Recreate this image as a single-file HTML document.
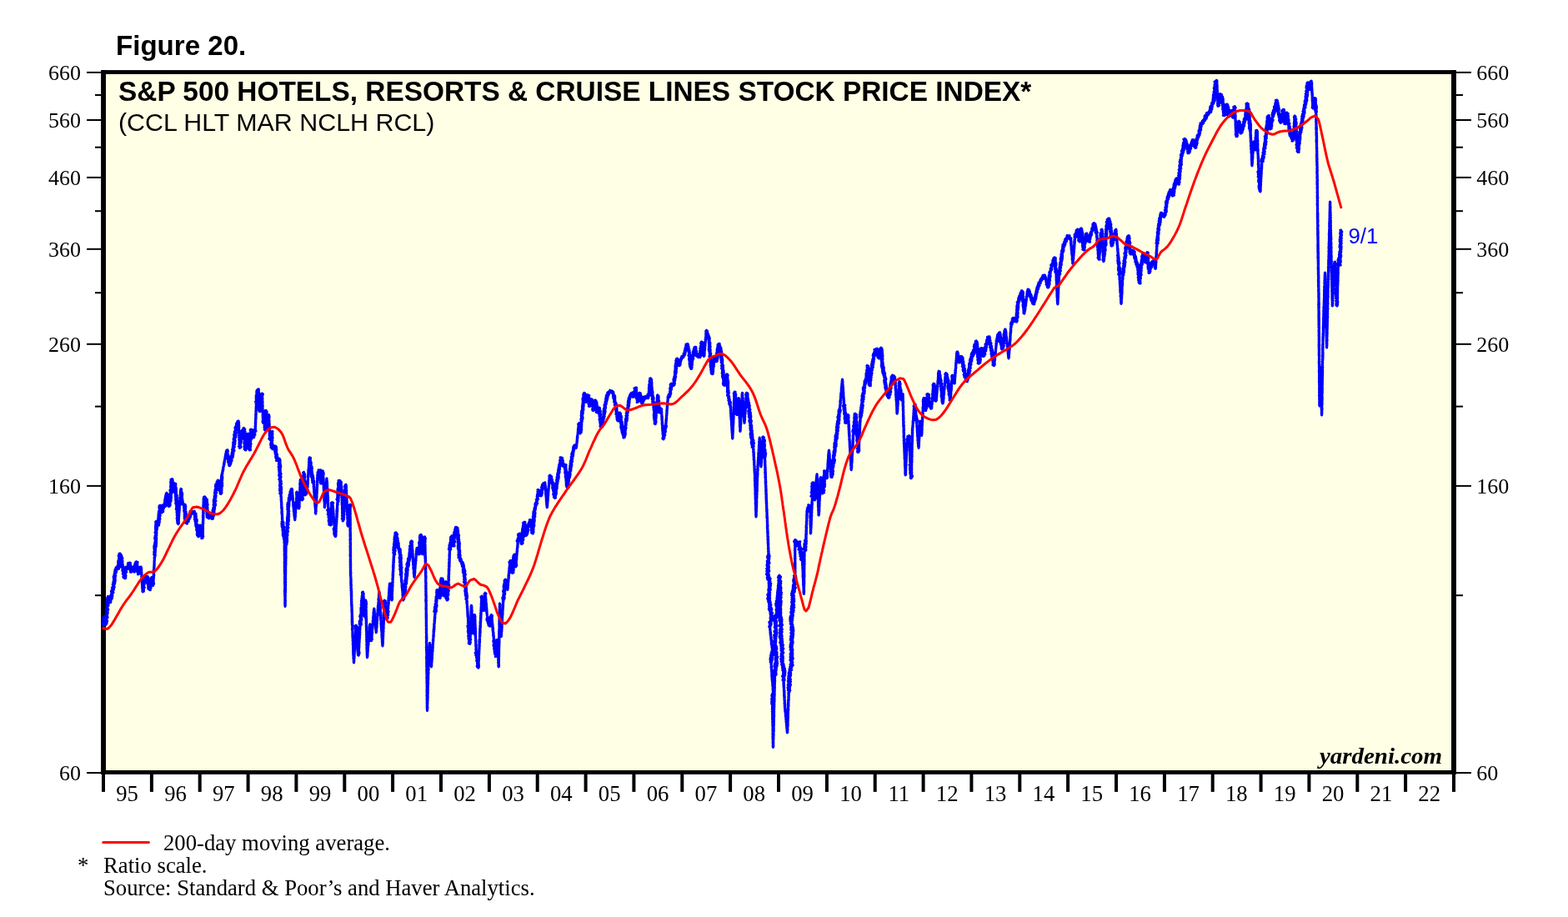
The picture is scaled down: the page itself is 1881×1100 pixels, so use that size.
<!DOCTYPE html>
<html><head><meta charset="utf-8"><title>Figure 20</title>
<style>
html,body{margin:0;padding:0;background:#fff;}
body{width:1881px;height:1100px;position:relative;overflow:hidden}
.ax{font-family:"Liberation Serif",serif;font-size:26px;fill:#000}
.ft{font-family:"Liberation Serif",serif;font-size:26.7px;fill:#000}
.hb{font-family:"Liberation Sans",sans-serif;font-weight:bold;fill:#000}
.hr{font-family:"Liberation Sans",sans-serif;fill:#000}
.yd{font-family:"Liberation Serif",serif;font-style:italic;font-weight:bold;font-size:27px;fill:#000}
</style></head><body>
<svg width="1881" height="1100" viewBox="0 0 1881 1100" style="position:absolute;left:0;top:0">
<rect x="0" y="0" width="1881" height="1100" fill="#ffffff"/>
<rect x="124.5" y="86.5" width="1620.0" height="840.5" fill="#ffffe6"/>
<rect x="121" y="84.1" width="1626" height="4.8" fill="#000"/>
<rect x="121" y="924" width="1626" height="4.9" fill="#000"/>
<rect x="121.1" y="84.1" width="5.9" height="844.8" fill="#000"/>
<rect x="1741" y="84.1" width="5.9" height="844.8" fill="#000"/>
<clipPath id="cp"><rect x="122" y="88" width="1620" height="837"/></clipPath>
<g clip-path="url(#cp)">
<polyline fill="none" stroke="#0000ff" stroke-width="3" stroke-linejoin="round" stroke-linecap="round" points="124.0,750.0 123.4,749.0 125.3,748.6 123.4,747.2 125.0,747.4 124.0,745.6 125.2,745.4 123.9,743.7 125.4,744.0 123.9,742.0 126.0,742.6 123.9,741.1 126.5,741.0 124.8,739.6 125.5,739.0 124.8,740.5 126.3,740.0 124.7,741.8 126.7,742.0 125.3,743.2 127.0,743.3 125.2,745.1 126.9,745.0 125.0,746.8 126.9,746.3 125.3,748.5 127.5,748.1 125.1,749.4 126.5,750.0 125.8,748.5 127.4,749.0 126.4,747.1 128.1,747.7 125.9,745.8 128.3,746.2 126.4,744.2 128.7,745.0 126.7,742.5 128.3,743.2 126.8,740.7 128.0,741.0 129.2,740.5 127.3,738.9 128.6,739.1 127.6,737.8 128.7,737.9 127.7,736.2 129.1,736.4 127.8,734.5 129.4,734.9 127.2,732.5 129.2,733.0 127.7,731.0 129.9,731.3 128.0,730.1 129.3,730.0 127.7,728.5 128.8,728.0 129.3,727.6 128.0,725.9 130.2,726.3 128.0,724.3 130.0,724.2 127.7,722.6 130.3,723.3 128.3,721.4 129.7,721.5 128.6,720.1 129.9,719.6 128.5,718.5 129.8,718.0 128.8,716.7 129.9,717.1 129.4,715.5 130.6,715.8 129.1,717.5 130.8,717.4 129.1,719.7 131.3,718.6 130.1,720.2 131.6,720.3 129.9,722.0 131.8,721.3 131.5,723.0 132.6,722.7 131.0,721.3 133.0,721.9 131.1,719.2 133.2,719.9 132.1,717.8 133.8,718.8 132.4,716.8 134.5,717.6 132.4,714.7 133.8,715.0 135.1,715.1 133.4,712.9 135.0,712.8 133.9,711.5 135.2,711.8 133.4,709.7 136.1,710.6 133.7,708.2 135.8,708.3 134.7,706.9 136.5,707.4 134.4,705.0 136.8,705.7 135.4,703.4 137.3,704.2 136.2,702.5 135.2,701.2 137.1,701.7 135.7,699.5 137.9,700.0 135.9,697.8 137.9,698.3 136.3,697.1 138.2,697.3 136.4,695.0 138.5,695.7 136.4,693.7 137.9,693.6 136.1,692.0 138.4,692.9 136.7,690.4 138.8,690.8 137.0,689.4 138.5,689.6 137.2,687.8 138.0,687.5 138.8,687.7 137.6,685.4 139.6,686.3 138.0,683.5 139.9,684.4 138.3,682.7 140.2,682.6 139.1,680.7 140.4,681.3 140.0,680.0 141.4,679.5 140.4,682.2 142.3,680.6 142.0,682.5 142.6,682.3 141.4,680.7 143.4,680.8 141.3,678.8 143.6,679.2 141.4,677.5 143.4,677.9 141.7,676.0 143.5,676.6 141.6,674.2 144.1,674.6 141.9,672.6 144.1,673.0 142.4,671.6 143.6,671.5 142.6,669.9 144.4,670.6 142.7,668.3 144.4,668.5 142.1,666.6 144.1,667.6 142.7,665.5 145.0,666.1 143.1,664.1 143.8,663.8 143.1,665.1 144.9,664.8 143.4,666.4 145.7,666.2 144.5,668.1 146.2,667.7 145.0,670.2 145.8,670.0 147.0,669.8 145.4,671.9 146.6,671.6 145.5,673.3 147.1,673.0 145.2,675.1 147.1,674.6 145.7,677.0 147.3,676.9 145.8,678.3 147.5,677.7 146.0,680.2 147.7,679.4 146.8,681.7 148.3,681.3 147.5,682.5 146.7,684.2 148.5,683.8 147.0,685.1 148.6,685.3 147.7,686.5 149.0,686.6 147.3,688.2 149.5,688.2 147.9,689.4 149.5,689.9 147.9,691.4 149.7,691.0 148.0,692.6 150.5,692.4 149.5,693.8 150.5,693.8 148.9,691.7 150.9,692.4 149.1,689.9 151.1,690.6 149.3,688.8 150.7,688.6 149.7,686.9 151.1,687.1 149.9,685.3 151.8,686.1 149.9,684.3 151.5,684.3 150.3,682.6 151.7,683.2 149.7,680.9 151.8,681.7 151.2,680.0 152.3,679.9 151.9,681.9 153.4,680.9 153.2,682.5 154.1,682.3 153.1,680.7 154.3,680.7 153.5,679.4 154.9,679.1 153.3,677.3 155.6,678.1 153.6,675.5 155.6,676.2 155.0,675.0 156.5,675.3 154.2,677.3 156.0,676.4 154.4,678.8 156.9,677.8 155.4,680.1 157.1,679.3 155.2,682.0 157.5,680.8 155.6,683.3 157.5,683.1 156.4,684.4 157.7,683.9 156.4,686.2 157.5,686.2 156.8,684.6 158.9,685.0 157.1,682.9 159.4,683.9 157.7,682.0 160.1,682.1 158.7,680.4 159.5,680.0 158.6,681.3 161.0,680.4 159.3,682.9 161.2,682.3 159.5,684.7 161.8,684.3 160.4,685.8 161.2,686.2 160.3,685.0 162.5,684.9 161.2,683.6 162.9,683.9 161.0,681.9 163.1,682.1 161.5,680.5 163.7,680.4 161.3,678.2 163.3,678.9 161.8,676.6 164.0,677.3 162.6,675.2 164.1,675.9 163.0,674.0 163.8,673.8 162.6,674.8 165.2,674.6 162.9,676.8 164.9,675.9 163.5,677.7 165.0,677.8 163.8,679.4 165.3,679.4 164.1,681.3 165.5,680.5 163.9,682.3 166.5,681.9 164.1,684.0 166.3,683.8 164.3,685.7 166.5,685.3 165.2,686.7 166.6,686.4 165.4,688.9 166.2,688.8 165.8,687.6 167.6,687.8 166.2,685.5 168.4,686.9 166.5,684.0 169.0,685.3 166.9,683.2 169.3,683.7 167.4,681.3 169.4,681.7 167.8,680.2 169.2,680.0 169.0,680.9 169.6,681.3 169.0,682.3 169.8,682.9 169.2,683.9 169.7,684.4 169.4,685.5 169.9,685.9 169.3,687.0 170.0,687.4 169.6,688.3 170.1,689.0 169.7,689.8 170.2,690.3 169.7,691.4 170.3,691.9 169.9,692.9 170.3,693.4 169.8,694.3 170.5,694.8 169.9,695.8 170.6,696.4 170.2,697.4 170.8,697.8 170.1,698.8 170.7,699.3 170.2,700.4 170.9,701.0 170.5,702.0 171.1,702.3 170.4,703.3 171.0,704.0 170.6,704.9 171.3,705.3 170.7,706.5 171.3,706.8 171.0,708.0 171.4,708.3 170.9,709.3 171.2,710.0 170.8,709.0 172.5,709.2 171.0,707.6 172.6,707.6 170.9,706.0 172.8,705.6 171.2,704.3 173.4,704.7 170.9,702.7 172.9,702.8 171.0,701.0 173.2,701.1 171.6,699.6 173.5,699.8 171.7,697.8 173.5,698.1 172.2,696.8 174.1,696.8 172.0,695.0 173.2,695.0 174.5,695.1 173.2,692.7 175.7,694.1 174.7,691.4 176.3,693.1 176.2,691.2 177.3,691.7 175.9,693.2 177.7,692.5 176.2,694.7 177.6,694.0 176.5,695.8 177.8,696.0 176.2,698.2 178.7,696.8 176.5,699.2 178.5,698.5 176.9,700.4 179.2,700.3 177.5,702.0 179.1,702.2 177.9,703.5 180.1,703.4 177.6,705.0 179.8,704.4 178.0,706.6 179.9,706.3 179.5,707.5 180.4,707.7 179.1,705.6 181.1,705.5 179.1,703.7 181.2,704.0 179.7,702.9 181.6,702.7 179.3,700.6 181.3,701.1 179.3,699.3 181.4,700.0 180.1,698.2 181.4,698.5 179.8,696.3 182.5,696.5 180.6,695.0 182.7,695.8 180.7,693.7 182.5,693.8 181.8,692.5 183.2,692.9 180.9,694.9 183.4,693.9 181.4,696.1 183.3,695.9 181.5,697.4 183.5,697.1 182.3,698.8 183.6,698.9 182.5,701.2 184.7,699.9 182.9,701.9 183.8,702.5 183.6,701.6 184.2,701.1 183.7,700.1 184.2,699.6 183.6,698.5 184.3,698.0 183.7,697.1 184.3,696.5 183.8,695.6 184.3,695.0 184.0,693.9 184.5,693.5 184.0,692.3 184.6,691.9 184.0,690.9 184.8,690.4 184.1,689.3 184.8,689.1 184.3,688.0 184.7,687.3 184.2,686.4 185.0,685.9 184.3,684.9 184.9,684.4 184.3,683.4 185.0,682.9 184.6,681.9 185.0,681.3 184.6,680.3 185.2,679.7 184.8,678.8 185.3,678.2 184.8,677.3 185.4,676.8 184.9,675.8 185.4,675.3 184.9,674.3 185.4,673.8 185.0,672.7 185.5,672.3 185.1,671.2 185.6,670.7 185.0,669.5 185.7,669.1 185.1,668.2 185.5,667.5 186.0,667.5 184.7,665.2 186.5,666.0 184.8,664.3 186.2,664.2 184.7,662.1 186.4,662.8 185.1,661.0 186.5,661.0 185.0,659.1 186.6,659.6 184.9,657.5 186.7,657.8 184.8,656.0 187.1,656.2 184.9,655.0 187.5,655.2 185.1,653.7 187.5,653.4 185.6,651.6 187.7,651.8 185.8,650.5 187.5,650.5 186.0,649.1 187.8,649.4 186.2,647.3 187.9,647.1 185.6,646.1 187.8,646.1 185.8,644.5 187.8,644.6 186.1,642.6 187.0,642.5 187.9,642.2 186.6,640.4 188.0,640.5 186.0,638.7 188.1,638.9 186.4,637.8 187.9,637.6 186.8,636.0 188.3,635.7 186.4,634.8 188.6,634.9 186.6,633.3 188.5,633.0 186.3,631.7 188.9,632.0 186.6,629.6 188.4,630.4 186.9,627.9 189.1,628.3 186.7,626.4 188.4,626.9 186.8,625.6 188.0,625.0 187.1,626.4 189.7,625.9 188.0,628.3 189.8,627.4 188.6,629.2 190.2,628.9 190.0,630.0 190.7,630.1 189.1,627.6 190.8,628.4 189.7,626.4 191.4,626.6 189.1,624.8 191.4,625.5 189.9,623.0 191.6,623.5 189.5,622.0 192.1,622.2 190.0,620.1 191.7,620.3 189.8,619.1 192.2,618.8 190.0,616.8 192.1,617.6 190.4,616.1 191.7,615.6 190.3,614.2 192.3,614.8 190.8,612.9 192.5,612.5 191.1,611.3 192.2,611.2 191.0,609.5 192.7,609.6 190.8,608.1 192.5,608.6 191.2,606.8 192.0,606.2 191.6,607.7 193.6,606.7 191.8,608.9 193.2,608.5 192.0,610.4 194.1,610.0 192.0,612.3 194.2,611.1 193.2,613.4 194.7,613.1 193.6,615.1 194.2,615.0 193.9,613.7 195.8,613.8 194.1,612.0 195.8,612.6 193.8,610.8 195.9,610.8 194.8,608.8 196.6,609.7 195.2,607.3 196.9,607.9 194.8,605.9 196.8,606.0 196.2,605.0 197.2,605.2 196.5,607.3 198.5,605.5 198.0,607.5 199.2,607.1 197.2,605.5 199.4,605.8 197.7,603.8 199.8,604.0 197.3,602.7 199.4,602.4 197.6,600.4 200.0,601.0 197.7,599.3 199.7,599.8 198.1,597.5 200.3,598.4 198.4,595.8 200.5,596.8 198.7,594.4 200.6,594.7 199.1,593.0 200.4,593.6 199.3,591.9 200.0,591.2 199.6,592.9 201.0,592.6 199.9,593.7 201.6,593.6 199.5,595.9 201.2,595.3 200.0,597.5 202.1,596.5 200.5,599.0 202.5,598.0 200.7,600.0 202.0,600.4 200.3,602.2 202.7,601.2 200.8,603.3 202.5,603.5 200.9,604.8 202.9,604.7 201.8,606.2 203.1,606.0 202.5,607.5 203.4,607.2 201.5,605.3 204.2,606.0 202.6,604.0 204.1,604.5 202.7,602.1 204.5,602.5 202.5,601.0 205.1,601.0 203.6,599.5 205.3,600.1 203.9,597.8 204.5,597.5 205.5,597.5 204.0,595.5 205.5,596.0 204.0,593.6 205.5,593.9 203.8,592.4 205.5,592.7 204.4,590.7 206.1,591.4 204.1,589.5 206.0,589.5 203.9,588.1 206.5,587.7 204.7,586.5 206.6,586.5 204.6,584.4 206.2,584.9 204.6,583.0 206.7,583.6 204.9,581.8 206.3,582.2 204.7,579.9 206.5,580.3 204.7,578.5 206.5,578.8 204.8,577.3 206.7,577.1 205.0,575.2 206.8,575.4 206.2,574.5 207.0,574.9 205.5,576.3 207.3,576.6 205.3,578.4 207.2,577.5 206.2,579.5 208.2,579.1 205.8,581.2 207.7,580.9 206.6,582.5 208.0,582.9 206.5,584.6 208.5,584.0 206.4,585.9 208.2,585.5 206.8,587.6 209.0,587.2 206.8,589.2 208.8,588.9 208.0,590.0 209.2,590.2 207.2,587.6 209.7,588.5 207.6,586.3 209.5,586.8 208.4,584.9 210.2,585.5 208.2,583.4 210.2,583.6 208.5,581.8 210.7,582.5 209.2,580.1 210.0,580.0 208.9,581.2 211.0,580.6 209.7,582.8 210.9,582.3 209.0,584.3 210.9,584.0 209.5,586.0 211.4,585.4 209.3,587.4 211.4,586.7 210.0,589.0 211.5,588.4 210.2,590.7 211.6,590.5 210.2,591.8 211.5,591.7 210.2,593.5 211.9,593.3 210.5,595.1 212.5,594.6 210.6,596.6 212.2,596.4 210.8,598.1 212.6,597.5 210.6,599.5 212.2,598.8 210.9,601.1 212.9,600.4 210.9,602.3 212.8,602.5 210.7,603.9 213.2,603.9 212.0,605.0 211.3,606.0 213.0,606.3 211.7,607.9 212.9,607.8 211.5,609.3 213.2,609.0 211.3,610.7 213.7,610.3 212.0,612.6 213.8,611.9 212.0,614.2 213.7,614.1 212.2,615.8 213.8,615.4 212.3,616.7 213.6,616.5 212.2,618.2 214.3,618.0 212.4,620.4 214.1,619.6 212.1,621.9 214.4,621.1 212.6,623.3 214.3,622.7 212.5,625.0 214.4,624.6 212.8,625.9 214.5,626.3 212.8,627.4 214.6,627.5 213.8,628.8 214.1,628.2 213.7,627.0 214.2,626.6 213.7,625.5 214.3,625.1 213.7,624.1 214.5,623.6 214.1,622.5 214.6,622.2 214.1,620.9 214.7,620.5 214.1,619.6 214.8,619.1 214.3,617.9 214.9,617.5 214.4,616.4 214.9,616.0 214.5,614.9 215.2,614.4 214.6,613.4 215.2,612.9 214.8,611.8 215.4,611.5 214.9,610.4 215.4,609.9 215.0,608.8 215.5,608.5 215.0,607.3 215.6,606.8 215.3,605.9 215.9,605.4 215.3,604.2 216.0,603.9 215.4,602.8 216.1,602.4 215.5,601.4 216.2,600.8 215.6,599.9 216.2,599.2 215.7,598.1 216.4,597.7 215.8,596.7 216.5,596.2 216.1,595.2 216.6,594.7 216.1,593.6 216.6,593.2 216.4,592.3 216.9,591.7 216.3,590.7 216.9,590.2 216.5,589.0 217.2,588.7 216.6,587.7 217.2,587.1 217.0,586.2 217.7,586.9 216.7,588.4 217.8,587.6 216.7,590.0 217.9,589.9 216.3,591.1 218.6,591.2 217.0,593.0 218.7,592.2 216.6,593.9 218.8,593.8 217.0,596.1 218.6,595.1 216.9,596.9 218.5,596.9 216.9,598.4 218.9,598.3 217.6,600.5 219.2,600.4 217.6,601.8 219.3,601.3 217.9,603.5 219.4,602.9 217.7,604.7 218.8,605.0 219.6,603.5 220.4,607.0 221.2,605.0 222.3,605.4 220.8,607.4 222.5,606.5 220.7,608.6 222.9,607.9 220.6,609.8 222.5,609.4 220.9,611.6 222.8,610.9 220.6,612.8 222.4,613.0 221.1,614.6 223.2,613.9 221.6,616.2 223.3,615.4 221.2,617.3 223.5,617.0 221.2,619.4 223.1,619.1 221.5,620.8 223.1,620.1 221.2,621.8 223.6,621.6 221.8,623.2 223.4,623.1 221.6,625.0 223.4,624.5 221.7,626.3 223.9,625.9 223.0,627.5 224.5,628.1 223.4,625.2 225.1,626.2 224.7,624.0 226.3,625.4 226.2,623.8 225.7,622.3 227.3,622.5 225.7,620.9 227.7,621.6 226.3,619.7 228.6,620.1 227.0,618.4 228.6,619.0 227.2,616.5 229.5,617.1 227.7,615.2 230.3,616.2 228.1,613.3 229.5,613.8 230.2,614.7 231.4,613.5 231.9,615.1 233.2,613.1 233.8,615.0 233.0,616.7 235.2,616.3 233.1,617.8 234.8,617.2 233.6,619.5 235.4,618.7 233.5,621.0 235.5,621.0 233.4,623.1 235.5,622.7 234.3,624.0 236.3,623.4 234.0,625.4 236.4,625.2 234.4,627.7 235.5,627.5 236.1,628.1 234.6,630.0 236.9,629.4 235.0,631.4 236.7,631.0 235.5,632.4 237.2,632.6 235.8,633.9 237.6,634.3 235.6,635.6 237.3,635.1 236.3,637.7 238.3,636.6 236.6,638.8 237.8,638.2 236.2,640.6 238.4,640.2 236.5,642.0 238.8,641.9 237.2,643.1 238.0,643.8 237.0,642.3 238.9,643.1 237.7,641.0 239.2,641.0 237.5,639.4 239.4,639.7 238.2,637.5 239.7,638.6 238.7,636.0 240.4,636.5 238.6,634.9 240.4,634.9 239.0,632.8 241.3,634.1 239.5,631.9 241.5,631.8 239.3,630.3 240.5,630.0 239.3,631.0 241.9,631.1 240.3,632.4 242.2,632.5 240.5,634.3 242.5,634.3 240.4,635.7 242.1,635.4 240.5,637.3 242.3,637.6 240.9,639.1 242.7,639.0 241.1,640.8 243.4,640.2 241.7,641.8 243.6,641.9 241.5,643.4 243.9,643.5 241.7,645.7 243.0,645.5 242.8,644.7 243.4,644.1 242.7,643.1 243.3,642.7 242.9,641.7 243.4,641.1 243.0,640.1 243.4,639.6 243.0,638.5 243.6,638.2 243.0,637.0 243.5,636.6 243.1,635.4 243.7,635.0 243.1,634.0 243.6,633.4 243.0,632.6 243.6,631.9 243.2,630.9 243.6,630.4 243.2,629.5 243.7,629.0 243.2,627.9 243.9,627.4 243.2,626.4 243.8,625.8 243.4,624.9 243.9,624.3 243.4,623.5 244.0,623.0 243.5,621.9 244.1,621.3 243.4,620.3 244.0,619.9 243.4,618.8 244.1,618.5 243.5,617.4 244.1,616.8 243.6,615.7 244.3,615.4 243.6,614.2 244.1,613.8 243.6,612.7 244.2,612.3 243.7,611.3 244.3,610.7 243.8,609.8 244.3,609.2 243.7,608.2 244.5,607.8 243.8,606.6 244.6,606.1 243.9,605.3 244.6,604.7 244.0,603.6 244.6,603.1 244.0,602.2 244.7,601.6 244.1,600.6 244.6,600.2 244.0,599.1 244.6,598.6 244.2,597.7 244.6,597.0 244.5,596.2 245.6,595.8 245.2,598.0 246.7,596.9 246.1,599.7 247.5,598.8 248.5,598.9 247.0,600.9 248.6,600.5 246.8,602.2 248.6,602.2 247.2,603.7 248.8,603.4 247.5,605.1 249.3,605.2 247.2,606.8 249.0,606.1 247.6,608.5 249.0,608.4 247.2,609.7 249.0,609.6 247.7,611.5 249.2,611.3 247.4,613.0 249.4,612.7 248.0,614.4 249.9,613.7 247.8,615.8 250.2,615.3 248.0,617.3 250.3,616.8 248.0,618.5 250.5,618.9 248.2,620.4 250.3,619.6 249.5,621.2 250.7,621.9 250.0,618.6 251.9,620.9 251.3,618.2 252.5,618.8 251.9,620.3 254.0,619.4 253.0,621.7 255.1,620.5 254.5,622.5 255.5,622.3 254.1,620.6 255.5,620.8 254.0,619.3 256.4,619.2 254.0,617.1 256.7,617.6 254.7,615.6 256.1,615.9 254.8,614.4 257.1,615.1 255.1,612.5 257.0,613.3 255.2,611.5 257.2,611.9 255.7,609.6 257.7,610.4 256.2,608.6 257.7,608.9 257.0,607.5 256.1,605.9 258.5,606.5 256.4,604.6 258.7,604.9 256.4,602.9 258.1,603.3 256.2,601.4 258.5,601.6 256.4,600.0 259.0,600.9 256.6,598.7 258.5,598.7 257.1,597.1 258.7,597.1 257.1,595.5 259.0,596.3 257.3,594.5 259.2,594.6 257.7,592.4 259.0,592.7 257.4,591.0 259.7,591.1 257.8,589.5 259.5,589.9 258.0,587.6 259.9,588.3 258.5,586.9 260.3,586.5 258.6,585.3 260.2,585.6 258.3,583.2 260.0,583.3 259.5,582.5 258.7,581.0 261.2,581.6 259.9,579.7 261.3,580.4 260.1,577.9 262.2,578.5 261.2,576.1 262.0,576.2 261.2,578.0 263.1,577.0 261.7,578.6 263.8,578.2 261.9,580.8 264.0,580.2 262.0,582.4 264.0,581.2 262.5,583.4 264.5,583.2 262.8,585.3 264.5,584.3 263.1,586.1 264.7,586.3 262.7,587.8 265.1,587.8 263.4,589.3 265.3,589.3 264.0,591.1 265.5,590.7 264.2,592.1 265.0,592.5 264.4,591.7 266.1,591.3 264.5,589.6 265.7,589.8 264.0,588.6 266.1,588.8 264.1,587.0 266.1,587.2 264.6,584.9 266.1,585.8 264.5,584.0 266.4,583.7 264.4,582.5 266.9,582.6 264.8,581.0 266.7,580.7 264.5,579.6 266.7,579.5 265.1,577.6 266.6,578.1 264.9,576.4 266.7,576.1 265.3,574.5 266.8,575.1 265.5,573.2 266.9,573.5 265.4,572.2 266.9,571.7 265.6,570.1 266.2,570.0 266.6,569.4 266.2,568.2 267.0,568.0 266.6,566.9 267.1,566.4 266.8,565.4 267.5,565.0 267.1,563.9 267.9,563.4 267.4,562.4 268.0,562.0 267.6,560.8 268.2,560.3 268.0,559.4 268.6,558.9 268.4,557.9 268.9,557.4 268.4,556.3 269.2,555.9 268.8,554.8 269.4,554.3 269.0,553.2 269.7,552.8 269.3,551.8 269.9,551.3 269.7,550.3 270.2,550.0 269.9,548.9 270.6,548.4 270.1,547.2 270.8,546.8 270.4,545.8 271.3,545.5 270.7,544.2 271.5,543.9 271.2,542.8 271.7,542.4 271.2,541.4 272.1,540.8 271.9,540.0 273.1,539.8 271.5,542.1 273.6,541.4 271.5,543.4 273.1,543.3 272.0,544.8 273.7,545.0 272.0,546.8 273.9,546.4 272.5,548.1 274.8,547.7 272.9,549.9 274.4,549.2 273.2,551.3 275.1,550.4 273.7,552.7 275.4,552.2 273.4,554.4 275.3,553.9 274.1,555.3 275.5,555.4 274.5,557.2 276.2,557.0 274.7,558.5 275.6,558.8 275.0,557.7 276.5,557.4 274.8,555.6 276.8,556.5 275.1,554.3 277.2,554.8 275.9,553.2 277.9,553.0 275.8,551.3 278.3,552.4 276.4,550.2 278.2,550.1 277.2,548.4 279.1,548.9 277.4,547.0 279.4,547.9 277.8,545.4 279.7,546.3 278.0,544.4 280.0,544.5 278.2,542.6 280.0,543.3 278.7,541.5 280.5,541.7 278.5,539.4 281.1,540.6 280.0,538.8 279.2,537.5 280.8,537.5 279.3,536.3 281.4,536.0 279.6,534.0 281.1,534.3 279.7,533.1 281.8,532.8 279.6,531.0 282.0,531.6 280.2,529.7 282.0,530.0 280.4,528.4 282.3,528.9 280.0,527.0 282.1,527.0 280.5,525.4 282.2,525.1 280.9,523.8 283.1,524.4 280.6,521.7 283.2,522.6 280.8,521.0 283.2,521.1 281.4,519.1 283.6,519.4 281.3,517.8 283.2,518.2 282.0,516.4 283.7,516.3 282.1,514.4 283.6,514.9 282.0,513.0 283.9,513.2 282.5,511.8 283.1,511.2 284.6,511.6 283.3,508.9 284.8,509.6 283.7,507.8 285.7,508.7 284.6,506.3 286.1,507.1 285.0,505.2 286.2,505.0 286.0,505.8 286.6,506.3 286.1,507.5 286.7,508.0 286.0,509.0 286.6,509.3 286.2,510.3 286.9,510.9 286.2,511.8 286.9,512.5 286.4,513.4 286.7,513.9 286.4,514.9 287.0,515.5 286.3,516.5 287.1,516.9 286.4,518.1 287.0,518.4 286.6,519.6 287.1,519.9 286.7,521.0 287.2,521.4 286.6,522.4 287.2,523.1 286.7,524.1 287.2,524.4 286.7,525.5 287.3,526.0 286.7,527.1 287.3,527.7 287.0,528.6 287.4,529.0 287.0,530.1 287.5,530.7 286.9,531.6 287.6,532.0 286.9,533.0 287.6,533.7 287.1,534.7 287.8,535.2 287.3,536.2 287.8,536.6 287.5,537.5 288.5,537.0 286.5,535.5 289.1,535.9 287.4,534.1 288.7,534.5 287.2,532.8 288.9,532.6 287.5,530.8 289.3,531.1 288.1,529.3 289.5,529.3 287.9,527.4 289.4,527.8 288.0,526.5 289.8,526.6 288.5,524.7 290.3,525.5 288.1,523.6 290.5,523.8 288.4,521.4 290.8,522.2 289.1,520.4 290.0,520.0 291.4,520.6 289.5,517.4 291.7,518.9 290.4,516.3 292.7,517.3 291.2,515.1 292.9,515.7 292.1,513.3 293.1,513.8 292.3,514.9 293.9,515.0 292.4,516.2 293.7,516.0 292.4,517.9 294.3,517.9 292.8,519.1 294.2,519.5 292.3,521.0 294.8,520.9 292.2,522.6 294.1,522.6 292.6,524.4 294.4,523.6 292.8,525.8 294.2,525.3 292.5,526.8 294.5,527.2 293.2,528.3 294.9,528.5 293.0,529.7 294.9,529.5 292.9,531.2 295.1,530.9 293.0,532.6 295.2,532.4 293.3,534.2 294.8,534.3 292.9,536.1 295.5,536.0 293.5,537.7 295.3,537.4 293.2,538.8 294.9,538.9 294.4,540.0 295.0,539.8 293.9,537.9 295.7,538.1 294.0,536.8 296.3,536.8 293.8,535.1 296.2,535.4 294.6,533.6 296.1,533.3 294.4,532.1 296.9,532.1 294.9,530.1 296.9,530.7 295.1,528.8 297.3,528.9 295.2,526.9 297.6,527.4 295.4,525.1 297.5,525.8 295.9,523.7 297.5,523.9 296.1,522.4 298.3,522.8 295.9,521.1 298.5,521.0 297.5,520.0 298.1,520.6 297.1,522.0 298.7,522.1 296.5,523.5 298.5,523.6 296.8,525.5 298.6,525.3 296.9,526.5 299.5,526.4 297.2,528.1 299.5,528.0 297.6,530.1 299.0,529.3 298.0,531.4 299.4,530.7 298.1,532.8 299.6,532.2 297.5,534.5 299.5,534.3 298.2,535.8 299.7,535.9 297.9,537.6 299.9,536.8 298.6,539.0 299.9,538.4 299.4,540.0 300.7,539.6 298.4,537.7 300.3,538.1 298.7,536.1 300.3,536.8 298.7,535.0 300.8,535.5 299.2,533.1 300.7,533.9 298.7,532.2 301.2,532.6 299.3,530.8 300.7,531.0 299.7,528.6 300.8,529.3 299.7,527.7 301.4,527.3 299.6,525.5 301.6,526.4 299.2,524.7 301.2,524.8 299.5,523.2 301.6,522.8 299.9,521.7 301.3,521.9 300.1,519.5 301.5,520.0 300.4,518.4 301.7,518.7 300.5,516.6 302.1,516.7 300.4,515.3 301.2,515.0 300.2,516.4 302.3,515.6 300.6,518.2 302.7,517.8 301.5,519.1 302.9,519.1 301.8,521.1 303.6,521.0 301.9,522.7 304.1,522.0 302.3,524.6 304.8,523.3 303.8,525.0 304.7,524.7 303.3,522.4 305.1,523.2 303.7,521.6 306.0,521.5 303.9,519.4 305.8,520.3 304.5,518.4 306.1,518.3 304.5,516.3 307.1,516.9 305.0,515.2 306.2,515.0 306.6,514.4 306.1,513.2 306.5,512.9 306.0,511.8 306.7,511.4 306.2,510.3 306.8,509.8 306.2,508.8 306.8,508.3 306.2,507.3 306.9,506.8 306.4,505.7 306.9,505.3 306.4,504.1 307.0,503.7 306.5,502.8 307.1,502.2 306.5,501.1 307.2,500.6 306.7,499.5 307.1,499.2 306.6,498.0 307.3,497.5 306.7,496.5 307.4,496.0 306.9,495.1 307.2,494.5 306.8,493.5 307.4,492.9 306.9,491.9 307.5,491.5 307.0,490.4 307.6,489.9 307.0,489.0 307.6,488.4 307.1,487.5 307.6,486.8 307.2,485.9 307.6,485.3 307.1,484.4 307.5,483.8 308.3,483.3 306.5,482.0 308.8,482.3 307.2,480.2 309.1,480.6 307.2,479.0 309.0,478.8 307.1,477.2 309.1,477.5 307.2,475.6 309.2,475.9 307.2,474.2 309.9,474.5 307.9,472.4 309.5,472.4 307.7,471.0 309.9,471.2 307.8,469.2 309.6,469.7 308.3,467.9 310.5,468.1 309.4,466.9 310.3,466.8 308.7,468.9 310.5,468.4 308.6,470.7 310.6,470.6 308.7,472.1 311.0,471.5 309.4,473.3 310.6,473.0 309.5,474.7 311.3,474.7 309.7,476.7 311.4,476.3 309.9,478.3 311.3,477.8 309.2,480.0 311.8,479.7 309.9,481.2 311.2,480.6 310.1,482.5 311.6,482.7 309.7,484.4 311.9,484.1 310.6,485.6 312.4,485.3 310.0,487.2 312.0,487.5 310.4,488.8 312.3,488.6 310.5,490.3 312.8,490.4 310.4,492.0 312.3,491.9 310.9,493.4 311.9,493.8 311.0,492.6 312.8,493.0 311.4,490.8 313.4,491.4 311.4,489.1 313.3,490.1 312.0,488.0 313.6,487.9 311.4,486.8 313.7,486.5 311.5,484.8 314.1,485.3 311.9,483.2 313.8,483.5 312.0,482.2 314.5,482.0 312.8,480.8 314.6,481.1 312.7,478.8 314.3,479.5 312.6,477.7 314.3,477.8 313.3,475.6 314.7,475.9 313.0,474.5 315.1,474.4 312.9,473.0 315.5,472.9 314.4,471.9 314.7,472.4 314.2,473.4 314.7,474.0 314.3,475.1 314.7,475.5 314.2,476.5 314.9,477.1 314.2,478.0 315.0,478.4 314.3,479.6 314.9,480.1 314.4,481.1 315.1,481.7 314.5,482.7 315.1,483.1 314.6,484.0 315.0,484.5 314.5,485.6 315.3,486.3 314.6,487.3 315.2,487.5 314.6,488.6 315.2,489.2 314.8,490.3 315.2,490.6 314.8,491.6 315.4,492.3 314.8,493.3 315.4,493.7 315.0,494.7 315.4,495.2 315.1,496.3 315.5,496.8 315.0,497.7 315.5,498.2 315.1,499.4 315.7,499.8 315.2,500.7 315.8,501.4 315.2,502.3 315.6,502.8 315.3,503.9 315.8,504.4 315.4,505.3 315.8,505.9 315.4,507.0 315.6,507.5 314.9,505.8 316.5,506.9 315.3,504.4 317.3,505.3 315.9,502.9 317.3,503.4 316.4,501.8 318.0,502.0 316.1,500.4 318.5,500.4 316.7,498.3 318.9,498.8 317.4,497.1 319.6,497.4 317.4,495.4 319.8,496.1 317.7,494.1 320.3,494.3 317.9,492.6 319.4,492.5 318.5,493.3 320.0,493.4 318.2,494.9 320.0,495.5 318.5,496.5 319.9,496.3 317.7,498.5 320.0,498.3 317.8,500.1 320.1,499.7 318.3,501.4 320.1,501.1 318.3,503.0 319.6,503.1 317.4,504.5 319.9,504.7 317.5,506.3 319.9,505.7 317.4,507.7 319.6,507.5 317.3,509.2 319.7,509.2 317.1,510.5 319.7,510.9 317.0,512.3 319.0,511.7 317.6,513.3 319.1,513.8 317.3,515.4 319.2,514.9 318.1,516.2 319.1,516.4 317.3,513.9 319.9,515.0 318.0,513.0 320.0,513.5 318.4,511.1 320.5,512.0 319.1,509.7 320.2,509.7 318.7,508.1 321.0,508.6 319.5,506.9 321.2,507.4 319.6,505.3 321.3,505.4 319.9,503.6 322.1,504.4 320.7,502.0 321.9,502.8 321.0,500.9 323.1,501.1 321.3,498.8 323.1,500.0 321.5,497.6 322.5,497.5 322.1,498.4 323.0,498.9 322.2,499.8 322.9,500.5 322.5,501.5 322.9,501.8 322.5,502.8 322.9,503.4 322.4,504.4 323.1,504.8 322.5,505.9 323.0,506.3 322.7,507.5 323.2,507.8 322.7,508.9 323.3,509.3 322.7,510.4 323.3,510.7 322.9,512.0 323.4,512.3 322.9,513.4 323.6,513.8 322.9,514.8 323.5,515.5 322.9,516.5 323.5,516.8 323.1,517.8 323.6,518.3 323.1,519.3 323.8,519.9 323.2,520.9 323.9,521.3 323.2,522.4 323.8,522.7 323.3,523.9 323.8,524.5 323.4,525.5 324.0,525.9 323.5,526.9 323.8,527.5 322.7,526.3 325.2,526.4 323.6,525.0 325.2,524.9 323.4,522.5 325.5,523.3 323.8,521.6 326.0,521.9 324.9,520.2 326.5,520.3 324.6,518.5 326.7,519.2 326.2,517.5 327.1,517.6 325.2,519.7 326.9,519.7 325.0,520.9 327.1,520.8 325.0,522.3 326.9,522.1 325.1,523.9 327.1,524.2 324.9,525.2 327.2,525.5 325.2,527.5 326.6,527.3 325.4,528.7 327.0,528.5 325.0,530.5 326.4,530.3 324.8,532.1 326.8,531.6 324.6,533.2 327.1,533.1 324.9,534.7 326.9,534.9 325.0,536.7 326.6,536.3 325.6,537.5 326.9,538.8 326.8,535.9 328.1,537.1 328.1,534.3 329.8,536.8 330.0,535.0 330.9,535.2 329.5,537.3 331.5,536.4 329.8,538.7 331.7,538.2 329.4,540.5 331.9,539.5 329.8,542.0 331.6,541.2 330.0,543.3 331.9,543.2 330.3,545.0 332.1,544.6 330.9,545.8 332.7,545.4 330.6,547.6 332.9,547.7 330.8,549.1 332.5,548.9 331.6,550.5 332.8,550.5 331.4,552.6 332.5,552.5 332.8,550.8 334.2,551.8 333.6,549.6 335.0,550.0 334.3,551.3 335.7,550.8 334.4,553.0 336.3,552.5 334.7,554.4 335.7,554.0 334.4,555.3 336.3,555.3 334.3,557.1 336.3,557.0 334.7,559.0 336.8,558.3 334.1,560.1 336.8,560.4 334.6,561.4 336.4,561.4 334.5,563.2 336.4,563.3 334.8,564.5 336.4,564.3 334.8,566.2 336.4,565.9 335.2,567.5 336.8,567.4 334.6,569.4 337.2,568.7 334.9,570.9 336.5,570.8 335.5,572.5 337.2,571.9 335.4,573.6 336.8,573.4 334.8,575.1 336.7,575.3 336.2,576.2 335.5,577.8 337.5,577.4 335.8,578.7 337.0,578.7 335.5,581.0 337.7,580.2 335.6,582.4 337.1,582.3 335.6,583.7 337.3,583.7 336.1,585.6 337.8,584.7 335.4,586.7 337.9,586.7 335.6,588.6 337.4,588.6 336.2,589.9 337.7,590.1 335.7,591.7 337.8,591.6 337.0,592.5 336.7,593.4 337.2,593.9 336.8,595.0 337.4,595.3 337.0,596.4 337.6,596.9 337.1,597.9 337.5,598.5 337.1,599.5 337.7,599.9 337.2,600.8 337.8,601.5 337.3,602.4 337.9,602.9 337.4,604.0 338.0,604.5 337.5,605.6 338.0,606.1 337.6,607.1 338.0,607.5 337.5,608.6 338.2,608.9 337.8,609.9 338.4,610.4 337.9,611.4 338.3,611.9 337.9,613.1 338.5,613.5 337.8,614.5 338.4,615.2 337.9,616.0 338.7,616.5 338.2,617.7 338.6,618.1 338.3,619.2 338.8,619.5 338.4,620.7 338.8,621.0 338.3,622.1 338.9,622.5 338.5,623.5 339.0,624.2 338.8,625.0 338.0,625.8 340.0,626.4 337.8,628.1 340.0,627.8 338.1,629.0 340.1,629.3 338.0,630.9 340.2,630.8 338.4,632.6 340.8,632.3 338.9,633.6 340.9,633.7 338.8,635.7 341.1,635.4 339.5,636.4 341.2,636.4 339.2,638.2 341.1,637.9 339.3,640.1 341.5,639.2 339.2,641.6 341.7,641.4 339.6,643.1 341.6,642.2 340.2,644.6 341.8,643.8 340.3,645.6 341.9,645.6 340.6,647.2 341.2,647.5 341.7,648.1 340.9,649.2 341.6,649.5 340.9,650.6 341.5,651.2 341.1,652.1 341.7,652.5 341.1,653.7 341.7,654.1 341.0,655.2 341.5,655.6 341.1,656.7 341.6,657.2 341.0,658.1 341.6,658.7 341.1,659.8 341.6,660.1 341.1,661.3 341.5,661.8 341.2,662.8 341.5,663.3 341.1,664.4 341.6,664.7 341.1,665.8 341.8,666.2 341.2,667.2 341.6,667.7 341.3,668.7 341.8,669.2 341.2,670.3 341.8,670.7 341.3,671.7 341.6,672.4 341.3,673.2 341.7,673.8 341.1,674.8 341.7,675.2 341.3,676.2 341.7,676.8 341.2,677.8 341.9,678.4 341.2,679.3 341.9,679.9 341.2,680.8 341.9,681.3 341.3,682.3 341.7,682.9 341.2,683.8 341.9,684.3 341.3,685.3 341.8,686.0 341.2,686.8 341.9,687.4 341.4,688.3 341.8,688.8 341.5,690.0 341.9,690.3 341.5,691.5 341.9,691.9 341.4,692.8 341.9,693.3 341.5,694.4 342.0,695.0 341.5,695.9 341.9,696.5 341.4,697.4 342.1,698.0 341.4,699.0 341.9,699.6 341.5,700.4 342.0,700.9 341.6,701.9 342.0,702.5 341.6,703.5 342.0,704.1 341.6,705.0 342.2,705.5 341.6,706.4 342.1,707.0 341.4,708.1 342.2,708.6 341.4,709.5 342.0,710.1 341.5,711.0 342.0,711.6 341.5,712.5 342.2,713.1 341.6,714.0 342.1,714.5 341.7,715.5 342.3,716.1 341.7,716.9 342.2,717.6 341.8,718.6 342.3,719.1 341.7,720.1 342.2,720.5 341.8,721.7 342.3,722.0 341.6,723.1 342.3,723.7 341.8,724.6 342.4,725.2 341.8,726.0 342.2,726.7 342.0,727.5 342.2,726.9 341.7,725.8 342.3,725.4 341.9,724.2 342.3,723.8 341.8,722.7 342.3,722.5 341.8,721.4 342.5,720.8 341.7,719.8 342.3,719.4 341.9,718.3 342.4,717.9 342.0,716.8 342.3,716.4 342.0,715.3 342.4,714.8 341.9,713.7 342.4,713.2 342.0,712.2 342.4,711.7 342.0,710.7 342.6,710.1 342.0,709.3 342.6,708.7 342.0,707.6 342.6,707.3 341.9,706.3 342.7,705.7 342.2,704.6 342.5,704.1 342.1,703.3 342.7,702.8 342.1,701.7 342.7,701.3 342.1,700.2 342.6,699.6 342.1,698.7 342.8,698.3 342.0,697.2 342.6,696.8 342.1,695.7 342.8,695.1 342.3,694.2 342.7,693.7 342.3,692.6 342.8,692.1 342.2,691.0 342.7,690.6 342.2,689.6 342.8,689.0 342.2,688.0 342.8,687.6 342.2,686.7 342.8,686.2 342.2,685.1 342.9,684.5 342.3,683.5 342.8,683.0 342.4,682.1 342.8,681.5 342.4,680.6 342.8,680.1 342.3,679.0 342.9,678.6 342.4,677.6 343.0,676.9 342.4,676.1 343.0,675.6 342.4,674.4 343.0,674.0 342.4,672.9 343.0,672.6 342.6,671.5 343.1,671.0 342.4,669.9 343.1,669.4 342.7,668.5 343.2,667.9 342.7,667.1 343.0,666.5 342.7,665.5 343.1,665.0 342.5,664.1 343.1,663.5 342.5,662.5 343.1,661.9 342.7,660.9 343.2,660.4 342.8,659.5 343.1,658.8 342.7,657.8 343.2,657.5 342.6,656.4 343.3,655.8 343.0,655.0 341.8,653.7 343.6,653.7 342.1,652.3 344.3,652.3 342.1,650.4 343.9,651.0 342.8,649.0 344.7,649.7 342.9,648.0 344.7,648.0 343.1,646.5 344.7,646.1 342.8,644.9 344.6,644.8 343.0,642.9 344.5,643.5 343.4,641.8 345.1,642.0 343.1,639.8 344.9,640.2 343.2,638.8 344.9,638.6 343.2,636.8 345.6,637.7 343.3,635.7 345.3,636.0 344.1,634.0 345.2,633.9 343.8,632.8 346.1,633.1 344.0,631.3 345.5,631.2 345.0,630.0 344.1,628.9 346.2,629.0 343.9,627.6 345.7,627.3 344.3,625.9 346.3,625.7 344.5,624.2 346.4,624.6 344.5,622.7 346.6,623.2 344.4,621.5 346.3,621.4 344.7,620.0 346.8,620.1 344.9,618.1 346.6,618.1 345.1,616.4 346.8,616.7 345.1,615.1 346.3,615.6 345.2,613.7 346.9,613.4 345.2,612.3 346.5,612.1 344.7,610.7 346.5,610.8 345.1,609.0 346.6,608.8 344.7,607.7 346.7,607.7 344.8,605.5 347.0,606.4 345.1,604.5 347.1,604.7 345.1,603.1 346.2,602.5 347.1,602.7 346.1,600.1 347.6,600.6 346.3,598.9 348.5,599.1 346.2,597.3 348.2,597.9 347.0,596.0 348.8,596.5 347.0,594.0 348.8,594.8 347.6,592.3 348.8,592.5 350.2,592.3 347.9,590.0 349.9,590.6 348.6,588.9 350.3,588.8 349.0,586.9 350.7,587.7 350.0,586.2 350.4,586.8 349.9,588.0 350.6,588.2 350.0,589.5 350.7,589.9 350.1,590.9 350.9,591.4 350.3,592.4 351.0,592.9 350.4,594.0 351.2,594.4 350.5,595.5 351.3,595.8 350.9,597.0 351.4,597.4 351.0,598.5 351.6,598.7 351.2,599.9 351.6,600.5 351.3,601.3 351.9,601.9 351.5,602.8 352.1,603.4 351.5,604.4 352.2,604.7 351.7,605.9 352.4,606.3 351.7,607.5 352.4,607.8 352.0,608.8 352.6,609.3 352.1,610.4 352.7,610.8 352.2,611.8 352.9,612.4 352.3,613.5 352.9,613.8 352.7,614.9 353.2,615.3 352.7,616.3 353.3,616.8 352.8,617.9 353.4,618.3 353.0,619.3 353.7,619.7 353.2,620.9 353.8,621.2 353.4,622.3 353.9,622.8 353.8,623.8 354.0,623.2 353.6,622.1 354.1,621.8 353.6,620.6 354.4,620.1 353.7,619.1 354.5,618.7 354.0,617.5 354.4,617.0 354.0,616.0 354.7,615.8 354.1,614.5 354.8,614.1 354.2,613.0 354.8,612.7 354.4,611.7 354.9,611.1 354.5,610.2 354.9,609.6 354.5,608.5 355.1,608.1 354.7,607.2 355.3,606.7 354.9,605.6 355.5,605.2 354.9,604.0 355.5,603.7 354.9,602.7 355.7,602.1 355.3,601.2 355.8,600.7 355.4,599.6 355.9,599.3 355.4,598.0 355.9,597.6 355.6,596.6 356.1,596.1 355.7,595.2 356.1,594.6 355.8,593.6 356.2,593.1 355.8,592.0 356.4,591.8 355.9,590.7 356.2,590.0 355.4,591.0 357.1,591.4 355.5,593.3 357.5,592.7 355.9,594.3 357.9,594.1 356.3,596.2 358.0,596.0 355.9,597.7 358.0,597.1 356.0,599.0 358.3,598.9 356.5,600.7 358.7,599.8 357.1,601.9 359.0,601.5 356.9,603.8 358.8,602.9 357.1,605.1 358.8,605.2 357.0,607.0 358.9,606.6 357.6,608.2 359.3,607.6 357.9,609.8 358.8,610.0 358.4,609.1 359.1,608.6 358.6,607.6 359.2,607.0 358.7,606.1 359.2,605.7 358.7,604.6 359.3,604.1 358.9,603.0 359.3,602.4 359.0,601.4 359.4,600.9 359.1,600.0 359.6,599.5 358.9,598.3 359.6,598.1 359.2,596.8 359.7,596.4 359.1,595.3 359.8,594.8 359.2,593.8 359.9,593.5 359.5,592.5 359.8,591.8 359.4,590.8 359.9,590.3 359.6,589.3 360.1,589.0 359.6,587.7 360.1,587.3 359.7,586.3 360.4,585.9 359.7,584.8 360.2,584.2 359.9,583.2 360.3,582.7 359.8,581.8 360.4,581.3 359.9,580.2 360.6,579.7 360.1,578.7 360.7,578.3 360.0,577.1 360.6,576.6 360.2,575.6 360.5,575.0 360.1,576.5 361.8,576.0 360.2,578.0 361.6,577.4 359.8,579.5 361.7,578.7 359.6,581.2 362.0,580.7 360.2,582.1 362.4,581.8 360.0,584.1 362.6,583.4 360.5,585.6 362.1,585.0 360.8,587.1 362.4,586.8 360.2,588.1 362.9,587.9 361.0,590.1 362.7,589.3 360.8,591.4 363.1,591.5 360.7,592.6 362.7,593.0 360.8,594.4 363.2,594.4 361.0,596.1 362.8,595.7 361.1,597.2 363.4,597.4 361.6,599.3 363.7,598.3 362.5,600.0 362.8,599.4 362.2,598.3 362.9,598.0 362.4,596.7 363.0,596.3 362.4,595.4 363.1,594.8 362.5,593.8 363.2,593.3 362.6,592.4 363.2,592.0 362.9,590.9 363.2,590.5 362.8,589.5 363.4,588.9 362.9,587.8 363.5,587.5 363.1,586.5 363.7,585.8 363.2,584.9 363.7,584.3 363.1,583.4 363.9,582.8 363.2,581.9 364.0,581.4 363.3,580.3 364.0,579.9 363.4,578.9 364.0,578.5 363.5,577.3 364.2,576.8 363.7,575.8 364.4,575.5 363.8,574.3 364.3,573.9 363.9,573.0 364.4,572.4 364.0,571.4 364.5,571.0 364.0,569.9 364.7,569.4 364.0,568.2 364.6,567.9 364.1,566.9 364.5,566.2 363.6,567.3 365.1,567.6 364.1,568.8 365.7,568.8 363.4,570.7 365.6,570.0 363.8,572.1 366.1,571.7 364.1,573.7 365.7,573.0 364.3,575.5 365.6,575.4 364.2,576.4 366.1,576.8 364.0,578.4 366.4,577.6 364.0,579.9 366.5,579.9 364.9,581.2 366.8,581.2 364.5,582.4 366.4,582.2 364.6,584.6 366.2,584.4 365.1,586.1 366.3,585.3 365.1,587.7 366.8,587.3 364.6,588.8 367.0,589.0 364.8,590.8 366.6,590.0 365.4,591.6 366.9,591.6 364.9,593.9 366.2,593.8 365.2,592.1 367.7,592.7 365.8,590.8 367.8,591.8 366.6,589.8 368.1,589.7 366.8,587.7 368.5,588.5 367.2,586.4 369.1,587.2 368.1,585.5 368.8,585.0 369.1,584.3 368.5,583.4 369.3,582.8 368.8,581.8 369.3,581.3 368.7,580.4 369.4,579.9 368.9,578.8 369.6,578.4 369.1,577.4 369.5,576.8 369.2,575.8 369.7,575.3 369.2,574.2 369.7,573.7 369.4,572.8 370.0,572.4 369.4,571.3 369.9,570.7 369.4,569.7 370.0,569.3 369.7,568.2 370.2,567.7 369.7,566.7 370.3,566.2 369.8,565.2 370.5,564.7 369.8,563.8 370.5,563.2 370.1,562.3 370.7,561.9 370.2,560.8 370.8,560.2 370.3,559.1 370.8,558.6 370.5,557.7 371.1,557.3 370.6,556.2 371.0,555.6 370.5,554.6 371.2,554.1 370.6,553.1 371.3,552.6 370.8,551.7 371.4,551.2 370.9,550.0 371.3,549.7 371.2,548.8 372.5,549.2 370.7,550.4 372.5,550.3 370.9,552.4 372.5,551.8 371.1,554.2 372.8,553.9 371.5,555.4 373.4,554.8 371.6,557.1 373.4,556.8 371.6,558.4 373.0,558.4 371.9,560.1 374.1,559.6 371.6,561.6 374.2,560.8 371.7,563.0 374.5,562.3 372.6,564.3 374.2,564.1 372.7,565.8 374.5,565.7 372.9,567.3 373.8,567.5 374.8,567.7 373.0,569.4 375.1,569.4 373.2,571.4 375.7,570.7 374.0,573.1 375.8,572.5 374.3,574.2 376.2,573.6 374.4,576.1 376.1,575.6 374.8,577.3 376.6,576.9 374.8,578.8 376.8,578.4 376.2,580.0 376.0,580.9 376.7,581.3 376.2,582.3 376.7,583.0 376.1,583.9 376.9,584.3 376.3,585.4 376.9,586.0 376.4,587.0 377.0,587.4 376.6,588.4 377.2,588.8 376.6,590.1 377.2,590.5 376.8,591.6 377.3,592.0 376.9,593.1 377.5,593.5 376.9,594.6 377.5,595.0 377.0,596.0 377.6,596.4 377.2,597.5 377.8,598.0 377.4,599.0 377.8,599.6 377.4,600.6 377.9,601.0 377.5,602.0 378.0,602.5 377.6,603.5 378.1,603.9 377.6,605.0 378.3,605.5 377.8,606.5 378.3,607.0 377.9,608.1 378.4,608.6 378.1,609.6 378.6,610.0 378.2,611.2 378.6,611.5 378.3,612.6 378.8,613.2 378.2,614.2 378.9,614.5 378.4,615.8 378.8,616.2 378.6,615.4 379.0,614.9 378.5,613.7 379.2,613.3 378.6,612.4 379.2,611.9 378.8,610.7 379.2,610.3 378.9,609.4 379.3,608.7 378.9,607.8 379.5,607.2 378.9,606.3 379.7,605.7 379.0,604.7 379.6,604.4 379.2,603.1 379.7,602.7 379.2,601.7 379.7,601.1 379.2,600.2 379.8,599.8 379.3,598.7 379.9,598.3 379.5,597.2 380.1,596.7 379.5,595.7 380.1,595.2 379.6,594.2 380.1,593.7 379.7,592.5 380.2,592.2 379.9,591.2 380.4,590.7 379.8,589.6 380.4,589.0 380.0,588.0 380.5,587.5 379.9,586.7 380.6,586.0 380.0,585.1 380.6,584.5 380.1,583.5 380.6,583.0 380.1,582.0 380.8,581.6 380.2,580.6 380.8,580.1 380.3,578.9 380.9,578.5 380.3,577.4 381.0,576.9 380.5,576.1 381.2,575.6 380.5,574.5 381.2,573.9 380.6,572.9 381.1,572.5 380.7,571.3 381.3,570.9 380.7,570.0 381.5,569.4 381.0,568.4 381.3,567.8 380.9,567.0 381.2,566.2 382.3,566.3 382.0,563.7 384.0,566.0 383.8,563.8 385.2,564.0 382.7,565.7 385.3,565.2 383.0,567.2 384.7,566.8 383.3,569.0 385.6,568.9 383.3,570.5 385.7,570.2 383.9,572.4 385.4,571.6 383.5,573.4 385.9,573.4 384.2,574.8 386.3,574.9 384.2,576.7 385.7,576.2 384.1,578.5 386.1,578.2 384.6,579.9 385.5,580.0 384.6,578.8 386.6,578.8 384.5,577.2 386.8,577.8 385.4,575.5 386.9,576.3 385.6,574.4 387.3,574.5 385.6,572.7 387.2,573.0 386.1,571.0 387.4,571.8 385.8,569.6 387.9,569.7 385.8,568.3 388.3,568.8 386.1,566.4 388.2,567.2 386.1,565.4 387.5,565.0 387.4,565.9 387.8,566.5 387.4,567.5 387.9,568.0 387.5,568.9 387.9,569.4 387.5,570.4 388.0,570.8 387.7,572.0 388.0,572.5 387.5,573.5 388.2,574.0 387.6,574.9 388.3,575.5 387.7,576.5 388.3,576.9 387.9,578.0 388.4,578.5 387.9,579.5 388.4,579.9 387.9,580.9 388.5,581.6 388.1,582.4 388.6,583.0 388.1,584.0 388.6,584.4 388.1,585.4 388.7,586.1 388.3,586.9 388.9,587.4 388.2,588.5 388.8,588.9 388.4,590.1 388.9,590.6 388.5,591.6 389.0,592.0 388.5,593.1 389.2,593.5 388.7,594.5 389.3,595.1 388.6,596.1 389.2,596.5 388.8,597.6 389.4,598.2 388.8,599.2 389.5,599.7 388.8,600.6 389.5,601.1 389.0,602.0 389.5,602.5 389.1,603.6 389.6,604.0 389.2,605.1 389.6,605.6 389.2,606.5 389.7,607.2 389.1,608.1 389.5,608.8 389.3,607.8 389.8,607.4 389.5,606.2 389.9,605.9 389.5,604.9 390.1,604.3 389.6,603.4 390.2,602.8 389.6,601.8 390.3,601.2 389.7,600.3 390.5,599.8 390.0,598.7 390.5,598.1 390.2,597.2 390.7,596.7 390.2,595.6 390.7,595.1 390.3,594.2 391.0,593.8 390.4,592.6 390.9,592.0 390.5,591.0 391.0,590.7 390.5,589.7 391.3,589.0 390.7,588.0 391.2,587.5 390.9,586.6 391.3,586.0 391.0,585.1 391.4,584.5 391.0,583.6 391.7,583.0 391.2,582.0 391.8,581.4 391.2,580.5 391.9,580.0 391.3,578.8 391.8,578.3 391.4,577.4 392.1,576.9 391.6,576.0 392.1,575.4 391.7,574.4 392.0,573.8 391.8,574.7 392.2,575.1 391.8,576.1 392.3,576.6 391.9,577.7 392.5,578.2 391.9,579.1 392.7,579.5 391.9,580.8 392.6,581.1 392.1,582.1 392.8,582.6 392.1,583.7 392.7,584.1 392.4,585.2 392.9,585.8 392.4,586.8 392.8,587.2 392.5,588.2 393.0,588.7 392.6,589.7 393.2,590.2 392.6,591.2 393.2,591.7 392.6,592.7 393.2,593.2 392.8,594.4 393.4,594.7 392.7,595.8 393.5,596.3 392.8,597.4 393.6,597.7 392.8,598.8 393.6,599.3 393.1,600.3 393.7,600.7 393.0,601.9 393.6,602.4 393.1,603.3 393.7,603.9 393.3,604.9 393.7,605.2 393.3,606.4 393.8,606.9 393.4,607.7 393.9,608.4 393.6,609.5 393.8,610.0 394.6,610.7 392.6,611.9 394.7,612.2 393.6,613.8 395.2,613.3 393.6,614.9 395.7,614.9 393.2,617.1 395.2,616.1 394.2,618.4 396.0,617.7 393.9,620.0 395.6,619.5 394.4,621.2 395.8,620.9 394.3,623.1 396.4,622.4 394.2,624.7 396.5,624.2 394.4,625.9 396.3,625.8 394.8,627.9 397.0,627.0 394.8,629.3 397.0,628.7 396.2,630.0 397.5,629.6 395.8,627.9 397.6,628.0 395.5,626.1 397.2,626.3 395.8,625.0 398.0,625.6 395.9,623.1 397.9,623.4 395.6,622.1 397.6,622.0 396.6,620.4 398.0,621.0 396.4,618.5 398.5,619.1 396.7,617.5 398.3,617.4 396.5,615.7 398.3,616.1 396.3,614.4 398.5,614.0 397.2,613.1 398.7,613.2 396.8,610.7 399.2,611.5 397.1,610.0 398.9,609.7 397.2,608.5 399.2,608.3 397.4,606.7 399.0,607.0 397.3,604.9 399.1,605.4 397.4,603.1 399.8,603.4 398.8,602.5 399.2,603.1 398.7,604.2 399.3,604.5 398.8,605.7 399.3,606.2 398.8,607.2 399.4,607.6 398.9,608.7 399.7,609.1 399.0,610.0 399.7,610.6 399.2,611.8 399.9,612.1 399.3,613.2 400.0,613.5 399.6,614.6 400.2,615.2 399.5,616.0 400.2,616.5 399.8,617.6 400.3,618.1 399.8,619.2 400.4,619.6 399.9,620.7 400.7,621.2 400.1,622.1 400.7,622.5 400.3,623.7 400.9,624.0 400.5,625.1 401.0,625.5 400.6,626.7 401.1,627.1 400.5,628.0 401.2,628.7 400.8,629.6 401.4,630.1 401.0,631.2 401.5,631.7 401.2,632.5 400.1,634.1 402.1,633.1 400.3,635.1 402.1,634.7 400.5,636.5 402.9,636.2 400.8,638.6 403.3,638.1 400.8,640.2 402.8,639.3 401.1,641.6 403.2,641.2 401.6,642.8 403.0,642.2 402.5,643.8 402.9,643.1 402.3,642.1 402.8,641.7 402.3,640.7 402.9,640.1 402.4,639.1 403.2,638.6 402.7,637.7 403.3,637.1 402.8,636.1 403.2,635.7 402.9,634.7 403.4,634.2 402.9,633.1 403.3,632.6 403.0,631.5 403.6,631.2 403.0,630.1 403.5,629.6 403.2,628.7 403.8,628.1 403.3,627.2 403.9,626.7 403.3,625.6 404.0,625.3 403.4,624.1 404.1,623.6 403.6,622.7 404.1,622.2 403.7,621.1 404.3,620.6 403.7,619.5 404.4,619.1 403.9,618.1 404.4,617.8 403.8,616.7 404.5,616.1 404.0,615.1 404.6,614.7 403.9,613.6 404.8,613.1 404.0,612.1 404.8,611.6 404.1,610.7 404.9,610.2 404.4,609.0 404.8,608.7 404.4,607.6 404.9,607.2 404.4,606.2 405.2,605.6 404.6,604.6 405.2,604.2 404.6,603.1 405.0,602.5 405.9,601.9 404.6,600.5 406.2,600.7 403.9,599.0 406.1,599.2 404.7,597.2 406.4,597.8 404.6,596.2 406.3,596.2 404.7,594.1 406.6,594.5 405.2,593.3 406.5,593.5 404.5,591.7 407.0,591.7 405.0,590.0 406.5,589.8 405.0,588.3 406.9,589.1 404.9,587.2 406.7,587.3 405.2,585.7 406.8,585.7 405.9,583.8 407.5,584.1 405.6,582.7 407.2,582.5 405.4,581.0 407.8,581.1 405.5,579.4 407.8,579.7 405.9,578.3 408.2,578.4 406.0,576.4 407.0,576.2 406.8,577.5 408.3,576.8 407.5,579.2 409.4,578.2 407.5,580.8 409.5,580.1 408.5,582.6 409.5,582.5 409.8,583.1 409.3,584.2 410.0,584.7 409.2,585.6 410.0,586.3 409.4,587.2 410.1,587.7 409.6,588.8 410.1,589.1 409.5,590.1 410.2,590.8 409.6,591.6 410.1,592.2 409.6,593.3 410.2,593.7 409.7,594.7 410.3,595.2 409.7,596.2 410.3,596.8 410.0,597.8 410.5,598.3 410.0,599.4 410.4,599.8 410.1,600.7 410.5,601.3 410.1,602.5 410.7,602.9 410.0,603.9 410.7,604.4 410.1,605.5 410.6,605.9 410.3,606.8 410.8,607.3 410.4,608.5 410.8,609.1 410.3,609.9 410.9,610.5 410.5,611.4 410.9,612.0 410.5,613.0 411.0,613.5 410.5,614.6 411.1,614.9 410.5,616.0 411.2,616.6 410.8,617.6 411.3,618.1 410.6,619.2 411.2,619.5 410.9,620.6 411.5,621.1 410.9,622.1 411.3,622.6 410.9,623.7 411.4,624.1 411.2,625.0 411.8,624.5 410.8,623.3 412.4,623.0 410.3,621.8 412.6,622.1 411.0,620.3 412.8,620.2 410.4,618.6 412.6,619.1 411.1,616.6 413.2,617.0 411.0,615.1 412.6,616.0 410.9,613.8 413.1,613.9 410.9,612.8 413.4,613.0 411.5,610.9 413.2,611.5 411.9,609.2 413.3,610.0 411.6,607.7 413.3,608.3 412.2,606.5 413.3,607.0 411.7,605.1 414.2,605.7 411.6,603.8 414.0,604.0 413.0,602.5 412.1,601.6 414.4,601.5 412.2,599.4 414.0,599.6 412.1,598.4 413.9,598.1 412.2,596.4 414.2,596.6 412.4,595.0 414.7,595.1 412.9,593.3 414.3,593.8 413.4,591.7 414.6,592.7 412.9,590.4 414.7,591.0 413.3,589.1 414.9,589.3 413.2,587.9 415.7,587.8 413.8,586.3 415.4,586.4 413.7,584.2 415.6,584.8 413.4,583.2 415.3,583.1 414.2,581.8 415.0,581.2 414.8,582.0 415.5,582.6 414.7,583.7 415.5,584.1 415.0,585.2 415.4,585.6 415.0,586.8 415.5,587.2 415.0,588.3 415.8,588.8 415.2,589.6 415.8,590.1 415.2,591.3 415.8,591.7 415.2,592.8 415.9,593.2 415.4,594.3 416.0,594.8 415.5,595.8 416.0,596.2 415.6,597.3 416.1,597.8 415.5,598.7 416.1,599.2 415.7,600.3 416.3,600.8 415.8,601.7 416.4,602.2 415.9,603.3 416.4,604.0 415.8,605.0 416.4,605.4 415.9,606.5 416.5,606.9 416.1,608.0 416.7,608.3 416.2,609.4 416.8,609.8 416.2,610.8 416.7,611.4 416.4,612.5 416.9,612.9 416.3,614.1 417.0,614.5 416.4,615.5 416.9,615.9 416.5,616.9 417.0,617.5 416.6,618.5 417.1,618.9 416.7,620.1 417.2,620.4 416.6,621.5 417.3,622.1 416.8,623.1 417.4,623.6 417.0,624.5 417.5,625.1 417.0,626.1 417.6,626.6 417.1,627.6 417.6,628.0 417.2,629.1 417.7,629.5 417.3,630.5 417.5,631.2 417.0,630.3 418.4,630.2 416.6,628.5 418.7,628.7 416.7,626.6 418.8,627.6 417.3,625.1 419.0,625.9 417.3,624.2 418.8,624.6 417.5,622.3 419.2,622.8 417.8,621.3 419.3,621.4 417.6,619.9 419.7,619.7 418.2,618.2 419.4,618.5 417.9,616.6 419.6,616.6 418.3,615.1 420.2,615.5 418.1,613.1 420.3,613.4 418.8,612.3 420.1,612.3 418.2,610.4 420.4,610.5 418.2,608.7 420.4,608.9 418.4,607.7 421.0,607.5 418.8,606.1 421.2,606.1 420.0,605.0 420.2,605.7 419.7,606.8 420.3,607.1 419.8,608.1 420.2,608.5 419.9,609.7 420.3,610.2 419.8,611.3 420.2,611.7 419.7,612.7 420.3,613.2 419.7,614.1 420.2,614.7 419.8,615.7 420.4,616.1 419.7,617.2 420.2,617.6 419.9,618.6 420.3,619.1 419.8,620.1 420.3,620.6 419.8,621.6 420.4,622.1 419.9,623.1 420.4,623.7 420.0,624.6 420.4,625.3 419.9,626.2 420.4,626.7 419.8,627.6 420.4,628.1 419.8,629.3 420.5,629.7 419.8,630.7 420.3,631.3 420.0,632.3 420.4,632.7 419.9,633.6 420.5,634.1 419.8,635.3 420.4,635.8 419.9,636.8 420.4,637.3 420.0,638.3 420.5,638.7 420.0,639.7 420.5,640.2 419.9,641.2 420.6,641.8 419.9,642.8 420.5,643.3 420.0,644.3 420.6,644.8 420.1,645.7 420.7,646.4 419.9,647.3 420.6,647.8 420.0,648.8 420.4,649.2 420.1,650.2 420.6,650.7 420.0,651.8 420.7,652.4 420.2,653.2 420.7,653.9 420.0,654.9 420.5,655.3 420.0,656.4 420.6,656.8 420.1,657.9 420.7,658.3 420.1,659.4 420.6,659.7 420.1,660.9 420.7,661.3 420.1,662.4 420.7,662.7 420.2,663.9 420.7,664.3 420.0,665.2 420.6,665.8 420.0,666.8 420.8,667.3 420.3,668.2 420.6,668.8 420.2,669.8 420.7,670.4 420.1,671.4 420.7,671.9 420.2,672.9 420.7,673.2 420.1,674.4 420.8,675.0 420.3,675.8 420.6,676.4 420.1,677.4 420.9,677.9 420.3,678.7 420.7,679.5 420.2,680.3 420.8,680.9 420.2,681.8 420.5,682.5 420.9,683.1 420.2,684.1 420.8,684.7 420.4,685.6 420.9,686.2 420.3,687.3 421.0,687.6 420.4,688.6 420.9,689.1 420.3,690.1 420.9,690.7 420.6,691.7 421.0,692.1 420.6,693.3 421.1,693.7 420.7,694.8 421.2,695.1 420.8,696.2 421.3,696.6 420.6,697.6 421.2,698.1 420.7,699.3 421.3,699.8 420.7,700.7 421.4,701.3 420.8,702.3 421.5,702.6 421.0,703.8 421.3,704.3 420.8,705.2 421.5,705.7 421.1,706.8 421.6,707.3 420.9,708.2 421.7,708.8 421.2,709.7 421.8,710.2 421.1,711.4 421.8,711.7 421.2,712.7 421.8,713.2 421.2,714.3 421.9,714.8 421.3,715.9 421.8,716.2 421.4,717.3 421.9,717.9 421.3,718.8 421.9,719.3 421.4,720.3 421.9,720.9 421.4,721.7 422.0,722.3 421.4,723.4 422.0,724.0 421.5,724.9 422.1,725.5 421.6,726.3 422.2,726.7 421.7,727.8 422.3,728.5 421.8,729.4 422.0,730.0 422.4,730.7 421.8,731.6 422.3,732.1 421.8,733.1 422.5,733.7 422.0,734.7 422.4,735.0 422.0,736.2 422.5,736.6 422.1,737.7 422.6,738.1 422.0,739.2 422.6,739.6 422.2,740.6 422.7,741.0 422.0,742.2 422.7,742.7 422.1,743.7 422.7,744.1 422.1,745.1 422.9,745.6 422.2,746.7 422.8,747.2 422.2,748.0 422.8,748.6 422.3,749.7 423.1,750.1 422.6,751.0 422.9,751.6 422.6,752.6 423.1,753.2 422.4,754.1 423.2,754.6 422.5,755.6 423.1,756.0 422.8,757.1 423.1,757.5 422.7,758.5 423.2,759.1 423.0,760.0 422.7,760.8 423.4,761.4 422.8,762.4 423.4,762.8 422.8,764.1 423.5,764.4 423.1,765.3 423.6,765.9 423.0,766.9 423.5,767.4 423.1,768.4 423.6,769.0 423.3,770.1 423.8,770.4 423.3,771.5 423.7,772.0 423.2,773.1 423.9,773.7 423.5,774.5 424.0,775.0 423.4,776.0 424.1,776.7 423.5,777.5 424.2,778.1 423.5,779.2 424.1,779.5 423.5,780.8 424.3,781.3 423.6,782.1 424.2,782.7 423.6,783.6 424.3,784.3 423.7,785.2 424.4,785.7 423.8,786.7 424.4,787.2 423.9,788.4 424.5,788.7 423.9,789.8 424.6,790.3 424.2,791.2 424.6,791.9 424.2,792.9 424.8,793.3 424.3,794.4 424.5,795.0 424.2,794.1 424.8,793.7 424.4,792.7 424.8,792.2 424.4,791.0 424.9,790.6 424.5,789.7 425.1,789.1 424.6,788.0 425.2,787.7 424.7,786.5 425.2,786.0 424.6,785.0 425.3,784.5 424.9,783.6 425.3,783.0 424.9,782.2 425.5,781.6 425.1,780.7 425.5,780.1 425.2,779.1 425.6,778.6 425.3,777.5 425.8,777.1 425.4,776.2 426.0,775.6 425.4,774.5 426.0,774.1 425.4,773.1 425.9,772.6 425.5,771.6 426.1,771.2 425.6,770.2 426.1,769.7 425.6,768.5 426.2,768.2 425.9,767.2 426.3,766.7 425.8,765.5 426.4,765.2 426.0,764.1 426.6,763.6 426.1,762.7 426.7,762.1 426.2,761.2 426.7,760.7 426.2,759.5 426.8,759.1 426.3,758.2 426.8,757.5 426.5,756.7 427.0,756.2 426.5,755.2 427.0,754.6 426.6,753.7 427.1,753.2 426.7,752.0 427.1,751.7 426.7,750.6 427.0,750.0 425.8,751.3 428.1,750.9 426.2,753.4 428.7,752.4 426.6,754.6 429.1,753.6 426.8,755.8 429.0,755.6 427.5,757.7 429.0,757.0 427.6,759.0 429.7,758.4 428.8,760.0 427.4,761.7 430.0,761.2 427.8,762.7 430.2,762.6 428.1,763.8 429.9,764.0 428.3,765.4 429.9,765.9 428.4,767.2 429.9,767.0 428.2,768.6 429.8,769.0 428.2,770.6 430.0,770.2 428.5,771.9 430.2,771.3 428.9,772.9 430.1,773.2 428.6,774.6 430.8,774.6 428.5,776.6 430.6,775.9 428.4,777.6 430.1,777.2 428.7,779.3 430.2,778.8 428.9,780.8 430.5,780.2 429.0,782.0 431.1,782.3 429.1,783.7 431.2,783.8 429.3,785.5 430.5,785.1 430.0,786.2 430.4,785.7 429.7,784.7 430.5,784.1 429.8,783.1 430.6,782.6 430.0,781.7 430.6,781.0 430.2,780.0 430.7,779.7 430.2,778.6 430.7,778.0 430.3,776.9 430.9,776.6 430.3,775.4 431.0,775.1 430.5,773.9 430.9,773.5 430.6,772.5 431.1,772.0 430.6,771.1 431.2,770.5 430.7,769.4 431.3,769.1 430.6,768.1 431.3,767.5 430.9,766.4 431.5,765.9 430.9,764.8 431.6,764.5 431.1,763.5 431.6,763.1 431.1,762.0 431.8,761.4 431.1,760.5 431.8,759.9 431.1,759.0 431.9,758.4 431.4,757.5 431.8,756.9 431.3,755.9 432.0,755.3 431.5,754.4 432.0,753.9 431.6,752.9 432.2,752.5 431.7,751.5 432.1,750.8 432.0,750.0 431.0,748.3 433.5,749.3 431.6,747.0 433.4,747.5 431.0,745.6 433.0,745.7 431.9,744.1 433.6,744.7 432.2,743.1 434.1,742.7 432.1,740.8 433.5,741.6 431.7,739.5 434.1,739.5 432.1,738.0 434.4,738.4 432.7,736.8 434.4,736.5 432.9,735.3 434.7,735.4 432.8,733.1 434.7,733.6 433.8,732.5 432.8,730.9 434.7,731.4 432.9,729.3 435.0,729.7 433.1,728.4 435.0,728.7 433.7,726.8 435.0,727.1 433.1,725.3 435.4,725.3 433.7,723.8 435.4,723.8 433.4,722.2 435.4,722.3 433.4,720.4 436.0,720.8 434.2,719.2 435.3,719.8 433.8,717.9 435.8,718.1 434.4,716.4 436.2,716.7 434.1,715.1 435.8,714.8 434.7,713.2 436.2,713.9 434.4,711.4 436.3,712.0 434.7,710.3 435.5,710.0 435.2,710.9 435.7,711.4 435.5,712.4 436.0,712.9 435.4,714.0 436.0,714.5 435.5,715.4 436.2,715.9 435.8,716.9 436.4,717.3 435.9,718.3 436.5,718.8 436.0,719.9 436.6,720.3 435.9,721.5 436.5,721.9 436.0,722.9 436.6,723.3 436.1,724.3 436.7,724.9 436.2,725.9 437.0,726.4 436.4,727.3 436.9,727.9 436.5,728.8 437.1,729.3 436.5,730.5 437.1,730.8 436.7,732.0 437.3,732.5 436.7,733.3 437.5,733.8 436.8,734.9 437.4,735.3 436.9,736.4 437.5,736.9 437.0,737.8 437.6,738.4 437.1,739.3 437.5,740.0 436.8,738.4 438.3,739.2 436.9,737.6 438.6,737.7 436.6,736.0 438.9,736.0 436.9,734.0 438.8,734.1 436.8,732.9 438.7,733.1 437.1,731.0 439.2,731.3 437.3,729.5 438.7,729.6 437.7,727.6 439.5,728.3 437.7,726.2 439.1,726.9 437.4,724.8 439.6,724.9 437.3,723.3 439.7,723.9 437.9,721.9 439.4,721.7 437.5,720.1 438.8,720.0 438.5,720.9 439.2,721.5 438.6,722.4 439.1,722.9 438.6,723.8 439.2,724.4 438.5,725.5 439.3,726.0 438.6,726.8 439.2,727.5 438.7,728.6 439.3,729.0 438.8,730.1 439.2,730.4 438.7,731.4 439.4,731.9 438.8,733.0 439.4,733.5 438.7,734.6 439.4,735.1 438.8,736.0 439.5,736.6 439.0,737.6 439.4,738.0 438.8,738.9 439.6,739.6 439.0,740.6 439.5,741.0 438.9,742.1 439.7,742.4 439.0,743.6 439.7,744.0 439.1,745.1 439.6,745.6 439.2,746.7 439.8,747.1 439.1,748.0 439.6,748.6 439.3,749.7 439.8,750.1 439.2,751.1 439.9,751.6 439.3,752.7 439.8,753.1 439.4,754.0 439.8,754.6 439.3,755.6 439.8,756.0 439.5,757.2 439.9,757.6 439.6,758.6 440.0,759.1 439.5,760.2 440.0,760.7 439.6,761.8 440.0,762.3 439.6,763.2 440.2,763.8 439.6,764.7 440.3,765.2 439.7,766.2 440.2,766.8 439.6,767.7 440.3,768.3 439.7,769.3 440.3,769.7 439.8,770.6 440.2,771.3 439.9,772.2 440.4,772.8 439.7,773.7 440.3,774.3 440.0,775.3 440.5,775.8 439.8,776.8 440.5,777.3 439.9,778.3 440.4,778.8 439.9,779.8 440.6,780.4 440.0,781.4 440.6,781.9 440.1,782.8 440.6,783.4 440.1,784.4 440.8,784.7 440.1,786.0 440.8,786.5 440.3,787.5 440.8,787.8 440.5,788.8 440.9,788.1 440.4,787.2 441.0,786.6 440.6,785.5 441.1,785.2 440.7,784.1 441.1,783.7 440.8,782.5 441.3,782.1 441.0,781.1 441.4,780.7 441.0,779.6 441.5,779.2 441.2,778.0 441.6,777.5 441.2,776.5 441.7,776.1 441.2,775.0 441.9,774.5 441.5,773.6 442.2,773.1 441.6,772.1 442.1,771.6 441.6,770.5 442.3,770.0 441.9,769.1 442.5,768.4 441.9,767.6 442.4,766.9 442.0,765.9 442.8,765.6 442.2,764.6 442.9,764.0 442.2,763.0 443.0,762.5 442.5,761.5 442.9,761.0 442.6,759.9 443.1,759.5 442.7,758.4 443.4,757.9 442.8,756.9 443.5,756.5 442.9,755.4 443.5,755.0 442.9,753.8 443.6,753.5 443.1,752.3 443.9,751.9 443.3,750.8 443.9,750.4 443.3,749.5 443.8,748.8 443.3,750.0 444.4,749.5 443.4,751.9 444.7,751.7 442.9,753.3 445.0,752.8 443.3,755.0 445.2,754.4 443.5,756.1 445.5,756.3 443.4,758.1 445.7,757.4 443.8,758.9 445.2,759.0 443.5,761.1 445.5,760.4 443.7,762.3 446.2,762.3 444.3,763.9 446.2,763.7 444.4,765.7 446.1,765.2 444.6,766.9 446.5,766.8 444.4,768.5 445.5,768.8 445.4,767.7 445.8,767.4 445.3,766.4 445.9,765.8 445.6,764.7 446.2,764.2 445.7,763.3 446.2,762.8 445.7,761.8 446.3,761.3 446.0,760.2 446.6,759.7 446.0,758.8 446.7,758.3 446.1,757.2 446.7,756.7 446.3,755.6 446.8,755.2 446.5,754.2 447.1,753.7 446.5,752.6 447.1,752.2 446.7,751.1 447.3,750.7 446.9,749.5 447.3,749.1 446.9,748.0 447.5,747.7 447.2,746.5 447.6,746.0 447.1,745.1 447.9,744.5 447.4,743.6 447.8,743.0 447.5,742.0 448.1,741.7 447.5,740.6 448.3,740.1 447.7,739.0 448.2,738.5 447.9,737.5 448.5,736.9 447.9,735.9 448.7,735.4 448.0,734.4 448.7,733.9 448.2,732.9 448.9,732.5 448.4,731.4 449.0,730.8 448.8,730.0 449.1,730.6 448.6,731.6 449.2,732.1 448.7,733.1 449.4,733.7 448.9,734.6 449.4,735.2 448.9,736.2 449.7,736.6 449.2,737.7 449.6,738.1 449.2,739.1 449.9,739.7 449.4,740.7 450.1,741.2 449.6,742.3 450.2,742.8 449.6,743.9 450.4,744.3 449.7,745.2 450.5,745.7 449.9,746.9 450.6,747.1 449.9,748.3 450.7,748.7 450.2,749.8 450.8,750.4 450.4,751.4 451.0,751.7 450.4,752.9 451.1,753.3 450.7,754.3 451.3,754.9 450.7,755.8 451.3,756.3 451.0,757.4 451.5,757.7 451.2,758.8 451.5,758.2 451.1,757.1 451.8,756.7 451.2,755.7 451.7,755.1 451.4,754.0 451.9,753.8 451.4,752.7 452.1,752.1 451.6,751.2 452.2,750.7 451.7,749.6 452.2,749.0 451.8,748.0 452.4,747.6 452.0,746.6 452.4,746.0 452.0,745.2 452.7,744.6 452.1,743.5 452.7,743.2 452.1,742.1 452.8,741.8 452.4,740.5 452.9,740.1 452.5,739.1 453.2,738.7 452.7,737.5 453.3,737.2 452.6,736.2 453.3,735.7 452.8,734.6 453.3,734.1 453.0,733.1 453.5,732.6 453.0,731.6 453.8,731.1 453.2,730.2 453.7,729.7 453.2,728.7 453.8,728.2 453.3,727.0 454.1,726.6 453.6,725.7 454.1,725.0 453.7,724.1 454.3,723.6 453.8,722.7 454.2,722.0 454.0,721.0 454.6,720.5 453.9,719.5 454.6,719.1 454.0,718.2 454.6,717.8 454.3,716.5 454.9,716.0 454.4,715.1 454.8,714.7 454.4,713.7 455.0,713.1 454.5,712.1 455.2,711.7 454.8,710.5 455.0,710.0 454.7,710.9 455.4,711.4 454.8,712.4 455.4,712.9 455.0,713.8 455.5,714.3 455.0,715.4 455.6,715.9 455.1,717.0 455.7,717.4 455.1,718.5 455.9,718.9 455.4,720.0 455.8,720.6 455.4,721.5 456.1,722.0 455.5,723.1 456.2,723.6 455.5,724.7 456.1,725.0 455.6,726.1 456.1,726.5 455.8,727.6 456.3,728.1 455.7,729.3 456.5,729.7 455.9,730.6 456.4,731.2 456.1,732.2 456.5,732.7 456.1,733.7 456.7,734.2 456.3,735.3 456.8,735.6 456.3,736.7 456.9,737.3 456.2,738.3 456.9,738.9 456.5,739.8 457.1,740.4 456.5,741.2 457.2,741.7 456.5,742.9 457.1,743.4 456.8,744.4 457.0,745.0 457.2,745.7 456.9,746.7 457.5,747.2 456.8,748.1 457.4,748.6 457.0,749.5 457.7,750.1 457.1,751.1 457.6,751.7 457.2,752.6 457.9,753.2 457.4,754.1 458.0,754.6 457.5,755.7 457.9,756.1 457.6,757.2 458.2,757.6 457.7,758.5 458.3,759.1 457.9,760.2 458.4,760.6 457.8,761.7 458.5,762.1 457.9,763.2 458.5,763.7 458.0,764.6 458.6,765.1 458.2,766.1 458.8,766.5 458.2,767.7 458.7,768.1 458.3,769.2 458.9,769.7 458.3,770.7 459.1,771.1 458.6,772.2 459.1,772.5 458.6,773.7 459.2,774.0 459.0,775.0 459.2,774.5 458.8,773.3 459.3,772.8 458.8,771.8 459.5,771.3 458.9,770.3 459.5,770.0 459.1,768.8 459.4,768.4 459.0,767.4 459.6,766.9 459.0,765.9 459.7,765.4 459.3,764.2 459.8,763.8 459.3,762.9 459.7,762.3 459.2,761.2 459.9,760.9 459.4,759.8 459.8,759.3 459.5,758.4 460.1,757.7 459.5,756.8 460.0,756.2 459.6,755.2 460.1,754.7 459.6,753.8 460.3,753.2 459.7,752.4 460.2,751.9 459.6,750.8 460.3,750.2 459.7,749.2 460.4,748.7 459.9,747.7 460.4,747.3 460.0,746.3 460.6,745.7 460.0,744.7 460.6,744.3 460.1,743.2 460.5,742.8 460.2,741.8 460.6,741.2 460.1,740.3 460.8,739.6 460.1,738.6 460.8,738.3 460.2,737.2 460.9,736.6 460.3,735.6 461.0,735.1 460.5,734.2 461.0,733.7 460.5,732.7 461.1,732.1 460.4,731.0 461.1,730.7 460.6,729.7 461.1,729.1 460.7,728.2 461.3,727.6 460.6,726.6 461.4,726.3 460.7,725.1 461.3,724.7 460.9,723.6 461.3,723.2 460.9,722.1 461.5,721.8 460.8,720.6 461.2,720.0 460.0,721.7 462.4,720.9 460.9,723.0 462.5,722.3 460.4,724.4 462.8,723.9 461.2,725.7 462.4,725.8 460.7,727.2 462.7,727.1 461.6,728.8 462.9,728.7 461.3,730.7 462.9,729.8 461.5,731.8 463.4,731.9 461.9,733.3 463.5,732.6 462.1,735.1 464.1,734.2 462.1,736.3 464.3,736.3 462.5,737.3 464.2,737.5 462.0,739.7 464.2,739.0 462.9,741.0 464.5,740.8 462.4,741.9 463.8,742.5 463.2,741.2 465.3,741.2 463.4,739.4 465.0,740.3 463.8,738.3 465.1,738.6 464.0,736.4 465.9,737.3 463.6,735.3 465.7,735.0 464.4,733.6 466.2,733.8 464.6,732.0 465.8,732.4 464.3,730.2 465.5,730.0 465.9,729.5 465.4,728.4 465.8,727.9 465.4,726.9 466.1,726.4 465.6,725.3 466.2,724.8 465.6,723.9 466.3,723.4 465.6,722.3 466.4,721.9 465.8,720.7 466.5,720.4 466.0,719.3 466.4,719.0 465.9,717.8 466.7,717.4 466.1,716.3 466.6,715.8 466.2,714.9 466.7,714.4 466.4,713.4 467.0,712.9 466.4,711.8 467.0,711.4 466.5,710.4 467.2,710.0 466.7,708.8 467.1,708.3 466.7,707.3 467.3,707.0 466.8,705.9 467.5,705.5 467.0,704.3 467.5,703.8 467.1,702.9 467.6,702.3 467.2,701.3 467.8,700.9 467.5,700.0 468.4,699.9 467.2,701.7 468.3,701.8 467.0,703.4 468.9,703.7 467.6,705.5 469.4,705.2 467.2,706.7 469.3,706.1 467.4,708.6 469.6,707.5 468.1,710.0 469.5,709.1 467.7,711.7 470.1,711.1 468.1,713.1 469.7,712.6 468.3,714.6 470.1,714.0 468.3,715.8 470.6,715.3 468.8,717.5 470.6,716.9 469.1,718.8 470.7,718.6 470.0,720.0 470.2,719.5 469.8,718.3 470.3,717.8 469.9,716.8 470.3,716.5 469.9,715.4 470.4,714.8 470.0,713.8 470.5,713.3 470.1,712.3 470.7,711.9 470.1,710.8 470.6,710.4 470.2,709.3 470.9,708.8 470.2,707.9 470.9,707.2 470.3,706.3 470.9,705.8 470.4,704.9 471.0,704.3 470.6,703.4 471.2,702.8 470.6,701.8 471.1,701.4 470.5,700.4 471.1,699.7 470.7,698.8 471.3,698.4 470.9,697.4 471.2,696.7 470.9,695.8 471.4,695.3 470.8,694.1 471.4,693.8 471.1,692.7 471.6,692.4 471.1,691.3 471.7,690.8 471.0,689.8 471.7,689.1 471.1,688.1 471.7,687.6 471.2,686.6 471.8,686.2 471.4,685.1 472.0,684.7 471.4,683.6 471.9,683.2 471.5,682.1 472.1,681.7 471.4,680.7 472.1,680.3 471.5,679.1 472.2,678.8 471.5,677.6 472.2,677.2 471.8,676.2 472.3,675.6 471.7,674.7 472.5,674.1 471.9,673.1 472.5,672.7 471.9,671.7 472.6,671.2 472.0,670.1 472.6,669.7 472.1,668.6 472.7,668.2 472.2,667.1 472.7,666.7 472.2,665.5 472.5,665.0 473.9,665.0 471.8,663.1 473.6,663.3 472.3,661.5 474.1,661.4 471.7,659.9 474.4,660.5 472.0,658.3 474.0,658.4 472.0,656.6 474.4,657.0 472.4,655.5 474.2,655.7 472.6,653.6 474.6,654.7 472.4,652.7 474.9,652.7 472.8,650.9 475.0,651.1 472.9,649.6 475.2,649.8 473.0,647.6 474.9,647.8 473.0,646.4 475.3,647.1 473.1,645.1 475.8,645.2 473.4,643.2 475.4,643.7 473.8,642.1 475.6,642.6 474.3,640.1 476.0,640.8 473.9,639.1 475.0,638.8 474.0,640.4 476.0,639.7 474.7,641.4 476.7,641.1 474.7,643.3 476.3,643.3 475.1,644.8 476.6,644.4 475.3,646.1 477.3,646.0 475.2,648.1 477.2,647.9 475.3,649.5 477.6,648.9 475.8,651.3 477.4,650.2 476.0,652.4 478.4,651.7 476.3,653.6 478.4,653.7 477.5,655.0 476.8,656.8 478.6,655.6 477.5,657.7 479.0,657.7 478.1,659.4 480.2,658.9 478.6,660.8 480.5,660.4 478.7,662.2 480.0,662.5 480.5,662.7 479.0,664.2 480.6,664.2 479.6,666.4 481.3,666.1 479.4,667.2 480.8,667.5 479.0,669.4 481.5,668.8 479.4,670.6 481.4,670.4 479.6,672.4 481.2,672.1 479.4,674.1 481.3,673.6 479.7,674.9 481.4,674.8 480.0,676.7 481.4,676.5 479.5,677.9 481.6,678.3 479.7,679.9 481.5,679.8 480.1,681.1 482.1,680.8 479.7,682.7 481.8,682.9 480.1,684.7 481.6,684.3 480.4,686.2 481.8,685.7 480.6,687.6 482.1,687.0 480.1,689.2 481.9,689.0 481.2,690.0 481.0,690.8 481.8,691.3 481.2,692.4 481.7,692.8 481.2,693.8 481.8,694.3 481.4,695.5 482.0,695.7 481.4,696.9 482.2,697.3 481.7,698.5 482.3,698.8 481.9,699.9 482.4,700.3 482.0,701.5 482.5,701.9 482.0,702.9 482.7,703.3 482.1,704.5 482.7,704.9 482.4,705.9 482.8,706.5 482.5,707.3 483.0,707.9 482.6,708.8 483.2,709.4 482.8,710.3 483.2,710.9 482.9,711.9 483.3,712.3 482.8,713.4 483.4,713.7 483.2,714.9 483.7,715.4 483.1,716.3 483.8,716.7 483.2,718.0 483.9,718.4 483.3,719.4 483.8,720.0 483.2,719.1 484.6,718.7 482.8,717.3 485.0,717.9 483.2,715.7 485.0,715.8 483.8,713.8 485.5,714.9 484.0,713.0 486.1,712.6 483.8,711.0 485.8,711.7 484.3,709.2 486.2,710.3 484.1,708.1 486.6,708.6 484.6,706.9 486.8,707.1 485.2,705.4 486.5,705.3 485.5,703.2 487.0,704.2 486.2,702.5 485.2,701.3 487.1,701.4 485.5,699.4 487.8,699.9 486.2,698.1 487.8,698.7 485.7,696.4 487.9,697.3 486.4,694.9 488.1,695.2 486.5,693.6 488.0,694.4 486.6,692.3 488.3,692.9 486.8,690.4 488.7,691.1 486.4,688.9 488.9,689.6 487.3,688.0 489.0,687.7 487.0,686.3 488.9,686.8 487.0,684.5 489.1,685.1 487.0,682.8 489.4,683.2 487.2,682.1 489.2,682.1 488.0,680.0 488.8,680.0 490.0,679.6 487.8,677.3 490.3,678.7 488.2,676.2 490.7,677.1 488.6,675.0 490.6,675.3 489.2,673.5 491.0,673.3 489.4,671.9 491.6,671.8 489.3,670.3 491.8,670.6 490.3,668.4 492.0,669.0 491.2,667.5 490.7,666.3 492.7,666.7 490.9,664.9 492.9,664.7 490.9,663.2 492.7,663.1 491.4,661.5 492.9,661.9 491.3,660.6 492.8,660.8 491.2,658.9 493.2,658.7 491.8,657.2 493.8,657.6 491.5,655.2 493.8,655.7 492.4,654.1 493.6,654.8 492.6,653.1 494.6,653.0 492.4,651.1 494.0,651.4 492.8,649.5 494.8,650.2 493.8,648.8 494.0,649.4 493.5,650.3 494.1,650.8 493.6,651.8 494.3,652.4 493.8,653.5 494.3,653.9 494.0,655.0 494.6,655.4 494.1,656.5 494.7,656.9 494.1,658.1 494.7,658.4 494.2,659.4 495.0,660.0 494.3,661.0 495.1,661.3 494.4,662.4 495.1,662.9 494.5,664.0 495.3,664.5 494.7,665.4 495.2,666.0 494.9,667.0 495.5,667.5 494.9,668.5 495.6,669.1 495.1,669.9 495.6,670.4 495.3,671.5 495.7,671.9 495.2,673.1 496.0,673.4 495.4,674.7 496.0,675.1 495.5,676.1 496.2,676.6 495.5,677.6 496.2,678.0 495.8,679.0 496.4,679.5 495.8,680.7 496.3,681.2 495.8,682.0 496.6,682.6 496.1,683.5 496.6,684.0 496.3,685.0 496.7,685.5 496.2,686.6 496.9,687.1 496.3,688.1 497.0,688.6 496.6,689.6 497.2,690.1 496.7,691.1 497.2,691.7 497.0,692.5 497.3,691.9 496.9,690.9 497.6,690.3 496.9,689.4 497.6,688.9 497.1,687.8 497.8,687.3 497.4,686.3 498.0,685.8 497.3,684.8 497.9,684.3 497.5,683.1 498.0,682.7 497.6,681.6 498.2,681.3 497.9,680.2 498.3,679.8 498.0,678.7 498.4,678.2 498.0,677.0 498.6,676.6 498.1,675.7 498.8,675.2 498.3,674.2 498.8,673.7 498.4,672.5 499.1,672.1 498.4,671.2 499.1,670.6 498.8,669.4 499.2,669.1 498.9,668.0 499.4,667.5 499.0,666.4 499.6,665.9 499.0,665.0 499.6,664.4 499.2,663.4 499.9,662.9 499.3,661.9 499.9,661.4 499.5,660.3 500.1,659.9 499.7,658.9 500.3,658.4 500.0,657.5 501.0,657.4 500.0,659.7 501.8,659.3 500.2,661.5 501.9,660.6 500.8,662.7 502.5,662.2 500.8,664.5 503.5,663.5 502.5,665.0 503.5,664.6 501.4,663.0 503.8,663.0 501.9,661.6 504.2,661.6 501.7,659.8 503.8,660.2 501.9,658.1 504.4,658.7 502.3,657.1 504.6,657.2 502.4,655.4 504.7,655.6 502.9,653.4 504.9,654.2 502.6,652.0 504.7,652.9 502.7,650.5 504.9,651.0 503.6,648.9 505.4,649.5 503.4,647.4 504.8,647.8 503.7,646.0 505.3,646.4 503.3,644.6 505.3,644.4 503.6,643.0 505.7,642.9 504.4,642.0 505.0,641.2 503.8,642.2 505.9,642.3 504.3,643.8 506.4,643.7 504.1,645.3 506.2,645.7 504.8,646.9 506.1,646.6 505.0,648.9 507.0,648.1 505.4,650.2 507.2,649.8 505.0,651.7 507.3,651.4 505.4,653.2 507.2,653.3 505.3,655.1 507.5,654.9 505.7,656.5 507.2,656.1 505.6,657.9 507.5,658.0 505.8,659.1 507.9,659.1 505.9,660.6 508.4,660.4 505.9,662.2 508.4,662.3 506.2,664.2 508.3,663.3 507.5,665.0 508.4,664.7 506.5,663.2 509.0,663.1 506.5,661.7 508.4,661.8 507.2,660.0 508.7,660.4 506.9,658.2 508.7,658.3 507.2,657.2 509.4,657.2 507.1,655.1 509.5,655.9 507.6,654.0 509.1,654.3 507.6,652.2 509.6,652.6 507.5,650.9 509.5,651.4 507.8,649.0 510.3,649.6 508.5,647.8 510.0,648.0 508.0,646.5 510.6,646.3 508.6,644.5 510.1,645.2 509.5,643.8 509.7,644.4 509.3,645.3 509.9,645.8 509.2,646.8 509.8,647.4 509.3,648.4 510.0,648.7 509.4,649.8 509.9,650.5 509.5,651.4 510.0,651.9 509.5,653.0 510.1,653.5 509.6,654.3 510.2,654.9 509.6,656.0 510.1,656.4 509.5,657.3 510.2,657.8 509.7,658.9 510.2,659.3 509.7,660.4 510.3,660.8 509.8,661.8 510.3,662.4 509.9,663.4 510.4,663.9 509.8,664.8 510.3,665.3 510.0,666.5 510.5,666.8 509.8,667.9 510.5,668.4 509.9,669.4 510.6,669.7 510.0,670.9 510.7,671.4 510.1,672.4 510.7,672.7 510.1,673.9 510.6,674.4 510.1,675.3 510.8,675.9 510.2,676.8 510.5,677.5 510.8,678.1 510.4,679.2 510.8,679.7 510.3,680.7 510.9,681.2 510.4,682.1 510.9,682.7 510.2,683.7 510.8,684.1 510.4,685.2 510.9,685.7 510.3,686.6 511.0,687.2 510.3,688.2 510.8,688.6 510.4,689.7 511.0,690.1 510.4,691.1 511.1,691.6 510.5,692.8 511.1,693.2 510.5,694.1 511.0,694.8 510.5,695.8 510.9,696.2 510.5,697.3 511.0,697.7 510.6,698.6 511.2,699.3 510.6,700.3 511.1,700.7 510.7,701.7 511.2,702.2 510.5,703.3 511.1,703.9 510.7,704.8 511.2,705.3 510.6,706.2 511.2,706.8 510.7,707.8 511.1,708.2 510.6,709.3 511.2,709.8 510.8,710.8 511.2,711.3 510.7,712.2 511.2,712.7 510.7,713.7 511.4,714.4 510.8,715.2 511.3,715.7 510.9,716.9 511.4,717.2 510.8,718.3 511.2,718.9 510.7,719.8 511.5,720.2 510.7,721.2 511.4,721.7 510.9,722.8 511.3,723.3 510.9,724.3 511.4,724.8 511.0,725.9 511.5,726.4 511.0,727.4 511.4,728.0 510.9,728.9 511.4,729.4 510.9,730.5 511.5,730.8 511.0,731.9 511.2,732.5 511.5,733.2 511.0,734.1 511.4,734.7 511.0,735.6 511.6,736.1 511.0,737.3 511.6,737.6 511.1,738.8 511.7,739.1 511.0,740.2 511.6,740.8 511.1,741.7 511.7,742.1 511.1,743.3 511.6,743.8 511.1,744.7 511.7,745.3 511.2,746.3 511.6,746.6 511.1,747.6 511.7,748.2 511.2,749.4 511.6,749.8 511.1,750.8 511.7,751.1 511.3,752.1 511.7,752.8 511.2,753.7 511.8,754.3 511.2,755.3 511.7,755.7 511.3,756.7 511.7,757.2 511.2,758.3 511.7,758.8 511.3,759.8 511.8,760.4 511.4,761.4 511.9,761.9 511.4,762.8 511.9,763.4 511.2,764.2 512.0,765.0 511.3,766.0 511.9,766.3 511.4,767.5 512.0,767.9 511.3,769.0 511.8,769.4 511.3,770.4 512.0,770.9 511.4,771.8 511.9,772.3 511.5,773.5 512.0,773.9 511.5,774.8 511.9,775.3 511.3,776.5 511.9,776.8 511.5,777.9 512.1,778.4 511.4,779.4 511.9,780.0 511.5,780.9 512.0,781.5 511.6,782.6 512.0,783.1 511.6,784.0 511.9,784.5 511.7,785.5 512.1,786.0 511.6,787.1 512.2,787.4 511.4,788.6 512.1,789.0 511.6,790.1 512.0,790.6 511.6,791.5 512.3,792.1 511.7,793.0 512.3,793.6 511.6,794.6 512.3,795.1 511.6,796.2 512.3,796.5 511.7,797.6 512.3,798.0 511.6,799.1 512.3,799.6 511.8,800.5 512.2,801.2 511.8,802.1 512.2,802.6 511.6,803.6 512.3,804.1 512.0,805.0 511.7,806.0 512.3,806.4 511.8,807.3 512.2,808.0 511.8,808.8 512.3,809.4 511.9,810.5 512.3,810.9 511.8,812.0 512.4,812.5 511.8,813.4 512.4,814.0 511.9,814.8 512.5,815.5 511.9,816.5 512.3,817.0 511.9,818.0 512.5,818.3 511.9,819.3 512.4,820.1 512.0,821.0 512.5,821.6 512.0,822.6 512.5,823.0 512.0,823.9 512.4,824.4 512.1,825.5 512.6,826.1 512.0,827.0 512.5,827.4 511.9,828.5 512.5,829.0 512.0,830.1 512.5,830.5 512.0,831.5 512.6,832.0 512.0,833.1 512.5,833.5 511.9,834.6 512.6,835.1 512.1,836.0 512.6,836.6 512.1,837.5 512.6,838.1 512.0,839.1 512.6,839.6 512.2,840.6 512.7,841.1 512.1,842.1 512.5,842.7 512.1,843.7 512.7,844.1 512.2,845.0 512.7,845.5 512.2,846.5 512.7,847.0 512.1,848.1 512.8,848.6 512.3,849.5 512.8,850.1 512.3,851.1 512.7,851.6 512.5,852.5 512.7,852.0 512.3,850.9 512.7,850.4 512.2,849.3 513.0,849.0 512.3,848.0 512.9,847.4 512.4,846.4 512.8,845.9 512.4,844.9 513.0,844.4 512.6,843.3 513.0,842.9 512.4,841.7 513.0,841.3 512.6,840.3 513.2,839.9 512.5,838.7 513.1,838.3 512.5,837.3 513.3,836.9 512.7,835.8 513.3,835.2 512.8,834.4 513.2,833.9 512.6,832.7 513.3,832.3 512.7,831.3 513.4,830.7 512.9,829.8 513.3,829.3 512.9,828.3 513.5,827.8 512.8,826.7 513.4,826.2 512.9,825.1 513.4,824.7 513.0,823.8 513.5,823.3 513.0,822.2 513.6,821.7 513.1,820.8 513.7,820.3 513.1,819.1 513.7,818.8 513.1,817.6 513.6,817.3 513.2,816.1 513.8,815.6 513.2,814.8 513.8,814.1 513.3,813.2 513.9,812.7 513.4,811.6 513.8,811.2 513.3,810.1 513.9,809.8 513.3,808.6 514.0,808.2 513.5,807.2 514.1,806.7 513.3,805.6 513.8,805.0 514.1,804.4 513.5,803.3 514.3,803.0 513.7,801.9 514.1,801.5 513.7,800.4 514.2,799.9 513.7,798.9 514.4,798.5 513.8,797.3 514.4,796.9 513.9,795.7 514.5,795.4 513.9,794.3 514.6,793.9 514.2,792.9 514.8,792.4 514.1,791.4 514.8,790.8 514.2,789.8 514.8,789.4 514.4,788.4 515.0,787.8 514.5,786.9 515.0,786.5 514.5,785.4 515.2,785.0 514.6,783.9 515.1,783.3 514.7,782.3 515.1,781.9 514.8,780.8 515.3,780.4 514.7,779.4 515.4,778.8 515.0,777.8 515.5,777.3 514.8,776.3 515.5,775.9 515.0,774.9 515.6,774.4 515.1,773.4 515.7,772.8 515.2,771.9 515.5,771.2 515.4,772.2 515.9,772.6 515.4,773.7 516.0,774.0 515.6,775.0 516.1,775.6 515.6,776.7 516.1,777.2 515.6,778.3 516.2,778.7 515.8,779.6 516.5,780.2 515.8,781.3 516.6,781.8 516.1,782.8 516.5,783.2 516.2,784.3 516.6,784.8 516.1,785.8 516.8,786.1 516.3,787.2 517.0,787.8 516.5,788.7 517.0,789.3 516.6,790.2 517.2,790.8 516.6,791.9 517.3,792.4 516.6,793.5 517.4,793.8 516.8,794.9 517.3,795.4 516.9,796.4 517.7,796.7 517.0,798.0 517.6,798.2 517.3,799.5 517.5,800.0 517.4,799.1 517.9,798.5 517.3,797.5 517.9,797.1 517.4,796.1 517.9,795.6 517.5,794.7 518.1,794.1 517.6,793.0 518.2,792.7 517.9,791.7 518.3,791.2 518.0,790.2 518.6,789.6 518.1,788.7 518.5,788.1 518.1,787.1 518.6,786.6 518.2,785.6 518.7,785.2 518.4,784.0 518.8,783.7 518.5,782.6 518.9,782.2 518.4,781.0 519.2,780.6 518.6,779.6 519.1,779.1 518.6,778.2 519.3,777.6 518.8,776.7 519.4,776.1 518.9,775.1 519.3,774.5 518.9,773.7 519.5,773.2 519.2,772.0 519.6,771.8 519.2,770.6 519.5,770.0 519.9,769.3 519.3,768.3 520.0,767.9 519.4,766.9 520.0,766.3 519.7,765.2 520.0,764.8 519.7,763.9 520.4,763.3 519.7,762.2 520.4,761.9 520.0,760.8 520.4,760.3 520.0,759.1 520.5,758.7 520.0,757.6 520.7,757.2 520.1,756.2 520.9,755.6 520.2,754.7 521.0,754.3 520.5,753.2 521.1,752.7 520.6,751.5 521.1,751.1 520.6,750.1 521.1,749.7 520.7,748.6 521.3,748.1 520.9,747.1 521.5,746.7 521.1,745.6 521.6,745.2 521.0,744.1 521.7,743.4 521.3,742.6 521.8,742.1 521.2,741.0 522.0,740.5 521.5,739.3 521.9,739.1 521.6,737.8 522.1,737.4 521.7,736.4 522.3,735.9 522.0,735.0 520.7,733.6 523.4,733.7 521.1,732.1 523.6,732.4 521.5,730.4 523.2,730.8 521.4,729.0 523.6,729.0 521.6,727.6 523.5,727.8 522.3,725.8 524.2,726.8 522.0,724.8 524.0,725.2 522.8,723.2 523.9,723.0 522.7,721.4 524.0,722.0 522.7,720.2 524.2,720.2 523.0,718.4 524.4,718.6 523.0,717.3 524.9,717.5 523.1,715.7 525.2,715.3 523.7,714.3 525.3,713.9 523.7,712.7 525.8,712.3 523.5,710.5 525.5,711.1 524.0,709.0 525.9,709.2 523.8,708.0 525.0,707.5 524.3,708.6 526.3,708.3 524.5,710.4 526.3,710.1 524.7,712.1 527.1,711.2 525.3,713.9 527.8,712.7 525.6,714.8 527.6,714.4 526.2,716.9 528.4,716.2 527.5,717.5 528.2,717.4 527.1,715.5 528.5,715.6 526.8,713.8 528.9,713.8 526.7,712.2 529.3,712.8 527.1,710.5 529.4,711.3 527.8,709.8 529.5,709.9 527.7,708.0 529.4,708.3 527.5,706.5 529.4,706.3 527.7,704.9 530.1,705.0 528.3,703.3 529.6,703.8 528.6,701.8 530.0,701.5 528.6,699.7 530.6,700.4 528.2,698.2 530.7,699.1 528.6,697.0 530.8,697.4 528.4,695.8 531.1,696.1 529.1,693.7 530.0,693.8 529.4,694.9 531.2,694.3 529.6,696.8 531.4,695.9 529.7,698.2 531.8,697.4 529.5,699.9 531.7,699.2 530.2,701.1 532.2,700.4 530.5,702.4 531.8,702.1 530.5,704.3 531.9,704.0 530.0,705.4 532.4,705.5 530.4,706.8 532.7,707.1 530.4,708.6 532.8,708.8 530.6,710.4 533.2,709.7 531.5,711.9 532.9,711.7 531.0,713.4 533.1,713.3 531.4,714.4 532.5,715.0 531.9,714.1 533.3,714.2 532.1,711.8 533.6,712.7 531.8,710.5 534.0,710.7 531.9,708.8 534.1,709.2 532.7,707.9 534.7,707.8 532.7,706.1 534.0,706.6 532.5,704.7 534.2,705.2 532.6,702.8 534.5,703.7 532.9,701.9 535.4,702.1 533.5,699.7 535.2,700.4 533.8,698.8 535.6,698.4 534.5,697.5 535.2,698.1 533.6,699.2 535.8,699.3 533.6,701.4 536.1,701.0 534.1,702.7 535.7,701.9 534.2,704.1 535.7,703.6 534.4,705.4 536.3,705.0 534.6,706.7 535.9,706.5 534.2,708.7 536.6,708.5 534.5,709.6 536.3,709.7 534.8,711.7 536.3,711.3 534.6,712.8 536.8,712.8 535.3,714.1 536.9,714.0 534.8,716.3 537.0,715.5 534.8,717.6 537.0,717.5 535.5,718.6 536.8,718.9 536.2,720.0 537.0,719.8 535.2,718.1 537.7,718.5 535.9,716.4 537.2,716.3 536.0,715.2 537.2,714.7 535.6,713.0 538.1,713.2 536.4,711.5 537.8,711.9 536.0,710.2 537.9,710.2 536.6,708.6 538.5,708.6 536.7,707.2 538.1,707.4 536.5,705.8 538.1,705.8 536.4,704.4 538.6,704.6 536.8,702.7 539.1,703.1 536.5,701.2 538.8,701.2 538.0,700.0 537.7,699.1 538.3,698.6 537.7,697.6 538.3,697.0 537.9,696.2 538.6,695.6 537.9,694.6 538.5,694.0 537.9,693.1 538.5,692.6 537.9,691.4 538.6,691.1 538.0,690.1 538.6,689.6 538.2,688.6 538.8,688.0 538.2,687.1 538.7,686.6 538.2,685.5 538.9,685.0 538.3,683.9 539.0,683.6 538.3,682.6 538.8,682.1 538.6,681.1 539.0,680.6 538.4,679.4 539.2,679.0 538.6,678.1 539.1,677.4 538.5,676.4 539.2,675.9 538.6,675.0 539.3,674.4 538.8,673.5 539.3,672.9 538.8,671.9 539.3,671.4 538.8,670.5 539.4,669.9 539.0,669.0 539.5,668.5 538.9,667.4 539.5,666.9 538.9,665.9 539.6,665.4 539.1,664.3 539.6,664.0 539.2,662.9 539.6,662.3 539.2,661.4 539.8,660.9 539.5,660.0 538.4,658.9 540.9,659.0 538.7,657.2 540.6,657.8 539.0,655.4 541.1,656.2 539.0,653.9 541.7,654.4 539.7,652.3 541.8,653.3 539.8,651.2 542.1,651.2 540.3,649.9 541.8,649.8 540.3,648.1 541.7,648.2 540.4,646.9 542.3,647.2 540.5,644.6 542.9,645.4 541.3,643.9 542.9,644.1 542.0,642.5 542.9,643.1 541.1,644.7 543.2,644.6 541.5,646.2 543.6,645.5 542.1,648.0 543.5,647.5 542.1,649.5 543.8,649.4 542.2,650.6 543.7,651.0 542.5,652.4 543.9,652.5 542.3,654.1 545.0,653.6 543.8,655.0 545.1,655.0 543.1,653.4 544.6,653.5 543.0,651.6 544.7,651.8 542.9,650.1 545.6,650.3 543.7,648.7 545.5,649.1 543.9,647.1 545.2,646.9 544.0,645.4 545.4,645.7 544.1,644.1 545.7,643.8 544.4,642.7 545.5,642.7 544.6,640.8 546.5,641.2 544.5,639.4 546.2,639.4 544.9,638.1 545.5,637.5 546.4,637.2 545.5,635.6 547.5,636.0 546.1,633.6 548.1,635.0 546.6,632.3 548.0,632.5 547.4,633.4 549.3,633.5 547.6,634.9 549.0,634.7 547.6,637.1 549.8,636.6 548.0,638.6 549.5,637.9 547.6,639.8 549.8,639.1 547.9,641.7 550.3,641.2 548.8,642.3 550.7,642.4 548.3,644.7 550.3,643.6 549.0,645.5 550.5,645.1 548.6,647.2 550.0,647.5 550.9,647.5 548.9,649.8 550.9,649.5 549.2,651.3 551.2,650.5 549.6,652.5 551.6,652.2 549.2,654.3 551.2,653.6 549.3,655.4 551.4,655.0 549.2,657.4 551.3,656.6 549.6,658.8 551.3,658.3 550.0,660.2 551.8,660.2 550.2,661.2 551.8,661.0 550.1,662.6 551.9,662.7 550.1,664.3 551.7,664.5 549.8,665.9 552.1,665.7 550.4,667.3 552.2,667.0 549.9,668.7 551.9,669.1 551.2,670.0 551.1,671.3 553.0,669.9 551.7,672.6 553.6,671.9 552.7,674.0 553.8,673.8 554.9,674.1 553.6,676.2 555.5,675.2 554.0,677.2 556.1,677.1 554.3,679.4 556.5,678.6 555.3,680.6 556.6,679.9 556.2,681.2 555.3,682.7 557.1,682.1 555.2,684.0 557.4,683.6 555.4,685.7 558.0,685.0 555.4,686.8 557.9,687.0 556.3,688.3 558.3,688.4 556.3,690.4 558.4,689.5 556.4,691.8 557.8,691.7 556.8,692.8 558.1,692.5 556.6,694.8 558.4,694.3 556.8,695.6 558.5,695.4 556.4,697.9 558.4,697.3 556.7,698.7 558.5,699.0 558.0,700.0 557.5,701.5 559.3,700.6 557.7,703.0 559.5,702.8 557.8,704.7 559.6,704.4 557.9,706.0 559.2,705.7 558.1,707.1 559.7,707.1 557.6,708.6 559.7,709.1 558.0,710.2 559.8,709.9 558.1,712.2 560.2,712.0 558.2,714.0 559.9,713.1 558.7,714.9 560.6,714.6 559.0,716.4 560.6,716.7 558.8,718.6 560.3,718.0 559.3,719.4 560.0,720.0 560.3,720.5 559.8,721.7 560.5,722.0 559.8,723.1 560.4,723.5 560.0,724.7 560.5,725.0 560.2,726.0 560.6,726.6 560.3,727.7 560.9,728.1 560.3,729.1 560.9,729.7 560.6,730.6 561.1,731.0 560.5,732.1 561.1,732.7 560.7,733.8 561.2,734.1 560.7,735.1 561.3,735.6 560.8,736.7 561.5,737.2 560.9,738.1 561.6,738.7 561.0,739.5 561.6,740.1 561.3,741.0 561.7,741.6 561.3,742.5 561.8,743.1 561.4,744.2 561.8,744.6 561.4,745.5 562.0,746.1 561.4,747.2 562.2,747.6 561.7,748.7 562.3,749.1 562.0,750.0 560.8,750.9 563.4,751.1 561.2,753.0 562.9,752.5 561.8,753.8 563.7,754.2 561.6,755.4 563.8,755.5 561.3,757.1 563.5,757.2 561.6,758.9 563.7,758.4 562.0,760.6 563.3,760.3 561.8,762.2 564.2,761.7 561.7,763.2 564.0,762.9 562.1,765.1 564.4,764.6 562.0,766.1 564.4,766.3 562.3,767.6 564.8,767.3 562.6,769.6 564.1,768.8 562.5,770.3 564.5,770.8 562.3,771.9 563.8,772.5 563.5,771.6 564.0,771.2 563.5,770.1 564.1,769.5 563.7,768.7 564.1,768.1 563.7,767.0 564.2,766.5 563.7,765.5 564.3,765.0 563.9,764.1 564.3,763.6 563.9,762.6 564.5,761.9 564.0,760.9 564.6,760.5 564.0,759.5 564.5,759.1 563.9,757.9 564.6,757.6 564.0,756.5 564.7,755.9 564.0,754.8 564.7,754.5 564.3,753.5 564.8,752.8 564.3,751.8 564.8,751.3 564.4,750.4 564.9,750.0 564.5,748.9 564.9,748.3 564.5,747.4 565.0,746.8 564.5,745.8 565.2,745.3 564.6,744.4 565.1,743.8 564.7,742.8 565.2,742.3 564.6,741.2 565.1,740.7 564.7,739.7 565.3,739.2 564.8,738.2 565.3,737.8 564.9,736.7 565.4,736.1 564.8,735.1 565.6,734.8 564.9,733.7 565.5,733.3 565.0,732.2 565.5,731.7 565.0,730.6 565.5,730.1 565.1,729.2 565.8,728.8 565.1,727.7 565.8,727.2 565.5,726.2 565.8,726.8 565.3,728.0 566.0,728.3 565.4,729.5 566.0,729.8 565.5,730.8 566.1,731.4 565.5,732.3 566.3,732.9 565.8,733.9 566.2,734.2 565.7,735.3 566.3,736.0 565.9,736.9 566.4,737.3 566.0,738.5 566.6,738.9 565.9,739.8 566.5,740.5 566.0,741.4 566.8,741.7 566.3,743.0 566.7,743.3 566.2,744.4 567.0,744.8 566.4,745.8 566.9,746.5 566.5,747.4 567.0,747.9 566.7,748.8 567.2,749.4 566.6,750.3 567.3,750.9 566.6,752.0 567.4,752.4 566.8,753.3 567.5,753.8 567.0,754.8 567.4,755.4 566.9,756.5 567.5,756.8 567.2,757.9 567.7,758.5 567.1,759.4 567.5,760.0 566.2,758.6 568.7,758.7 566.8,756.9 568.7,757.6 567.0,755.9 568.4,755.7 567.3,754.6 568.6,754.7 566.7,752.5 569.4,752.8 567.0,751.3 569.5,751.3 567.6,749.7 569.1,749.8 567.4,748.0 569.9,748.7 567.9,746.8 569.7,747.1 567.5,745.2 570.2,745.5 568.0,744.1 569.7,744.0 568.5,742.3 569.7,742.3 567.9,740.4 569.8,741.1 568.4,739.6 570.1,739.5 568.6,737.7 569.5,737.5 569.4,738.4 569.9,738.9 569.3,740.0 570.0,740.3 569.4,741.5 569.9,741.8 569.5,742.9 570.1,743.4 569.5,744.4 570.0,744.9 569.6,745.9 570.1,746.5 569.6,747.5 570.1,747.9 569.7,749.0 570.3,749.5 569.9,750.4 570.3,750.9 569.7,752.0 570.4,752.5 569.8,753.4 570.5,754.0 569.9,755.0 570.5,755.3 570.1,756.4 570.6,757.0 570.1,758.1 570.6,758.5 570.1,759.4 570.6,760.1 570.0,761.1 570.7,761.6 570.1,762.6 570.7,762.9 570.3,764.2 570.8,764.5 570.5,765.6 570.8,765.9 570.5,767.1 570.9,767.5 570.4,768.7 571.1,769.1 570.6,770.0 571.0,770.6 570.6,771.7 571.0,772.1 570.6,773.0 571.3,773.6 570.6,774.5 571.4,775.1 570.9,776.0 571.3,776.7 570.9,777.7 571.4,778.1 570.8,779.0 571.4,779.5 571.0,780.5 571.2,781.2 572.0,781.3 570.1,783.3 572.6,783.0 571.0,784.7 572.5,784.8 570.7,786.1 572.7,785.9 571.5,788.3 573.1,787.5 571.6,789.2 573.5,788.7 571.9,791.2 573.1,791.1 571.6,792.2 573.9,791.9 572.1,793.8 573.8,793.6 572.5,795.8 573.7,795.5 572.6,796.8 574.2,797.0 572.1,799.1 574.6,798.4 572.5,800.1 574.5,799.9 573.8,801.2 574.0,800.6 573.5,799.5 574.2,799.2 573.7,798.2 574.1,797.6 573.6,796.5 574.4,796.2 573.8,795.2 574.3,794.5 573.7,793.5 574.4,793.1 573.9,792.0 574.5,791.7 573.9,790.5 574.7,790.0 574.0,789.0 574.6,788.5 574.1,787.4 574.6,787.1 574.1,786.1 574.8,785.5 574.3,784.6 574.8,784.1 574.3,782.9 574.9,782.5 574.5,781.5 575.0,781.1 574.6,779.9 575.0,779.6 574.7,778.4 575.2,777.9 574.7,777.0 575.1,776.4 574.8,775.4 575.4,775.0 574.8,773.9 575.3,773.5 574.8,772.5 575.4,771.8 574.9,771.0 575.6,770.3 574.9,769.5 575.6,769.0 575.0,767.8 575.6,767.5 575.2,766.5 575.7,766.0 575.5,765.0 575.4,764.1 575.9,763.7 575.4,762.7 576.0,762.0 575.4,761.1 575.9,760.5 575.4,759.6 576.2,759.0 575.5,758.1 576.2,757.6 575.6,756.4 576.2,756.2 575.7,754.9 576.2,754.7 575.7,753.5 576.3,753.1 575.9,751.9 576.6,751.6 575.9,750.5 576.6,750.0 576.1,749.1 576.5,748.4 576.0,747.4 576.7,746.9 576.1,746.0 576.7,745.4 576.3,744.4 576.9,744.0 576.4,742.9 576.9,742.4 576.4,741.5 577.1,741.0 576.4,740.0 577.0,739.4 576.5,738.3 577.2,737.9 576.7,736.8 577.2,736.3 576.6,735.4 577.3,734.9 576.9,733.8 577.5,733.4 576.8,732.2 577.6,731.7 577.0,730.8 577.6,730.2 577.0,729.2 577.5,728.8 577.1,727.8 577.7,727.3 577.2,726.2 577.6,725.6 577.1,724.6 577.9,724.4 577.3,723.2 577.9,722.7 577.3,721.6 577.9,721.1 577.5,720.2 578.1,719.8 577.5,718.8 578.1,718.1 577.6,717.1 578.2,716.6 577.8,715.5 578.0,715.0 576.8,716.3 578.7,715.9 577.4,717.7 579.2,717.7 577.8,719.4 579.4,719.1 577.5,720.9 579.3,720.8 577.8,722.5 579.9,721.9 578.2,724.1 580.0,723.8 578.5,725.5 580.4,724.7 578.1,727.2 580.4,726.9 578.7,728.8 580.3,728.2 578.7,729.6 580.3,730.0 578.7,731.8 580.5,731.5 580.0,732.5 581.4,732.0 579.0,730.4 581.5,731.0 579.7,728.8 581.5,728.8 579.1,727.6 581.4,727.7 579.6,725.9 581.2,726.4 579.8,724.7 581.7,724.4 580.0,722.7 582.1,722.9 580.3,721.0 582.1,721.4 580.1,720.1 581.8,720.2 580.7,718.7 582.4,719.0 580.9,716.6 582.1,716.7 581.1,715.7 582.8,715.9 581.2,714.1 582.3,713.9 581.1,712.5 583.1,712.2 582.0,711.2 582.4,711.9 581.8,712.8 582.4,713.3 582.1,714.4 582.6,714.8 582.1,715.8 582.8,716.3 582.2,717.4 582.9,718.0 582.4,719.0 583.1,719.3 582.6,720.4 583.1,721.0 582.8,722.1 583.2,722.5 582.9,723.4 583.5,724.0 582.9,725.1 583.6,725.4 583.1,726.6 583.7,727.1 583.2,728.0 583.8,728.4 583.3,729.5 584.0,730.1 583.5,730.9 584.1,731.5 583.6,732.6 584.1,733.1 583.7,734.1 584.3,734.5 583.8,735.7 584.3,736.1 584.1,737.0 584.5,737.6 584.2,738.7 584.7,739.1 584.5,740.0 584.2,741.2 586.0,740.7 583.9,743.1 586.3,742.4 584.3,744.4 586.3,744.2 584.8,745.6 586.7,745.3 585.3,747.4 587.5,746.9 585.7,748.5 587.7,748.0 586.1,750.3 588.3,749.4 587.5,751.2 588.5,751.0 586.5,748.8 588.5,749.6 587.2,747.8 589.2,747.9 586.9,746.1 589.5,746.2 587.6,745.0 589.7,745.3 587.7,743.1 590.0,743.4 588.1,741.9 590.2,742.2 588.1,739.8 590.4,740.5 588.7,738.4 590.6,738.8 589.5,737.5 589.8,738.1 589.5,739.1 590.0,739.5 589.6,740.7 590.1,741.2 589.8,742.1 590.3,742.7 589.9,743.7 590.5,744.0 589.9,745.1 590.6,745.6 590.1,746.7 590.7,747.2 590.2,748.2 590.9,748.6 590.3,749.6 591.1,750.0 590.5,751.0 591.2,751.5 590.8,752.6 591.5,753.1 590.9,754.2 591.6,754.6 590.9,755.7 591.6,756.1 591.2,757.0 591.8,757.7 591.4,758.7 592.1,759.2 591.6,760.1 592.1,760.7 591.6,761.6 592.3,762.2 591.7,763.1 592.4,763.5 592.1,764.6 592.4,765.0 592.0,766.1 592.8,766.7 592.5,767.5 591.7,769.0 593.7,768.9 592.3,770.0 594.2,769.7 592.2,771.5 594.1,771.8 591.9,773.8 594.4,772.8 592.2,775.3 594.3,774.5 593.1,776.6 594.5,775.8 592.6,778.0 594.9,777.6 592.9,779.2 594.7,779.5 593.0,781.5 595.3,780.6 593.3,782.4 595.1,782.3 593.4,784.2 595.7,784.0 594.0,785.4 595.6,785.4 594.3,787.6 595.0,787.5 594.6,786.1 595.9,786.8 594.5,785.1 596.4,784.8 594.1,783.0 596.3,783.5 594.4,781.7 596.2,782.0 594.6,780.5 596.3,780.2 595.2,778.5 596.6,778.6 594.7,776.8 596.5,777.3 594.7,775.3 597.4,775.5 595.5,774.1 596.9,773.8 595.6,772.4 597.5,772.9 595.9,770.6 597.5,770.9 596.1,769.0 597.2,769.3 595.9,767.5 596.8,767.5 596.4,768.5 597.2,768.8 596.6,769.8 597.1,770.5 596.8,771.3 597.2,772.0 596.8,773.0 597.2,773.4 596.7,774.3 597.4,774.9 597.0,776.0 597.5,776.5 596.8,777.5 597.5,778.0 597.1,779.0 597.6,779.5 597.2,780.5 597.6,781.0 597.0,782.0 597.6,782.4 597.2,783.5 597.9,784.0 597.2,784.9 597.8,785.6 597.4,786.5 597.8,787.0 597.5,788.0 598.0,788.6 597.5,789.6 598.1,790.1 597.6,791.1 598.2,791.6 597.7,792.6 598.3,793.1 597.6,794.1 598.4,794.5 597.7,795.6 598.3,796.1 597.9,797.2 598.4,797.6 597.8,798.6 598.6,799.1 598.2,800.0 598.6,799.3 597.9,798.4 598.6,797.8 598.0,796.9 598.5,796.3 598.0,795.4 598.5,794.9 598.1,793.7 598.5,793.3 598.0,792.3 598.6,791.8 598.2,790.9 598.6,790.2 598.1,789.4 598.6,788.8 598.1,787.8 598.7,787.3 598.3,786.2 598.7,785.7 598.3,784.8 598.7,784.2 598.4,783.3 598.8,782.7 598.4,781.7 598.7,781.2 598.4,780.4 598.8,779.7 598.3,778.8 598.8,778.3 598.3,777.2 598.8,776.8 598.3,775.8 599.0,775.2 598.4,774.3 598.9,773.6 598.5,772.6 599.1,772.2 598.4,771.2 599.0,770.6 598.4,769.7 599.1,769.3 598.5,768.2 599.1,767.7 598.5,766.7 599.0,766.1 598.4,765.1 599.0,764.6 598.6,763.6 599.3,763.2 598.7,762.0 599.3,761.7 598.5,760.6 599.2,760.2 598.6,759.0 599.3,758.6 598.6,757.6 599.3,757.1 598.7,756.0 599.3,755.6 598.8,754.7 599.2,754.1 598.9,753.0 599.2,752.5 598.8,751.5 599.4,751.2 598.9,750.1 599.4,749.6 598.7,748.5 599.3,748.0 598.9,747.0 599.3,746.6 598.8,745.6 599.6,745.1 598.9,743.9 599.6,743.6 599.0,742.5 599.5,742.0 599.0,741.1 599.4,740.6 599.0,739.4 599.5,739.0 599.1,738.1 599.6,737.4 599.1,736.5 599.6,736.1 599.0,735.0 599.6,734.5 599.2,733.5 599.6,733.0 599.1,732.0 599.8,731.5 599.2,730.4 599.5,730.0 599.2,728.8 599.8,728.5 599.2,727.5 599.6,726.9 599.3,725.9 599.8,725.3 599.2,724.4 599.5,723.8 599.4,724.6 599.9,725.2 599.4,726.1 600.0,726.5 599.5,727.7 599.9,728.3 599.5,729.2 599.9,729.5 599.6,730.6 600.2,731.2 599.7,732.2 600.1,732.7 599.6,733.8 600.2,734.3 599.8,735.3 600.3,735.8 599.9,736.6 600.3,737.2 599.8,738.3 600.3,738.8 599.8,739.8 600.6,740.3 599.9,741.1 600.6,741.8 600.0,742.8 600.6,743.2 600.0,744.4 600.7,744.7 600.2,745.8 600.7,746.3 600.4,747.2 600.9,747.8 600.4,748.9 600.8,749.3 600.4,750.2 601.1,750.7 600.4,751.8 601.1,752.2 600.4,753.2 601.0,753.9 600.7,754.9 601.0,755.3 600.7,756.4 601.1,756.8 600.6,757.8 601.3,758.3 600.8,759.4 601.5,759.9 600.9,760.8 601.4,761.4 600.8,762.4 601.6,762.8 601.2,763.8 601.6,763.1 601.0,762.2 601.6,761.7 601.0,760.7 601.7,760.1 601.2,759.1 601.8,758.7 601.3,757.5 602.0,757.2 601.4,756.0 602.1,755.5 601.6,754.5 602.1,754.1 601.5,753.1 602.3,752.6 601.6,751.5 602.3,751.0 601.8,750.0 602.4,749.5 602.0,748.4 602.3,748.1 602.0,747.0 602.5,746.5 602.1,745.6 602.6,745.0 602.1,744.1 602.6,743.6 602.2,742.4 602.7,742.0 602.2,740.9 602.8,740.6 602.4,739.4 602.9,738.9 602.6,738.0 603.1,737.4 602.6,736.5 603.1,735.9 602.6,734.9 603.1,734.6 602.8,733.4 603.2,733.0 602.8,731.9 603.3,731.5 603.0,730.3 603.4,729.9 602.9,729.0 603.6,728.4 603.1,727.4 603.6,726.9 603.0,725.8 603.7,725.5 603.2,724.4 603.7,723.9 603.4,722.8 603.9,722.3 603.3,721.2 604.0,721.0 603.8,720.0 603.0,719.1 604.8,718.9 602.7,717.2 605.4,717.2 603.3,716.1 604.7,716.1 603.8,714.5 605.2,714.8 603.8,713.1 605.6,713.1 604.0,710.8 605.9,711.8 603.5,709.6 605.9,709.6 603.8,708.2 605.7,708.2 604.5,706.4 606.3,706.5 604.3,705.5 606.2,705.1 604.0,703.7 606.4,703.6 604.2,702.4 606.3,702.1 604.5,700.6 607.0,700.7 605.2,699.1 606.4,699.0 605.0,697.4 606.7,697.5 605.2,696.0 607.1,696.4 606.2,695.0 607.0,695.7 606.0,697.3 607.8,697.0 606.1,698.5 608.3,698.3 606.1,700.0 607.8,700.2 606.5,701.8 608.9,701.1 606.8,703.9 609.3,702.6 607.6,704.8 608.9,704.5 607.5,706.2 609.1,706.2 608.8,707.5 609.1,706.9 608.6,705.8 609.3,705.4 608.8,704.4 609.5,703.7 609.0,702.9 609.5,702.4 609.1,701.3 609.7,700.9 609.3,699.7 609.7,699.2 609.4,698.1 610.0,697.8 609.5,696.8 610.1,696.1 609.7,695.1 610.1,694.7 609.9,693.6 610.5,693.1 609.9,692.0 610.4,691.6 609.9,690.5 610.6,690.2 610.1,689.1 610.7,688.6 610.3,687.4 610.9,687.1 610.5,686.0 610.9,685.7 610.5,684.6 611.1,684.0 610.8,682.9 611.4,682.6 610.8,681.5 611.4,681.0 611.0,680.0 611.7,679.6 611.2,678.5 611.7,677.9 611.3,676.8 612.0,676.4 611.5,675.4 612.2,674.9 611.5,673.8 612.2,673.4 612.0,672.5 613.3,672.5 610.9,674.5 613.7,674.1 611.3,676.2 613.6,675.4 612.2,677.3 613.8,676.9 612.4,679.3 613.7,678.9 612.4,680.8 614.3,679.9 612.4,682.0 614.5,681.8 612.5,683.5 614.5,683.4 613.3,685.3 615.2,684.9 613.4,686.9 615.7,686.3 614.5,687.5 615.9,686.9 613.3,685.6 616.1,685.4 613.8,683.6 616.1,684.4 614.4,682.7 616.4,683.1 614.5,681.1 616.3,681.1 614.7,679.2 616.0,679.9 614.7,678.0 616.8,678.5 614.5,676.9 616.9,677.1 615.4,675.3 617.0,675.6 615.1,673.1 616.6,673.5 615.0,671.7 616.9,672.3 615.5,670.3 617.2,670.6 615.4,668.8 617.4,669.4 616.0,667.5 617.4,667.6 616.0,666.3 617.7,666.1 617.0,665.0 617.8,665.2 615.9,667.4 618.0,667.1 616.8,668.8 618.6,668.0 616.3,670.0 618.2,670.1 616.9,671.7 618.3,671.3 617.3,672.7 618.9,672.6 616.7,674.4 618.8,674.6 617.6,675.6 618.8,676.1 617.5,677.5 619.8,677.2 618.0,678.7 619.8,678.3 618.8,680.0 619.1,679.3 618.6,678.4 619.2,677.8 618.8,677.0 619.4,676.5 618.7,675.4 619.5,674.8 619.1,674.0 619.5,673.5 619.1,672.4 619.7,671.9 619.3,670.9 619.9,670.4 619.2,669.3 619.9,669.0 619.4,667.9 620.0,667.4 619.7,666.4 620.1,665.9 619.6,664.8 620.3,664.4 619.8,663.3 620.4,662.8 620.0,661.7 620.7,661.4 620.2,660.3 620.6,659.9 620.2,658.7 620.7,658.3 620.4,657.3 621.1,656.8 620.6,655.9 621.2,655.3 620.6,654.3 621.2,653.8 620.8,652.8 621.3,652.4 620.8,651.3 621.4,650.9 621.2,650.0 620.1,648.9 622.7,649.1 620.7,647.3 623.1,647.4 621.2,646.0 623.3,646.3 621.7,644.4 623.0,644.0 621.6,642.2 623.7,642.9 621.4,641.0 623.6,641.1 623.0,640.0 624.2,640.1 622.8,642.0 624.9,641.1 622.8,643.9 624.8,643.0 623.1,644.9 625.3,644.5 623.8,646.5 625.3,645.9 624.4,647.9 625.6,647.5 624.8,649.7 626.0,648.7 625.0,651.3 626.6,650.7 625.0,652.2 626.2,652.5 625.1,651.2 627.1,651.6 625.8,650.0 627.1,649.8 625.9,648.6 627.5,648.5 625.8,646.7 627.9,647.1 626.0,644.9 627.6,645.3 626.6,643.4 628.4,644.0 626.0,642.2 628.5,642.9 626.6,640.9 628.2,641.4 626.6,639.4 628.0,639.4 626.3,637.8 628.9,638.4 626.5,636.0 628.7,636.3 626.6,634.4 629.1,634.7 627.0,633.1 628.7,633.3 627.3,632.0 628.8,631.7 627.4,630.7 629.6,630.5 627.7,629.0 629.3,629.1 627.5,627.3 629.8,627.6 628.8,626.2 630.0,626.2 627.8,628.0 629.9,628.4 628.0,629.7 630.6,629.6 628.9,631.6 630.2,631.3 628.8,633.1 630.7,632.5 628.8,635.0 631.1,634.2 629.3,636.0 631.5,635.7 629.3,637.9 631.6,636.9 629.8,639.4 632.0,638.8 629.7,640.6 631.6,640.1 630.2,642.7 631.2,642.5 630.4,641.3 632.1,641.8 631.0,639.9 632.8,640.2 631.1,638.4 633.3,638.6 631.6,636.1 633.4,637.1 632.1,635.1 633.9,635.5 631.9,633.1 633.6,634.0 632.8,632.0 634.2,632.1 633.0,630.3 633.8,630.0 634.6,629.9 633.8,628.2 635.9,628.5 634.6,626.2 636.3,627.7 635.3,625.0 637.1,625.9 635.4,623.5 637.0,623.8 635.9,625.1 637.9,624.5 636.0,626.2 638.3,626.1 636.5,628.1 638.6,628.1 636.7,629.4 638.9,629.1 636.9,631.5 638.8,630.8 637.2,633.0 639.0,632.1 637.4,634.2 639.3,634.2 637.1,636.2 639.0,635.4 637.7,637.2 639.3,636.9 637.5,638.9 639.7,638.4 638.8,640.0 639.5,640.0 638.0,637.8 640.2,638.0 638.1,636.3 639.6,636.6 638.2,634.9 640.2,635.4 638.7,633.2 640.1,633.3 638.6,632.2 640.4,631.8 638.7,630.6 641.0,630.4 638.9,628.7 640.9,628.7 638.6,627.4 640.5,627.4 639.0,625.9 641.2,625.9 638.9,623.8 641.4,624.1 639.4,622.7 641.2,622.7 639.4,621.5 641.1,621.3 639.2,619.7 641.9,620.1 639.7,617.7 641.8,618.6 639.9,616.3 642.1,616.4 639.7,615.4 642.1,614.9 640.0,613.6 641.8,614.0 641.2,612.5 640.8,610.9 642.3,611.6 641.1,609.4 642.7,610.0 641.6,608.3 642.9,608.2 642.0,606.4 643.3,606.6 641.8,604.8 643.6,605.6 642.4,603.3 644.7,604.0 643.8,602.5 643.4,601.7 644.5,601.4 643.3,599.5 644.7,599.6 643.9,598.4 645.6,598.8 644.2,596.7 645.3,596.8 644.2,595.5 645.6,595.3 644.4,593.7 646.1,594.2 644.7,592.6 646.4,592.4 645.0,590.8 646.9,591.1 644.9,589.6 646.8,589.7 645.0,587.5 646.2,587.5 646.1,589.1 647.2,588.3 646.3,590.7 648.3,589.6 647.0,591.9 648.2,591.5 647.5,593.1 648.7,592.9 648.0,594.6 648.8,595.0 647.9,593.8 649.9,594.3 648.3,591.9 650.4,592.3 648.9,590.3 650.7,590.9 648.6,589.4 650.4,589.6 649.5,587.4 650.7,588.0 649.8,586.1 651.3,586.4 649.5,584.8 651.7,585.1 650.0,583.2 652.0,583.3 650.5,581.3 651.2,581.2 652.6,582.0 651.9,579.4 653.4,580.1 653.8,578.8 654.0,579.3 653.7,580.5 654.1,580.8 653.8,582.0 654.3,582.3 653.8,583.4 654.6,583.9 654.1,584.8 654.5,585.3 654.2,586.5 654.8,586.8 654.1,587.8 654.9,588.3 654.4,589.4 654.9,589.8 654.5,591.0 655.0,591.3 654.5,592.4 655.1,593.0 654.7,593.9 655.3,594.4 654.9,595.3 655.5,595.9 655.1,596.9 655.7,597.3 655.2,598.5 655.8,598.9 655.2,599.9 655.8,600.3 655.3,601.4 656.1,601.9 655.6,602.8 656.1,603.4 655.5,604.5 656.1,604.9 655.7,605.8 656.2,606.5 655.9,607.4 656.4,607.8 656.2,608.8 656.6,608.2 656.1,607.0 656.8,606.7 656.3,605.5 656.9,605.0 656.4,604.2 657.0,603.5 656.5,602.6 657.0,602.1 656.7,600.9 657.3,600.6 656.7,599.4 657.4,598.9 656.9,598.0 657.4,597.4 656.9,596.3 657.6,595.9 657.2,595.0 657.7,594.6 657.2,593.4 657.9,592.9 657.4,591.9 657.9,591.4 657.5,590.3 658.1,589.8 657.6,588.9 658.1,588.5 657.7,587.2 658.3,586.9 657.8,585.8 658.4,585.3 658.1,584.3 658.6,583.7 658.2,582.9 658.7,582.2 658.3,581.4 659.0,580.7 658.4,579.7 658.9,579.3 658.5,578.3 659.2,577.8 658.6,576.7 659.3,576.3 658.8,575.1 659.5,574.8 658.9,573.7 659.4,573.1 659.0,572.2 659.6,571.6 659.2,570.7 659.5,570.0 658.8,571.2 660.7,570.7 659.4,572.9 661.8,571.9 660.2,574.3 661.8,573.8 661.2,575.9 662.5,575.6 661.4,577.4 662.5,577.5 663.1,578.1 661.7,579.5 663.9,579.2 662.5,580.9 664.0,581.0 662.7,582.9 664.0,582.3 662.7,584.5 664.1,584.3 662.7,585.8 664.8,585.7 663.3,587.2 664.6,587.3 663.6,588.4 665.0,588.8 663.9,589.9 665.4,589.9 663.9,592.1 665.1,591.7 663.7,593.1 665.5,593.2 664.4,594.6 666.2,594.4 664.4,596.4 666.2,596.2 665.5,597.5 666.5,597.1 664.7,595.4 666.4,595.7 664.9,593.9 666.7,594.2 665.2,592.7 667.4,592.6 665.6,590.9 667.5,590.9 666.0,589.4 667.1,589.5 666.3,588.1 667.6,588.4 666.1,586.5 668.0,586.6 666.8,584.9 668.3,585.3 666.3,583.6 668.4,583.4 666.9,581.6 668.5,582.0 666.9,580.0 668.0,580.0 669.0,579.8 667.7,578.2 668.9,578.4 667.6,576.8 669.5,577.1 667.7,575.1 669.5,575.3 668.2,573.2 670.2,574.2 668.0,572.3 670.5,572.3 668.8,570.6 670.3,570.6 668.5,569.3 670.3,569.3 668.9,567.4 670.8,567.8 669.6,566.0 671.3,566.3 669.5,564.4 671.2,564.7 669.7,563.1 671.5,563.1 670.2,561.6 671.6,561.9 670.1,560.3 671.2,560.0 671.9,559.8 670.6,557.9 672.8,558.2 671.0,556.5 673.0,556.7 671.5,555.1 673.2,555.5 671.8,553.3 673.6,553.7 671.6,551.8 673.6,552.1 672.4,550.3 673.7,551.0 672.0,548.7 673.2,548.8 672.5,550.3 674.7,549.3 672.8,552.0 674.7,550.9 673.8,552.8 675.5,552.6 673.5,554.5 675.3,554.5 674.0,556.4 676.0,555.6 675.0,557.8 676.3,557.4 675.1,559.1 676.8,558.5 676.2,560.0 677.1,560.3 676.6,558.1 678.5,559.3 678.0,557.5 679.1,557.6 677.4,559.4 679.0,559.1 677.7,561.1 679.1,560.5 677.4,562.9 679.2,562.4 677.9,563.8 679.3,564.2 677.8,565.6 679.8,565.2 677.7,567.2 679.8,567.0 678.2,568.5 679.7,568.6 678.3,570.1 680.0,569.9 678.1,571.8 680.5,571.7 678.5,573.3 680.2,573.1 678.9,575.1 680.1,574.4 678.9,576.2 680.4,575.8 679.1,577.9 680.6,577.6 679.1,579.4 680.5,579.6 679.2,580.5 681.0,580.9 679.2,582.3 680.7,582.5 679.7,584.0 681.4,583.5 680.5,585.0 681.8,584.9 680.3,582.9 681.5,583.3 680.4,581.6 681.7,581.9 680.1,580.1 682.1,580.4 680.5,578.6 682.2,578.9 681.1,577.1 682.7,577.4 680.8,575.7 682.6,575.8 681.1,573.8 682.8,574.1 681.8,572.5 683.5,572.7 681.6,570.9 683.8,571.4 681.9,569.8 684.2,569.7 682.4,568.4 684.3,568.7 682.6,566.7 684.1,567.0 683.2,565.1 683.8,565.0 685.0,564.7 683.2,562.9 684.8,563.5 683.6,561.5 685.2,561.9 683.7,560.3 685.5,559.9 683.6,558.7 685.8,558.9 684.0,556.6 686.0,557.3 684.4,555.7 685.7,555.3 684.3,553.7 686.5,554.0 684.8,552.1 686.6,552.9 685.3,550.5 686.5,551.2 685.3,549.3 687.0,549.7 685.2,548.1 686.2,547.5 687.5,547.0 685.6,545.3 687.7,545.6 686.0,543.6 687.8,544.5 686.6,542.1 688.1,542.6 687.1,541.2 688.4,540.9 687.3,539.3 688.7,539.9 687.5,537.7 689.2,538.0 687.7,536.2 689.7,536.9 688.4,534.5 689.8,535.2 689.5,533.8 690.3,534.1 689.8,536.1 691.6,534.9 690.2,537.2 691.2,537.5 691.1,536.5 691.7,536.0 691.1,535.0 691.9,534.5 691.3,533.6 691.9,533.1 691.7,532.2 692.2,531.7 691.8,530.7 692.3,530.1 691.9,529.2 692.6,528.5 692.1,527.6 692.6,527.0 692.2,526.2 692.9,525.6 692.3,524.5 693.0,524.0 692.5,523.2 693.1,522.8 692.8,521.5 693.2,521.0 693.0,520.0 693.6,519.6 693.1,518.6 693.7,518.1 693.2,517.1 693.7,516.6 693.3,515.6 693.8,515.1 693.4,514.1 694.2,513.8 693.7,512.6 694.2,512.2 693.8,511.0 694.5,510.6 693.9,509.6 694.6,509.2 694.1,508.2 694.5,507.5 693.6,508.8 695.6,508.9 694.0,510.0 695.8,509.9 694.3,511.8 696.1,511.6 694.1,513.8 696.3,513.4 695.0,515.1 696.2,514.7 694.8,516.9 696.3,516.4 695.2,518.0 696.6,517.7 695.4,519.7 696.2,520.0 695.8,518.8 697.3,518.6 695.8,517.4 697.4,517.1 695.4,515.8 697.8,515.5 695.7,513.9 697.6,514.2 696.0,512.8 697.6,513.1 696.1,511.1 697.9,511.5 696.2,509.8 697.9,509.7 696.8,508.2 697.9,508.3 696.8,506.7 698.1,506.5 697.0,504.8 698.4,505.2 697.0,503.2 698.7,503.4 696.9,502.3 699.1,502.3 697.4,500.5 699.2,500.8 697.1,498.8 698.8,499.2 697.4,497.7 698.8,497.5 697.3,496.0 699.4,495.7 697.4,494.0 699.3,494.6 697.7,492.9 698.8,492.5 699.9,491.9 698.3,490.8 700.0,490.9 698.4,488.9 699.9,489.2 698.4,487.5 700.1,487.5 698.6,486.2 700.3,486.4 698.9,484.4 700.3,484.4 699.1,483.3 700.7,482.8 699.1,481.4 700.4,481.6 699.1,480.1 700.9,480.2 698.9,478.5 701.1,478.6 699.3,477.2 700.9,476.9 699.9,475.7 701.5,475.2 699.6,474.0 701.4,473.9 700.0,472.4 701.3,472.8 700.8,471.2 701.7,471.8 700.1,473.1 702.2,472.7 700.2,474.9 702.5,474.2 700.6,476.4 702.9,475.7 701.2,477.7 703.2,477.1 701.5,479.6 703.4,478.8 701.9,480.6 703.3,480.4 702.1,482.1 703.0,482.5 702.7,481.0 704.0,481.3 702.8,480.0 704.5,479.9 703.0,478.1 705.0,478.7 704.0,476.6 705.8,477.0 704.0,475.1 706.1,476.2 704.2,473.5 705.5,473.8 705.1,475.3 706.9,474.6 704.7,476.4 706.7,476.6 705.3,478.4 707.1,477.8 705.6,479.4 707.1,479.5 705.7,481.2 707.3,480.8 706.0,482.6 707.6,482.2 705.8,484.3 708.1,484.1 706.6,485.5 707.8,485.3 706.3,487.4 707.5,487.5 707.1,486.5 708.9,486.8 707.6,484.4 709.3,485.6 707.4,482.9 709.9,484.1 708.4,482.0 710.0,482.4 708.9,480.6 710.6,481.2 709.0,478.6 710.0,478.8 709.0,480.3 710.8,479.9 709.4,481.8 711.5,481.6 709.6,482.7 711.3,483.2 710.0,484.3 711.8,484.4 710.0,486.0 712.3,486.1 710.7,487.6 712.1,487.2 711.0,488.9 712.2,489.0 710.6,490.9 712.4,490.6 710.9,492.3 712.0,492.5 711.7,491.3 712.7,491.4 711.9,489.8 713.3,490.2 712.3,488.4 713.4,488.2 712.3,486.2 714.2,486.6 712.9,485.0 714.6,485.1 712.7,483.4 715.0,484.1 713.5,481.6 715.1,482.0 713.5,479.9 714.5,480.0 713.8,481.3 715.5,481.4 713.8,482.4 716.0,482.9 714.1,484.0 716.0,483.9 714.1,486.0 716.4,485.8 714.7,487.2 716.5,487.1 714.9,488.7 716.2,488.9 714.6,490.2 716.8,490.3 715.1,491.4 717.0,491.5 715.1,492.9 716.8,493.1 715.2,494.5 716.2,495.0 715.5,493.5 717.6,494.1 716.5,492.4 717.9,492.7 716.7,490.2 718.6,490.7 717.8,489.3 718.8,488.8 718.1,489.8 719.6,489.6 718.1,491.9 719.7,491.7 718.1,493.2 720.3,493.0 718.3,494.3 720.4,494.3 718.6,496.2 720.3,496.0 718.9,497.7 720.8,497.6 718.9,499.1 720.4,498.9 719.5,500.9 720.5,500.8 719.1,502.2 720.9,502.1 719.1,503.9 721.1,503.3 719.8,505.0 721.5,504.9 719.6,506.8 721.6,506.9 720.1,508.7 721.9,507.8 720.1,510.1 721.7,509.8 720.0,511.6 722.3,511.5 721.2,512.5 722.2,512.6 720.5,510.1 722.9,510.7 721.1,509.1 723.0,508.9 721.7,507.6 723.3,507.8 721.9,505.5 724.1,506.1 722.5,504.3 724.0,504.8 722.6,502.5 723.8,502.5 724.8,502.1 723.3,500.3 724.6,501.0 723.7,499.2 725.3,499.5 723.9,497.2 725.3,497.4 723.8,496.1 725.6,496.3 723.8,494.0 726.0,494.8 724.1,492.6 726.2,493.1 724.1,491.0 725.9,491.3 724.6,489.8 726.3,490.0 725.1,488.4 726.7,488.7 725.0,487.1 726.6,487.0 725.1,485.4 726.2,485.0 727.4,484.6 725.9,482.7 727.3,483.5 726.1,481.8 727.9,481.8 726.7,480.1 728.2,480.3 726.5,478.5 728.8,478.7 726.9,477.2 728.9,477.5 727.2,475.7 729.4,475.6 727.4,474.0 728.8,473.8 730.1,473.9 728.6,471.4 730.5,472.9 729.6,470.1 731.5,471.2 731.2,470.0 731.7,468.1 733.4,470.6 733.8,468.8 734.5,468.9 733.9,470.9 735.7,470.0 734.8,472.0 736.1,471.7 735.3,473.5 736.2,473.8 737.0,474.0 735.4,475.6 737.8,475.3 735.7,477.7 737.9,476.7 736.5,478.9 737.9,478.8 736.7,480.5 738.0,480.5 736.6,482.2 738.2,481.9 737.5,483.4 739.2,483.4 737.3,484.9 739.3,484.6 737.5,486.2 739.8,485.9 738.8,487.5 738.4,488.3 740.0,488.3 738.4,490.6 740.1,490.0 738.8,491.7 740.1,491.6 738.8,493.6 740.3,493.4 739.1,495.1 740.7,494.7 738.9,496.8 740.8,496.4 739.5,497.6 741.4,497.5 739.7,499.5 741.6,498.8 740.0,500.9 741.6,500.7 740.0,502.4 741.7,502.2 740.3,503.8 741.9,503.5 741.2,505.0 742.0,504.7 741.1,502.6 742.2,503.1 740.9,501.1 742.8,501.9 741.6,500.1 743.1,499.8 742.2,498.4 744.1,499.0 742.3,496.6 744.2,497.4 742.9,495.1 743.8,495.0 743.3,496.0 744.6,496.2 743.4,497.8 744.6,497.8 743.3,499.6 745.4,499.2 743.5,500.5 745.7,500.5 743.6,502.1 745.4,502.4 743.7,504.2 745.4,503.4 744.4,505.2 745.9,505.3 744.0,506.7 746.4,506.6 744.7,508.3 746.4,508.7 744.9,509.8 746.4,509.6 744.7,511.7 746.8,511.3 744.9,513.4 747.2,512.6 745.5,515.0 746.2,515.0 747.0,515.5 745.7,516.8 747.9,516.3 746.0,518.5 748.0,518.6 746.7,520.4 748.2,520.1 747.1,521.6 748.6,521.5 747.7,523.3 749.1,522.8 747.9,525.1 748.8,525.0 747.8,523.7 749.6,524.2 748.3,522.3 750.0,522.1 748.4,521.0 750.4,521.2 748.8,519.5 750.4,519.4 748.8,517.8 750.2,517.8 749.2,516.5 750.4,516.0 749.3,514.9 750.7,514.9 748.9,512.9 751.2,513.4 749.2,511.5 750.7,511.6 749.9,510.0 751.2,510.2 750.0,508.2 751.3,508.4 750.8,507.5 750.2,506.4 751.5,506.5 750.3,505.0 752.3,504.6 750.2,502.7 752.2,503.5 751.1,501.8 752.7,501.9 751.2,500.2 752.3,500.3 751.0,498.5 752.9,498.6 751.6,496.9 752.7,497.2 751.2,495.5 752.5,495.0 753.4,494.8 751.8,492.8 753.5,493.4 752.2,491.3 753.9,491.7 752.0,490.1 754.1,490.0 752.9,488.3 754.0,488.4 753.1,486.7 754.7,487.0 753.0,485.5 754.7,485.3 753.4,483.5 754.8,484.2 753.3,482.3 755.2,482.7 753.6,480.6 755.2,480.8 753.9,479.1 755.6,479.1 754.1,477.5 755.0,477.5 755.8,477.4 755.0,475.3 756.9,475.8 755.7,473.8 757.7,474.1 756.3,472.4 757.9,472.9 757.5,471.2 758.6,471.1 757.7,473.3 759.5,472.7 758.5,475.0 760.0,473.7 758.8,476.2 760.0,476.2 759.6,474.7 761.3,475.4 760.1,473.7 761.4,473.5 760.1,472.0 761.6,472.3 760.0,470.1 762.4,470.7 760.9,469.0 762.8,469.2 761.4,467.3 762.4,467.7 761.0,465.8 762.8,466.1 762.5,465.0 763.6,465.1 762.2,466.9 763.6,467.0 762.4,468.4 763.8,468.0 762.5,470.3 763.7,469.9 762.8,471.2 764.1,471.2 762.7,473.0 764.7,472.7 762.7,474.8 764.4,474.2 762.9,476.5 765.1,476.2 763.2,477.7 765.3,477.1 763.9,478.8 765.7,478.6 764.2,480.6 765.9,480.4 764.1,482.6 765.0,482.5 764.7,481.4 765.8,481.8 764.5,479.9 766.6,480.4 764.9,477.9 766.4,478.6 764.8,476.9 767.0,477.3 765.1,475.4 767.0,475.2 765.7,473.5 767.2,474.3 766.1,472.3 767.8,472.8 767.0,471.2 768.3,471.4 766.6,473.5 768.5,472.6 767.1,475.0 768.9,474.2 767.4,476.4 768.7,475.7 767.7,477.9 769.4,477.4 768.1,479.1 769.5,479.0 768.2,480.4 770.4,480.1 768.8,481.8 770.3,481.8 769.3,483.4 770.0,483.8 769.1,481.9 771.6,483.3 769.8,480.5 771.9,481.3 770.7,479.3 772.6,480.3 770.6,477.8 772.9,478.8 771.3,476.0 772.5,476.2 772.9,478.0 774.3,475.4 774.4,478.3 775.7,476.1 776.2,477.5 777.5,477.7 776.3,475.5 778.3,476.3 776.8,473.6 778.4,474.7 777.4,472.6 778.8,472.5 779.3,472.4 778.3,470.5 780.1,470.5 778.2,469.4 780.2,469.5 778.4,467.3 779.8,467.9 778.3,465.9 779.8,466.0 778.5,464.3 780.3,464.8 778.8,463.0 780.3,463.0 778.6,461.5 780.5,461.5 779.2,460.0 780.5,460.1 779.3,458.6 780.8,458.3 779.0,457.2 781.2,457.6 779.6,455.7 781.3,456.0 779.6,453.9 780.5,453.8 780.1,454.8 781.4,454.7 780.0,456.6 781.9,456.5 780.0,457.7 781.6,457.8 779.9,459.3 782.1,459.2 780.1,460.7 782.0,461.2 780.3,462.7 782.0,462.1 780.3,464.0 782.1,463.7 780.9,465.8 782.3,465.2 781.0,467.2 782.4,466.9 781.4,468.5 782.6,468.4 781.0,470.2 783.2,470.2 781.2,471.6 782.8,471.7 781.6,473.2 783.2,472.8 781.4,474.6 782.5,475.0 783.6,475.2 782.3,477.3 784.0,476.7 782.2,478.9 784.3,478.3 782.8,480.1 783.9,480.0 782.6,481.6 784.1,481.6 782.8,483.4 784.9,482.7 782.8,484.8 784.9,484.6 783.7,486.7 785.4,485.8 784.5,487.5 783.8,488.7 785.4,488.9 784.1,490.3 785.9,490.4 784.1,491.7 785.6,491.8 784.4,493.1 785.5,493.3 784.6,495.0 786.0,494.6 784.5,496.4 785.9,495.9 784.2,497.6 786.2,497.8 784.3,499.2 785.9,499.4 784.4,501.0 786.6,500.7 784.7,502.3 786.6,502.1 784.8,504.2 786.8,503.5 785.4,505.2 787.1,505.6 785.3,506.7 787.0,506.9 785.1,508.2 786.2,508.8 786.0,507.7 786.6,507.4 786.1,506.4 786.7,505.8 786.3,504.9 786.8,504.4 786.4,503.2 786.9,502.8 786.5,501.8 787.2,501.2 786.7,500.3 787.2,499.7 786.8,498.7 787.4,498.3 786.8,497.2 787.3,496.6 787.0,495.7 787.6,495.2 786.9,494.2 787.6,493.6 787.0,492.7 787.7,492.2 787.2,491.1 787.8,490.7 787.3,489.7 787.9,489.1 787.6,488.2 788.0,487.6 787.6,486.5 788.1,486.1 787.6,485.0 788.4,484.5 787.8,483.6 788.3,483.1 787.8,482.0 788.5,481.5 788.1,480.5 788.7,479.9 788.2,478.9 788.7,478.4 788.2,477.3 788.9,477.1 788.4,475.9 788.8,475.5 788.4,474.4 788.8,473.8 788.4,475.2 790.1,475.0 788.4,476.1 790.2,476.5 788.6,478.3 790.2,477.9 788.8,479.9 790.1,479.2 788.6,481.0 790.8,480.9 789.1,482.3 790.3,482.5 788.8,484.3 790.7,484.1 789.0,485.9 790.8,485.6 789.6,487.3 791.1,486.8 789.5,488.9 791.4,488.8 789.7,490.0 791.8,489.9 789.9,491.8 792.0,491.2 789.9,493.5 791.7,492.9 790.5,494.9 791.2,495.0 790.7,493.5 792.3,493.9 791.6,492.6 793.4,493.2 792.0,490.8 793.8,491.6 793.2,490.0 793.5,490.5 793.2,491.5 793.7,492.2 793.1,493.2 793.8,493.6 793.2,494.7 793.9,495.1 793.3,496.1 793.9,496.8 793.6,497.7 794.1,498.2 793.7,499.1 794.3,499.7 793.7,500.7 794.3,501.2 793.9,502.3 794.4,502.6 793.8,503.6 794.4,504.3 794.1,505.2 794.6,505.6 794.1,506.8 794.7,507.1 794.1,508.2 794.8,508.6 794.2,509.8 794.9,510.3 794.5,511.2 794.9,511.7 794.5,512.8 795.2,513.3 794.5,514.2 795.1,514.9 794.6,515.9 795.2,516.2 794.9,517.4 795.4,517.9 794.9,518.8 795.5,519.2 795.0,520.4 795.7,520.9 795.2,521.7 795.7,522.4 795.3,523.3 795.8,523.9 795.2,525.0 795.9,525.3 795.5,526.3 795.8,527.0 794.8,526.0 796.7,525.8 795.6,524.5 796.9,524.8 795.8,522.7 797.1,523.4 795.6,521.2 797.9,521.8 795.8,519.8 797.5,519.7 796.1,518.0 798.1,518.9 796.3,517.0 798.6,517.4 796.8,515.6 798.3,515.5 797.3,513.9 798.8,514.1 797.6,512.7 799.0,512.8 797.9,510.7 799.7,511.3 798.8,510.0 798.6,509.1 799.2,508.7 798.7,507.7 799.1,507.2 798.8,506.1 799.4,505.6 798.8,504.7 799.5,504.0 798.9,503.1 799.7,502.7 799.2,501.6 799.8,501.1 799.3,500.1 799.7,499.5 799.4,498.5 800.0,498.1 799.5,497.0 800.1,496.4 799.7,495.5 800.2,495.1 799.8,494.0 800.2,493.6 799.7,492.6 800.4,492.0 799.9,490.9 800.4,490.5 800.1,489.4 800.6,489.1 800.1,487.9 800.7,487.4 800.3,486.3 800.8,485.9 800.4,484.9 801.1,484.3 800.6,483.5 801.1,483.0 800.6,481.8 801.1,481.5 800.9,480.5 801.4,480.0 800.9,478.8 801.4,478.4 801.2,477.5 801.0,476.2 802.4,476.8 801.8,474.7 803.7,475.8 802.1,473.3 804.3,473.7 803.8,472.5 803.3,471.4 804.9,471.8 803.5,469.7 804.8,470.0 803.9,467.9 805.1,468.0 803.5,466.3 805.6,467.1 804.0,465.0 805.9,465.2 804.3,463.4 805.8,463.8 804.1,461.6 805.8,462.0 804.6,460.6 805.5,460.0 805.7,461.1 807.4,460.4 807.0,462.9 808.0,462.5 807.5,461.1 809.2,461.6 807.9,459.9 809.5,459.8 808.0,458.1 809.2,458.4 807.9,456.1 809.7,456.9 808.0,454.6 810.0,455.5 808.5,453.3 810.4,453.4 808.9,451.9 810.8,452.1 809.2,449.9 810.0,450.0 810.6,449.4 809.5,447.7 811.0,448.1 809.3,446.6 811.4,446.3 809.6,444.6 811.4,444.9 810.0,443.2 811.3,443.8 810.0,442.2 811.8,442.2 810.0,440.7 811.7,440.4 809.9,439.0 811.9,438.8 810.3,437.3 812.0,437.4 810.5,436.0 812.1,435.6 810.9,434.3 812.2,434.2 810.7,432.8 812.9,432.5 811.2,430.9 812.8,431.1 812.0,430.0 812.8,430.0 811.7,432.3 813.7,431.8 811.9,433.4 813.9,432.7 812.4,435.3 814.1,434.7 812.9,436.3 814.7,436.1 813.5,437.9 814.8,437.7 814.5,438.8 815.2,438.7 814.4,436.9 816.2,437.3 814.6,435.4 816.3,435.9 815.1,434.1 816.5,434.3 815.4,432.0 816.9,432.9 815.9,431.0 817.7,431.2 817.0,430.0 817.2,428.7 818.7,429.6 818.0,427.3 819.9,428.6 820.0,427.5 819.8,426.4 821.0,426.7 820.0,424.4 821.7,425.5 820.5,423.5 822.2,423.6 822.0,422.5 821.1,420.9 822.8,421.2 822.0,419.6 823.4,420.3 821.8,418.2 823.7,418.4 822.5,416.4 823.9,417.1 822.7,415.1 824.9,415.3 822.9,413.1 825.2,414.3 824.2,412.5 825.2,412.5 823.6,414.5 825.6,413.9 824.0,416.1 826.2,416.0 824.7,417.7 826.2,417.7 824.9,419.3 826.9,419.1 825.7,420.3 827.2,420.7 826.0,422.2 826.8,422.5 827.5,422.7 826.4,424.5 827.7,424.6 825.9,426.4 828.3,426.0 826.8,427.7 828.4,427.5 826.7,429.3 828.3,428.9 826.5,430.7 828.7,430.4 826.7,431.8 828.5,431.7 827.0,433.9 828.7,433.3 827.5,435.1 828.6,434.9 827.0,436.6 828.9,436.9 827.4,438.5 829.0,438.0 827.7,439.9 829.2,439.8 828.2,441.0 829.8,441.4 828.8,442.5 829.6,442.6 828.3,440.8 830.2,440.7 828.3,439.1 829.9,439.0 828.5,437.4 830.5,438.0 828.9,435.8 830.4,436.0 829.2,434.2 830.7,434.9 829.2,432.8 830.9,432.9 829.5,431.7 831.1,431.8 829.8,429.7 831.8,430.4 830.3,428.2 831.7,428.7 831.2,427.5 830.9,426.2 832.5,426.6 831.1,425.1 832.8,424.7 831.1,423.1 833.3,423.7 831.4,421.8 833.7,422.2 831.9,420.3 834.0,420.7 832.3,418.6 834.3,419.5 832.9,416.9 834.2,417.5 833.8,416.2 834.9,416.2 833.4,418.1 835.1,418.0 833.7,419.6 835.0,419.2 834.1,421.6 835.8,421.2 834.5,422.7 835.8,422.8 834.4,424.3 836.1,424.0 834.8,426.1 836.7,425.7 835.6,427.3 836.2,427.5 837.4,426.3 837.7,428.7 839.0,427.1 839.5,428.8 840.2,428.3 839.1,426.5 840.7,426.8 839.2,425.5 840.4,425.7 839.1,423.9 840.9,424.3 839.7,422.1 841.5,422.4 839.5,420.9 841.8,420.8 840.1,419.2 841.5,419.4 839.8,418.0 841.6,418.0 840.5,416.3 841.8,416.6 840.4,415.1 842.4,415.3 840.9,413.1 842.3,413.8 840.5,411.6 842.5,411.9 841.3,410.0 842.0,410.0 841.0,411.5 843.3,411.1 841.8,412.7 843.6,412.4 841.5,414.4 843.4,414.1 842.2,415.7 844.0,415.2 842.1,417.5 843.8,417.0 842.1,418.6 844.5,418.8 843.0,420.0 844.3,420.0 843.0,422.2 844.7,421.9 842.8,423.2 844.9,423.5 843.0,424.9 845.1,425.0 843.5,426.4 844.9,426.3 844.5,427.5 845.0,426.8 844.3,425.9 845.1,425.5 844.5,424.3 845.3,423.8 844.6,422.8 845.2,422.4 844.9,421.1 845.5,420.7 844.9,419.8 845.6,419.4 845.0,418.1 845.8,417.8 845.2,416.6 845.8,416.1 845.4,415.3 846.1,414.7 845.4,413.7 846.1,413.2 845.7,412.1 846.2,411.5 845.7,410.6 846.4,410.2 846.1,409.1 846.6,408.7 846.1,407.5 846.8,407.2 846.3,406.1 846.9,405.5 846.5,404.4 847.0,403.9 846.7,402.9 847.3,402.5 846.7,401.4 847.5,401.1 846.7,399.9 847.5,399.6 847.1,398.4 847.6,397.9 847.1,396.8 847.5,396.2 846.6,397.6 848.6,397.1 847.7,398.6 848.7,398.5 847.4,400.9 849.3,400.1 848.4,402.0 849.9,401.5 848.8,403.8 850.3,402.8 849.2,405.2 850.9,404.2 849.5,406.4 851.4,405.9 850.5,407.5 850.0,408.8 851.3,408.4 850.2,410.4 851.5,410.4 850.2,412.0 852.0,411.3 850.4,413.5 851.9,413.3 850.6,414.9 851.9,414.9 850.3,416.0 852.3,415.9 850.2,418.2 851.8,417.8 850.2,419.7 852.3,419.6 850.6,421.0 852.3,421.0 851.0,422.3 852.2,422.0 851.1,423.7 852.9,424.1 851.3,425.4 852.7,425.3 850.8,427.4 852.4,426.7 851.4,428.6 853.1,428.7 851.3,430.4 852.9,429.9 851.2,431.5 852.8,431.4 851.9,433.4 853.2,433.0 851.9,434.7 852.5,435.0 853.4,435.2 852.2,436.8 853.7,436.6 852.0,438.2 854.2,438.4 852.3,440.5 854.3,439.9 852.8,441.6 854.3,441.7 852.7,443.4 854.3,442.9 853.0,444.4 855.0,444.7 853.0,445.9 855.3,446.1 853.3,447.9 855.3,447.3 854.5,448.8 855.2,448.4 853.8,446.6 855.5,446.8 854.0,445.5 855.8,445.4 854.1,443.8 855.6,444.0 854.5,442.5 855.8,442.7 854.6,441.0 855.9,440.9 854.8,439.5 856.5,439.4 854.9,437.9 856.3,437.9 855.5,436.2 856.7,436.6 855.3,434.9 856.7,435.0 855.7,433.1 857.1,433.1 855.8,431.5 857.2,431.6 855.9,429.8 857.9,430.5 855.8,428.6 857.9,428.9 857.0,427.5 858.4,427.7 857.2,429.6 858.8,429.2 857.2,431.2 859.4,430.4 857.8,432.9 860.1,432.5 859.5,433.8 860.4,433.2 858.7,431.7 860.2,432.3 859.1,430.0 861.1,430.5 859.3,428.6 860.9,428.7 859.8,427.1 861.4,427.6 859.6,425.4 861.2,425.7 859.5,423.9 861.5,424.4 859.9,422.7 861.6,422.5 860.1,420.9 861.7,421.5 860.1,419.5 861.7,419.7 860.4,417.8 861.8,417.9 860.9,416.4 862.1,416.8 861.0,414.9 862.5,415.1 861.0,413.3 863.0,413.8 862.0,412.5 863.2,412.2 861.6,414.8 863.7,414.3 862.2,416.0 864.0,415.9 862.9,417.6 864.8,416.7 862.9,419.3 865.2,418.6 864.5,420.0 864.1,421.1 865.6,421.0 864.2,422.5 865.8,422.3 864.2,424.3 866.1,424.0 864.1,425.9 866.2,425.8 864.8,427.6 866.3,427.6 864.3,429.0 866.3,429.1 865.1,430.7 866.6,430.3 864.9,432.0 866.9,431.5 865.4,433.4 867.0,433.3 865.1,434.9 866.9,435.0 866.2,436.2 865.9,437.5 866.9,437.3 865.5,438.7 867.7,438.6 865.9,440.1 867.6,440.3 865.6,442.0 867.7,441.9 866.4,443.4 867.6,443.3 866.4,445.1 868.2,444.6 866.5,446.1 868.3,446.4 866.1,447.7 868.3,447.5 866.8,449.4 868.2,449.7 866.4,450.9 868.7,451.1 866.6,452.5 868.9,452.4 867.3,453.9 868.7,453.9 867.5,455.1 868.5,455.6 867.6,457.2 869.2,456.7 867.8,458.3 869.5,458.0 867.3,459.9 869.5,460.0 867.7,461.5 869.6,461.6 868.8,462.5 869.5,462.1 868.3,460.5 870.0,460.7 868.6,459.0 870.3,459.3 868.9,457.2 870.9,457.5 869.5,455.7 871.3,456.5 869.6,454.2 871.6,454.5 870.1,452.9 871.8,452.9 870.1,450.8 872.1,451.6 871.2,449.5 872.4,450.3 872.0,448.8 872.7,449.1 871.1,450.8 873.3,450.4 871.4,452.1 873.0,452.1 871.2,453.3 873.0,453.4 871.9,455.4 873.1,454.8 871.9,456.9 873.6,456.7 871.7,458.4 873.8,458.0 871.6,460.0 873.9,459.8 872.0,461.3 873.7,461.4 872.0,463.0 873.8,462.8 872.3,464.5 873.8,464.4 872.5,465.7 873.7,465.6 872.4,467.3 873.9,467.3 872.5,468.4 874.2,468.6 872.3,470.0 874.3,470.2 873.0,471.4 874.4,471.6 872.7,473.3 874.1,472.7 872.6,474.5 873.8,475.0 874.5,475.0 873.6,477.1 874.9,476.4 873.9,478.5 875.1,478.5 873.8,480.3 875.4,479.4 874.6,481.3 875.8,481.4 874.6,482.7 876.6,482.4 874.6,484.7 876.4,484.4 875.6,486.3 876.2,486.2 876.6,486.8 876.0,488.0 876.8,488.4 876.2,489.4 876.8,489.9 876.3,490.9 876.9,491.5 876.3,492.3 876.9,492.8 876.5,493.9 877.0,494.5 876.5,495.6 877.1,495.8 876.7,497.0 877.3,497.5 876.7,498.4 877.3,499.0 876.7,499.9 877.4,500.4 876.9,501.5 877.5,501.9 877.0,503.1 877.5,503.3 877.2,504.6 877.7,504.9 877.3,505.9 877.9,506.5 877.4,507.6 877.9,508.1 877.4,509.1 877.9,509.5 877.5,510.5 878.2,511.0 877.6,512.0 878.2,512.4 877.7,513.6 878.2,514.1 877.8,515.2 878.5,515.6 877.8,516.7 878.5,516.9 878.0,518.2 878.6,518.5 878.1,519.7 878.8,520.1 878.3,521.1 878.6,521.5 878.2,522.7 878.7,523.1 878.5,524.2 878.8,524.7 878.5,525.5 878.8,526.2 878.4,525.3 879.1,524.9 878.6,523.9 879.1,523.3 878.8,522.4 879.2,521.8 878.7,520.9 879.2,520.3 878.8,519.3 879.4,518.9 878.9,517.9 879.5,517.3 878.9,516.4 879.4,515.8 879.0,514.8 879.6,514.5 879.0,513.2 879.5,512.8 879.2,512.0 879.6,511.4 879.2,510.4 879.8,509.9 879.1,508.8 879.8,508.4 879.2,507.4 880.0,506.9 879.3,505.8 879.9,505.4 879.5,504.4 880.0,504.0 879.6,503.0 880.1,502.4 879.6,501.5 880.2,500.9 879.6,499.9 880.2,499.5 879.8,498.5 880.2,497.8 879.9,496.8 880.4,496.3 879.9,495.4 880.4,495.0 880.0,493.9 880.5,493.3 880.0,492.3 880.6,492.0 880.0,490.9 880.5,490.3 880.1,489.3 880.7,488.9 880.2,488.0 880.7,487.3 880.3,486.3 880.8,486.0 880.2,484.8 881.0,484.3 880.3,483.3 881.0,482.8 880.4,481.8 881.1,481.5 880.4,480.5 881.1,480.0 880.5,478.9 881.1,478.4 880.7,477.4 881.2,476.9 880.8,475.9 881.3,475.4 880.8,474.4 881.3,474.0 880.9,472.9 881.4,472.4 881.0,471.4 881.4,470.8 881.2,470.0 882.2,470.2 880.2,471.7 882.2,472.0 880.6,473.9 882.9,473.1 880.4,475.1 882.8,475.1 880.7,476.4 882.8,476.6 881.0,478.1 883.3,477.8 880.9,479.5 883.1,479.4 881.5,481.1 882.8,481.3 881.6,482.9 883.4,482.3 881.9,484.0 883.9,484.3 882.0,485.8 883.6,485.2 881.5,487.4 883.7,487.1 881.6,488.5 883.9,488.4 882.0,490.0 884.3,489.7 882.1,491.6 884.5,491.9 882.8,493.6 884.5,492.9 882.5,494.6 884.0,494.6 882.5,496.4 884.8,496.3 883.8,497.5 884.7,497.4 882.9,495.3 884.6,495.9 883.0,493.6 885.3,494.3 883.6,492.0 885.7,492.5 883.5,490.6 885.5,490.9 883.9,489.6 886.0,489.6 883.6,487.9 886.3,488.2 884.1,486.5 885.7,486.5 884.7,484.6 886.1,485.3 884.4,483.5 886.8,483.6 885.0,481.7 886.8,482.2 885.0,479.8 887.3,480.8 885.0,478.2 886.7,478.9 886.2,477.5 886.6,478.2 886.0,479.1 886.7,479.7 886.1,480.7 886.6,481.2 886.2,482.1 886.8,482.5 886.1,483.6 886.9,484.2 886.4,485.1 887.0,485.6 886.4,486.7 887.0,487.3 886.4,488.3 886.9,488.6 886.6,489.7 887.0,490.3 886.7,491.2 887.3,491.8 886.7,492.7 887.2,493.3 886.7,494.4 887.2,494.6 886.7,495.7 887.4,496.2 886.7,497.2 887.5,497.7 886.9,498.9 887.4,499.2 886.9,500.2 887.6,500.7 887.0,501.8 887.7,502.2 887.2,503.2 887.8,503.7 887.2,504.9 887.9,505.3 887.3,506.2 887.7,506.8 887.3,507.7 887.8,508.2 887.3,509.3 887.8,509.7 887.3,510.9 888.1,511.3 887.6,512.4 887.9,512.9 887.6,513.8 888.2,514.4 887.7,515.4 888.2,515.8 887.6,516.8 888.0,517.5 887.8,516.7 888.4,516.2 888.0,515.1 888.3,514.7 887.9,513.6 888.6,513.2 887.9,512.1 888.5,511.5 888.2,510.5 888.6,510.1 888.2,508.9 888.9,508.6 888.4,507.4 888.9,506.9 888.3,506.1 888.9,505.5 888.5,504.4 889.1,504.0 888.4,503.0 889.0,502.4 888.5,501.5 889.1,501.0 888.6,499.9 889.3,499.4 888.8,498.4 889.3,498.0 888.8,496.8 889.3,496.5 889.0,495.5 889.4,494.9 889.0,494.0 889.6,493.3 889.0,492.3 889.7,491.9 889.1,490.8 889.6,490.4 889.1,489.2 889.7,488.8 889.4,487.9 889.8,487.2 889.4,486.2 889.9,485.9 889.4,484.7 890.2,484.2 889.5,483.2 890.0,482.9 889.7,481.7 890.3,481.2 889.8,480.1 890.4,479.7 889.9,478.8 890.4,478.3 889.8,477.3 890.5,476.6 890.0,475.5 890.4,475.2 889.9,474.2 890.6,473.7 890.1,472.6 890.7,472.2 890.5,471.2 890.9,471.7 890.3,472.8 890.9,473.4 890.4,474.5 891.0,475.0 890.6,476.0 891.0,476.5 890.7,477.5 891.4,478.0 890.8,478.8 891.2,479.5 890.8,480.5 891.5,480.9 891.0,482.1 891.6,482.5 891.0,483.4 891.5,483.9 891.3,485.1 891.8,485.5 891.2,486.5 891.9,487.0 891.3,488.0 891.9,488.5 891.5,489.5 892.2,490.0 891.6,491.1 892.1,491.5 891.6,492.4 892.4,493.0 891.9,494.2 892.4,494.4 891.8,495.5 892.4,496.0 892.1,497.1 892.6,497.5 892.1,498.6 892.7,499.1 892.1,500.1 892.9,500.6 892.4,501.6 893.0,502.2 892.5,503.2 893.1,503.6 892.5,504.7 893.1,505.1 892.7,506.1 893.3,506.5 893.0,507.5 893.3,506.8 892.7,505.9 893.4,505.4 892.9,504.4 893.6,503.8 893.1,502.8 893.7,502.3 893.1,501.4 893.6,500.8 893.4,499.7 893.9,499.4 893.4,498.3 893.8,497.9 893.5,496.8 894.1,496.3 893.6,495.2 894.2,494.9 893.7,493.8 894.3,493.3 893.7,492.2 894.4,491.7 893.8,490.7 894.6,490.2 894.0,489.1 894.5,488.7 894.2,487.7 894.6,487.2 894.2,486.3 894.8,485.8 894.4,484.8 894.9,484.3 894.4,483.2 895.0,482.8 894.5,481.7 895.1,481.1 894.6,480.1 895.2,479.6 894.6,478.7 895.2,478.1 894.8,477.3 895.5,476.7 895.0,475.6 895.6,475.1 895.1,474.2 895.6,473.6 895.2,472.5 895.8,472.1 895.5,471.2 896.6,471.4 894.6,473.2 897.2,472.7 895.0,474.9 897.2,474.8 895.0,476.4 897.1,476.1 895.4,478.1 897.3,477.6 895.5,479.0 897.7,478.5 896.0,480.9 898.1,480.8 896.2,482.2 898.0,481.6 897.0,483.7 898.8,483.4 897.0,485.5 898.7,484.8 897.3,487.2 899.4,486.6 897.1,488.3 899.3,488.2 898.0,489.4 898.8,490.0 899.5,490.4 897.8,492.4 900.0,491.4 897.7,493.9 899.8,493.7 898.2,495.0 900.6,495.2 898.0,496.5 900.4,496.2 898.5,498.4 900.7,498.2 898.4,500.1 900.9,499.3 898.7,500.9 900.8,501.1 899.2,503.1 900.6,502.8 898.8,504.3 901.3,504.3 898.9,505.7 901.5,505.4 899.5,507.2 900.9,507.0 899.9,509.2 901.2,508.8 899.7,510.3 901.9,510.4 899.9,511.9 901.7,511.3 899.9,513.6 902.0,513.3 900.1,514.7 901.6,514.3 900.0,516.2 902.4,516.3 901.2,517.5 900.3,519.3 902.4,518.2 900.0,520.7 902.4,520.3 900.3,522.2 902.9,521.0 900.7,524.1 902.8,522.6 900.4,524.8 903.1,524.6 901.3,526.7 903.1,526.6 901.8,527.7 903.6,527.3 901.4,529.4 904.1,528.6 901.2,530.9 904.4,531.1 901.5,532.7 904.5,531.7 902.1,534.1 904.0,533.6 902.1,536.1 904.3,535.5 902.7,537.0 903.8,537.5 904.0,538.2 903.5,539.2 904.2,539.7 903.7,540.8 904.1,541.2 903.6,542.1 904.4,542.7 903.9,543.6 904.5,544.1 903.9,545.2 904.5,545.7 903.9,546.7 904.4,547.2 904.1,548.2 904.7,548.7 904.1,549.8 904.6,550.3 904.1,551.2 904.9,551.8 904.4,552.9 904.9,553.3 904.5,554.3 905.0,554.8 904.6,555.7 905.0,556.3 904.5,557.3 905.0,557.8 904.7,558.8 905.3,559.3 904.8,560.3 905.2,560.9 904.8,561.7 905.4,562.3 904.9,563.4 905.5,563.7 904.9,564.8 905.5,565.4 905.0,566.4 905.5,566.9 905.2,567.9 905.8,568.3 905.2,569.4 905.5,570.0 905.7,570.7 905.4,571.6 905.8,572.2 905.3,573.1 905.9,573.5 905.4,574.8 905.8,575.1 905.3,576.3 906.1,576.6 905.5,577.8 905.9,578.1 905.6,579.3 906.1,579.7 905.5,580.7 906.2,581.1 905.6,582.3 906.1,582.8 905.6,583.8 906.2,584.4 905.8,585.3 906.3,585.7 905.8,586.9 906.2,587.2 905.8,588.4 906.4,588.8 905.9,589.7 906.5,590.4 905.8,591.5 906.5,591.8 905.9,592.9 906.4,593.4 906.0,594.4 906.4,594.9 906.0,595.9 906.6,596.3 906.0,597.5 906.5,597.8 906.0,598.8 906.5,599.4 906.2,600.3 906.6,600.8 906.2,602.0 906.7,602.5 906.1,603.6 906.8,603.8 906.2,605.0 906.7,605.4 906.4,606.5 906.8,606.9 906.4,607.9 906.9,608.6 906.4,609.6 907.0,609.9 906.4,611.1 907.0,611.7 906.6,612.5 907.1,612.9 906.5,614.0 907.2,614.5 906.7,615.6 907.1,616.1 906.6,617.2 907.3,617.5 906.7,618.5 907.3,619.0 907.0,620.0 907.2,619.5 906.9,618.3 907.3,617.9 906.9,616.8 907.3,616.5 906.8,615.3 907.4,614.9 907.0,613.7 907.6,613.3 907.1,612.3 907.5,611.7 907.1,610.9 907.7,610.3 907.2,609.4 907.5,608.9 907.0,607.8 907.8,607.4 907.1,606.4 907.8,605.7 907.1,604.7 907.8,604.2 907.2,603.2 907.9,602.8 907.3,601.7 907.8,601.3 907.3,600.3 907.9,599.9 907.3,598.8 907.9,598.3 907.5,597.4 908.1,596.8 907.5,595.8 908.0,595.2 907.5,594.4 908.1,593.7 907.6,592.6 908.2,592.2 907.7,591.2 908.1,590.8 907.8,589.8 908.4,589.2 907.8,588.3 908.4,587.8 907.7,586.8 908.3,586.2 908.0,585.2 908.4,584.7 907.8,583.7 908.4,583.1 908.0,582.3 908.5,581.7 908.0,580.8 908.6,580.1 907.9,579.1 908.5,578.6 908.1,577.8 908.6,577.2 908.0,576.2 908.7,575.6 908.2,574.7 908.7,574.2 908.3,573.1 908.8,572.5 908.3,571.7 908.9,571.2 908.2,570.0 909.0,569.7 908.5,568.6 909.0,568.3 908.4,567.2 909.0,566.6 908.5,565.7 908.8,565.0 909.2,564.5 908.5,563.3 909.3,563.0 908.7,561.9 909.2,561.3 908.7,560.4 909.3,559.9 908.8,558.9 909.5,558.3 909.0,557.4 909.6,556.9 909.1,555.7 909.7,555.3 909.1,554.4 909.8,553.7 909.2,552.8 909.7,552.2 909.4,551.4 909.9,550.9 909.4,549.7 910.0,549.2 909.6,548.2 910.1,547.8 909.7,546.8 910.2,546.4 909.7,545.2 910.2,544.8 909.7,543.8 910.5,543.2 910.0,542.2 910.6,541.7 910.1,540.7 910.5,540.3 910.1,539.2 910.6,538.7 910.3,537.8 910.8,537.2 910.3,536.1 910.7,535.8 910.3,534.7 910.8,534.3 910.5,533.2 911.1,532.7 910.6,531.8 911.2,531.3 910.5,530.1 911.2,529.8 910.9,528.7 911.4,528.2 910.8,527.0 911.4,526.8 911.1,525.6 911.2,525.0 911.1,525.8 911.5,526.5 911.1,527.4 911.7,527.8 911.2,528.8 911.9,529.3 911.1,530.6 911.8,531.0 911.2,532.1 911.9,532.6 911.5,533.5 911.9,534.0 911.5,535.1 912.0,535.6 911.5,536.5 912.0,537.0 911.7,538.0 912.3,538.4 911.7,539.7 912.3,540.0 911.8,541.1 912.3,541.5 911.8,542.8 912.5,543.2 912.1,544.2 912.5,544.7 912.1,545.7 912.7,546.3 912.1,547.2 912.6,547.6 912.3,548.7 912.8,549.3 912.3,550.4 912.9,550.7 912.2,551.8 912.9,552.4 912.4,553.2 912.9,553.8 912.4,554.8 913.0,555.4 912.5,556.4 913.2,556.9 912.7,557.8 913.2,558.2 912.6,559.4 913.0,560.0 912.9,559.1 913.4,558.7 913.0,557.6 913.4,557.1 913.0,556.0 913.6,555.5 913.1,554.6 913.6,554.1 913.2,553.0 913.8,552.7 913.4,551.6 913.8,551.1 913.3,550.1 914.1,549.5 913.6,548.5 914.2,548.1 913.5,546.9 914.1,546.7 913.8,545.5 914.2,544.9 913.9,543.9 914.5,543.4 914.0,542.4 914.5,542.1 913.9,541.1 914.5,540.6 914.1,539.5 914.8,539.1 914.3,537.9 914.9,537.5 914.3,536.5 914.8,535.9 914.4,534.8 915.1,534.6 914.6,533.5 915.3,533.0 914.6,531.9 915.2,531.5 914.7,530.4 915.3,529.9 914.7,529.0 915.4,528.5 914.9,527.4 915.6,526.9 915.2,525.9 915.6,525.4 915.3,524.3 915.5,523.8 914.6,524.8 916.4,524.7 915.0,526.5 916.5,526.2 915.0,527.8 917.5,528.1 914.7,530.0 917.4,529.5 915.1,531.2 917.5,530.1 914.9,532.2 916.8,532.1 914.6,533.9 917.7,533.3 915.7,535.3 917.6,535.4 915.7,537.3 917.3,536.5 914.8,538.2 917.5,538.6 915.5,540.4 918.2,539.8 915.8,541.7 918.1,541.6 915.3,543.5 918.4,543.0 915.8,544.2 918.8,544.4 916.4,546.1 918.4,545.7 915.8,547.7 918.4,546.7 916.5,549.1 918.1,548.3 917.5,550.0 917.3,550.9 917.9,551.5 917.4,552.4 917.9,553.0 917.4,554.0 918.0,554.5 917.4,555.4 917.9,556.1 917.4,557.1 918.0,557.4 917.5,558.4 918.2,558.9 917.7,560.0 918.2,560.5 917.7,561.4 918.3,561.9 917.7,563.1 918.3,563.4 917.8,564.6 918.3,565.0 917.7,566.2 918.4,566.6 917.7,567.7 918.5,568.2 917.9,569.1 918.5,569.6 918.0,570.7 918.5,571.1 917.9,572.2 918.7,572.6 918.0,573.8 918.6,574.3 918.2,575.2 918.7,575.6 918.2,576.8 918.8,577.2 918.1,578.2 918.9,578.8 918.2,579.7 918.8,580.4 918.3,581.2 918.8,581.8 918.5,582.7 919.1,583.3 918.5,584.5 918.8,585.0 919.1,585.5 918.6,586.5 919.2,587.2 918.6,588.2 919.2,588.7 918.6,589.7 919.2,590.2 918.9,591.2 919.3,591.8 918.7,592.7 919.5,593.2 919.0,594.3 919.4,594.6 918.9,595.7 919.5,596.2 918.9,597.2 919.5,597.9 919.0,598.7 919.6,599.2 919.0,600.2 919.7,600.8 919.1,601.8 919.7,602.4 919.1,603.4 919.9,604.0 919.4,605.0 919.8,605.3 919.4,606.3 919.9,606.8 919.4,607.8 919.9,608.3 919.4,609.4 920.0,610.0 919.7,610.9 920.2,611.5 919.5,612.6 920.2,613.0 919.7,613.9 920.2,614.5 919.9,615.6 920.3,616.0 919.8,617.0 920.3,617.5 919.9,618.5 920.4,619.0 919.8,620.1 920.6,620.5 919.9,621.5 920.6,622.0 920.2,623.2 920.6,623.5 920.2,624.6 920.7,625.1 920.2,626.2 920.8,626.7 920.5,627.5 920.3,628.4 920.8,628.9 920.3,630.0 921.0,630.4 920.3,631.5 920.9,631.9 920.3,632.8 920.9,633.2 920.4,634.3 921.0,634.7 920.6,636.0 921.1,636.4 920.5,637.4 921.2,637.7 920.6,639.0 921.3,639.5 920.8,640.3 921.3,641.0 920.8,642.0 921.2,642.3 920.8,643.4 921.6,644.0 921.0,644.8 921.4,645.3 920.9,646.3 921.6,646.8 921.0,647.8 921.6,648.2 921.1,649.3 921.7,649.8 921.1,650.9 921.7,651.3 921.2,652.4 921.9,652.8 921.3,653.9 921.8,654.4 921.5,655.5 921.8,655.8 921.4,657.0 922.0,657.4 921.4,658.5 922.0,658.8 921.6,659.8 922.1,660.5 921.6,661.5 922.2,661.8 921.7,662.8 922.2,663.5 921.6,664.5 922.0,665.0 922.7,665.4 920.7,666.9 923.3,667.3 920.4,668.7 922.7,668.7 921.1,669.7 922.9,670.2 921.1,671.4 922.4,671.8 920.2,673.2 922.6,673.1 920.5,674.5 922.9,674.7 920.3,676.3 923.1,675.5 920.0,677.7 922.2,676.9 920.1,679.2 922.5,679.3 920.7,681.1 922.5,680.5 919.7,682.1 922.3,682.0 920.1,683.8 922.7,684.0 919.7,685.4 922.9,685.1 920.4,687.3 922.1,686.1 919.4,688.5 922.0,688.0 919.8,689.5 921.0,690.0 922.5,689.3 920.2,692.6 922.8,691.7 920.4,693.6 923.3,692.8 920.7,695.3 924.2,694.2 922.2,696.7 923.8,695.7 922.0,699.1 924.2,697.8 922.2,699.8 924.0,700.0 924.9,700.2 922.2,701.5 924.6,702.3 922.3,703.5 924.2,703.7 922.3,705.0 924.0,704.4 922.0,706.5 924.4,706.5 921.7,707.8 924.3,707.9 922.1,709.3 923.4,708.9 921.9,710.9 923.9,711.0 921.8,712.1 923.4,712.6 920.7,713.5 923.8,713.7 922.0,715.0 921.2,716.3 923.5,716.2 920.7,717.7 923.8,717.3 921.0,719.1 923.4,718.8 921.8,720.7 923.8,720.1 921.7,722.1 924.4,722.2 922.6,723.7 924.3,723.4 922.5,725.1 925.0,725.3 922.4,727.4 924.7,726.3 922.9,728.7 924.6,727.5 922.3,730.7 925.5,729.5 922.9,732.0 925.9,730.9 923.5,732.8 925.5,732.3 923.9,734.7 925.4,733.7 924.0,736.1 926.6,735.2 924.3,737.8 926.2,736.5 924.4,739.3 926.5,738.5 925.5,740.0 924.0,741.0 926.7,741.1 924.2,742.3 926.3,742.6 924.1,744.1 926.4,744.3 923.7,745.8 925.2,745.7 922.7,746.5 925.0,747.2 923.3,748.2 925.2,748.5 923.2,750.4 925.0,750.0 922.7,751.8 923.5,752.0 924.0,752.5 923.4,753.5 924.0,754.1 923.6,755.2 924.2,755.6 923.8,756.7 924.3,757.1 923.9,758.2 924.5,758.6 924.0,759.7 924.8,760.1 924.1,761.1 924.9,761.7 924.4,762.8 924.9,763.2 924.6,764.3 925.2,764.6 924.7,765.8 925.2,766.2 924.8,767.2 925.6,767.6 925.0,768.7 925.6,769.2 925.2,770.4 925.8,770.7 925.2,772.0 926.0,772.2 925.4,773.3 926.2,773.9 925.7,774.7 926.4,775.2 925.9,776.3 926.5,776.9 926.1,777.8 926.6,778.3 926.2,779.3 926.5,780.0 928.1,780.9 925.5,781.6 927.5,781.7 925.0,783.9 927.3,783.7 925.3,785.1 926.7,784.5 924.5,786.1 927.5,785.9 924.7,787.6 926.8,788.0 924.1,789.0 926.7,789.4 923.9,790.8 926.1,791.3 924.2,792.3 926.3,792.1 924.1,794.0 925.8,794.3 925.0,795.0 924.8,796.0 925.3,796.3 925.0,797.3 925.4,798.0 925.1,798.9 925.7,799.5 925.0,800.6 925.7,800.9 925.2,802.0 925.8,802.4 925.4,803.5 925.9,803.9 925.4,805.0 926.1,805.6 925.6,806.5 926.2,807.1 925.7,808.1 926.3,808.6 925.6,809.6 926.3,810.0 925.8,811.2 926.6,811.6 925.9,812.5 926.6,813.2 926.0,814.1 926.7,814.7 926.1,815.6 926.7,816.2 926.3,817.2 926.8,817.7 926.5,818.6 926.9,819.1 926.6,820.3 927.2,820.8 926.6,821.9 927.3,822.3 926.9,823.3 927.5,823.7 927.0,824.9 927.3,825.4 927.0,826.4 927.5,826.9 927.0,827.8 927.6,828.4 927.2,829.4 927.5,830.0 928.1,830.2 926.5,832.2 928.2,831.8 925.9,833.9 928.0,833.2 925.9,834.4 927.9,835.1 926.0,835.9 927.9,836.3 925.5,838.5 928.6,838.3 926.2,839.6 928.1,839.7 925.6,841.4 927.9,840.8 925.7,842.6 928.4,842.2 925.6,844.2 927.8,843.7 926.5,845.0 926.3,845.8 926.9,846.4 926.4,847.4 926.8,847.8 926.4,849.0 926.9,849.5 926.3,850.4 926.9,851.0 926.5,851.9 926.9,852.3 926.3,853.5 927.0,853.9 926.5,854.9 927.1,855.6 926.5,856.4 927.1,857.0 926.5,857.9 927.1,858.4 926.5,859.6 926.9,859.9 926.5,861.0 927.1,861.4 926.5,862.7 927.0,863.0 926.7,863.9 927.2,864.5 926.6,865.6 927.2,866.2 926.6,867.0 927.3,867.7 926.8,868.5 927.2,869.2 926.7,870.1 927.2,870.6 926.9,871.6 927.3,872.1 926.9,873.2 927.4,873.7 926.9,874.7 927.4,875.1 926.8,876.1 927.3,876.6 927.0,877.7 927.3,878.2 926.9,879.2 927.4,879.7 926.8,880.8 927.5,881.3 927.1,882.2 927.4,882.7 926.9,883.6 927.7,884.3 926.9,885.2 927.6,885.7 927.0,886.7 927.7,887.3 927.1,888.3 927.6,888.7 927.1,889.7 927.6,890.2 927.0,891.2 927.7,891.7 927.3,892.9 927.8,893.3 927.1,894.4 927.7,894.8 927.2,895.8 927.5,896.5 927.3,895.7 927.9,895.0 927.2,894.2 927.7,893.7 927.3,892.6 927.8,892.1 927.4,891.0 927.9,890.7 927.4,889.7 927.8,889.1 927.4,888.2 927.9,887.7 927.5,886.5 928.0,886.2 927.6,885.0 928.0,884.5 927.5,883.7 928.0,883.2 927.6,882.2 928.2,881.6 927.5,880.5 928.1,880.1 927.7,879.1 928.0,878.7 927.7,877.5 928.3,877.2 927.5,876.1 928.3,875.7 927.8,874.6 928.3,874.1 927.8,873.2 928.2,872.5 927.9,871.7 928.3,871.1 927.7,870.2 928.5,869.7 927.8,868.7 928.4,868.0 928.0,867.1 928.4,866.7 927.9,865.6 928.5,865.1 927.9,864.1 928.4,863.5 928.1,862.6 928.5,862.1 927.9,861.2 928.5,860.6 927.9,859.6 928.7,859.2 928.0,858.1 928.7,857.6 928.0,856.6 928.6,856.2 928.1,855.2 928.7,854.7 928.1,853.7 928.7,853.1 928.1,852.2 928.7,851.5 928.3,850.7 928.5,850.0 928.8,849.4 928.4,848.3 928.9,847.8 928.3,846.8 928.8,846.3 928.4,845.4 929.0,845.0 928.4,844.0 928.8,843.3 928.5,842.4 929.1,841.9 928.5,840.9 929.1,840.5 928.4,839.5 929.1,839.0 928.6,838.0 929.1,837.5 928.5,836.3 929.1,835.8 928.5,834.8 929.2,834.3 928.8,833.4 929.3,832.9 928.7,831.8 929.2,831.5 928.7,830.3 929.3,829.9 928.6,828.8 929.3,828.3 928.8,827.4 929.3,826.8 928.9,825.9 929.5,825.3 928.8,824.3 929.5,824.0 928.8,823.0 929.4,822.3 928.9,821.5 929.5,821.0 929.0,819.9 929.5,819.5 929.0,818.4 929.7,817.8 929.2,816.8 929.7,816.4 929.0,815.4 929.6,814.8 929.1,814.0 929.7,813.4 929.1,812.3 929.7,811.8 929.5,811.0 928.3,809.4 930.3,810.1 928.9,808.3 931.2,809.2 929.1,806.8 931.1,807.6 928.4,804.7 930.9,805.9 928.8,804.1 931.3,804.2 929.5,802.5 931.4,802.1 929.4,800.6 931.4,801.2 928.9,799.1 931.7,799.8 929.1,798.0 932.3,798.6 929.2,796.4 932.6,796.5 930.0,794.8 932.6,795.3 930.4,793.3 932.5,794.0 930.0,791.4 932.3,792.5 930.1,790.0 931.5,790.0 932.4,789.8 930.4,788.1 933.0,788.0 930.4,786.6 932.0,786.8 930.2,784.7 932.1,785.0 929.6,782.9 932.1,783.2 929.8,782.2 932.0,782.4 929.9,780.5 931.2,780.5 928.9,779.2 931.9,778.7 929.0,777.2 931.9,777.8 928.4,775.7 931.7,776.1 928.7,774.1 930.9,773.9 928.7,772.9 930.3,773.3 928.8,770.6 930.8,770.9 929.5,770.0 928.5,769.1 930.9,768.9 929.1,767.5 930.8,768.1 928.9,765.3 931.0,766.0 928.9,764.1 931.0,764.8 928.6,762.2 931.2,763.2 929.4,761.1 931.9,761.3 929.6,760.2 931.3,760.0 929.2,758.2 932.2,758.8 928.9,756.9 931.5,757.2 930.1,754.9 931.7,755.9 929.6,753.2 931.7,754.6 929.2,752.2 931.0,752.0 932.2,751.1 929.6,750.1 932.3,750.3 929.3,747.9 931.3,748.4 929.3,746.4 931.5,747.3 928.9,745.3 931.8,745.6 928.9,743.3 930.9,744.2 929.5,742.0 931.1,742.3 930.0,741.0 929.1,739.2 931.9,741.0 930.2,737.6 932.8,739.9 931.5,736.6 933.9,737.6 933.0,736.0 931.4,734.9 933.7,735.3 931.5,733.0 934.3,733.7 931.0,731.4 933.4,731.5 931.3,730.4 933.6,730.8 931.7,728.7 934.2,729.0 931.2,727.5 934.0,727.2 930.7,725.8 933.4,725.7 930.6,723.9 933.5,723.8 931.4,722.7 933.6,722.6 931.1,721.1 932.7,721.6 932.0,720.0 931.9,719.0 932.5,718.7 931.9,717.5 932.5,717.3 932.1,716.1 932.8,715.7 932.2,714.6 932.8,714.1 932.5,713.1 933.0,712.7 932.5,711.6 933.2,711.2 932.6,710.2 933.2,709.7 932.8,708.5 933.4,708.0 933.0,707.0 933.5,706.7 933.2,705.5 933.6,705.2 933.4,704.0 933.9,703.6 933.3,702.6 934.1,702.2 933.7,701.1 934.3,700.8 933.8,699.6 934.4,699.1 934.0,698.1 934.6,697.6 934.0,696.6 934.8,696.3 934.3,695.1 934.7,694.7 934.4,693.5 934.9,693.1 934.4,692.2 935.1,691.7 934.6,690.7 935.0,690.0 933.9,691.2 936.2,691.4 933.4,692.9 936.7,692.2 934.5,694.2 936.0,694.2 933.7,696.2 935.9,695.2 934.6,696.9 937.0,697.4 934.0,699.3 936.0,698.2 934.4,700.8 936.9,700.0 934.1,701.9 936.2,701.4 934.2,703.0 936.7,703.3 934.5,705.1 936.5,704.7 935.0,706.7 937.2,705.5 934.6,707.9 936.8,707.5 934.5,709.1 936.9,708.6 934.8,711.2 937.6,711.0 934.2,712.4 937.1,712.3 935.0,714.0 937.3,713.6 936.0,715.0 935.3,716.5 937.1,716.4 934.9,718.2 937.3,717.0 934.9,718.9 936.5,719.3 934.2,720.2 937.2,721.0 935.2,722.8 937.2,721.6 934.8,723.4 937.2,723.2 934.8,725.5 937.0,725.5 933.9,726.4 936.9,726.7 934.4,728.6 936.3,728.2 934.4,729.6 935.5,730.0 936.9,729.7 934.0,732.3 936.9,731.5 934.8,733.9 936.6,732.7 934.3,735.5 937.0,734.6 934.8,736.9 936.7,736.2 934.9,738.6 936.8,737.3 934.4,740.3 937.1,739.5 935.4,741.5 937.7,741.0 934.9,742.5 937.9,742.7 934.8,744.2 938.1,743.7 935.8,746.1 938.0,745.8 935.9,746.9 937.8,746.8 935.5,749.3 938.0,748.3 935.4,750.9 938.6,749.8 935.9,751.4 937.0,752.0 937.8,752.6 935.8,754.1 937.6,753.7 935.3,756.0 938.5,755.0 935.7,757.1 937.5,756.3 935.7,758.1 938.3,758.1 935.3,759.8 937.4,759.8 935.8,761.7 938.0,761.6 935.0,763.6 938.3,763.5 935.4,765.0 936.5,765.0 937.6,764.8 936.0,767.2 938.6,766.5 936.3,768.7 937.9,768.1 935.6,770.8 938.8,769.3 936.4,771.9 938.8,771.1 936.8,773.2 938.5,772.3 936.7,774.6 939.6,773.7 937.1,776.3 939.1,776.1 938.5,777.0 936.9,778.0 939.9,778.1 936.9,780.2 939.1,779.9 937.3,780.8 939.0,781.1 937.6,783.2 939.9,783.0 937.0,784.5 939.0,784.5 937.4,786.1 939.0,785.9 936.8,787.2 939.4,787.4 937.4,788.7 939.4,788.6 936.6,790.5 939.6,789.8 937.1,791.9 939.0,791.0 937.0,793.4 939.5,792.7 937.3,794.3 938.0,795.0 939.2,794.9 937.6,797.2 940.2,796.7 938.3,798.9 940.1,797.7 938.4,801.1 940.8,799.6 939.1,802.5 940.5,802.0 941.6,802.1 938.7,803.9 941.1,803.5 939.5,805.7 942.1,804.8 939.6,806.6 942.0,806.9 939.4,808.5 941.2,808.1 939.4,810.3 941.9,809.4 938.5,811.2 941.2,811.3 939.5,813.0 940.9,812.3 939.3,814.2 940.9,814.0 938.9,815.8 941.3,815.7 940.0,817.0 939.7,817.8 940.4,818.4 939.9,819.5 940.5,819.9 939.8,820.8 940.4,821.4 939.9,822.5 940.6,822.9 940.0,823.9 940.6,824.3 940.2,825.5 940.6,825.8 940.3,827.0 940.8,827.5 940.3,828.4 941.0,828.8 940.5,829.9 941.1,830.3 940.5,831.3 941.1,831.9 940.5,832.9 941.1,833.3 940.5,834.4 941.2,834.8 940.7,835.8 941.4,836.3 940.8,837.4 941.3,837.9 940.9,838.9 941.3,839.5 940.9,840.3 941.6,840.9 941.1,842.0 941.5,842.4 941.0,843.4 941.6,843.9 941.1,844.8 941.8,845.4 941.2,846.5 941.5,847.0 941.9,847.7 941.3,848.6 942.0,849.1 941.6,850.1 942.1,850.5 941.6,851.7 942.3,852.1 941.7,853.2 942.5,853.6 942.0,854.6 942.6,855.3 942.2,856.3 942.8,856.8 942.2,857.9 942.9,858.2 942.3,859.3 942.9,859.8 942.6,860.9 943.2,861.4 942.7,862.5 943.4,862.8 942.9,863.8 943.3,864.3 942.9,865.4 943.6,865.8 943.1,867.0 943.7,867.5 943.3,868.5 943.8,868.8 943.4,870.0 944.0,870.4 943.5,871.7 944.2,872.0 943.7,873.2 944.3,873.5 943.9,874.6 944.4,874.9 944.0,876.1 944.6,876.5 944.0,877.6 944.6,878.2 944.5,879.0 944.8,878.3 944.2,877.3 944.8,876.9 944.4,875.7 945.0,875.5 944.5,874.5 945.0,874.0 944.4,872.7 944.9,872.3 944.4,871.3 945.2,870.8 944.6,869.8 945.2,869.4 944.5,868.2 945.3,867.9 944.7,866.8 945.1,866.3 944.8,865.3 945.4,864.7 944.8,863.8 945.3,863.3 944.8,862.2 945.5,861.9 944.8,860.7 945.5,860.2 945.0,859.2 945.5,858.7 944.9,857.7 945.4,857.2 945.0,856.3 945.6,855.8 945.0,854.9 945.5,854.2 945.1,853.3 945.7,852.8 945.1,851.6 945.9,851.3 945.3,850.2 945.7,849.7 945.4,848.7 945.8,848.1 945.3,847.2 946.0,846.8 945.3,845.7 946.0,845.3 945.3,844.2 946.0,843.6 945.4,842.7 946.0,842.3 945.5,841.2 946.2,840.7 945.5,839.6 946.3,839.1 945.8,838.2 946.3,837.7 945.7,836.6 946.3,836.2 945.8,835.1 946.4,834.6 945.9,833.5 946.4,833.0 945.8,832.0 946.5,831.6 945.9,830.7 946.2,830.0 947.1,829.7 945.4,827.9 947.8,828.4 945.3,826.0 947.5,826.4 944.9,824.8 947.2,825.5 945.9,823.0 947.7,823.9 945.1,821.6 948.4,822.1 945.8,820.0 948.4,820.9 946.0,818.7 947.7,819.2 945.2,817.5 948.6,817.9 945.6,816.1 948.1,816.6 945.6,813.8 948.5,815.2 946.1,813.0 947.9,812.8 945.7,811.3 948.0,811.4 946.3,809.8 948.5,810.7 946.1,807.7 948.8,808.7 946.2,807.1 948.7,806.9 946.8,805.3 947.5,805.0 948.4,805.0 946.9,802.9 949.8,803.7 947.6,800.9 949.4,801.8 947.8,799.8 950.0,800.0 948.0,797.6 949.8,798.0 951.3,797.9 948.5,796.0 950.7,796.2 948.9,793.9 950.9,794.4 948.1,792.4 950.5,793.6 948.0,791.3 950.7,791.1 948.3,789.8 951.3,790.3 948.0,788.1 951.1,789.1 948.6,786.2 950.9,786.8 948.0,784.9 950.5,785.5 948.8,783.4 951.0,784.2 948.7,782.5 950.8,782.4 948.7,780.1 950.9,780.8 948.1,779.4 951.0,779.0 948.3,777.4 950.6,778.4 947.8,775.9 950.4,776.0 949.5,775.0 948.0,773.8 950.6,774.1 948.6,772.5 950.6,772.4 948.7,771.1 951.2,771.4 948.9,768.8 951.2,769.8 948.2,767.6 950.8,768.3 948.4,766.0 951.0,766.5 949.2,764.9 951.3,765.0 948.5,763.4 951.5,762.9 949.1,761.9 950.9,762.0 948.7,759.4 951.8,760.7 949.3,758.3 951.1,758.9 949.4,756.3 951.8,757.5 948.6,755.5 952.0,755.8 948.8,753.5 951.7,753.6 948.8,752.0 950.5,752.0 951.2,751.6 949.1,749.6 951.0,749.5 948.1,748.3 950.5,748.7 948.8,746.6 950.4,746.6 947.9,745.1 949.0,745.0 950.4,744.5 947.8,742.9 950.9,744.0 947.8,741.1 951.0,741.8 948.2,739.3 950.4,740.7 948.5,738.8 951.3,739.2 949.1,736.3 951.4,737.8 948.9,735.7 951.1,736.2 948.7,734.0 952.0,734.1 949.5,732.0 952.0,732.6 949.0,730.6 952.3,732.0 949.3,729.1 951.9,729.8 949.5,727.2 952.9,728.6 951.2,727.0 950.3,725.7 952.7,725.7 949.9,724.7 952.2,724.6 949.5,722.4 952.4,722.7 950.0,721.5 952.9,721.0 950.0,720.0 952.4,720.1 950.0,718.8 952.8,718.3 950.0,716.8 952.0,716.8 950.3,714.7 952.5,715.4 949.4,714.2 952.4,714.3 949.4,712.0 951.0,712.0 951.9,712.1 950.2,709.8 952.9,710.7 950.5,708.5 953.4,709.1 951.1,706.7 953.5,707.2 951.2,704.8 953.8,705.9 951.3,703.7 954.5,705.0 951.4,701.7 953.1,702.0 953.8,701.7 952.2,699.4 954.6,700.6 952.0,697.8 954.5,698.6 951.6,697.1 954.7,697.4 951.7,695.1 955.2,696.2 952.2,694.3 954.3,694.2 952.6,692.7 955.0,693.3 952.4,690.6 954.8,691.2 953.8,690.0 953.4,689.2 954.1,688.7 953.5,687.5 954.1,687.1 953.5,686.1 954.1,685.7 953.4,684.6 954.1,684.1 953.5,683.0 954.0,682.5 953.5,681.4 954.1,681.1 953.4,680.1 954.1,679.4 953.4,678.5 954.0,678.0 953.4,676.9 954.1,676.4 953.4,675.5 954.0,675.0 953.6,673.9 954.0,673.4 953.6,672.4 953.9,672.0 953.4,670.8 954.0,670.5 953.4,669.3 954.0,669.0 953.5,667.9 954.0,667.3 953.5,666.3 953.9,665.8 953.6,664.9 954.0,664.3 953.5,663.2 953.9,662.7 953.6,661.9 954.0,661.2 953.4,660.3 953.9,659.8 953.4,658.8 953.9,658.3 953.6,657.3 954.1,656.8 953.5,655.7 953.9,655.2 953.5,654.3 954.1,653.6 953.5,652.7 954.0,652.2 953.4,651.2 954.0,650.6 953.6,649.6 954.0,649.2 953.4,648.0 953.8,647.5 952.6,649.6 955.0,648.0 953.5,651.0 956.2,649.6 953.4,651.8 956.2,651.0 954.4,653.0 956.8,653.1 954.4,655.3 955.6,655.0 955.2,653.6 957.7,654.7 956.0,651.9 957.9,652.9 956.0,650.5 959.1,651.7 958.1,650.0 959.9,649.8 957.6,652.7 959.4,651.9 957.1,654.4 959.5,652.7 957.8,655.4 959.8,654.3 958.6,657.2 960.5,656.5 957.9,658.9 961.2,658.0 958.6,659.6 960.0,660.0 961.4,659.5 959.1,662.7 961.5,661.5 959.6,663.9 962.2,663.1 959.9,665.6 962.1,664.7 959.9,667.3 962.3,665.8 960.8,667.7 962.5,667.9 960.3,670.4 963.0,669.1 960.8,671.7 962.5,671.2 962.9,672.0 962.3,672.9 962.8,673.4 962.4,674.3 963.0,674.8 962.5,675.9 963.0,676.3 962.4,677.4 963.0,677.8 962.7,678.8 963.1,679.4 962.7,680.3 963.1,680.8 962.7,681.8 963.4,682.5 962.8,683.3 963.4,684.0 963.0,684.8 963.4,685.5 962.9,686.4 963.5,686.8 963.1,688.0 963.6,688.5 963.0,689.3 963.6,689.9 963.0,690.9 963.8,691.4 963.1,692.4 963.9,692.9 963.3,693.8 963.9,694.3 963.3,695.4 963.9,695.8 963.4,696.8 963.9,697.3 963.4,698.5 964.0,699.0 963.5,699.9 964.1,700.3 963.5,701.4 964.2,701.8 963.7,702.9 964.3,703.4 963.8,704.4 964.4,704.9 963.9,705.8 964.5,706.3 963.9,707.3 964.3,708.0 963.9,708.9 964.6,709.4 963.9,710.4 964.5,710.9 964.1,712.0 964.4,712.5 964.2,711.7 964.6,711.1 964.1,710.2 964.7,709.6 964.1,708.6 964.6,708.1 964.2,707.1 964.6,706.6 964.2,705.5 964.6,705.1 964.2,704.0 964.6,703.5 964.2,702.6 964.8,702.1 964.4,701.1 964.8,700.5 964.2,699.5 964.9,699.1 964.2,698.0 964.8,697.5 964.2,696.4 964.9,696.2 964.3,695.0 964.8,694.7 964.3,693.6 964.8,693.0 964.5,692.0 965.0,691.7 964.4,690.4 965.0,690.1 964.5,689.0 964.9,688.5 964.5,687.5 965.0,686.9 964.4,685.9 964.9,685.4 964.4,684.6 964.9,684.1 964.5,682.9 965.0,682.4 964.5,681.5 965.0,680.9 964.5,680.0 965.0,679.5 964.6,678.5 965.0,677.9 964.5,677.0 965.2,676.4 964.7,675.6 965.1,675.0 964.5,674.0 965.2,673.4 964.6,672.4 965.2,672.0 964.7,671.0 965.1,670.4 964.5,669.4 965.1,668.8 964.7,667.9 965.1,667.3 964.6,666.5 965.3,665.9 964.6,664.9 965.1,664.5 964.8,663.5 965.2,663.0 964.7,661.8 965.0,661.2 966.1,661.0 964.5,659.4 967.0,659.7 963.8,657.9 966.9,658.2 964.8,655.7 967.0,656.5 964.8,654.7 967.1,655.5 964.7,652.8 966.9,653.0 965.4,651.3 967.4,652.3 965.6,649.4 967.2,650.6 965.5,647.9 967.5,649.2 966.9,647.5 966.6,646.6 967.3,646.2 966.7,645.1 967.3,644.5 966.7,643.7 967.2,643.0 966.7,642.1 967.4,641.5 966.8,640.5 967.5,640.1 967.0,639.0 967.5,638.6 966.9,637.4 967.5,637.1 967.0,635.8 967.5,635.6 967.1,634.4 967.7,634.0 967.0,632.8 967.7,632.5 967.1,631.3 967.6,631.0 967.1,629.9 967.7,629.4 967.3,628.4 967.9,627.9 967.3,626.7 967.8,626.4 967.4,625.4 968.1,624.8 967.6,623.9 968.0,623.4 967.6,622.4 968.1,621.8 967.5,620.8 968.1,620.2 967.7,619.1 968.3,618.8 967.6,617.6 968.2,617.3 967.8,616.1 968.3,615.6 967.8,614.5 968.4,614.2 967.8,613.2 968.1,612.5 969.9,613.1 968.2,610.5 969.9,611.1 968.9,608.5 970.0,608.8 971.1,609.4 969.7,605.6 972.2,608.2 971.9,606.2 972.1,606.9 971.7,608.0 972.2,608.4 971.7,609.3 972.2,609.8 971.6,610.9 972.2,611.3 971.6,612.3 972.3,612.8 971.7,613.8 972.4,614.4 971.8,615.3 972.3,615.8 971.9,616.9 972.4,617.3 971.8,618.4 972.4,618.9 971.7,619.9 972.4,620.3 971.8,621.3 972.4,621.9 972.0,622.8 972.6,623.3 972.0,624.4 972.6,625.0 972.0,625.9 972.5,626.2 972.0,627.4 972.4,627.9 971.9,628.8 972.4,629.3 971.9,630.3 972.5,630.9 972.1,631.9 972.7,632.3 972.2,633.4 972.7,633.8 972.2,635.0 972.6,635.5 972.2,636.3 972.7,637.0 972.2,637.9 972.8,638.3 972.2,639.5 972.5,640.0 972.3,639.2 972.9,638.7 972.3,637.5 972.8,637.2 972.5,636.1 972.9,635.7 972.4,634.7 973.1,634.0 972.5,633.0 973.2,632.5 972.7,631.5 973.2,630.9 972.6,629.9 973.3,629.5 972.8,628.5 973.4,627.9 972.7,626.9 973.3,626.6 972.8,625.4 973.5,625.0 973.0,624.0 973.5,623.5 973.0,622.4 973.5,621.9 973.0,621.0 973.5,620.4 973.2,619.4 973.8,619.0 973.2,617.9 973.8,617.4 973.2,616.3 973.8,615.7 973.4,614.8 974.0,614.3 973.5,613.3 973.9,612.8 973.5,611.7 974.0,611.2 973.5,610.3 974.1,609.9 973.7,608.7 974.2,608.4 973.7,607.3 974.2,606.7 973.8,605.7 974.4,605.1 973.8,604.1 974.4,603.8 973.8,602.8 974.4,602.3 974.0,601.1 974.5,600.6 974.1,599.7 974.6,599.2 974.1,598.2 974.4,597.5 976.0,596.9 972.8,595.2 975.6,595.7 973.6,594.0 975.8,594.9 973.8,592.0 976.3,593.1 973.1,590.7 976.4,591.0 973.8,589.1 976.6,589.6 973.7,587.9 975.9,588.4 973.9,586.8 976.5,587.0 973.8,585.2 975.9,585.4 973.5,583.2 976.2,584.0 974.7,582.3 976.2,582.0 973.8,580.2 976.9,580.8 974.9,578.7 975.6,578.8 974.7,579.8 976.4,579.2 974.4,581.6 976.8,580.6 974.2,583.3 977.1,582.3 974.8,584.6 977.9,583.7 975.3,586.7 977.9,585.1 974.7,587.6 978.0,587.5 975.7,589.0 977.5,588.9 975.1,591.0 977.3,589.9 976.0,592.6 977.7,591.3 975.6,594.0 977.9,592.9 976.3,595.7 978.4,594.9 976.1,596.3 978.4,596.3 976.3,598.0 978.6,597.9 976.6,599.6 977.5,600.0 977.4,599.2 977.9,598.5 977.4,597.6 977.9,597.0 977.5,596.1 978.2,595.5 977.5,594.5 978.3,594.0 977.7,593.1 978.4,592.6 977.9,591.6 978.6,591.1 978.0,589.9 978.5,589.4 978.2,588.5 978.8,587.9 978.3,587.0 978.8,586.5 978.5,585.5 979.1,584.9 978.6,583.9 979.1,583.3 978.7,582.3 979.1,581.8 978.9,580.9 979.4,580.2 979.0,579.2 979.4,578.8 978.9,577.7 979.7,577.3 979.0,576.3 979.7,575.9 979.3,574.7 979.9,574.3 979.3,573.3 979.9,572.8 979.5,571.7 980.0,571.3 979.6,570.2 980.1,569.6 980.0,568.8 980.2,569.4 979.9,570.4 980.4,570.8 979.9,572.0 980.4,572.3 980.0,573.4 980.5,574.0 979.9,575.0 980.6,575.5 980.2,576.4 980.6,576.9 980.2,578.0 980.8,578.4 980.2,579.5 980.8,579.9 980.2,580.9 980.9,581.5 980.5,582.5 981.0,583.0 980.3,584.2 981.0,584.6 980.6,585.6 981.0,586.1 980.6,587.2 981.2,587.5 980.5,588.7 981.1,589.1 980.6,590.1 981.1,590.6 980.9,591.6 981.3,592.2 980.9,593.2 981.5,593.7 980.9,594.7 981.5,595.2 980.9,596.2 981.6,596.7 981.1,597.8 981.7,598.2 981.1,599.2 981.7,599.8 981.2,600.9 981.8,601.2 981.3,602.3 981.8,602.9 981.3,603.7 981.8,604.3 981.4,605.3 982.0,605.7 981.4,606.8 982.1,607.3 981.4,608.3 982.1,609.0 981.7,609.9 982.2,610.4 981.6,611.5 982.3,611.9 981.7,613.0 982.3,613.5 981.8,614.5 982.3,614.9 981.8,616.0 982.5,616.4 981.8,617.6 982.2,618.1 981.9,617.3 982.6,616.8 982.1,615.7 982.6,615.2 982.2,614.3 982.8,613.7 982.1,612.7 982.9,612.3 982.4,611.1 982.9,610.8 982.4,609.6 982.9,609.1 982.5,608.1 983.0,607.5 982.6,606.7 983.2,606.2 982.6,605.1 983.1,604.6 982.7,603.7 983.2,603.2 982.6,602.0 983.2,601.5 982.8,600.4 983.4,600.1 982.9,598.9 983.4,598.6 982.8,597.4 983.5,597.1 983.1,596.0 983.6,595.5 983.1,594.4 983.8,594.0 983.1,592.8 983.8,592.4 983.3,591.4 983.8,591.0 983.4,589.8 983.8,589.3 983.4,588.4 984.0,587.8 983.4,586.9 984.0,586.3 983.6,585.3 984.0,584.7 983.6,583.7 984.1,583.3 983.6,582.2 984.3,581.8 983.7,580.8 984.4,580.1 983.9,579.3 984.3,578.8 983.7,577.6 984.5,577.1 983.9,576.2 984.5,575.8 984.1,574.6 984.5,574.1 984.1,573.1 984.4,572.5 983.8,574.2 985.2,573.1 983.7,575.3 986.3,575.2 983.7,576.5 986.4,576.0 984.2,578.7 985.9,578.2 984.4,579.8 987.0,579.4 984.3,581.4 987.1,581.0 984.6,582.5 987.4,581.9 984.6,584.2 987.2,583.9 985.0,586.1 986.8,585.7 985.4,587.9 987.1,586.8 985.3,588.8 987.9,587.9 985.0,590.1 988.4,589.5 985.4,591.7 986.9,591.9 985.7,590.9 988.6,590.9 985.8,588.8 988.5,589.2 985.9,587.7 989.0,588.0 985.8,586.3 988.2,585.9 986.5,584.7 989.0,584.5 987.1,582.7 989.5,583.6 987.3,581.2 989.7,581.5 986.5,579.3 989.7,580.4 987.3,578.6 989.2,578.2 986.9,576.3 989.7,577.6 987.4,574.9 988.8,575.0 989.5,575.4 988.0,572.9 990.1,573.3 987.8,571.5 990.5,571.8 988.5,569.4 990.2,570.3 988.6,567.9 990.5,568.9 988.6,566.5 991.0,567.2 988.5,564.7 990.0,565.0 989.5,566.0 991.5,565.5 989.1,568.5 991.7,567.4 989.6,569.4 992.4,569.5 990.0,571.3 992.5,570.2 990.1,573.1 992.8,572.0 991.9,573.8 992.2,573.1 991.7,572.2 992.4,571.6 991.8,570.5 992.4,570.1 992.1,569.1 992.5,568.7 992.0,567.6 992.6,567.2 992.1,566.2 992.9,565.6 992.4,564.6 992.9,564.2 992.4,563.1 993.1,562.5 992.7,561.6 993.0,561.2 992.7,560.1 993.2,559.6 992.9,558.6 993.4,558.1 992.8,557.1 993.4,556.8 993.0,555.6 993.7,555.2 993.1,554.0 993.8,553.8 993.2,552.6 993.8,552.2 993.3,551.1 993.8,550.6 993.5,549.5 994.1,549.2 993.5,548.1 994.3,547.6 993.6,546.5 994.4,546.1 993.7,545.1 994.4,544.6 993.9,543.5 994.6,543.2 994.0,542.2 994.8,541.8 994.2,540.5 994.5,540.0 994.2,540.9 994.8,541.3 994.4,542.4 994.9,543.0 994.4,543.9 995.2,544.5 994.6,545.4 995.3,546.0 994.7,546.9 995.3,547.4 995.0,548.4 995.4,548.9 995.1,550.1 995.7,550.5 995.0,551.4 995.7,551.9 995.1,553.0 995.7,553.4 995.3,554.5 995.9,555.0 995.4,555.9 996.1,556.5 995.6,557.5 996.1,558.0 995.7,558.9 996.2,559.5 995.8,560.4 996.4,561.0 996.0,562.0 996.5,562.4 996.1,563.5 996.5,564.1 996.1,565.1 996.8,565.5 996.2,566.7 997.0,567.1 996.5,568.2 997.1,568.5 996.4,569.6 997.1,570.1 996.6,571.2 997.3,571.7 997.0,572.5 998.2,572.4 996.5,570.7 998.6,570.9 996.3,568.3 999.1,569.6 996.3,567.0 999.4,568.2 996.7,566.2 999.4,566.0 997.1,564.7 999.7,565.2 996.9,563.3 999.2,563.9 997.6,561.5 999.4,561.5 997.8,559.6 999.8,560.2 997.3,558.3 1000.2,558.6 998.4,557.1 999.8,557.8 998.1,555.7 1000.8,555.7 997.9,553.6 1001.0,554.1 998.1,552.6 1001.4,553.4 999.2,551.1 1001.5,551.6 1000.0,550.0 999.3,548.6 1000.7,549.0 999.4,546.7 1000.9,547.5 999.6,545.7 1001.5,546.1 1000.0,544.0 1001.7,544.0 999.9,542.5 1001.9,542.6 1000.2,541.2 1002.3,541.1 1000.7,539.7 1002.3,539.4 1000.9,538.1 1002.2,538.5 1000.6,536.3 1002.6,536.4 1001.0,534.5 1003.2,535.2 1000.8,533.2 1003.2,533.2 1001.0,531.4 1003.4,532.4 1001.4,530.5 1002.5,530.0 1003.3,529.7 1001.7,528.0 1003.3,528.3 1002.0,526.5 1004.0,526.8 1002.0,524.7 1004.5,525.5 1002.0,523.6 1004.5,523.4 1002.2,522.0 1004.4,522.1 1003.1,520.1 1005.0,520.3 1003.2,519.0 1004.6,519.0 1003.5,517.1 1005.3,517.3 1003.2,515.8 1005.4,515.8 1003.9,514.5 1005.2,514.5 1003.3,512.9 1005.9,512.6 1003.6,511.0 1005.6,511.6 1005.0,510.0 1003.9,508.7 1006.0,509.2 1004.5,506.8 1006.7,507.6 1004.3,505.9 1006.4,505.8 1004.9,504.2 1007.0,504.2 1005.3,503.0 1007.0,502.5 1004.8,500.9 1006.8,501.2 1005.0,499.7 1007.3,499.8 1005.5,497.6 1007.2,498.2 1006.0,496.4 1007.3,496.3 1005.9,494.6 1007.9,494.8 1006.0,493.0 1008.3,493.3 1006.1,492.1 1008.4,492.1 1006.9,490.4 1007.5,490.0 1007.8,489.4 1007.4,488.4 1007.9,487.7 1007.6,486.9 1008.2,486.3 1007.7,485.4 1008.3,484.8 1007.9,483.8 1008.5,483.3 1007.8,482.1 1008.4,481.7 1007.9,480.8 1008.5,480.2 1008.1,479.2 1008.7,478.7 1008.3,477.7 1008.8,477.3 1008.4,476.2 1009.1,475.7 1008.5,474.7 1009.1,474.2 1008.6,473.0 1009.2,472.7 1008.7,471.7 1009.3,471.2 1009.1,470.0 1009.5,469.6 1009.1,468.5 1009.6,468.1 1009.2,467.1 1009.8,466.7 1009.2,465.4 1009.9,465.0 1009.5,463.9 1009.9,463.6 1009.6,462.4 1010.1,461.9 1009.7,461.0 1010.2,460.6 1009.9,459.5 1010.4,458.9 1010.0,457.8 1010.5,457.4 1010.1,456.3 1010.7,455.8 1010.5,455.0 1010.8,455.7 1010.3,456.7 1010.9,457.1 1010.4,458.3 1011.1,458.6 1010.5,459.5 1011.0,460.1 1010.7,461.1 1011.2,461.7 1010.8,462.5 1011.3,463.1 1010.9,464.2 1011.5,464.6 1010.8,465.7 1011.6,466.2 1010.9,467.2 1011.6,467.7 1011.1,468.6 1011.7,469.1 1011.3,470.2 1011.9,470.5 1011.3,471.7 1012.0,472.2 1011.4,473.2 1011.9,473.7 1011.4,474.8 1012.1,475.0 1011.7,476.2 1012.2,476.7 1011.6,477.7 1012.3,478.2 1011.9,479.2 1012.5,479.6 1011.8,480.7 1012.6,481.1 1012.0,482.1 1012.7,482.6 1012.0,483.6 1012.6,484.2 1012.5,485.0 1011.6,486.4 1014.0,486.1 1011.5,487.5 1013.3,487.4 1012.0,489.0 1014.0,489.0 1012.0,490.7 1014.0,490.4 1012.3,492.1 1014.1,491.8 1012.6,493.8 1014.1,493.7 1012.5,495.6 1014.6,495.1 1012.7,497.0 1015.2,496.8 1013.4,498.2 1014.5,498.0 1013.3,499.4 1014.8,499.5 1013.0,501.1 1015.1,500.9 1013.2,502.9 1015.6,502.6 1013.9,504.6 1015.7,504.3 1013.6,505.5 1016.0,505.3 1013.7,507.2 1015.0,507.5 1014.5,505.8 1015.9,506.5 1014.9,504.9 1016.4,505.4 1015.4,502.7 1016.9,503.7 1015.6,501.9 1017.5,501.7 1016.2,500.3 1018.2,500.4 1016.2,498.5 1018.1,498.5 1017.5,497.5 1017.7,498.0 1017.4,499.2 1017.8,499.5 1017.3,500.7 1018.0,501.2 1017.4,502.2 1018.0,502.5 1017.7,503.7 1018.0,504.2 1017.6,505.2 1018.3,505.5 1017.8,506.7 1018.2,507.1 1017.8,508.1 1018.3,508.5 1017.9,509.7 1018.6,510.2 1017.9,511.2 1018.5,511.7 1018.0,512.6 1018.7,513.2 1018.1,514.1 1018.7,514.5 1018.1,515.6 1018.8,516.1 1018.3,517.1 1018.9,517.7 1018.3,518.6 1019.0,519.0 1018.4,520.2 1019.0,520.6 1018.5,521.7 1019.2,522.1 1018.6,523.1 1019.1,523.6 1018.8,524.6 1019.1,525.1 1018.8,526.0 1019.2,526.7 1018.7,527.6 1019.4,528.1 1019.0,529.2 1019.5,529.6 1019.0,530.7 1019.6,531.2 1019.2,532.0 1019.6,532.5 1019.1,533.6 1019.7,534.1 1019.5,535.0 1019.2,536.0 1019.9,536.4 1019.4,537.3 1019.9,537.9 1019.5,538.8 1020.1,539.3 1019.5,540.4 1020.1,540.8 1019.7,541.9 1020.2,542.4 1019.7,543.4 1020.2,543.9 1019.7,545.1 1020.5,545.4 1019.8,546.4 1020.4,546.9 1020.0,548.1 1020.6,548.5 1020.0,549.6 1020.6,550.1 1020.2,551.0 1020.7,551.5 1020.2,552.6 1020.8,552.9 1020.4,554.0 1020.9,554.6 1020.6,555.7 1021.0,556.2 1020.5,557.2 1021.0,557.6 1020.6,558.6 1021.2,559.0 1020.9,560.0 1021.5,560.6 1020.8,561.6 1021.3,562.0 1021.0,563.2 1021.2,563.8 1021.0,562.9 1021.5,562.5 1021.1,561.2 1021.8,560.8 1021.1,559.7 1021.9,559.3 1021.3,558.4 1021.9,557.8 1021.3,556.9 1021.8,556.4 1021.5,555.3 1022.1,555.0 1021.5,553.8 1022.2,553.3 1021.6,552.4 1022.3,551.9 1021.6,550.9 1022.3,550.2 1021.7,549.2 1022.3,548.7 1021.9,547.7 1022.4,547.2 1021.9,546.3 1022.5,545.7 1022.1,544.8 1022.6,544.3 1022.1,543.2 1022.8,542.9 1022.3,541.6 1022.9,541.2 1022.4,540.3 1023.0,539.9 1022.3,538.7 1022.9,538.4 1022.4,537.3 1023.0,536.8 1022.6,535.7 1023.1,535.1 1022.7,534.1 1023.3,533.7 1022.8,532.6 1023.3,532.2 1022.8,531.1 1023.5,530.6 1022.9,529.7 1023.5,529.1 1022.9,528.2 1023.6,527.6 1023.2,526.6 1023.8,526.2 1023.2,525.2 1023.7,524.6 1023.2,523.6 1023.8,523.2 1023.3,522.2 1024.0,521.7 1023.5,520.7 1023.8,520.0 1025.1,519.7 1022.9,517.9 1024.9,517.8 1022.9,516.4 1025.2,516.8 1023.5,515.0 1024.8,514.9 1023.9,513.4 1025.3,513.4 1023.6,511.7 1025.1,511.6 1023.7,510.5 1025.8,510.6 1024.4,508.4 1025.6,509.1 1024.2,507.0 1026.2,507.7 1024.3,506.0 1025.9,506.1 1024.7,504.2 1026.4,504.7 1024.9,502.3 1026.7,503.3 1024.6,501.5 1027.1,501.1 1024.9,499.6 1026.6,500.2 1025.0,497.6 1027.2,498.0 1025.2,496.3 1026.2,496.2 1025.4,497.2 1027.6,497.5 1025.2,498.9 1027.3,499.1 1025.8,500.4 1027.9,500.4 1026.1,502.4 1027.8,501.8 1025.9,503.2 1027.4,503.7 1025.7,505.4 1027.9,505.2 1025.7,506.5 1028.2,506.6 1026.6,508.2 1028.1,507.9 1026.4,509.4 1028.5,509.2 1026.1,511.6 1028.5,511.1 1026.7,512.7 1028.0,512.4 1026.8,514.1 1028.5,514.0 1026.6,516.3 1028.8,515.6 1026.5,517.6 1029.2,517.2 1027.3,518.9 1029.2,518.5 1028.0,520.0 1027.2,521.3 1028.7,520.6 1027.5,522.6 1029.0,522.9 1027.8,524.2 1029.2,524.4 1027.9,525.9 1029.0,525.4 1027.8,527.3 1029.8,527.1 1027.6,528.5 1029.7,528.5 1028.1,530.3 1030.1,529.9 1028.4,531.4 1029.9,531.4 1028.1,532.9 1030.4,532.6 1028.5,534.6 1030.0,534.4 1028.9,535.9 1030.8,536.0 1028.4,538.2 1030.4,537.3 1029.1,539.2 1030.9,538.7 1028.6,540.9 1030.9,540.6 1028.7,542.4 1030.0,542.5 1029.9,541.6 1030.2,541.0 1030.0,540.1 1030.3,539.6 1030.0,538.5 1030.6,538.0 1029.9,537.1 1030.6,536.6 1030.1,535.6 1030.7,535.1 1030.1,534.1 1030.8,533.7 1030.4,532.6 1030.7,532.1 1030.4,530.9 1031.0,530.5 1030.5,529.5 1031.0,529.0 1030.4,528.0 1030.9,527.5 1030.4,526.6 1031.1,526.0 1030.7,524.9 1031.1,524.5 1030.6,523.6 1031.3,523.0 1030.6,521.9 1031.2,521.4 1030.7,520.5 1031.4,519.9 1030.9,519.0 1031.6,518.4 1030.9,517.5 1031.6,516.9 1030.9,515.9 1031.6,515.5 1031.0,514.4 1031.7,513.9 1031.3,512.9 1031.7,512.4 1031.2,511.5 1031.8,511.0 1031.5,510.0 1031.9,509.5 1031.5,508.4 1032.0,507.9 1031.4,507.0 1032.0,506.3 1031.5,505.4 1032.3,505.0 1031.6,503.9 1032.2,503.4 1032.0,502.5 1031.6,500.9 1032.8,501.4 1031.3,499.6 1033.1,499.8 1031.3,498.1 1033.7,498.6 1031.5,496.5 1033.8,497.2 1031.9,495.1 1034.2,495.3 1032.0,493.8 1034.3,493.5 1032.3,492.0 1034.5,492.5 1032.6,490.1 1034.6,490.6 1032.7,488.7 1035.0,489.3 1033.1,487.0 1035.2,487.5 1033.2,485.6 1035.4,486.1 1033.7,484.4 1034.8,484.8 1033.7,483.0 1034.5,482.5 1035.7,482.2 1033.6,480.7 1035.3,480.7 1033.7,479.0 1036.2,479.1 1034.2,477.2 1035.8,477.7 1033.9,475.5 1036.4,476.5 1034.3,474.2 1036.1,474.6 1034.6,472.4 1036.3,473.3 1035.2,471.0 1037.2,471.4 1035.6,470.1 1037.1,469.7 1035.3,467.7 1037.4,468.8 1035.3,466.8 1037.1,467.2 1035.3,465.1 1037.7,465.7 1036.1,463.6 1037.8,464.1 1037.0,462.5 1036.7,461.1 1038.3,461.5 1037.0,459.7 1038.7,459.8 1036.9,458.0 1038.9,458.4 1037.3,456.7 1039.5,457.0 1038.2,455.2 1039.4,455.0 1038.5,453.7 1040.3,453.7 1039.5,452.5 1038.8,451.0 1040.2,451.2 1039.2,449.9 1040.5,449.8 1038.8,448.5 1040.6,448.4 1039.5,446.7 1041.2,446.7 1039.6,444.9 1040.9,445.1 1039.6,443.9 1041.5,444.3 1040.2,442.2 1041.8,442.2 1040.0,440.8 1042.1,440.8 1039.9,438.6 1041.2,438.8 1040.7,439.6 1041.9,439.6 1040.7,441.3 1042.0,441.5 1040.5,443.5 1042.3,442.6 1040.3,444.6 1042.3,444.8 1041.1,445.9 1042.8,446.1 1040.8,447.7 1042.9,447.3 1041.1,449.3 1042.6,449.0 1041.2,450.7 1043.3,450.4 1041.7,452.2 1043.4,451.7 1041.6,454.1 1043.1,453.3 1041.2,455.1 1043.5,455.1 1041.4,457.3 1043.2,456.3 1042.2,458.0 1043.7,458.4 1042.0,459.9 1043.8,459.9 1042.3,461.7 1044.0,460.9 1043.0,462.5 1044.4,462.7 1042.3,460.8 1044.6,460.7 1042.4,459.2 1044.3,459.4 1042.7,457.8 1044.5,457.7 1042.5,455.6 1045.1,455.9 1042.7,454.2 1044.6,454.7 1042.9,453.0 1045.3,453.1 1043.1,451.5 1045.1,452.0 1043.6,449.7 1045.7,450.2 1043.6,448.4 1045.8,448.7 1044.2,447.4 1046.2,447.5 1044.4,445.7 1045.9,445.4 1044.4,443.9 1045.5,443.8 1046.6,443.8 1045.0,441.7 1046.6,442.0 1045.6,439.8 1047.4,440.6 1045.2,438.2 1047.2,439.3 1046.0,437.0 1047.8,437.1 1045.7,435.8 1047.6,435.7 1046.1,433.6 1048.3,434.1 1046.6,432.3 1048.1,432.9 1046.8,430.8 1048.7,431.4 1048.0,430.0 1047.6,429.0 1048.8,428.8 1047.1,426.6 1049.2,427.2 1047.5,425.0 1050.1,425.9 1048.2,423.6 1049.8,424.0 1048.6,422.5 1049.9,422.5 1049.5,421.2 1048.9,419.3 1051.1,421.1 1050.5,418.7 1052.3,420.1 1052.0,418.0 1052.8,418.6 1051.1,420.5 1053.3,419.8 1052.1,421.5 1053.4,421.3 1052.4,423.4 1054.2,422.4 1052.3,424.9 1054.3,424.3 1052.5,426.5 1054.3,425.7 1052.8,427.8 1054.5,427.1 1053.1,429.1 1055.1,428.5 1054.5,430.0 1055.6,429.6 1053.8,428.2 1055.7,428.5 1054.4,426.6 1056.2,426.7 1054.1,424.4 1056.6,425.4 1054.9,423.5 1056.9,423.6 1055.4,421.5 1056.8,422.5 1055.3,420.5 1057.4,421.0 1055.8,418.3 1057.6,419.1 1056.2,417.6 1057.0,417.0 1056.1,418.6 1058.0,418.0 1056.2,420.1 1058.3,419.5 1056.6,420.9 1058.6,421.0 1056.5,422.9 1058.6,422.9 1056.6,424.6 1058.8,424.0 1056.5,426.0 1058.9,425.5 1056.4,427.4 1059.1,427.2 1056.9,429.2 1058.8,428.8 1057.2,430.4 1059.1,430.6 1057.1,431.8 1058.8,431.8 1057.3,433.3 1058.9,433.2 1057.3,435.3 1059.2,434.8 1057.7,436.6 1059.3,436.7 1057.3,437.9 1059.5,438.2 1057.4,440.1 1058.8,440.0 1060.2,440.3 1058.1,442.3 1060.4,441.5 1058.6,443.8 1060.3,443.1 1058.4,445.4 1060.5,444.9 1058.8,447.3 1061.1,446.3 1059.7,448.6 1061.8,448.3 1059.8,449.9 1061.5,449.3 1060.4,451.8 1062.0,451.3 1061.2,452.5 1060.9,453.7 1062.7,453.6 1060.7,455.7 1063.0,454.7 1060.7,457.2 1062.5,456.1 1060.8,458.7 1062.7,458.5 1061.0,459.7 1062.9,459.9 1061.4,461.6 1063.0,460.9 1062.0,463.2 1063.5,462.5 1061.6,464.6 1063.7,464.5 1062.1,466.4 1064.0,465.5 1062.6,467.7 1064.4,466.9 1062.9,469.0 1064.2,468.7 1063.8,470.0 1063.5,471.1 1064.8,470.7 1063.8,472.9 1065.2,472.7 1063.8,474.3 1066.3,473.5 1064.8,476.0 1066.6,474.9 1065.4,477.2 1066.2,477.5 1065.5,476.0 1067.2,476.5 1065.5,474.9 1067.2,474.7 1066.0,473.2 1068.3,473.3 1066.2,472.0 1067.9,471.8 1066.4,470.1 1068.8,470.4 1066.6,468.5 1068.7,469.3 1067.2,467.5 1068.6,467.1 1066.8,465.9 1069.1,466.1 1067.7,463.9 1069.2,464.9 1067.5,462.6 1068.8,462.5 1069.9,461.9 1067.9,460.7 1069.6,461.0 1068.3,459.2 1070.0,459.1 1068.7,457.4 1070.4,457.5 1068.9,456.1 1070.7,456.1 1069.0,453.9 1071.3,454.6 1069.1,452.4 1071.4,453.2 1069.4,451.4 1071.2,451.0 1070.5,450.0 1071.4,450.3 1070.9,452.3 1072.7,450.9 1071.6,453.4 1073.8,452.5 1072.6,455.5 1073.8,455.0 1074.0,455.7 1073.5,456.8 1074.3,457.2 1073.7,458.2 1074.3,458.6 1073.7,459.7 1074.4,460.1 1073.8,461.1 1074.4,461.6 1074.0,462.5 1074.6,463.1 1073.9,464.2 1074.5,464.5 1074.1,465.6 1074.7,466.1 1074.1,467.1 1074.8,467.6 1074.4,468.5 1074.9,469.0 1074.5,470.1 1075.0,470.6 1074.6,471.7 1075.1,472.2 1074.4,473.2 1075.2,473.6 1074.7,474.6 1075.1,475.0 1074.7,476.0 1075.4,476.5 1074.9,477.7 1075.5,478.1 1074.9,479.2 1075.6,479.5 1075.1,480.6 1075.7,481.0 1075.2,482.0 1075.8,482.7 1075.3,483.5 1075.8,484.2 1075.4,485.2 1075.8,485.6 1075.4,486.7 1075.9,487.1 1075.6,488.3 1076.2,488.5 1075.6,489.8 1076.2,490.2 1075.7,491.1 1076.2,491.6 1075.7,492.5 1076.4,493.0 1075.7,494.2 1076.5,494.7 1075.9,495.7 1076.2,496.2 1076.1,495.4 1076.6,494.8 1076.1,493.8 1076.8,493.3 1076.3,492.4 1076.9,491.8 1076.2,490.9 1077.0,490.4 1076.4,489.3 1077.0,488.9 1076.6,487.8 1077.2,487.3 1076.7,486.3 1077.2,485.7 1076.8,484.7 1077.4,484.3 1076.7,483.3 1077.3,482.6 1076.9,481.6 1077.4,481.1 1077.0,480.2 1077.7,479.6 1077.1,478.7 1077.8,478.1 1077.2,477.1 1077.8,476.6 1077.3,475.6 1077.8,475.1 1077.3,474.1 1078.0,473.5 1077.5,472.7 1078.1,472.2 1077.6,471.1 1078.3,470.5 1077.7,469.6 1078.2,468.9 1077.8,468.0 1078.4,467.5 1077.9,466.5 1078.4,466.0 1078.0,465.1 1078.6,464.5 1078.1,463.5 1078.8,463.1 1078.3,461.9 1078.9,461.4 1078.2,460.3 1078.9,460.0 1078.4,458.9 1079.0,458.5 1078.8,457.5 1079.6,458.0 1078.0,459.7 1079.7,459.6 1078.6,460.8 1080.2,460.6 1078.0,462.3 1079.9,462.1 1078.4,463.9 1080.0,463.7 1078.7,465.5 1080.4,465.2 1078.8,467.2 1080.4,466.8 1078.7,468.2 1081.1,467.8 1079.6,469.8 1081.3,469.7 1079.3,471.8 1081.1,471.2 1079.1,473.5 1081.3,472.8 1080.0,474.5 1081.8,474.5 1079.7,476.2 1081.9,475.8 1080.3,477.7 1082.2,477.0 1080.0,478.7 1082.4,478.5 1081.2,480.0 1082.7,479.6 1080.4,477.9 1082.3,478.5 1080.9,476.7 1082.9,476.8 1081.0,475.0 1083.0,475.7 1082.0,473.2 1083.3,473.8 1083.0,472.5 1083.3,473.1 1082.6,474.1 1083.3,474.6 1082.9,475.7 1083.4,476.2 1082.9,477.1 1083.4,477.7 1083.0,478.6 1083.5,479.1 1083.0,480.2 1083.5,480.7 1083.0,481.6 1083.7,482.1 1083.0,483.3 1083.6,483.8 1083.0,484.7 1083.5,485.1 1083.0,486.1 1083.7,486.8 1083.1,487.7 1083.8,488.3 1083.2,489.3 1083.6,489.8 1083.2,490.7 1083.8,491.3 1083.2,492.2 1083.8,492.8 1083.4,493.7 1083.8,494.4 1083.4,495.4 1083.9,495.7 1083.3,496.8 1083.8,497.4 1083.4,498.5 1084.0,498.9 1083.3,499.9 1084.0,500.3 1083.6,501.4 1084.1,501.9 1083.4,502.9 1084.0,503.3 1083.5,504.4 1084.1,505.0 1083.6,506.0 1084.2,506.3 1083.6,507.4 1084.1,507.9 1083.6,508.9 1084.2,509.3 1083.6,510.5 1084.4,510.9 1083.7,512.0 1084.3,512.4 1083.9,513.6 1084.4,514.0 1084.0,514.9 1084.5,515.4 1083.8,516.5 1084.4,517.0 1083.9,518.0 1084.4,518.5 1084.0,519.4 1084.6,519.9 1084.1,521.0 1084.6,521.6 1084.0,522.6 1084.5,523.0 1084.0,524.1 1084.5,524.5 1084.1,525.5 1084.6,526.2 1084.2,527.2 1084.6,527.5 1084.1,528.6 1084.9,529.2 1084.5,530.0 1084.3,531.0 1084.8,531.3 1084.3,532.4 1085.0,532.8 1084.5,534.0 1084.9,534.4 1084.4,535.4 1085.0,536.0 1084.6,537.0 1085.2,537.5 1084.7,538.3 1085.2,538.9 1084.7,539.9 1085.2,540.5 1084.7,541.3 1085.4,541.9 1084.8,543.1 1085.5,543.4 1085.0,544.5 1085.4,544.9 1084.9,546.1 1085.4,546.5 1085.1,547.5 1085.6,548.0 1084.9,549.0 1085.7,549.5 1085.1,550.4 1085.7,550.9 1085.3,552.1 1085.7,552.5 1085.3,553.5 1085.9,554.0 1085.4,554.9 1086.0,555.5 1085.3,556.5 1085.9,557.0 1085.4,558.1 1086.1,558.6 1085.5,559.6 1086.2,560.1 1085.6,561.1 1086.0,561.6 1085.7,562.7 1086.4,563.0 1085.7,564.2 1086.3,564.7 1085.8,565.5 1086.3,566.0 1085.7,567.0 1086.5,567.5 1085.8,568.7 1086.5,569.1 1086.2,570.0 1086.7,569.3 1086.1,568.4 1086.7,568.0 1086.2,566.9 1086.7,566.3 1086.1,565.3 1086.8,564.8 1086.2,563.8 1086.9,563.3 1086.3,562.4 1086.8,561.9 1086.3,560.8 1087.0,560.2 1086.3,559.3 1087.0,558.9 1086.5,557.9 1087.2,557.4 1086.6,556.2 1087.0,555.7 1086.6,554.7 1087.3,554.4 1086.6,553.2 1087.3,552.8 1086.9,551.7 1087.4,551.2 1086.9,550.3 1087.5,549.9 1087.0,548.8 1087.5,548.2 1087.0,547.1 1087.5,546.8 1086.9,545.8 1087.6,545.1 1087.1,544.3 1087.7,543.7 1087.1,542.7 1087.6,542.3 1087.2,541.1 1087.8,540.8 1087.3,539.7 1087.9,539.2 1087.4,538.2 1087.9,537.6 1087.5,536.7 1088.1,536.2 1087.6,535.2 1087.9,534.7 1087.6,533.6 1088.2,533.2 1087.6,532.1 1088.3,531.7 1087.8,530.6 1088.0,530.0 1089.4,529.9 1087.7,527.5 1090.0,528.4 1088.1,526.3 1090.2,526.7 1088.7,524.5 1090.4,525.7 1088.7,523.5 1091.5,523.9 1090.5,522.5 1090.7,523.1 1090.2,524.2 1090.8,524.6 1090.3,525.6 1091.1,526.1 1090.5,527.2 1091.0,527.7 1090.4,528.6 1091.0,529.1 1090.7,530.1 1091.2,530.8 1090.7,531.7 1091.2,532.2 1090.8,533.3 1091.2,533.7 1090.8,534.7 1091.3,535.1 1090.8,536.2 1091.3,536.7 1091.0,537.7 1091.6,538.2 1090.9,539.2 1091.5,539.6 1091.0,540.7 1091.6,541.4 1091.2,542.3 1091.7,542.7 1091.3,543.7 1091.7,544.4 1091.2,545.4 1091.9,545.7 1091.3,546.7 1091.9,547.3 1091.4,548.4 1092.1,548.8 1091.4,549.8 1092.1,550.3 1091.5,551.4 1092.2,551.9 1091.5,552.9 1092.3,553.4 1091.7,554.3 1092.0,555.0 1093.3,555.2 1091.1,557.3 1093.0,556.8 1091.3,558.3 1093.2,558.2 1091.8,560.0 1093.1,560.0 1091.3,561.8 1093.5,561.0 1091.9,562.9 1093.2,563.1 1091.5,564.2 1093.9,564.2 1091.8,566.3 1093.5,565.5 1091.7,567.6 1094.0,567.2 1092.1,569.1 1093.6,568.6 1092.4,570.8 1094.4,570.4 1092.3,572.1 1094.5,571.8 1092.3,573.5 1093.2,573.8 1093.1,572.8 1093.6,572.4 1092.9,571.5 1093.5,570.9 1093.1,569.9 1093.6,569.3 1093.2,568.4 1093.6,567.9 1093.0,567.0 1093.7,566.4 1093.1,565.4 1093.7,565.0 1093.1,564.0 1093.7,563.3 1093.2,562.5 1093.9,561.9 1093.3,560.9 1093.7,560.3 1093.4,559.3 1093.9,558.8 1093.2,557.9 1093.8,557.4 1093.3,556.3 1093.8,556.0 1093.5,554.8 1094.1,554.4 1093.5,553.3 1094.0,552.9 1093.4,551.8 1094.1,551.4 1093.4,550.3 1094.0,549.9 1093.5,549.0 1094.1,548.4 1093.6,547.3 1094.2,547.0 1093.7,545.8 1094.2,545.3 1093.6,544.3 1094.1,544.0 1093.8,542.8 1094.3,542.4 1093.7,541.4 1094.2,540.8 1093.7,539.9 1094.3,539.3 1093.6,538.2 1094.3,537.9 1093.8,536.8 1094.3,536.5 1093.8,535.3 1094.4,534.8 1093.9,533.8 1094.3,533.4 1093.9,532.4 1094.5,531.8 1093.9,530.9 1094.4,530.5 1094.1,529.5 1094.6,528.9 1093.9,527.8 1094.6,527.5 1094.1,526.3 1094.6,525.9 1094.0,524.9 1094.7,524.4 1094.2,523.3 1094.7,522.9 1094.1,521.9 1094.8,521.3 1094.3,520.3 1094.7,519.9 1094.2,518.8 1094.9,518.4 1094.5,517.5 1094.2,516.6 1094.9,516.1 1094.3,515.1 1094.9,514.7 1094.4,513.5 1095.1,513.0 1094.7,512.1 1095.2,511.6 1094.8,510.5 1095.3,510.1 1095.0,509.0 1095.3,508.6 1095.0,507.4 1095.6,507.1 1095.1,505.9 1095.7,505.7 1095.2,504.6 1095.9,503.9 1095.5,503.0 1096.0,502.6 1095.6,501.5 1096.1,501.1 1095.5,500.0 1096.1,499.4 1095.8,498.5 1096.3,498.0 1095.8,497.0 1096.3,496.5 1095.8,495.5 1096.4,495.1 1096.1,493.9 1096.6,493.4 1096.0,492.5 1096.8,492.1 1096.2,490.8 1096.9,490.3 1096.4,489.5 1096.9,488.9 1096.5,487.8 1097.2,487.5 1096.6,486.3 1097.1,485.8 1097.0,485.0 1098.3,485.2 1096.0,487.3 1098.2,486.9 1096.3,489.0 1098.4,488.5 1096.7,490.0 1098.9,489.9 1096.8,491.6 1098.4,491.1 1096.9,493.4 1098.8,492.6 1097.3,494.7 1098.8,494.4 1097.3,496.4 1099.0,496.1 1097.7,497.4 1099.1,497.6 1098.2,499.5 1099.5,498.9 1098.2,500.8 1099.8,500.4 1098.1,502.8 1100.0,501.8 1098.6,504.3 1100.6,503.5 1099.5,505.0 1099.4,505.8 1099.8,506.4 1099.3,507.4 1100.0,507.9 1099.6,509.0 1100.0,509.5 1099.7,510.3 1100.3,511.0 1099.7,511.9 1100.3,512.3 1100.0,513.5 1100.6,513.8 1100.0,514.9 1100.7,515.5 1100.1,516.5 1100.8,516.9 1100.2,517.9 1100.9,518.4 1100.3,519.5 1101.0,520.0 1100.5,521.0 1100.9,521.6 1100.4,522.5 1101.3,522.9 1100.7,524.1 1101.4,524.4 1100.9,525.5 1101.4,526.0 1100.8,527.1 1101.6,527.6 1100.9,528.5 1101.7,529.2 1101.2,530.1 1101.7,530.5 1101.1,531.7 1101.8,532.2 1101.5,533.2 1102.0,533.6 1101.4,534.6 1102.1,535.1 1101.7,536.1 1102.1,536.6 1102.0,537.5 1102.3,536.9 1101.7,535.8 1102.4,535.4 1101.9,534.4 1102.6,533.8 1102.1,532.9 1102.5,532.4 1101.9,531.3 1102.6,530.8 1102.2,529.8 1102.8,529.3 1102.3,528.4 1102.7,527.8 1102.3,526.9 1102.9,526.3 1102.5,525.4 1103.0,524.9 1102.5,523.7 1103.0,523.3 1102.6,522.2 1103.0,521.7 1102.7,520.7 1103.2,520.3 1102.8,519.2 1103.3,518.9 1102.8,517.8 1103.4,517.2 1102.8,516.1 1103.6,515.7 1102.9,514.6 1103.4,514.1 1102.9,513.1 1103.6,512.6 1103.2,511.6 1103.7,511.2 1103.1,510.2 1103.7,509.6 1103.3,508.7 1103.9,508.2 1103.4,507.2 1104.0,506.5 1103.4,505.6 1103.8,505.0 1102.7,505.9 1104.4,505.7 1103.1,507.8 1104.6,507.2 1103.3,509.7 1104.8,509.2 1103.1,511.2 1105.6,510.9 1103.3,512.7 1105.8,511.9 1104.0,513.9 1105.3,514.0 1103.8,515.5 1106.1,515.5 1103.7,517.0 1106.1,516.8 1104.1,518.6 1105.9,518.6 1104.5,520.1 1105.8,519.3 1104.4,521.5 1106.0,521.0 1105.5,522.5 1105.8,521.9 1105.2,520.9 1105.8,520.5 1105.5,519.3 1106.1,519.0 1105.4,517.8 1106.0,517.5 1105.5,516.2 1106.2,515.8 1105.6,514.8 1106.2,514.3 1105.8,513.5 1106.2,512.9 1105.9,511.8 1106.3,511.5 1105.8,510.4 1106.5,509.8 1105.9,508.8 1106.5,508.3 1106.1,507.4 1106.7,506.9 1106.2,505.9 1106.8,505.5 1106.2,504.4 1106.9,503.8 1106.4,502.8 1106.9,502.3 1106.3,501.3 1106.9,501.0 1106.6,499.9 1107.1,499.4 1106.7,498.3 1107.1,498.0 1106.8,496.9 1107.3,496.4 1106.8,495.3 1107.2,494.9 1106.8,493.9 1107.3,493.3 1106.9,492.3 1107.6,491.9 1107.1,490.8 1107.6,490.4 1106.9,489.3 1107.6,488.8 1107.2,487.8 1107.8,487.5 1107.4,486.3 1107.8,485.8 1107.3,484.8 1107.8,484.5 1107.4,483.3 1107.9,483.0 1107.5,481.9 1108.1,481.4 1107.6,480.4 1108.2,479.8 1107.6,478.9 1108.3,478.4 1108.0,477.5 1109.1,477.4 1107.4,479.6 1109.3,478.9 1107.1,481.5 1109.8,480.5 1107.6,482.2 1109.5,482.5 1108.1,484.0 1109.7,484.1 1108.2,485.7 1110.1,484.9 1108.2,487.0 1110.3,486.3 1108.5,488.5 1110.8,487.9 1108.7,489.9 1110.3,489.6 1108.6,491.5 1111.1,490.8 1110.0,492.5 1110.8,492.5 1109.6,490.1 1111.2,490.5 1109.8,489.2 1111.9,489.4 1110.2,487.8 1112.0,488.0 1110.3,486.2 1112.2,486.7 1110.6,484.3 1112.0,484.8 1110.6,482.8 1112.3,483.4 1110.8,481.5 1112.9,482.3 1111.1,479.9 1112.8,480.3 1111.5,478.8 1113.3,478.8 1111.6,477.5 1113.4,477.4 1112.0,476.1 1113.3,476.2 1111.9,473.8 1113.6,474.9 1112.0,472.8 1113.2,472.5 1112.5,473.7 1114.8,473.4 1113.0,475.2 1114.5,475.1 1112.9,477.3 1114.6,476.4 1112.9,478.6 1115.2,477.9 1113.1,480.2 1114.9,480.2 1113.9,481.2 1115.2,481.5 1113.8,483.2 1115.7,482.7 1114.1,485.0 1115.0,485.0 1116.5,485.0 1114.7,487.3 1117.2,486.2 1115.9,488.7 1117.5,487.4 1116.6,490.2 1117.5,490.0 1117.2,489.0 1117.9,488.6 1117.4,487.6 1117.9,487.3 1117.7,486.2 1118.1,485.7 1117.6,484.5 1118.3,484.1 1117.9,483.0 1118.4,482.7 1118.0,481.7 1118.6,481.1 1118.1,480.1 1118.7,479.6 1118.2,478.5 1118.9,478.2 1118.2,477.0 1118.8,476.6 1118.5,475.7 1119.0,475.2 1118.5,474.0 1119.2,473.7 1118.6,472.5 1119.4,472.0 1118.8,471.2 1119.5,470.7 1118.8,469.7 1119.4,469.1 1118.9,468.0 1119.7,467.7 1119.1,466.5 1119.8,466.3 1119.2,465.1 1119.8,464.7 1119.4,463.7 1119.9,463.2 1119.4,462.1 1120.0,461.5 1119.6,460.6 1120.0,460.0 1119.0,461.5 1121.2,460.8 1119.1,462.9 1121.5,462.5 1119.9,464.1 1121.2,463.7 1119.6,465.9 1122.0,465.1 1120.5,467.5 1121.9,467.1 1120.6,468.6 1122.4,468.3 1120.9,470.3 1122.4,470.3 1121.1,472.0 1122.7,471.3 1121.2,473.5 1122.8,473.4 1121.2,474.8 1122.8,474.9 1121.1,476.1 1123.0,476.5 1121.3,478.4 1123.3,477.8 1121.8,479.4 1123.4,479.5 1121.6,480.8 1123.0,481.2 1122.7,480.3 1123.5,479.9 1123.0,478.9 1123.5,478.3 1123.0,477.4 1123.7,477.0 1123.2,475.9 1123.9,475.3 1123.3,474.3 1123.8,473.9 1123.3,472.9 1124.1,472.3 1123.7,471.4 1124.2,470.8 1123.8,469.7 1124.3,469.3 1123.9,468.2 1124.5,467.7 1124.0,466.7 1124.6,466.3 1124.1,465.2 1124.8,464.9 1124.2,463.7 1124.9,463.2 1124.4,462.3 1125.0,461.7 1124.7,460.7 1125.1,460.3 1124.8,459.3 1125.4,458.8 1124.8,457.7 1125.3,457.3 1125.0,456.2 1125.6,455.7 1125.2,454.7 1125.6,454.2 1125.2,453.1 1125.8,452.6 1125.4,451.7 1125.9,451.3 1125.4,450.1 1126.0,449.7 1125.6,448.7 1126.3,448.2 1125.9,447.0 1126.4,446.6 1125.9,445.6 1126.2,445.0 1125.7,446.6 1127.3,445.6 1125.4,448.1 1127.5,447.3 1126.4,449.6 1127.6,449.2 1126.1,450.7 1128.2,450.5 1126.5,452.0 1128.2,451.9 1126.8,454.0 1128.4,453.5 1127.2,455.5 1128.7,454.7 1127.3,456.8 1129.5,456.7 1127.1,458.0 1129.1,458.3 1127.7,459.9 1128.8,460.0 1130.0,460.2 1128.3,461.8 1129.5,461.9 1128.1,463.5 1129.9,463.3 1128.7,465.1 1130.1,464.8 1128.6,466.9 1130.3,466.7 1128.7,468.3 1130.3,467.8 1129.0,470.0 1130.7,469.1 1129.3,471.1 1130.8,471.2 1129.2,472.6 1131.3,472.7 1129.0,474.6 1131.1,474.3 1129.4,476.2 1131.0,475.3 1129.6,477.3 1131.3,476.7 1130.0,478.6 1132.0,478.9 1129.8,480.0 1131.8,480.6 1130.0,482.0 1131.7,482.0 1130.6,483.9 1131.2,483.8 1131.0,483.0 1131.6,482.3 1131.2,481.4 1131.7,481.0 1131.3,479.8 1131.8,479.3 1131.4,478.3 1132.2,478.0 1131.7,476.8 1132.1,476.4 1131.6,475.3 1132.3,474.8 1131.8,473.7 1132.4,473.2 1132.0,472.3 1132.7,471.8 1132.2,470.8 1132.7,470.4 1132.2,469.3 1132.7,468.8 1132.5,467.7 1133.1,467.2 1132.7,466.2 1133.2,465.7 1132.8,464.7 1133.3,464.2 1132.9,463.3 1133.5,462.7 1133.0,461.6 1133.6,461.3 1133.2,460.2 1133.7,459.8 1133.3,458.7 1133.9,458.3 1133.4,457.2 1133.9,456.7 1133.4,455.7 1134.1,455.2 1133.6,454.3 1134.3,453.7 1133.7,452.6 1134.4,452.1 1134.0,451.1 1134.4,450.5 1134.0,449.5 1134.6,449.3 1134.3,448.0 1134.5,447.5 1133.7,448.9 1135.9,448.3 1134.5,450.7 1136.5,449.5 1135.0,452.2 1136.5,451.5 1135.3,453.5 1137.0,452.7 1135.6,455.1 1137.0,455.0 1137.7,455.0 1136.1,457.4 1138.2,456.7 1136.5,458.7 1138.2,458.6 1136.7,459.7 1138.3,459.5 1137.2,461.8 1138.9,460.9 1136.8,463.2 1138.6,463.1 1136.9,464.9 1138.8,464.0 1137.2,466.4 1139.5,465.9 1137.6,467.4 1139.2,467.3 1137.8,469.4 1139.5,469.2 1138.3,470.6 1140.2,470.0 1138.0,472.4 1139.6,471.7 1138.2,473.5 1139.8,473.3 1138.8,475.2 1140.0,474.9 1139.0,477.1 1140.8,476.8 1139.2,478.6 1141.0,477.7 1139.0,480.0 1140.0,480.0 1139.7,479.0 1140.3,478.5 1139.9,477.6 1140.6,477.2 1140.1,476.2 1140.6,475.8 1140.3,474.6 1140.9,474.2 1140.2,473.1 1140.9,472.6 1140.5,471.7 1140.9,471.2 1140.5,470.2 1141.1,469.5 1140.6,468.6 1141.3,468.1 1140.7,467.1 1141.5,466.7 1140.9,465.7 1141.5,465.2 1141.0,464.1 1141.7,463.6 1141.3,462.7 1141.7,462.2 1141.4,461.1 1141.9,460.5 1141.5,459.5 1142.1,459.1 1141.4,458.1 1142.1,457.7 1141.7,456.7 1142.3,456.3 1141.9,455.1 1142.4,454.5 1142.0,453.7 1142.6,453.2 1142.1,452.1 1142.7,451.6 1142.2,450.6 1142.5,450.0 1141.7,451.2 1143.9,450.8 1141.8,452.8 1143.9,452.8 1142.4,454.5 1144.6,453.8 1143.2,456.1 1144.6,455.4 1143.0,457.4 1145.4,457.3 1143.5,459.1 1145.4,458.8 1145.0,460.0 1145.4,459.5 1144.9,458.3 1145.4,457.9 1145.0,456.9 1145.5,456.2 1145.0,455.3 1145.7,454.9 1145.2,453.7 1145.7,453.3 1145.3,452.2 1146.0,451.7 1145.5,450.7 1146.1,450.2 1145.6,449.3 1146.2,448.6 1145.6,447.7 1146.4,447.1 1145.8,446.3 1146.4,445.7 1145.8,444.5 1146.5,444.3 1146.0,443.0 1146.6,442.7 1146.3,441.6 1146.9,441.1 1146.3,440.1 1146.8,439.7 1146.5,438.7 1146.9,438.0 1146.5,437.1 1147.1,436.7 1146.6,435.4 1147.4,435.0 1146.9,434.0 1147.4,433.5 1146.9,432.6 1147.6,432.0 1147.0,430.9 1147.5,430.5 1147.2,429.4 1147.6,429.0 1147.2,428.0 1147.9,427.6 1147.4,426.3 1148.0,426.0 1147.5,425.0 1148.0,424.5 1147.6,423.4 1148.2,423.0 1148.0,422.0 1148.8,421.9 1147.5,424.1 1149.4,423.4 1147.8,425.6 1149.6,425.3 1148.2,427.2 1150.1,426.7 1148.7,428.9 1150.4,428.4 1149.2,429.9 1151.2,429.8 1149.7,432.1 1151.2,431.7 1149.7,433.7 1151.7,433.2 1150.0,434.8 1151.2,435.0 1150.4,433.2 1152.2,434.0 1150.9,431.7 1152.9,433.0 1151.8,430.5 1153.6,431.0 1152.1,429.3 1153.9,430.1 1152.7,427.4 1153.8,427.5 1153.1,428.8 1155.0,428.8 1153.1,430.3 1155.3,430.2 1153.7,431.5 1155.2,431.1 1153.4,433.1 1155.5,433.1 1153.6,434.4 1156.0,433.9 1154.3,436.4 1156.0,436.0 1154.6,437.4 1156.3,437.7 1154.3,439.5 1156.9,438.9 1154.9,440.3 1156.5,439.9 1155.3,442.3 1157.4,441.9 1155.1,443.9 1157.6,443.4 1155.6,445.5 1157.9,444.8 1156.3,446.1 1157.6,446.3 1157.0,447.5 1156.1,449.3 1158.1,448.3 1156.7,450.8 1158.4,449.9 1156.9,452.3 1159.3,451.2 1157.8,453.5 1159.2,453.1 1158.2,455.3 1159.6,454.5 1158.1,456.9 1160.3,456.4 1159.5,457.5 1160.4,457.7 1158.9,455.0 1160.9,456.0 1159.7,453.7 1161.6,454.7 1160.0,452.8 1161.7,453.4 1160.3,451.2 1162.2,451.6 1160.0,449.6 1162.5,450.4 1160.8,447.8 1162.5,448.2 1161.1,446.4 1163.3,447.5 1161.2,444.8 1162.5,445.0 1163.9,444.8 1161.6,442.7 1163.4,443.2 1162.4,441.2 1164.4,441.6 1162.3,440.3 1164.3,440.2 1162.5,438.5 1164.2,438.6 1162.5,437.0 1165.1,437.2 1162.7,435.7 1164.9,436.2 1163.6,433.7 1164.9,434.3 1163.4,432.8 1165.9,433.2 1163.7,430.9 1166.0,431.3 1165.0,430.0 1164.5,429.0 1166.3,429.4 1164.9,427.5 1166.8,427.9 1165.1,425.3 1167.7,426.8 1165.6,423.8 1168.4,424.9 1166.5,422.4 1168.6,423.5 1167.5,421.2 1169.3,422.2 1167.3,419.9 1168.8,420.0 1169.8,420.0 1168.6,418.3 1170.1,418.2 1168.3,416.0 1170.1,416.9 1168.5,415.0 1170.8,415.5 1168.8,413.2 1171.1,414.0 1169.9,412.2 1171.3,412.2 1170.1,410.2 1172.0,411.2 1170.4,409.2 1171.2,408.8 1170.1,410.5 1172.2,410.1 1170.6,411.6 1172.4,410.9 1170.7,413.3 1172.9,412.9 1171.3,414.2 1172.5,414.4 1170.8,415.8 1173.1,415.8 1171.3,417.7 1172.9,417.4 1171.9,419.3 1173.2,418.9 1171.7,420.9 1173.7,420.7 1172.2,422.3 1173.8,421.9 1171.8,424.1 1173.9,423.7 1172.4,425.7 1173.8,424.7 1172.4,426.8 1174.3,426.6 1172.5,428.3 1174.3,428.4 1172.9,430.1 1174.7,429.9 1172.8,431.7 1174.5,431.2 1173.0,432.6 1175.3,432.8 1173.4,434.8 1174.9,434.4 1173.1,435.8 1174.5,436.2 1173.7,434.8 1175.9,435.1 1174.2,433.5 1175.5,433.5 1174.1,432.2 1176.3,432.7 1174.6,430.3 1176.5,430.7 1174.7,428.9 1176.0,429.0 1175.1,427.1 1176.4,428.0 1175.0,426.3 1176.9,426.3 1175.5,424.6 1177.2,424.8 1175.2,423.2 1177.5,423.5 1175.7,421.6 1177.7,421.6 1175.3,420.2 1177.4,420.4 1175.8,418.2 1177.5,418.9 1177.0,417.5 1178.4,417.7 1176.8,419.4 1178.3,419.0 1177.0,421.5 1178.6,420.7 1177.9,422.7 1179.1,422.0 1177.7,424.7 1179.9,423.6 1178.6,425.7 1180.6,425.4 1178.6,427.2 1180.0,427.5 1179.3,426.3 1181.0,426.7 1180.0,425.1 1181.9,424.9 1179.7,422.8 1181.7,424.0 1180.0,421.4 1181.9,422.0 1180.3,419.9 1182.8,421.0 1181.3,418.6 1183.0,419.2 1181.0,416.8 1183.1,417.8 1181.8,415.8 1183.8,416.4 1183.0,415.0 1182.0,413.4 1184.0,414.1 1182.2,412.4 1184.7,412.5 1183.4,410.7 1185.3,411.6 1183.4,409.4 1185.7,409.5 1183.6,407.8 1186.1,408.0 1184.3,406.0 1186.4,406.6 1184.5,404.2 1186.6,405.2 1185.8,403.8 1187.1,403.8 1185.0,405.9 1187.6,405.4 1185.3,407.8 1187.5,407.2 1185.8,408.7 1188.1,408.6 1186.4,410.6 1188.0,410.1 1187.1,412.1 1189.0,411.5 1187.1,413.1 1188.9,412.8 1187.7,414.8 1188.8,415.0 1189.6,415.1 1187.7,416.9 1189.7,416.6 1188.7,418.2 1189.9,418.6 1188.3,419.8 1190.8,419.7 1188.9,421.7 1190.9,421.4 1189.0,422.7 1191.2,422.8 1188.9,424.7 1191.0,423.8 1189.9,425.8 1191.8,425.9 1189.5,427.3 1191.6,426.8 1189.8,429.2 1192.1,428.1 1190.3,430.4 1192.2,430.2 1190.8,432.2 1192.8,431.6 1190.9,433.6 1192.2,433.3 1191.1,434.7 1192.4,434.8 1191.0,436.2 1192.7,436.3 1191.0,437.9 1193.4,437.0 1192.5,438.8 1192.9,438.1 1192.4,437.1 1193.1,436.6 1192.7,435.6 1193.2,435.0 1192.8,434.1 1193.3,433.7 1193.0,432.6 1193.4,432.2 1193.1,431.1 1193.7,430.7 1193.2,429.4 1193.7,429.1 1193.4,427.9 1193.8,427.6 1193.5,426.5 1194.0,426.1 1193.7,424.9 1194.4,424.5 1193.8,423.5 1194.5,423.0 1194.1,422.0 1194.5,421.4 1194.3,420.3 1194.7,420.0 1194.4,419.1 1194.8,418.6 1194.5,417.4 1195.0,417.0 1194.7,415.8 1195.2,415.4 1194.8,414.5 1195.3,414.0 1194.8,412.8 1195.6,412.4 1195.0,411.3 1195.6,410.8 1195.5,410.0 1195.0,409.0 1197.0,409.6 1195.5,406.8 1197.3,407.8 1196.0,405.7 1197.4,406.2 1196.1,404.0 1197.9,404.6 1196.4,402.2 1198.9,403.4 1196.9,401.2 1198.9,401.7 1197.8,400.1 1199.7,400.1 1198.8,398.8 1199.7,398.7 1197.9,400.6 1200.1,400.3 1198.5,402.7 1200.2,401.8 1198.3,403.5 1200.6,403.4 1199.0,405.7 1201.1,405.1 1198.8,407.1 1200.8,406.1 1199.5,407.8 1201.8,407.3 1199.4,409.8 1201.3,409.3 1200.0,411.3 1202.2,410.3 1200.3,412.9 1202.4,411.9 1200.9,414.4 1202.3,413.4 1201.1,415.5 1202.9,415.1 1201.1,417.5 1202.9,416.9 1201.6,418.9 1202.5,418.8 1202.1,417.6 1203.6,417.5 1202.2,415.9 1203.9,416.3 1202.2,414.4 1204.4,414.7 1202.8,412.7 1204.0,413.3 1203.0,411.2 1204.9,411.8 1202.8,410.1 1204.5,410.1 1202.9,408.8 1204.9,408.9 1203.3,407.1 1205.6,407.3 1203.7,405.9 1205.2,406.0 1204.0,404.2 1205.4,404.2 1204.0,402.2 1206.1,402.9 1203.9,401.2 1206.5,401.2 1204.5,399.2 1206.3,400.0 1204.9,398.5 1206.7,398.5 1204.7,396.9 1206.5,397.3 1205.5,394.9 1206.2,395.0 1206.0,395.9 1206.6,396.4 1206.2,397.3 1206.9,397.9 1206.3,399.0 1207.1,399.3 1206.6,400.6 1207.1,401.0 1206.8,402.0 1207.2,402.5 1207.0,403.4 1207.5,404.0 1207.0,405.0 1207.8,405.6 1207.3,406.5 1207.8,407.1 1207.3,408.2 1207.9,408.6 1207.6,409.6 1208.0,410.0 1207.8,411.1 1208.2,411.5 1207.9,412.6 1208.5,413.2 1208.1,414.1 1208.6,414.6 1208.3,415.6 1208.8,416.2 1208.4,417.2 1209.0,417.6 1208.5,418.7 1209.1,419.1 1208.7,420.3 1209.3,420.7 1208.9,421.7 1209.5,422.3 1209.1,423.3 1209.7,423.6 1209.1,424.8 1209.7,425.2 1209.4,426.3 1210.0,426.7 1209.4,427.9 1210.1,428.4 1209.7,429.3 1210.0,430.0 1209.8,429.2 1210.5,428.6 1209.9,427.5 1210.5,427.2 1210.1,426.0 1210.6,425.5 1210.1,424.5 1210.7,424.1 1210.3,422.9 1210.9,422.6 1210.4,421.6 1210.9,421.2 1210.5,420.0 1211.2,419.6 1210.6,418.5 1211.3,418.1 1210.6,416.9 1211.2,416.5 1210.7,415.5 1211.4,415.0 1210.8,413.9 1211.4,413.5 1211.1,412.5 1211.7,412.1 1211.1,411.1 1211.7,410.5 1211.2,409.6 1212.0,408.9 1211.4,408.0 1212.1,407.5 1211.6,406.5 1212.1,405.9 1211.7,404.8 1212.2,404.5 1211.7,403.3 1212.2,403.0 1211.9,401.8 1212.4,401.6 1211.8,400.4 1212.4,399.9 1212.0,398.8 1212.8,398.4 1212.3,397.4 1212.8,397.0 1212.3,396.0 1212.9,395.6 1212.3,394.3 1212.9,393.9 1212.6,392.9 1213.2,392.5 1212.6,391.4 1213.3,391.0 1213.0,390.0 1212.4,388.4 1214.0,389.4 1212.9,386.8 1214.7,387.7 1213.8,385.5 1215.2,386.0 1214.3,384.3 1215.8,384.7 1214.2,382.7 1216.2,383.0 1214.8,381.5 1216.2,381.2 1216.3,382.3 1217.9,381.6 1216.8,384.1 1218.7,383.0 1217.7,385.8 1219.4,385.0 1219.5,386.2 1220.0,385.6 1218.9,384.6 1220.4,384.5 1219.2,382.7 1220.2,382.6 1219.3,381.1 1220.7,381.6 1219.1,379.6 1221.2,380.1 1219.0,378.0 1221.0,378.5 1219.2,376.8 1221.1,377.1 1219.3,375.4 1221.3,375.5 1219.7,373.6 1221.0,374.0 1219.5,372.2 1221.3,372.2 1219.7,370.7 1221.5,370.7 1219.7,369.0 1221.9,368.8 1219.8,367.4 1221.8,367.5 1220.0,366.1 1221.8,366.1 1220.6,364.4 1222.1,364.1 1220.1,362.6 1221.2,362.5 1222.0,362.7 1221.3,360.8 1223.1,361.4 1221.6,359.1 1223.2,359.3 1221.8,357.5 1223.7,358.3 1222.5,355.9 1224.4,356.6 1222.8,354.7 1224.8,355.5 1224.0,353.1 1225.4,354.0 1223.8,351.9 1225.7,352.5 1224.6,350.6 1226.2,350.4 1225.4,348.7 1226.2,348.8 1225.8,350.1 1227.1,349.7 1225.5,351.7 1227.6,351.0 1225.7,353.4 1227.4,352.9 1226.2,354.7 1227.4,354.5 1226.1,355.8 1227.9,356.0 1225.9,357.9 1227.6,357.9 1226.3,359.4 1228.3,359.1 1226.3,360.4 1228.4,360.8 1226.8,362.0 1228.4,361.8 1227.1,363.4 1228.1,363.8 1227.0,365.6 1228.6,365.3 1227.1,366.9 1228.9,366.6 1227.4,368.3 1229.1,367.9 1227.6,369.7 1228.6,369.4 1227.8,371.6 1229.2,370.9 1227.9,372.9 1229.1,372.7 1227.9,374.0 1229.1,374.6 1227.9,375.6 1228.8,376.2 1228.7,375.3 1229.2,374.8 1228.7,373.8 1229.4,373.4 1229.0,372.3 1229.7,372.0 1229.4,370.8 1230.0,370.5 1229.5,369.5 1230.1,368.9 1229.7,367.9 1230.4,367.3 1229.9,366.4 1230.7,366.0 1230.1,364.9 1230.7,364.5 1230.4,363.4 1231.1,362.9 1230.6,361.9 1231.1,361.5 1230.8,360.4 1231.5,360.0 1231.0,358.9 1231.5,358.3 1231.3,357.3 1231.9,356.9 1231.4,355.9 1232.0,355.3 1231.7,354.4 1232.3,354.0 1231.8,352.8 1232.5,352.4 1232.0,351.2 1232.6,350.9 1232.2,349.9 1233.1,349.5 1232.6,348.3 1233.2,347.8 1233.0,347.0 1234.2,347.2 1232.6,349.2 1234.9,348.3 1233.4,350.8 1235.5,349.8 1234.3,352.2 1235.6,351.4 1234.6,353.2 1236.8,353.0 1234.9,355.3 1236.2,355.0 1237.4,354.8 1236.0,356.8 1237.8,356.5 1236.5,358.8 1238.7,357.6 1236.9,360.4 1238.6,359.8 1237.8,361.1 1239.4,361.1 1238.1,362.6 1239.8,362.4 1238.6,364.3 1240.6,363.8 1240.0,365.0 1240.8,364.8 1239.7,362.8 1240.9,363.3 1240.0,361.9 1241.6,361.8 1239.9,360.2 1241.9,360.2 1240.5,358.4 1242.5,359.2 1241.0,357.1 1243.0,357.7 1241.4,355.8 1243.2,355.8 1241.7,354.1 1243.4,354.8 1242.1,353.0 1243.8,353.1 1242.6,351.2 1244.0,351.6 1242.8,349.7 1244.7,350.2 1243.8,348.8 1243.2,347.6 1244.9,347.7 1243.8,345.8 1245.6,346.8 1244.0,344.7 1246.0,345.0 1244.7,343.2 1246.5,343.4 1245.1,341.6 1247.2,342.4 1245.7,340.3 1247.1,340.6 1245.9,338.9 1247.0,338.8 1248.4,339.5 1247.6,336.7 1248.9,337.2 1248.1,335.1 1250.0,336.1 1250.0,335.0 1249.4,333.3 1251.7,334.1 1250.6,331.9 1252.1,333.0 1250.9,330.3 1252.7,331.7 1252.5,330.0 1253.4,329.9 1252.7,332.3 1254.0,331.5 1253.0,334.0 1254.8,333.3 1253.8,335.0 1255.2,334.6 1255.0,336.2 1254.8,337.6 1256.0,337.1 1255.1,338.9 1256.6,338.2 1255.0,340.9 1256.8,340.4 1255.8,342.2 1257.7,341.5 1256.1,343.3 1258.1,343.2 1256.7,344.9 1257.5,345.0 1256.4,344.1 1258.2,344.2 1257.0,342.5 1258.7,342.1 1257.0,340.8 1259.2,340.7 1257.3,339.2 1259.1,339.3 1257.4,337.7 1258.9,337.7 1258.1,336.3 1259.7,336.5 1258.1,334.6 1259.6,334.5 1258.0,332.7 1259.7,333.5 1258.1,331.5 1260.4,331.4 1258.2,330.1 1260.0,330.0 1259.1,328.6 1260.1,328.3 1258.7,326.9 1260.4,327.1 1259.3,325.6 1260.0,325.0 1260.7,325.0 1260.0,322.6 1261.8,323.7 1260.5,321.7 1261.9,321.9 1260.9,320.2 1262.0,319.8 1260.7,317.9 1263.0,318.9 1261.7,317.0 1263.1,316.9 1262.2,315.6 1263.0,315.0 1263.9,315.0 1262.7,312.9 1264.4,313.4 1263.2,311.6 1264.9,312.0 1263.9,309.7 1265.2,309.7 1265.0,308.8 1266.1,309.2 1264.6,310.6 1266.4,310.1 1264.3,312.1 1266.4,311.9 1264.8,313.7 1266.4,313.8 1265.2,315.1 1266.9,315.3 1264.8,316.4 1267.1,316.4 1265.1,318.0 1267.1,318.2 1265.7,319.9 1266.6,319.8 1265.4,321.2 1266.8,321.3 1265.5,322.8 1267.3,322.6 1265.9,324.6 1267.5,323.7 1265.6,325.9 1267.8,325.3 1266.2,326.9 1267.0,327.5 1267.3,328.2 1266.8,329.1 1267.3,329.6 1267.0,330.7 1267.5,331.1 1266.9,332.1 1267.4,332.5 1267.0,333.7 1267.6,334.2 1267.0,335.2 1267.6,335.5 1267.0,336.7 1267.6,337.2 1267.3,338.2 1267.7,338.6 1267.2,339.5 1267.8,340.2 1267.4,341.2 1268.0,341.5 1267.3,342.6 1267.9,343.1 1267.5,344.0 1268.1,344.6 1267.5,345.5 1268.2,346.2 1267.6,347.2 1268.3,347.6 1267.6,348.6 1268.4,349.0 1267.9,350.2 1268.4,350.6 1267.9,351.7 1268.4,352.2 1267.8,353.0 1268.4,353.6 1267.9,354.7 1268.6,355.2 1267.9,356.2 1268.7,356.7 1268.2,357.6 1268.8,358.1 1268.2,359.3 1268.8,359.6 1268.2,360.7 1268.8,361.1 1268.4,362.2 1268.8,362.7 1268.4,363.6 1268.9,364.1 1268.8,365.0 1269.1,364.3 1268.6,363.2 1269.1,362.9 1268.5,361.8 1269.3,361.3 1268.8,360.3 1269.2,359.7 1268.8,358.7 1269.4,358.3 1269.0,357.3 1269.5,356.7 1268.9,355.7 1269.6,355.1 1269.0,354.2 1269.6,353.8 1269.1,352.8 1269.7,352.3 1269.2,351.3 1269.8,350.7 1269.2,349.7 1269.8,349.1 1269.3,348.0 1269.8,347.5 1269.3,346.5 1270.0,346.0 1269.4,345.1 1270.0,344.5 1269.6,343.7 1270.1,343.2 1269.6,342.0 1270.1,341.5 1269.7,340.6 1270.3,340.0 1269.6,339.0 1270.2,338.6 1269.9,337.5 1270.4,336.9 1269.8,335.9 1270.6,335.6 1270.0,334.4 1270.5,334.0 1270.0,332.8 1270.7,332.5 1270.1,331.4 1270.7,330.9 1270.5,330.0 1269.7,329.0 1271.8,328.9 1269.8,327.0 1271.7,327.5 1270.3,325.7 1271.6,326.1 1270.4,324.4 1272.5,324.7 1270.8,322.5 1272.1,322.7 1270.8,321.3 1272.7,321.2 1271.1,319.9 1272.7,320.2 1271.3,317.9 1273.3,318.0 1271.4,316.8 1273.5,316.8 1271.5,315.2 1273.2,315.4 1272.2,313.2 1273.9,313.5 1273.0,312.5 1272.1,311.2 1274.3,311.2 1272.3,309.3 1274.5,309.8 1272.9,307.9 1274.5,308.6 1273.0,306.7 1274.7,307.1 1272.9,305.2 1274.6,305.4 1273.6,303.5 1274.9,303.5 1273.3,302.4 1275.3,302.6 1273.6,300.6 1275.9,301.2 1274.3,299.0 1276.1,299.6 1274.6,297.9 1275.9,297.6 1274.6,296.0 1276.5,296.6 1275.5,295.0 1274.9,293.7 1277.3,294.7 1276.0,292.5 1278.0,293.1 1276.4,290.6 1278.2,291.6 1278.0,290.0 1277.3,288.2 1279.6,289.4 1277.9,286.6 1279.9,287.6 1278.8,285.8 1280.5,286.1 1279.8,284.0 1281.4,285.1 1280.1,282.4 1281.2,282.5 1280.9,284.1 1283.1,282.7 1281.8,285.4 1283.7,284.8 1283.1,287.1 1285.0,285.9 1284.5,287.5 1284.4,288.3 1285.0,288.9 1284.5,290.0 1285.1,290.3 1284.4,291.5 1285.1,291.9 1284.6,293.0 1285.3,293.4 1284.7,294.6 1285.4,294.9 1285.0,295.9 1285.6,296.4 1285.0,297.5 1285.6,297.9 1285.1,299.1 1285.7,299.5 1285.3,300.6 1285.8,300.9 1285.5,302.0 1286.2,302.4 1285.5,303.6 1286.2,304.1 1285.7,305.2 1286.3,305.6 1286.0,306.4 1286.6,307.1 1286.1,308.0 1286.5,308.5 1286.2,309.7 1286.8,310.1 1286.1,311.1 1287.0,311.6 1286.5,312.6 1287.1,313.1 1286.6,314.1 1287.2,314.6 1286.6,315.7 1287.0,316.2 1286.9,315.4 1287.3,314.9 1287.0,313.8 1287.4,313.5 1286.9,312.2 1287.6,311.7 1287.1,310.8 1287.9,310.2 1287.3,309.3 1287.9,308.8 1287.5,307.7 1288.0,307.2 1287.4,306.2 1288.2,305.9 1287.5,304.8 1288.1,304.1 1287.7,303.2 1288.5,302.8 1287.8,301.6 1288.4,301.2 1288.0,300.2 1288.6,299.7 1288.0,298.5 1288.8,298.2 1288.2,297.2 1288.9,296.6 1288.3,295.5 1289.1,295.2 1288.5,294.0 1289.1,293.5 1288.7,292.6 1289.3,292.0 1288.6,291.0 1289.4,290.4 1288.8,289.5 1289.4,289.0 1288.9,287.9 1289.6,287.3 1289.2,286.3 1289.6,285.9 1289.5,285.0 1288.9,284.0 1291.0,284.3 1289.1,281.6 1291.5,282.9 1289.7,280.7 1291.4,280.8 1290.7,279.0 1292.3,279.5 1291.0,277.2 1292.5,278.0 1291.2,276.1 1293.3,276.6 1292.5,275.0 1293.5,275.4 1291.9,277.1 1293.3,277.0 1292.6,278.4 1294.0,278.5 1292.3,279.9 1294.0,279.6 1293.1,281.2 1294.4,281.0 1292.9,282.9 1294.5,282.4 1293.1,284.2 1295.0,283.9 1293.7,285.9 1294.8,286.1 1293.7,287.7 1295.4,287.2 1293.7,288.8 1295.9,288.4 1295.0,290.0 1295.7,289.9 1294.4,288.2 1296.3,288.2 1294.8,286.3 1296.5,286.6 1294.8,285.1 1296.1,285.2 1295.2,283.3 1296.4,283.8 1295.4,282.0 1296.5,281.8 1295.4,280.0 1296.7,280.7 1295.7,278.5 1297.2,279.1 1295.8,276.8 1297.1,277.3 1295.6,275.5 1297.5,276.0 1296.2,274.2 1297.0,273.8 1296.4,275.2 1297.8,274.6 1296.1,276.6 1298.2,276.4 1296.6,278.2 1298.2,277.9 1297.2,279.1 1298.9,279.3 1297.3,280.6 1298.6,280.6 1297.4,282.7 1298.7,282.0 1297.5,283.9 1298.9,284.1 1297.7,285.4 1299.0,285.6 1297.9,287.0 1299.6,286.6 1297.5,288.8 1299.8,288.3 1297.9,289.7 1299.7,289.5 1298.3,291.7 1300.0,291.6 1298.6,292.8 1299.8,293.1 1298.5,294.7 1300.5,293.9 1298.6,296.3 1300.2,295.5 1299.2,297.8 1300.2,296.9 1298.8,299.3 1301.1,298.6 1300.0,300.0 1301.1,299.8 1299.2,297.8 1300.8,298.5 1299.5,296.3 1301.6,296.4 1300.0,295.0 1301.2,294.9 1300.4,293.2 1301.5,293.3 1300.2,291.5 1302.0,292.2 1300.9,290.4 1302.5,290.6 1300.5,288.6 1302.7,288.8 1300.8,287.4 1302.7,287.3 1301.3,286.0 1303.3,285.6 1301.3,284.2 1303.0,284.3 1301.9,282.5 1303.2,282.8 1302.0,281.0 1303.9,281.5 1303.0,280.0 1303.9,279.9 1302.4,282.5 1304.3,281.4 1302.9,283.4 1304.9,282.6 1303.9,285.1 1305.4,284.3 1303.9,286.5 1305.9,285.6 1304.3,288.0 1306.4,287.5 1305.3,289.4 1306.6,288.8 1306.2,290.0 1307.5,290.3 1306.2,287.8 1307.3,288.6 1305.9,286.5 1308.0,286.6 1306.8,285.2 1308.1,285.4 1307.4,284.0 1308.4,283.9 1307.5,281.9 1309.3,282.4 1307.6,280.7 1309.7,281.0 1308.1,279.1 1309.5,279.3 1308.8,278.0 1309.5,277.5 1310.8,277.2 1309.5,275.5 1311.0,276.1 1309.8,273.8 1311.6,274.6 1310.4,272.7 1311.6,272.3 1310.9,270.8 1312.4,271.5 1310.8,269.0 1313.1,270.0 1311.7,267.8 1312.5,267.5 1311.8,268.8 1313.9,268.4 1312.6,270.1 1314.4,270.0 1312.5,271.8 1314.4,271.0 1313.1,273.1 1315.0,272.5 1313.0,274.5 1315.3,274.4 1313.8,276.3 1315.5,275.8 1314.3,277.6 1315.6,277.0 1314.0,279.0 1316.5,278.7 1315.5,280.0 1315.3,280.9 1315.9,281.4 1315.4,282.4 1316.1,282.9 1315.4,284.0 1316.2,284.5 1315.7,285.5 1316.3,285.9 1315.9,287.1 1316.3,287.5 1315.8,288.5 1316.4,289.0 1315.9,290.0 1316.7,290.5 1316.1,291.6 1316.9,292.0 1316.2,293.1 1317.0,293.5 1316.4,294.6 1317.1,295.1 1316.4,296.1 1317.1,296.6 1316.8,297.7 1317.4,298.2 1316.7,299.2 1317.2,299.8 1317.0,300.7 1317.5,301.1 1317.0,302.1 1317.6,302.7 1317.1,303.8 1317.7,304.2 1317.2,305.2 1317.9,305.9 1317.3,306.9 1318.0,307.4 1317.5,308.4 1318.2,308.8 1317.5,309.8 1318.2,310.3 1318.0,311.2 1319.3,311.2 1317.0,309.3 1319.0,309.3 1317.7,307.5 1319.1,307.7 1317.6,306.2 1319.0,306.5 1317.6,304.6 1319.3,305.2 1317.9,303.2 1319.7,303.5 1317.8,301.9 1319.9,301.6 1318.2,300.6 1319.9,300.7 1318.0,298.5 1320.0,299.1 1318.4,297.5 1320.0,297.5 1318.5,295.9 1320.6,295.8 1318.9,294.5 1320.2,294.2 1319.1,292.7 1320.3,292.6 1319.2,291.4 1320.8,291.8 1318.8,289.6 1320.6,290.1 1319.4,288.3 1321.1,288.4 1319.1,286.7 1321.2,286.9 1319.9,285.3 1320.5,285.0 1321.7,285.1 1319.9,282.8 1321.9,283.3 1320.0,281.0 1321.8,281.9 1320.0,279.7 1322.3,279.8 1320.9,278.5 1322.6,278.6 1321.1,276.5 1322.3,277.0 1321.0,275.6 1322.0,275.0 1321.6,276.0 1322.4,276.5 1321.9,277.5 1322.5,277.8 1321.9,278.9 1322.5,279.5 1322.1,280.5 1322.5,280.9 1322.1,281.9 1322.5,282.6 1322.1,283.5 1322.7,283.9 1322.2,285.0 1322.7,285.5 1322.3,286.6 1322.8,287.1 1322.3,288.1 1322.8,288.4 1322.5,289.5 1323.0,290.0 1322.4,291.1 1323.1,291.6 1322.5,292.6 1323.0,293.1 1322.5,294.2 1323.3,294.6 1322.7,295.7 1323.2,296.1 1322.8,297.1 1323.4,297.6 1322.9,298.6 1323.5,299.1 1322.9,300.1 1323.3,300.6 1322.9,301.8 1323.6,302.1 1323.1,303.3 1323.6,303.6 1323.1,304.8 1323.7,305.2 1323.1,306.3 1323.8,306.6 1323.3,307.8 1323.7,308.4 1323.2,309.2 1323.8,309.9 1323.2,310.8 1324.0,311.3 1323.4,312.5 1324.0,312.9 1323.8,313.8 1324.3,313.0 1322.9,311.7 1324.7,311.6 1323.6,310.1 1324.7,310.6 1323.7,308.7 1324.8,308.8 1323.5,306.9 1325.2,307.2 1323.4,305.5 1325.3,305.9 1324.3,304.2 1325.8,304.5 1324.4,302.5 1325.7,302.3 1324.4,301.3 1326.1,300.8 1324.1,299.3 1326.3,299.4 1324.4,297.6 1326.0,298.4 1325.0,296.4 1326.0,296.5 1325.1,294.7 1326.3,294.9 1325.0,293.1 1327.1,293.6 1325.3,292.1 1327.2,292.0 1325.6,290.6 1326.2,290.0 1327.0,289.8 1325.6,287.8 1327.0,288.3 1325.7,286.3 1327.3,286.3 1325.9,284.9 1327.5,284.8 1325.9,283.5 1327.6,284.0 1326.0,282.2 1327.7,282.4 1325.8,280.8 1328.0,280.6 1326.3,279.3 1327.8,279.1 1326.3,277.5 1327.8,277.7 1326.5,275.8 1328.2,275.9 1326.4,274.9 1328.6,274.4 1327.0,273.2 1328.4,273.4 1326.7,271.3 1328.6,271.9 1327.3,270.2 1328.8,270.3 1327.4,269.0 1328.5,268.4 1328.0,267.5 1327.2,266.3 1329.4,266.9 1328.2,264.7 1329.9,264.9 1328.1,263.2 1329.9,263.2 1329.5,262.0 1330.9,262.1 1329.7,263.6 1331.3,263.6 1329.7,265.4 1331.6,265.1 1330.7,266.4 1332.1,266.1 1332.0,267.5 1331.0,268.4 1332.9,268.8 1331.6,270.2 1332.9,270.0 1331.5,271.4 1332.8,271.7 1331.3,273.1 1333.4,273.5 1331.3,274.9 1332.9,274.7 1331.8,276.1 1333.6,276.2 1331.5,277.9 1333.8,277.8 1332.0,279.3 1333.2,279.6 1332.1,281.1 1333.9,280.6 1332.1,282.6 1333.4,282.7 1332.2,284.1 1333.6,284.1 1332.1,285.3 1333.9,285.4 1332.8,286.6 1333.8,287.1 1332.7,288.5 1334.1,288.3 1332.3,290.0 1334.6,290.1 1332.4,291.4 1334.3,291.2 1332.9,293.3 1334.3,292.8 1332.9,295.0 1333.8,295.0 1333.2,293.5 1335.0,294.2 1333.5,292.1 1335.0,292.2 1333.7,290.2 1335.8,291.3 1334.1,289.3 1335.7,289.3 1334.6,287.6 1336.8,288.2 1335.0,285.8 1336.5,286.0 1336.2,285.0 1335.4,283.4 1337.6,284.0 1335.8,281.9 1337.8,282.4 1336.2,280.2 1338.4,280.9 1337.0,279.3 1338.3,279.6 1337.5,277.4 1339.0,278.0 1337.5,276.3 1339.0,276.4 1338.8,275.0 1339.0,275.7 1338.6,276.7 1339.3,277.2 1338.7,278.3 1339.2,278.6 1338.8,279.8 1339.5,280.2 1339.1,281.2 1339.6,281.5 1339.0,282.7 1339.7,283.1 1339.3,284.1 1339.9,284.5 1339.3,285.7 1339.9,286.2 1339.6,287.2 1340.2,287.7 1339.6,288.6 1340.2,289.0 1339.8,290.1 1340.3,290.6 1339.8,291.7 1340.4,292.1 1340.0,293.1 1340.5,293.6 1340.1,294.5 1340.8,295.1 1340.4,296.1 1340.7,296.6 1340.2,297.6 1341.1,298.2 1340.6,299.3 1341.2,299.7 1340.6,300.7 1341.1,301.2 1340.8,302.1 1341.4,302.7 1340.9,303.7 1341.5,304.2 1341.2,305.0 1340.4,306.3 1341.9,306.2 1340.8,307.5 1342.0,307.5 1340.7,309.5 1342.2,308.9 1341.2,310.9 1342.4,310.5 1340.7,312.0 1342.2,312.1 1340.8,313.6 1342.5,313.4 1341.0,315.5 1343.2,315.0 1341.3,316.4 1343.2,316.3 1341.6,318.0 1342.7,318.5 1341.7,320.2 1342.9,319.6 1341.4,321.1 1343.4,321.0 1341.3,323.2 1343.7,322.6 1341.6,324.2 1343.6,324.3 1342.0,325.5 1343.6,325.4 1342.2,327.4 1343.9,327.2 1341.7,329.2 1343.8,329.2 1343.0,330.0 1342.8,331.0 1343.3,331.5 1342.8,332.4 1343.5,333.0 1342.9,333.9 1343.4,334.3 1342.9,335.3 1343.5,335.9 1343.2,336.8 1343.7,337.4 1343.1,338.4 1343.9,338.8 1343.3,340.0 1343.8,340.4 1343.4,341.4 1343.9,341.8 1343.4,342.8 1344.1,343.4 1343.6,344.5 1344.1,344.8 1343.7,345.9 1344.3,346.2 1343.7,347.3 1344.4,348.0 1343.7,348.8 1344.3,349.5 1343.8,350.5 1344.6,350.8 1344.1,352.0 1344.6,352.4 1344.2,353.3 1344.7,353.8 1344.0,355.0 1344.8,355.4 1344.3,356.3 1344.8,356.8 1344.4,357.8 1344.9,358.3 1344.4,359.3 1345.1,359.8 1344.6,360.9 1345.0,361.4 1344.6,362.4 1345.3,362.9 1344.7,364.0 1345.0,364.5 1344.8,363.7 1345.5,363.1 1344.9,362.1 1345.4,361.7 1344.9,360.7 1345.5,360.2 1345.0,359.0 1345.6,358.5 1345.0,357.6 1345.8,357.1 1345.2,356.1 1345.8,355.5 1345.4,354.7 1345.9,354.1 1345.3,353.1 1346.1,352.7 1345.3,351.7 1346.1,351.1 1345.4,350.2 1346.2,349.8 1345.8,348.7 1346.2,348.1 1345.7,347.2 1346.2,346.7 1345.9,345.6 1346.3,345.3 1345.8,344.1 1346.4,343.5 1345.9,342.5 1346.6,342.1 1346.1,341.2 1346.8,340.6 1346.1,339.5 1346.6,339.1 1346.2,338.2 1346.8,337.7 1346.4,336.6 1346.8,336.1 1346.5,335.0 1347.1,334.7 1346.5,333.6 1347.2,333.1 1346.6,332.0 1347.1,331.6 1346.6,330.6 1347.0,330.0 1348.0,329.9 1346.1,327.9 1347.7,328.0 1346.5,326.7 1348.5,327.0 1346.5,325.2 1348.7,325.2 1346.8,323.4 1348.7,323.3 1346.9,321.7 1348.7,322.2 1347.7,320.3 1349.3,320.2 1347.4,319.0 1349.3,319.2 1347.9,317.1 1349.6,317.7 1347.6,315.9 1349.7,315.5 1348.2,314.0 1350.2,314.5 1347.9,312.9 1349.7,312.4 1348.5,310.7 1349.9,310.9 1349.5,310.0 1348.8,308.5 1350.7,309.0 1349.1,307.5 1350.6,307.5 1349.3,305.4 1351.1,306.1 1348.9,303.9 1350.6,304.2 1349.4,302.8 1351.2,302.7 1349.9,301.1 1351.0,301.0 1349.9,299.7 1351.4,299.8 1349.7,298.1 1351.6,298.0 1349.7,296.9 1351.8,296.6 1350.5,295.0 1352.0,295.3 1350.3,293.5 1351.7,293.5 1351.2,292.5 1350.8,291.5 1352.6,291.3 1351.0,289.9 1352.6,290.1 1351.5,288.5 1353.4,288.8 1351.9,286.2 1353.9,286.6 1352.0,285.2 1353.9,285.2 1352.6,283.5 1354.6,283.7 1353.8,282.5 1354.7,283.1 1352.8,284.4 1354.7,284.4 1353.0,286.1 1355.3,285.6 1353.7,287.6 1354.9,287.4 1353.9,289.0 1355.1,289.0 1353.4,290.5 1355.5,290.0 1354.0,291.9 1356.0,291.5 1353.8,293.5 1355.5,293.5 1354.3,294.6 1355.7,294.8 1354.2,296.4 1356.2,296.2 1354.5,298.2 1356.0,297.6 1354.8,299.4 1356.7,299.4 1354.9,301.0 1356.4,300.8 1355.0,302.5 1356.4,302.5 1355.3,304.0 1356.8,304.0 1356.2,305.0 1357.1,304.9 1356.3,303.0 1358.6,303.5 1357.4,301.3 1359.1,301.9 1358.6,299.9 1359.5,300.0 1358.8,301.6 1360.5,301.2 1359.2,303.1 1361.3,302.0 1359.5,304.6 1361.2,303.5 1359.9,306.0 1361.6,305.7 1360.6,307.3 1362.0,306.8 1360.5,308.6 1362.6,308.0 1361.0,310.1 1362.8,309.7 1361.4,311.2 1363.2,310.8 1362.5,312.5 1361.7,313.9 1363.6,313.3 1362.7,315.1 1364.4,314.9 1362.6,316.7 1364.9,316.1 1363.4,318.4 1365.2,318.1 1363.9,320.2 1365.0,320.0 1365.6,320.3 1364.6,322.0 1365.7,321.9 1364.7,323.6 1366.5,323.0 1364.9,324.8 1366.3,324.9 1365.1,326.5 1366.7,326.1 1364.9,327.9 1366.5,327.7 1365.0,329.4 1367.2,329.4 1365.6,331.1 1366.6,331.2 1365.1,332.9 1367.1,332.3 1365.9,334.3 1367.2,334.3 1365.4,335.8 1367.8,335.8 1366.2,337.6 1367.3,337.0 1366.1,338.8 1367.8,338.5 1367.0,340.0 1368.2,339.9 1366.3,337.7 1368.0,338.1 1366.8,336.7 1367.9,336.5 1366.4,335.3 1367.9,334.9 1366.5,333.6 1368.6,333.9 1366.8,331.8 1368.4,331.8 1366.7,330.0 1369.1,330.2 1367.4,328.5 1369.2,329.1 1367.3,326.9 1368.8,327.5 1367.8,325.9 1369.1,326.1 1367.9,324.2 1369.3,324.2 1367.5,322.6 1369.2,323.1 1367.8,321.3 1369.6,321.0 1368.8,320.0 1368.0,319.1 1369.5,318.8 1367.9,317.5 1370.4,317.4 1368.9,315.8 1370.6,315.9 1368.9,314.5 1370.2,314.2 1369.1,312.5 1371.1,313.0 1369.6,311.6 1371.3,311.9 1369.7,310.1 1371.3,310.3 1369.6,308.0 1371.5,308.6 1369.9,306.9 1372.0,307.4 1370.6,304.9 1371.2,305.0 1370.6,306.0 1372.2,306.3 1370.9,307.9 1373.0,307.4 1371.2,309.2 1373.1,309.1 1371.9,310.8 1373.3,310.6 1372.2,312.6 1373.6,312.5 1372.9,313.7 1374.1,313.5 1373.8,315.0 1374.9,314.7 1373.6,312.7 1374.9,313.5 1373.6,311.5 1375.3,311.3 1374.1,309.7 1375.6,309.8 1373.9,308.4 1375.9,308.7 1374.6,306.7 1376.2,307.2 1374.8,305.1 1376.9,305.2 1375.3,303.6 1376.6,304.1 1376.2,302.5 1377.4,303.1 1375.3,304.2 1377.1,304.2 1375.8,306.3 1377.2,306.2 1376.2,307.6 1377.4,307.3 1375.7,308.9 1377.4,309.1 1376.0,310.5 1378.0,310.1 1376.3,312.0 1377.7,312.3 1376.3,313.7 1377.9,313.3 1376.6,314.9 1378.6,315.2 1376.5,316.7 1378.8,316.2 1377.3,317.9 1378.6,318.0 1376.9,319.6 1379.0,319.3 1377.1,320.8 1379.0,320.7 1377.1,322.3 1379.0,322.4 1377.9,323.8 1379.4,324.0 1377.9,325.6 1379.0,325.8 1378.0,327.5 1378.8,327.5 1378.1,326.1 1379.7,326.6 1378.4,324.3 1380.1,325.1 1379.1,323.2 1380.2,323.1 1379.2,321.9 1380.5,322.0 1379.2,320.1 1381.5,320.6 1379.8,318.6 1381.8,319.4 1380.2,317.0 1381.5,317.4 1381.2,316.2 1381.2,314.7 1382.5,315.6 1381.9,313.7 1383.3,314.1 1383.0,312.8 1383.8,312.5 1383.0,314.0 1385.1,313.5 1383.4,315.3 1385.3,314.9 1383.6,317.2 1385.6,316.6 1384.6,318.1 1385.7,318.3 1385.0,320.0 1386.3,320.0 1385.4,321.7 1386.7,320.9 1386.2,322.5 1386.2,321.2 1386.6,320.7 1386.0,319.5 1386.7,319.0 1386.1,318.1 1386.8,317.6 1386.3,316.6 1386.8,316.0 1386.3,314.9 1387.1,314.5 1386.4,313.4 1387.0,313.0 1386.5,312.0 1387.1,311.6 1386.7,310.6 1387.2,309.9 1386.7,309.0 1387.3,308.6 1386.7,307.6 1387.5,307.0 1387.0,306.0 1387.6,305.6 1387.0,304.4 1387.6,304.1 1387.0,303.0 1387.7,302.5 1387.1,301.5 1387.9,300.9 1387.3,299.9 1387.9,299.4 1387.5,298.3 1387.9,297.8 1387.5,297.0 1387.9,296.4 1387.4,295.4 1388.2,295.0 1387.7,293.8 1388.3,293.5 1388.0,292.5 1387.0,291.6 1389.3,291.7 1387.5,289.5 1389.0,289.8 1387.3,288.2 1389.6,288.6 1387.7,286.4 1389.7,287.1 1388.1,284.9 1389.7,285.3 1388.0,283.5 1389.6,283.9 1388.5,281.8 1389.5,281.9 1388.4,280.2 1390.1,281.0 1388.2,278.9 1390.2,279.2 1388.7,277.6 1390.1,277.8 1388.9,275.7 1390.7,276.2 1388.8,274.4 1390.7,274.7 1389.2,272.7 1390.0,272.5 1390.6,272.6 1389.3,270.5 1391.2,270.5 1389.6,268.6 1391.8,269.5 1390.2,267.6 1391.9,267.6 1390.1,265.6 1392.3,266.4 1390.4,264.3 1392.3,264.9 1390.6,262.5 1392.6,263.1 1390.8,261.3 1392.7,261.4 1391.6,260.0 1392.9,259.7 1391.6,258.1 1393.4,258.9 1392.0,257.2 1393.3,256.8 1392.3,255.5 1393.0,255.0 1392.8,256.4 1394.2,255.5 1393.5,257.5 1395.2,257.3 1394.2,259.3 1395.7,258.7 1395.5,260.0 1396.5,260.5 1395.6,257.8 1397.5,259.1 1396.3,256.9 1398.3,257.7 1398.0,256.2 1397.4,255.3 1398.8,255.1 1397.7,253.6 1399.5,253.7 1397.3,251.8 1399.4,251.9 1398.2,250.1 1399.2,250.7 1397.8,248.9 1399.6,248.9 1398.3,247.5 1400.0,247.6 1398.6,245.6 1399.9,245.7 1398.5,244.0 1400.2,244.3 1398.5,242.4 1400.5,243.1 1398.8,241.3 1400.7,241.6 1400.0,240.0 1399.8,238.3 1401.7,239.0 1400.1,237.3 1402.1,237.5 1400.2,235.7 1402.6,236.0 1401.2,233.9 1402.5,234.5 1401.4,232.6 1402.5,232.5 1403.3,232.2 1402.1,230.4 1404.6,231.3 1403.1,229.1 1404.7,229.4 1403.5,227.6 1404.5,227.5 1403.7,228.6 1406.0,228.4 1404.3,230.6 1406.2,229.5 1405.2,231.6 1407.0,231.6 1405.1,233.6 1407.5,232.6 1406.1,235.0 1407.0,235.0 1406.1,233.4 1408.5,234.2 1406.1,232.2 1408.6,232.3 1406.5,230.8 1408.9,230.9 1407.2,229.5 1409.1,229.7 1407.5,228.1 1409.0,227.8 1407.1,226.1 1409.7,226.2 1407.5,224.6 1409.5,224.8 1408.3,223.0 1410.1,224.0 1407.9,222.0 1410.5,222.3 1408.3,220.1 1409.5,220.0 1410.4,219.9 1409.4,217.9 1410.7,218.0 1409.7,216.2 1411.1,216.6 1410.3,214.8 1412.2,215.6 1411.2,213.8 1412.4,213.8 1410.6,215.7 1413.1,215.5 1411.6,217.7 1413.4,217.0 1412.0,219.0 1413.8,218.1 1412.2,220.3 1414.8,219.4 1413.8,221.2 1414.5,221.3 1412.9,219.1 1414.5,219.4 1413.4,218.0 1415.2,218.3 1413.2,215.8 1414.8,216.6 1413.7,214.8 1415.5,214.8 1413.2,213.6 1415.7,213.7 1414.0,211.6 1415.7,212.3 1413.6,210.5 1415.9,210.3 1414.0,208.6 1415.8,209.2 1413.9,207.3 1415.9,207.1 1414.6,206.1 1416.1,206.4 1414.1,203.9 1416.4,204.9 1414.5,202.9 1415.5,202.5 1416.8,202.0 1414.8,200.3 1416.5,200.6 1414.8,198.5 1416.5,199.3 1415.4,197.6 1417.4,197.9 1415.4,195.8 1417.5,196.2 1415.1,194.3 1416.9,194.5 1415.6,192.9 1417.6,193.5 1415.7,191.7 1417.4,191.2 1416.3,190.1 1417.7,190.1 1416.5,188.5 1417.7,188.1 1416.3,186.3 1418.4,187.2 1416.8,185.2 1417.5,185.0 1418.9,185.0 1417.5,183.3 1419.2,183.5 1417.4,181.0 1419.8,182.1 1418.3,179.5 1419.5,180.0 1420.7,179.5 1418.5,178.2 1420.4,177.8 1418.9,176.1 1421.0,176.9 1418.8,174.9 1420.8,175.4 1419.2,173.3 1421.1,173.7 1419.5,171.5 1421.9,172.4 1420.1,170.3 1421.4,170.3 1420.3,169.1 1421.8,169.3 1419.8,167.1 1422.0,167.5 1421.2,166.2 1422.1,166.7 1421.1,167.9 1422.6,167.7 1421.4,169.7 1423.4,169.1 1421.9,171.0 1423.6,171.1 1422.0,172.4 1424.3,172.3 1422.6,174.1 1424.5,173.6 1423.8,175.0 1423.4,176.6 1425.2,176.0 1423.6,178.0 1425.2,177.0 1424.1,179.0 1426.2,178.8 1424.7,181.0 1426.7,180.0 1424.6,181.9 1426.5,182.0 1424.9,183.8 1426.2,183.8 1425.9,182.5 1427.3,182.6 1425.9,181.0 1427.6,181.3 1426.0,179.5 1427.9,179.3 1426.9,177.7 1428.7,178.4 1426.8,175.7 1428.7,176.8 1427.3,174.3 1429.8,175.0 1428.8,173.8 1428.4,172.5 1430.4,172.8 1429.2,170.4 1430.7,171.3 1429.8,169.2 1431.2,169.7 1430.3,167.7 1431.2,167.5 1430.7,168.9 1432.4,168.1 1430.9,170.5 1432.6,169.7 1431.5,172.4 1432.9,171.6 1432.1,173.2 1433.6,173.4 1432.5,175.0 1433.7,174.7 1432.7,176.2 1434.1,176.0 1433.8,177.5 1435.0,177.1 1432.9,175.6 1434.7,176.0 1433.3,174.0 1435.7,174.1 1433.5,171.8 1435.9,172.7 1434.2,170.6 1436.4,171.5 1434.7,169.0 1436.1,169.2 1434.5,167.7 1436.8,167.6 1435.3,165.8 1437.0,166.3 1436.2,165.0 1436.0,163.3 1438.0,164.7 1436.2,162.2 1438.6,162.7 1437.5,161.0 1439.2,161.9 1438.8,160.0 1438.0,158.6 1439.8,159.4 1438.0,156.8 1439.8,157.1 1438.7,155.7 1440.8,156.0 1438.9,154.3 1440.7,154.3 1439.1,152.8 1441.0,152.9 1439.2,150.9 1441.3,151.2 1439.9,149.5 1441.8,149.6 1440.0,147.8 1441.2,147.5 1442.7,148.7 1442.1,145.3 1443.9,147.5 1443.1,144.3 1444.5,145.0 1445.5,144.7 1444.5,142.7 1445.9,143.6 1445.0,141.1 1447.3,142.2 1445.1,139.3 1447.8,140.6 1446.0,138.0 1448.1,138.8 1447.5,137.5 1447.4,135.6 1449.3,138.1 1448.8,134.9 1450.4,136.6 1450.2,134.3 1451.2,135.0 1452.7,134.6 1450.9,132.5 1452.9,133.9 1451.5,131.6 1453.2,132.4 1451.5,129.9 1454.0,130.7 1451.7,128.3 1454.0,129.3 1452.4,127.2 1454.5,127.8 1453.8,126.2 1453.3,125.0 1455.1,125.2 1453.8,123.1 1455.9,124.1 1454.9,121.5 1456.7,122.2 1454.9,119.8 1456.2,120.0 1457.6,120.2 1455.1,118.1 1457.6,117.8 1455.2,116.4 1457.8,116.4 1455.3,114.6 1457.4,114.8 1455.5,113.2 1457.9,113.7 1456.2,112.2 1458.3,112.5 1455.9,110.3 1458.3,110.1 1456.7,109.0 1458.1,109.3 1456.6,107.5 1458.6,107.2 1456.2,105.6 1458.5,106.0 1456.8,104.2 1458.9,104.3 1457.1,102.8 1459.1,102.7 1457.0,101.3 1459.3,101.2 1458.0,100.0 1457.0,98.1 1459.8,99.5 1458.2,97.0 1460.1,97.6 1459.5,96.2 1459.9,96.8 1459.2,97.8 1460.0,98.3 1459.4,99.4 1460.0,99.9 1459.6,101.0 1460.1,101.5 1459.6,102.6 1460.3,102.9 1459.6,104.1 1460.3,104.6 1459.7,105.6 1460.3,106.1 1459.9,107.1 1460.3,107.5 1460.0,108.7 1460.6,109.1 1460.0,110.2 1460.5,110.6 1460.1,111.7 1460.8,112.1 1460.2,113.2 1460.8,113.6 1460.2,114.7 1460.8,115.1 1460.4,116.1 1460.9,116.8 1460.3,117.9 1461.1,118.3 1460.6,119.2 1461.0,119.7 1460.6,120.7 1461.3,121.2 1460.7,122.3 1461.2,122.8 1460.8,123.8 1461.3,124.4 1460.8,125.5 1461.5,125.9 1460.8,126.8 1461.2,127.5 1460.6,126.5 1462.7,126.6 1460.6,124.4 1462.4,124.8 1460.6,123.4 1463.1,124.0 1461.3,121.3 1463.1,122.1 1461.1,120.2 1463.3,120.8 1461.4,118.9 1463.5,119.4 1461.9,117.0 1463.9,117.5 1462.1,115.7 1464.6,116.1 1462.4,114.1 1464.8,114.8 1463.1,113.0 1463.8,112.5 1462.9,114.2 1465.5,113.2 1464.0,115.8 1465.7,115.0 1464.4,116.8 1466.8,116.0 1466.2,117.5 1465.1,119.0 1467.3,118.3 1465.9,120.2 1467.5,120.3 1465.5,122.2 1467.3,121.8 1465.7,123.6 1467.6,123.3 1466.5,125.1 1468.1,124.8 1466.3,126.6 1468.1,126.5 1466.8,128.0 1468.2,128.0 1466.7,129.5 1468.8,129.2 1466.7,131.4 1469.0,130.6 1467.4,132.0 1468.8,132.0 1467.2,134.0 1469.1,133.5 1467.4,135.8 1469.2,135.0 1467.8,137.1 1469.4,136.6 1467.3,138.5 1468.8,138.8 1467.9,137.4 1470.4,137.7 1468.2,135.6 1470.6,136.4 1468.6,134.6 1470.9,134.7 1469.1,133.0 1470.9,133.3 1469.9,131.6 1471.5,131.7 1469.8,129.8 1472.2,130.4 1469.8,128.3 1472.3,129.1 1470.7,126.5 1472.1,127.4 1470.8,125.5 1472.0,125.0 1470.9,126.2 1472.8,125.6 1471.5,128.0 1473.3,127.4 1472.0,129.0 1473.9,128.9 1471.8,131.1 1474.0,130.3 1472.5,132.1 1474.5,131.8 1472.3,134.0 1474.4,133.6 1472.4,135.1 1474.3,134.7 1472.7,137.1 1474.7,136.2 1473.0,138.4 1475.6,137.5 1473.3,139.7 1474.5,140.0 1473.7,138.8 1476.2,139.0 1474.6,137.2 1476.7,138.1 1474.5,135.4 1477.2,136.5 1475.8,133.7 1477.1,134.8 1475.9,132.9 1477.0,132.5 1476.3,133.6 1478.6,133.1 1476.6,135.9 1478.6,135.2 1476.9,137.5 1478.6,136.5 1477.6,138.7 1478.8,138.4 1477.9,139.8 1479.5,139.6 1478.8,141.2 1479.5,141.2 1477.9,138.7 1479.8,139.5 1478.7,137.7 1480.0,137.7 1478.6,136.3 1480.3,136.1 1479.1,134.3 1481.2,135.1 1479.5,132.7 1481.2,133.3 1479.1,131.8 1481.2,132.0 1480.0,130.0 1481.5,130.2 1479.7,128.3 1482.3,129.3 1481.2,127.5 1481.5,128.1 1481.2,129.1 1481.6,129.5 1481.1,130.7 1481.6,131.2 1481.3,132.2 1481.8,132.8 1481.2,133.6 1481.9,134.2 1481.3,135.2 1482.0,135.5 1481.4,136.7 1482.0,137.2 1481.5,138.1 1482.2,138.8 1481.6,139.8 1482.2,140.2 1481.6,141.4 1482.1,141.7 1481.6,142.7 1482.3,143.3 1481.9,144.4 1482.4,144.9 1481.9,145.7 1482.4,146.3 1482.0,147.3 1482.6,147.6 1482.0,148.9 1482.6,149.3 1482.0,150.3 1482.7,150.8 1482.1,151.8 1482.8,152.3 1482.1,153.4 1482.8,153.9 1482.3,154.9 1482.9,155.2 1482.3,156.3 1483.0,156.8 1482.4,157.8 1483.0,158.2 1482.5,159.3 1483.1,159.7 1482.5,160.8 1483.2,161.2 1482.6,162.3 1483.2,162.8 1483.0,163.8 1484.2,163.7 1482.2,161.5 1484.7,162.5 1483.0,159.9 1484.2,160.8 1482.8,158.7 1484.9,159.0 1483.5,157.2 1484.7,157.3 1483.8,155.4 1485.0,155.7 1483.2,154.4 1485.9,154.6 1483.7,152.8 1486.2,152.9 1484.4,151.4 1485.9,151.7 1484.6,150.0 1486.7,150.0 1484.3,148.5 1486.9,148.7 1485.0,146.8 1487.1,147.3 1485.6,145.6 1486.2,145.0 1485.2,146.0 1487.3,146.1 1485.8,147.7 1487.6,147.7 1486.1,149.4 1487.9,149.2 1486.6,150.4 1488.3,150.2 1486.3,152.6 1488.4,151.6 1486.8,153.5 1488.9,153.7 1487.0,155.2 1488.6,155.3 1486.8,156.8 1489.5,156.8 1487.9,157.9 1489.4,157.6 1488.0,160.0 1488.8,160.0 1488.0,158.7 1490.1,159.0 1488.6,157.1 1490.3,157.4 1489.3,155.6 1490.9,156.3 1489.4,154.2 1491.5,154.8 1489.5,152.7 1491.8,152.8 1490.0,151.2 1492.5,151.4 1491.0,149.3 1492.8,150.1 1492.0,148.8 1491.4,147.0 1492.9,148.1 1491.7,146.0 1493.5,146.7 1492.2,144.1 1493.9,145.0 1492.2,143.1 1494.8,143.3 1492.8,141.6 1494.8,142.0 1493.8,139.9 1494.5,140.0 1495.5,139.5 1493.6,138.2 1495.9,138.5 1493.8,136.7 1495.5,136.9 1493.9,135.0 1496.0,135.2 1494.5,133.2 1496.2,133.6 1494.7,132.0 1496.3,132.2 1494.7,130.6 1496.3,130.4 1495.1,128.7 1496.6,128.9 1495.1,127.3 1497.2,127.3 1495.1,125.5 1497.3,125.8 1495.0,124.3 1496.2,123.8 1495.1,125.1 1497.5,124.7 1496.0,126.3 1497.4,126.4 1495.8,128.1 1497.8,127.9 1496.6,129.8 1497.7,129.6 1496.5,131.4 1498.7,130.8 1497.0,132.6 1498.9,132.0 1496.7,133.7 1499.1,133.4 1498.0,135.0 1497.3,136.1 1499.5,136.1 1497.6,137.6 1498.8,137.6 1497.5,139.2 1499.4,139.1 1497.6,141.1 1499.5,140.6 1497.5,142.0 1499.4,142.4 1497.4,143.6 1499.4,143.5 1497.9,145.2 1500.0,145.0 1498.1,147.1 1499.9,146.2 1497.9,148.0 1500.3,147.6 1498.6,149.3 1500.7,149.6 1498.4,151.4 1500.5,151.2 1498.5,152.8 1500.6,152.4 1498.4,153.9 1500.5,154.3 1499.2,155.9 1500.7,155.8 1499.4,157.1 1500.0,157.5 1500.4,158.0 1499.8,159.0 1500.4,159.7 1499.9,160.6 1500.5,161.2 1499.9,162.1 1500.6,162.5 1500.0,163.7 1500.6,164.2 1500.0,165.2 1500.7,165.5 1500.3,166.7 1500.8,167.1 1500.1,168.2 1500.9,168.5 1500.3,169.6 1500.9,170.2 1500.3,171.0 1501.0,171.5 1500.6,172.5 1501.0,173.2 1500.4,174.2 1501.2,174.6 1500.5,175.7 1501.2,176.1 1500.7,177.1 1501.3,177.5 1500.6,178.6 1501.4,179.1 1500.9,180.1 1501.4,180.6 1500.9,181.6 1501.4,182.0 1500.9,183.1 1501.5,183.5 1501.2,184.5 1501.6,185.1 1501.2,186.3 1501.7,186.7 1501.2,187.6 1501.9,188.2 1501.4,189.0 1501.8,189.7 1501.2,190.6 1501.9,191.1 1501.4,192.2 1501.9,192.6 1501.5,193.7 1502.1,194.1 1501.6,195.3 1502.2,195.6 1501.6,196.7 1502.3,197.0 1501.7,198.2 1502.0,198.8 1501.7,197.8 1502.2,197.5 1501.8,196.3 1502.4,195.9 1501.9,194.8 1502.6,194.4 1502.0,193.2 1502.5,192.8 1502.2,191.7 1502.7,191.3 1502.3,190.2 1502.9,189.9 1502.4,188.9 1503.0,188.3 1502.5,187.2 1502.9,186.8 1502.5,185.7 1503.0,185.2 1502.6,184.3 1503.2,183.7 1502.8,182.8 1503.3,182.2 1502.7,181.3 1503.5,180.7 1502.8,179.8 1503.4,179.3 1503.1,178.3 1503.6,177.8 1503.1,176.7 1503.7,176.2 1503.2,175.3 1503.8,174.7 1503.2,173.6 1503.9,173.3 1503.3,172.2 1503.9,171.6 1503.3,170.7 1503.8,170.0 1503.1,171.3 1504.7,170.9 1503.7,172.6 1505.5,172.5 1503.9,174.0 1505.2,174.3 1504.3,175.7 1506.2,175.9 1504.4,177.3 1506.5,176.8 1504.9,179.2 1506.8,178.6 1505.8,180.0 1506.4,180.0 1505.2,178.2 1506.9,177.8 1505.3,176.7 1506.6,176.3 1504.9,174.9 1507.4,175.4 1505.7,173.7 1507.2,173.6 1505.8,172.1 1507.7,172.1 1505.7,170.6 1508.0,170.7 1505.5,168.4 1507.9,168.8 1506.4,167.7 1507.6,167.2 1505.9,165.8 1507.6,165.7 1506.3,163.8 1507.8,164.0 1506.5,162.4 1508.6,162.8 1506.5,160.9 1508.2,161.7 1506.4,159.7 1508.7,160.1 1506.5,158.2 1508.6,158.0 1506.7,156.5 1508.0,156.2 1507.9,157.1 1508.3,157.7 1507.8,158.7 1508.4,159.1 1507.9,160.1 1508.6,160.7 1508.0,161.5 1508.5,162.2 1508.0,163.1 1508.5,163.7 1508.0,164.6 1508.6,165.1 1508.2,166.1 1508.7,166.7 1508.3,167.6 1508.9,168.2 1508.3,169.2 1508.9,169.6 1508.2,170.7 1508.8,171.0 1508.3,172.3 1509.0,172.5 1508.6,173.7 1509.0,174.0 1508.5,175.2 1509.0,175.5 1508.6,176.5 1509.0,177.2 1508.7,178.1 1509.1,178.6 1508.7,179.7 1509.3,180.1 1508.7,181.2 1509.2,181.6 1508.7,182.6 1509.2,183.2 1508.8,184.1 1509.3,184.6 1509.0,185.5 1509.4,186.2 1509.0,187.2 1509.5,187.6 1509.1,188.6 1509.7,189.0 1509.1,190.1 1509.7,190.6 1509.3,191.7 1509.8,192.1 1509.2,193.1 1509.9,193.6 1509.4,194.5 1509.9,195.2 1509.2,196.2 1510.0,196.6 1509.3,197.7 1510.1,198.0 1509.4,199.0 1510.1,199.6 1509.5,200.6 1510.1,201.1 1509.7,202.2 1510.2,202.6 1509.7,203.7 1510.1,204.1 1510.0,205.0 1508.8,206.1 1511.0,206.4 1509.2,207.4 1511.3,207.8 1509.3,209.3 1511.2,208.9 1509.4,211.2 1511.5,210.6 1509.2,212.1 1511.8,211.7 1510.1,213.9 1511.9,213.9 1509.7,215.6 1511.9,215.1 1509.6,217.0 1511.8,216.7 1509.7,218.2 1511.7,218.0 1510.5,219.6 1511.9,219.5 1510.4,221.3 1512.3,221.2 1510.0,223.1 1512.0,222.9 1510.1,224.6 1512.0,224.0 1510.2,226.0 1512.0,225.5 1510.8,227.8 1512.4,227.2 1511.1,228.9 1512.4,228.9 1511.8,230.0 1512.1,229.4 1511.6,228.2 1512.1,227.9 1511.6,226.8 1512.2,226.3 1511.8,225.4 1512.4,224.9 1511.9,223.8 1512.4,223.4 1511.8,222.2 1512.6,221.7 1512.0,220.7 1512.6,220.3 1512.0,219.1 1512.7,218.6 1512.1,217.8 1512.8,217.3 1512.2,216.2 1512.8,215.6 1512.4,214.7 1512.9,214.2 1512.4,213.2 1513.0,212.6 1512.5,211.5 1513.1,211.1 1512.7,210.2 1513.1,209.6 1512.8,208.6 1513.4,208.1 1512.7,207.0 1513.3,206.5 1512.9,205.5 1513.5,204.9 1513.0,204.0 1513.5,203.5 1513.0,202.4 1513.8,201.9 1513.1,201.0 1513.7,200.4 1513.2,199.4 1513.9,198.9 1513.3,197.8 1513.8,197.5 1513.4,196.4 1514.0,196.0 1513.8,195.0 1513.0,193.9 1515.4,193.8 1513.0,192.3 1515.2,192.5 1513.2,190.8 1515.5,191.2 1514.2,189.1 1516.1,189.6 1514.4,187.2 1516.5,188.3 1515.0,185.8 1516.1,185.7 1515.2,184.4 1517.2,184.7 1514.9,183.0 1516.2,182.5 1517.3,182.2 1515.6,180.6 1517.2,181.0 1515.5,179.1 1517.2,179.2 1515.8,177.6 1518.2,177.7 1516.3,176.0 1517.7,176.5 1516.5,174.3 1518.5,174.4 1516.5,173.1 1518.8,172.8 1516.8,171.6 1518.4,171.8 1517.2,169.8 1519.2,170.2 1517.4,167.9 1518.6,168.7 1517.5,166.4 1518.9,166.6 1517.6,165.4 1519.4,165.8 1517.2,163.6 1519.5,163.7 1518.8,162.5 1518.3,161.2 1519.7,161.6 1518.4,160.1 1519.6,160.1 1518.6,158.2 1520.2,158.3 1518.1,156.4 1520.4,156.7 1518.5,155.2 1520.7,155.3 1518.5,153.6 1520.2,153.8 1518.9,152.1 1520.8,152.4 1519.1,150.3 1521.3,151.1 1519.4,149.2 1521.4,149.0 1519.7,147.5 1521.2,147.9 1519.5,145.7 1521.7,146.4 1519.9,144.7 1521.9,144.9 1520.1,143.2 1521.9,143.3 1520.0,141.5 1521.8,141.3 1520.1,139.9 1522.2,139.9 1521.2,138.8 1522.3,138.6 1520.5,140.7 1522.6,140.3 1521.1,142.3 1522.8,142.2 1521.1,143.8 1522.8,143.5 1521.6,145.3 1523.2,145.6 1522.0,147.2 1523.1,146.5 1521.5,148.3 1523.9,147.8 1522.4,150.1 1523.9,150.1 1522.2,152.0 1524.1,151.2 1522.1,153.4 1524.0,152.8 1522.3,154.6 1523.8,155.0 1522.7,153.9 1525.2,154.2 1523.5,152.2 1525.4,153.0 1523.6,150.8 1525.9,151.0 1524.1,149.0 1525.8,149.5 1523.7,147.6 1525.8,148.0 1524.4,146.3 1526.2,146.6 1524.4,144.0 1526.8,145.2 1524.9,142.8 1527.3,143.9 1525.3,141.7 1526.2,141.2 1527.0,140.7 1526.2,139.2 1527.8,139.6 1526.0,137.6 1528.2,137.8 1526.3,135.9 1528.8,136.3 1526.8,134.6 1529.3,135.0 1527.2,133.0 1529.5,133.4 1527.8,131.6 1528.8,131.2 1530.1,131.5 1528.5,129.1 1530.6,129.7 1528.4,127.9 1530.5,128.2 1529.4,126.4 1530.7,126.7 1529.8,125.1 1531.7,125.5 1529.8,123.5 1531.8,124.0 1530.6,122.1 1532.1,122.0 1530.3,120.2 1531.8,120.0 1531.0,121.6 1532.5,120.8 1530.7,122.7 1532.9,122.8 1531.1,124.7 1533.2,123.7 1531.4,126.0 1533.2,125.4 1531.7,127.0 1533.8,126.7 1531.9,129.0 1534.1,128.5 1532.2,130.5 1534.4,130.3 1531.9,131.6 1534.6,131.4 1532.4,133.2 1534.2,133.4 1532.8,134.6 1533.8,135.0 1534.4,135.5 1533.2,137.2 1535.2,136.5 1533.7,138.3 1535.8,138.6 1534.1,140.2 1535.7,140.1 1534.5,141.4 1536.4,141.1 1534.7,143.4 1536.0,142.7 1534.5,144.7 1536.7,144.4 1535.5,146.5 1537.0,146.4 1536.2,147.5 1537.0,146.9 1536.0,145.3 1538.0,146.1 1535.6,143.7 1537.9,144.1 1536.2,142.6 1538.3,142.6 1536.3,140.7 1538.9,141.9 1536.9,139.1 1538.5,139.9 1537.3,137.8 1539.0,138.4 1537.7,137.0 1539.7,137.5 1538.0,134.8 1539.9,135.3 1537.7,133.2 1540.3,133.9 1538.1,132.2 1540.4,132.9 1539.5,131.2 1540.5,131.4 1539.0,133.6 1540.7,132.8 1539.0,134.8 1541.3,134.8 1539.6,136.5 1541.4,136.1 1539.6,138.0 1541.2,137.2 1539.3,139.8 1541.8,139.2 1540.2,140.7 1541.7,140.8 1540.1,142.4 1542.4,142.3 1540.6,144.1 1542.4,143.6 1540.3,145.3 1542.3,145.1 1540.6,147.0 1543.1,146.7 1540.7,148.6 1542.0,148.8 1540.9,147.4 1543.2,147.5 1541.4,146.0 1543.3,146.2 1541.8,144.1 1543.4,144.3 1541.6,142.5 1543.9,143.5 1542.4,141.8 1544.1,141.5 1541.8,139.5 1543.8,139.8 1542.2,138.5 1544.6,138.9 1542.5,137.1 1544.5,137.2 1542.6,135.2 1543.8,135.0 1542.9,136.8 1545.3,136.2 1543.6,138.1 1545.1,137.5 1543.7,139.8 1545.6,139.0 1543.9,141.1 1545.4,141.0 1543.7,142.2 1545.7,141.8 1544.2,143.8 1546.3,143.9 1544.8,145.2 1546.0,145.3 1544.4,147.0 1546.2,147.0 1544.8,148.8 1547.1,148.1 1545.3,150.0 1546.8,150.0 1546.2,151.2 1545.8,152.5 1547.4,152.1 1545.8,154.1 1547.7,153.9 1546.3,155.6 1548.3,155.6 1546.5,157.3 1548.0,156.7 1546.8,159.3 1548.5,158.5 1546.7,160.5 1549.2,160.0 1547.0,161.9 1549.7,161.4 1547.4,163.2 1548.8,163.8 1550.3,163.5 1548.8,165.6 1550.6,165.2 1549.7,167.2 1551.7,166.4 1550.0,169.2 1551.2,168.8 1551.1,167.9 1551.7,167.4 1551.1,166.4 1551.8,165.9 1551.3,164.8 1551.9,164.4 1551.3,163.5 1551.8,163.0 1551.3,161.8 1552.1,161.5 1551.5,160.3 1552.1,159.8 1551.6,158.9 1552.1,158.4 1551.8,157.4 1552.2,156.9 1551.9,155.8 1552.4,155.3 1552.0,154.5 1552.4,153.8 1552.0,152.8 1552.6,152.4 1552.0,151.4 1552.7,150.9 1552.3,149.9 1552.7,149.4 1552.3,148.3 1553.0,147.9 1552.4,146.9 1552.9,146.4 1552.6,145.3 1553.1,144.9 1552.7,144.0 1553.1,143.5 1552.7,142.4 1553.4,141.8 1552.7,140.8 1553.3,140.5 1553.0,139.3 1553.2,138.8 1552.4,140.3 1554.2,140.0 1552.6,141.6 1554.1,141.3 1552.7,143.1 1554.9,143.0 1552.8,144.3 1554.4,144.3 1552.9,146.2 1554.9,146.0 1553.0,147.9 1555.3,147.4 1552.7,149.3 1555.4,149.3 1553.2,150.7 1554.7,150.0 1553.6,151.8 1554.9,151.8 1553.8,153.7 1555.6,153.1 1553.7,155.1 1555.8,154.6 1553.9,156.7 1555.5,156.8 1553.9,157.8 1555.9,157.8 1554.1,159.6 1555.0,160.0 1555.8,160.3 1554.2,162.4 1556.0,161.4 1554.4,163.5 1556.3,163.0 1554.4,165.4 1556.4,164.6 1554.8,166.7 1556.4,166.2 1554.8,167.9 1556.9,168.0 1555.2,169.2 1557.2,169.2 1555.4,170.7 1556.9,170.9 1555.3,172.9 1556.6,172.0 1555.0,173.9 1557.2,173.7 1555.7,175.5 1557.4,174.9 1555.2,177.1 1557.7,176.9 1556.0,178.5 1557.5,178.3 1556.1,179.7 1558.1,179.5 1556.1,181.6 1558.2,181.0 1557.0,182.5 1558.2,182.6 1556.6,180.7 1557.9,180.5 1556.2,178.5 1558.4,179.3 1556.7,177.6 1558.7,178.0 1556.6,175.9 1558.4,175.9 1557.4,174.2 1558.7,175.2 1557.4,173.2 1558.9,173.2 1557.4,171.9 1559.4,172.1 1557.5,170.2 1559.3,170.7 1557.2,168.1 1559.4,168.6 1557.6,166.9 1559.8,167.6 1558.0,165.5 1560.0,165.8 1557.8,164.0 1560.0,164.2 1558.0,162.4 1559.9,162.9 1558.6,160.6 1560.1,161.3 1559.5,160.0 1558.7,158.7 1560.8,159.2 1559.3,157.5 1561.1,158.0 1559.5,155.7 1561.6,155.8 1559.5,154.2 1561.3,154.6 1559.6,152.5 1562.1,153.3 1559.7,151.3 1561.9,151.6 1560.1,149.7 1562.0,149.8 1560.5,147.9 1562.9,148.7 1561.1,146.1 1562.0,146.2 1562.8,146.3 1561.6,144.1 1563.2,144.8 1561.5,142.4 1563.2,142.9 1562.0,140.9 1563.6,141.6 1561.8,139.5 1564.0,140.3 1562.4,137.8 1564.3,139.0 1562.6,136.6 1564.6,136.7 1563.3,135.6 1565.1,135.7 1562.9,133.7 1565.2,134.2 1563.5,132.1 1564.9,132.5 1564.5,131.2 1563.7,130.1 1565.4,130.3 1564.4,128.3 1566.2,128.8 1564.2,127.2 1566.0,127.2 1564.6,125.7 1566.7,125.4 1565.2,124.1 1567.0,123.9 1565.1,121.9 1567.2,122.6 1565.3,120.9 1567.6,121.3 1565.9,118.9 1568.0,120.0 1566.1,117.4 1567.0,117.5 1567.9,117.6 1566.0,115.6 1568.2,116.0 1566.6,114.1 1568.6,114.7 1566.2,112.7 1568.7,113.2 1566.9,111.4 1568.5,111.5 1566.7,109.3 1569.0,110.2 1567.2,108.4 1568.9,108.2 1567.5,106.1 1568.6,106.7 1566.9,105.3 1569.4,105.0 1567.0,103.1 1569.1,103.5 1567.8,102.4 1569.5,102.1 1567.8,100.5 1569.8,101.0 1568.0,99.4 1568.8,98.8 1568.2,100.5 1570.4,99.1 1568.6,101.7 1570.5,101.2 1568.8,102.9 1570.6,102.6 1569.2,104.2 1571.5,103.6 1569.6,105.9 1571.3,105.6 1570.5,107.4 1571.2,107.5 1570.2,106.2 1572.9,106.8 1570.6,104.4 1573.0,105.1 1571.1,102.8 1573.0,103.4 1571.2,101.5 1573.4,102.3 1571.7,100.1 1573.5,100.5 1571.8,98.4 1573.7,99.2 1572.2,97.5 1573.2,97.0 1572.9,97.8 1573.5,98.5 1573.0,99.4 1573.8,99.8 1573.2,101.0 1573.8,101.4 1573.3,102.4 1573.8,103.0 1573.4,104.0 1573.8,104.3 1573.5,105.4 1574.0,105.8 1573.5,106.9 1574.1,107.4 1573.5,108.3 1574.1,108.8 1573.5,110.0 1574.2,110.4 1573.8,111.5 1574.3,111.8 1573.8,112.9 1574.5,113.3 1574.0,114.3 1574.5,114.9 1574.0,116.0 1574.6,116.4 1574.1,117.4 1574.6,117.9 1574.1,119.0 1574.7,119.4 1574.1,120.4 1574.9,120.8 1574.3,121.8 1574.8,122.4 1574.4,123.3 1575.0,124.0 1574.5,124.9 1575.1,125.4 1574.4,126.4 1575.2,126.9 1574.6,127.9 1575.1,128.4 1574.6,129.5 1575.0,130.0 1574.1,128.9 1575.8,128.8 1574.6,127.1 1576.6,127.8 1574.8,125.8 1576.4,125.7 1575.1,123.8 1577.3,124.7 1575.2,122.1 1577.5,122.4 1576.0,121.1 1577.4,120.9 1576.4,119.2 1578.2,120.0 1576.4,117.8 1577.5,117.5 1576.8,119.0 1578.4,118.2 1576.9,120.5 1578.7,120.2 1576.8,121.9 1578.5,122.0 1577.1,123.7 1578.5,123.4 1576.8,124.7 1578.6,124.9 1577.2,126.7 1579.0,126.0 1577.6,128.1 1579.5,127.8 1577.5,129.6 1579.6,129.4 1577.5,130.7 1579.0,131.1 1577.4,132.1 1579.3,131.9 1578.1,134.2 1579.6,134.1 1578.8,135.0 1578.4,136.0 1578.9,136.3 1578.5,137.5 1579.1,137.8 1578.6,138.8 1579.2,139.3 1578.5,140.5 1579.1,140.8 1578.7,142.0 1579.3,142.3 1578.6,143.5 1579.3,144.0 1578.7,144.9 1579.2,145.4 1578.6,146.5 1579.1,147.1 1578.8,148.1 1579.3,148.4 1578.8,149.4 1579.2,150.0 1578.8,151.1 1579.3,151.5 1578.8,152.4 1579.5,152.9 1578.7,154.0 1579.5,154.4 1578.8,155.4 1579.5,156.1 1579.0,157.1 1579.3,157.4 1578.9,158.6 1579.6,159.1 1578.9,160.0 1579.6,160.5 1578.9,161.6 1579.6,162.2 1579.1,163.0 1579.7,163.5 1579.1,164.5 1579.7,165.1 1579.2,166.1 1579.7,166.6 1579.0,167.6 1579.7,168.0 1579.0,169.3 1579.8,169.6 1579.1,170.5 1579.7,171.1 1579.2,172.1 1579.7,172.6 1579.3,173.6 1579.8,174.2 1579.4,175.3 1579.7,175.7 1579.3,176.8 1579.9,177.2 1579.3,178.1 1579.9,178.6 1579.5,179.7 1579.9,180.1 1579.5,181.3 1580.0,181.8 1579.5,182.7 1579.9,183.2 1579.5,184.2 1580.0,184.7 1579.4,185.8 1580.0,186.3 1579.4,187.3 1580.0,187.8 1579.4,188.7 1580.0,189.2 1579.6,190.2 1580.2,190.7 1579.5,191.7 1580.0,192.2 1579.5,193.3 1580.1,193.7 1579.7,194.9 1580.2,195.4 1579.6,196.4 1580.1,197.0 1579.7,197.9 1580.3,198.3 1579.8,199.4 1580.0,200.0 1580.4,200.7 1579.8,201.7 1580.2,202.1 1579.8,203.1 1580.4,203.6 1579.9,204.7 1580.4,205.2 1579.7,206.0 1580.2,206.6 1579.7,207.5 1580.4,208.2 1579.9,209.2 1580.3,209.5 1580.0,210.5 1580.5,211.1 1579.8,212.1 1580.4,212.7 1579.9,213.6 1580.4,214.2 1580.0,215.1 1580.5,215.6 1579.9,216.7 1580.6,217.0 1579.9,218.2 1580.4,218.6 1579.9,219.7 1580.6,220.2 1579.9,221.1 1580.5,221.7 1580.1,222.6 1580.6,223.2 1580.1,224.1 1580.5,224.7 1579.9,225.6 1580.6,226.0 1580.2,227.0 1580.5,227.6 1580.1,228.6 1580.6,229.1 1580.1,230.2 1580.6,230.6 1580.0,231.5 1580.6,232.1 1580.2,233.0 1580.6,233.6 1580.0,234.7 1580.6,235.1 1580.1,236.2 1580.8,236.7 1580.1,237.6 1580.8,238.0 1580.2,239.0 1580.6,239.6 1580.1,240.7 1580.8,241.1 1580.3,242.1 1580.7,242.5 1580.1,243.6 1580.7,244.2 1580.1,245.1 1580.7,245.5 1580.2,246.7 1580.8,247.0 1580.3,248.1 1580.7,248.7 1580.4,249.6 1580.8,250.2 1580.3,251.0 1580.7,251.7 1580.3,252.6 1580.7,253.0 1580.3,254.2 1580.8,254.7 1580.3,255.5 1581.0,256.1 1580.2,257.1 1580.9,257.5 1580.4,258.7 1581.0,259.1 1580.3,260.1 1580.9,260.6 1580.3,261.7 1581.0,262.2 1580.4,263.2 1581.0,263.7 1580.5,264.6 1581.1,265.2 1580.5,266.2 1581.0,266.5 1580.4,267.6 1580.9,268.2 1580.6,269.2 1581.1,269.7 1580.6,270.6 1581.2,271.0 1580.5,272.2 1581.0,272.6 1580.5,273.6 1581.1,274.2 1580.5,275.2 1581.0,275.7 1580.6,276.7 1581.2,277.1 1580.6,278.0 1581.2,278.7 1580.6,279.7 1581.3,280.1 1580.6,281.1 1581.1,281.6 1580.6,282.5 1581.3,283.2 1580.7,284.2 1581.2,284.7 1580.8,285.6 1581.3,286.0 1580.7,287.0 1581.2,287.6 1580.8,288.7 1581.3,289.0 1581.0,290.0 1580.8,290.8 1581.4,291.3 1580.8,292.4 1581.2,292.8 1580.7,293.9 1581.4,294.3 1580.8,295.4 1581.4,296.0 1580.8,296.9 1581.3,297.4 1580.8,298.4 1581.5,299.0 1580.8,300.0 1581.3,300.5 1580.8,301.3 1581.5,301.9 1580.8,302.9 1581.6,303.4 1581.0,304.4 1581.5,304.9 1580.9,305.9 1581.5,306.4 1580.9,307.4 1581.5,307.9 1580.9,309.0 1581.7,309.4 1581.0,310.4 1581.5,311.0 1581.1,312.0 1581.7,312.5 1581.1,313.4 1581.6,314.0 1581.1,314.9 1581.7,315.5 1581.2,316.6 1581.7,317.0 1581.2,318.0 1581.6,318.4 1581.3,319.5 1581.6,319.9 1581.1,320.9 1581.8,321.6 1581.1,322.4 1581.7,323.1 1581.3,324.1 1581.8,324.4 1581.3,325.6 1581.8,326.1 1581.3,327.1 1581.8,327.4 1581.2,328.5 1581.8,329.0 1581.4,329.9 1582.0,330.6 1581.4,331.6 1581.9,332.0 1581.5,333.0 1582.0,333.5 1581.4,334.5 1581.9,335.0 1581.3,336.1 1581.9,336.5 1581.3,337.5 1582.0,338.0 1581.4,339.0 1582.0,339.5 1581.4,340.7 1581.9,341.1 1581.4,342.0 1582.0,342.5 1581.5,343.7 1582.1,343.9 1581.6,345.1 1581.9,345.7 1581.7,346.7 1582.2,347.1 1581.5,348.1 1582.0,348.6 1581.5,349.6 1582.2,350.2 1581.7,351.2 1582.2,351.6 1581.7,352.6 1582.3,353.1 1581.7,354.0 1582.2,354.7 1581.6,355.7 1582.2,356.1 1581.8,357.1 1582.3,357.5 1581.8,358.6 1582.3,359.1 1582.0,360.0 1581.7,360.8 1582.3,361.3 1581.8,362.3 1582.3,362.8 1581.7,363.8 1582.4,364.3 1581.6,365.4 1582.4,366.0 1581.8,366.9 1582.3,367.5 1581.7,368.5 1582.4,368.9 1581.8,369.9 1582.2,370.4 1581.8,371.4 1582.3,371.8 1581.8,373.0 1582.3,373.4 1581.9,374.4 1582.4,374.9 1581.9,375.8 1582.5,376.3 1581.8,377.4 1582.4,377.9 1581.8,379.0 1582.3,379.5 1581.8,380.4 1582.4,380.8 1581.8,381.8 1582.5,382.5 1581.9,383.4 1582.5,384.0 1581.9,384.9 1582.5,385.5 1581.9,386.5 1582.5,387.0 1582.0,387.9 1582.5,388.5 1581.8,389.3 1582.5,390.0 1582.1,390.9 1582.6,391.5 1581.9,392.4 1582.5,392.8 1582.1,394.0 1582.5,394.4 1582.1,395.5 1582.5,395.9 1581.9,397.0 1582.5,397.4 1582.0,398.3 1582.6,398.9 1582.1,400.0 1582.5,400.3 1582.0,401.5 1582.6,402.0 1582.0,402.8 1582.6,403.3 1582.1,404.5 1582.7,404.9 1582.1,406.1 1582.6,406.5 1582.1,407.5 1582.7,408.0 1582.2,409.0 1582.6,409.6 1582.1,410.5 1582.6,410.9 1582.1,412.1 1582.6,412.5 1582.1,413.5 1582.8,413.9 1582.1,414.9 1582.7,415.4 1582.1,416.4 1582.6,417.1 1582.2,418.1 1582.8,418.4 1582.2,419.4 1582.8,420.1 1582.2,420.9 1582.6,421.5 1582.2,422.6 1582.8,422.9 1582.2,424.1 1582.7,424.6 1582.1,425.6 1582.8,426.0 1582.3,427.1 1582.9,427.5 1582.4,428.6 1582.7,428.9 1582.3,430.1 1582.8,430.5 1582.4,431.6 1582.8,431.9 1582.2,433.1 1583.0,433.6 1582.2,434.6 1582.8,435.0 1582.2,436.1 1582.9,436.6 1582.4,437.6 1582.9,437.9 1582.3,439.1 1582.8,439.4 1582.4,440.4 1583.0,441.0 1582.5,442.0 1582.9,442.4 1582.3,443.5 1582.8,444.1 1582.3,445.1 1583.0,445.4 1582.3,446.6 1582.9,447.1 1582.5,448.2 1583.0,448.6 1582.5,449.5 1582.9,450.0 1582.4,451.0 1582.9,451.5 1582.5,452.5 1583.1,453.2 1582.4,454.1 1583.0,454.5 1582.5,455.5 1582.9,456.2 1582.4,457.1 1583.0,457.5 1582.4,458.7 1583.2,459.1 1582.6,460.1 1583.0,460.6 1582.5,461.7 1583.2,462.2 1582.6,463.1 1583.0,463.6 1582.6,464.5 1583.1,465.1 1582.5,466.1 1583.1,466.6 1582.6,467.6 1583.1,468.2 1582.6,469.0 1583.1,469.6 1582.5,470.6 1583.1,471.2 1582.7,472.0 1583.2,472.6 1582.5,473.6 1583.3,474.2 1582.5,475.1 1583.1,475.6 1582.7,476.5 1583.2,477.2 1582.6,478.1 1583.3,478.7 1582.7,479.5 1583.1,480.1 1582.7,481.2 1583.1,481.6 1582.6,482.7 1583.4,483.1 1582.8,484.2 1583.3,484.7 1582.6,485.6 1583.3,486.2 1583.0,487.0 1583.2,486.5 1582.7,485.2 1583.2,484.8 1582.8,483.9 1583.4,483.3 1582.7,482.3 1583.5,481.9 1583.0,480.7 1583.5,480.3 1583.0,479.2 1583.5,478.8 1583.0,477.7 1583.5,477.4 1583.0,476.2 1583.6,475.7 1582.9,474.8 1583.4,474.2 1582.9,473.2 1583.6,472.8 1583.1,471.7 1583.6,471.3 1583.0,470.2 1583.7,469.7 1583.2,468.6 1583.6,468.2 1583.1,467.1 1583.8,466.8 1583.1,465.5 1583.8,465.1 1583.2,464.1 1583.8,463.7 1583.1,462.5 1583.8,462.2 1583.2,461.0 1583.9,460.6 1583.3,459.5 1583.8,459.0 1583.3,458.0 1583.9,457.7 1583.4,456.5 1583.9,456.0 1583.5,455.0 1584.0,454.7 1583.5,453.4 1583.9,453.1 1583.4,451.9 1584.0,451.4 1583.5,450.4 1584.1,450.1 1583.7,449.0 1584.2,448.4 1583.5,447.5 1584.0,447.1 1583.6,446.0 1584.1,445.6 1583.6,444.4 1584.1,444.0 1583.7,443.0 1584.3,442.4 1583.6,441.3 1584.2,440.9 1584.0,440.0 1584.2,440.7 1583.7,441.7 1584.3,442.1 1583.9,443.1 1584.4,443.6 1583.8,444.7 1584.5,445.1 1584.0,446.2 1584.5,446.7 1583.8,447.7 1584.6,448.1 1584.1,449.2 1584.6,449.6 1583.9,450.7 1584.6,451.1 1584.2,452.1 1584.7,452.5 1584.2,453.7 1584.6,454.3 1584.2,455.2 1584.7,455.6 1584.2,456.8 1584.8,457.3 1584.1,458.2 1584.8,458.7 1584.3,459.7 1584.8,460.1 1584.3,461.3 1584.8,461.7 1584.4,462.7 1585.0,463.2 1584.5,464.3 1585.0,464.8 1584.6,465.7 1585.0,466.2 1584.4,467.2 1585.2,467.8 1584.5,468.7 1585.2,469.3 1584.5,470.2 1585.2,470.7 1584.7,471.9 1585.1,472.2 1584.7,473.4 1585.2,473.7 1584.7,474.8 1585.3,475.4 1584.7,476.4 1585.4,476.7 1584.7,477.7 1585.2,478.2 1584.7,479.3 1585.4,479.9 1584.8,480.7 1585.5,481.4 1585.0,482.4 1585.4,482.8 1585.0,483.8 1585.5,484.2 1584.9,485.3 1585.6,485.8 1585.0,486.8 1585.5,487.4 1585.0,488.2 1585.7,488.8 1585.0,489.8 1585.7,490.4 1585.2,491.4 1585.8,491.7 1585.3,492.8 1585.7,493.4 1585.2,494.4 1585.8,494.9 1585.3,496.0 1585.8,496.4 1585.4,497.3 1585.6,498.0 1585.3,497.2 1585.8,496.5 1585.4,495.6 1585.9,495.1 1585.4,494.2 1585.9,493.5 1585.5,492.5 1586.0,492.2 1585.4,491.0 1586.1,490.7 1585.4,489.6 1586.1,489.2 1585.5,488.2 1585.9,487.6 1585.6,486.5 1586.1,486.0 1585.5,485.0 1586.2,484.5 1585.6,483.7 1586.1,483.2 1585.5,482.0 1586.2,481.5 1585.7,480.6 1586.1,480.2 1585.6,479.2 1586.3,478.6 1585.7,477.6 1586.3,476.9 1585.7,475.9 1586.2,475.7 1585.7,474.5 1586.1,473.9 1585.7,473.1 1586.2,472.5 1585.8,471.6 1586.4,471.0 1585.7,470.1 1586.3,469.5 1585.8,468.4 1586.4,467.9 1585.8,467.0 1586.4,466.5 1585.8,465.4 1586.4,465.1 1585.9,463.9 1586.3,463.4 1585.8,462.5 1586.4,461.9 1586.0,461.0 1586.4,460.4 1585.8,459.5 1586.5,458.9 1585.9,457.9 1586.4,457.4 1586.0,456.5 1586.6,455.9 1586.1,454.8 1586.5,454.5 1586.0,453.5 1586.7,452.8 1586.1,451.9 1586.5,451.4 1586.0,450.4 1586.7,450.0 1586.1,448.9 1586.7,448.5 1586.2,447.3 1586.7,446.9 1586.2,445.9 1586.8,445.5 1586.3,444.4 1586.7,443.9 1586.2,442.9 1586.6,442.3 1586.3,441.4 1586.9,440.9 1586.5,440.0 1586.2,439.2 1586.7,438.7 1586.2,437.6 1586.7,437.1 1586.4,436.1 1586.8,435.6 1586.3,434.7 1586.7,434.1 1586.5,433.1 1586.8,432.6 1586.4,431.6 1587.0,431.0 1586.5,430.2 1587.0,429.7 1586.4,428.6 1587.1,428.1 1586.5,427.1 1587.1,426.7 1586.5,425.5 1587.1,425.2 1586.6,424.2 1587.1,423.6 1586.6,422.7 1587.1,422.0 1586.5,421.1 1587.0,420.7 1586.6,419.7 1587.1,419.1 1586.5,418.1 1587.1,417.6 1586.6,416.7 1587.2,416.2 1586.6,415.2 1587.1,414.5 1586.7,413.6 1587.3,413.2 1586.7,412.0 1587.1,411.6 1586.8,410.6 1587.0,410.0 1587.2,409.3 1586.7,408.4 1587.2,407.9 1586.8,406.8 1587.3,406.5 1586.8,405.4 1587.5,404.8 1586.9,403.9 1587.4,403.2 1587.1,402.3 1587.6,401.8 1586.9,400.8 1587.6,400.4 1587.1,399.4 1587.6,398.8 1587.2,397.8 1587.7,397.2 1587.2,396.3 1587.7,395.8 1587.2,394.9 1587.6,394.2 1587.1,393.3 1587.9,392.7 1587.3,391.8 1587.9,391.1 1587.3,390.1 1587.8,389.8 1587.4,388.8 1588.0,388.2 1587.5,387.1 1588.0,386.7 1587.5,385.7 1588.0,385.2 1587.5,384.3 1587.9,383.6 1587.5,382.5 1588.1,382.2 1587.5,381.2 1588.2,380.7 1587.7,379.7 1588.3,379.2 1587.7,378.3 1588.2,377.7 1587.6,376.6 1588.0,376.0 1588.4,375.4 1587.8,374.4 1588.4,374.0 1587.7,372.8 1588.4,372.4 1587.9,371.3 1588.5,370.8 1587.8,369.7 1588.5,369.3 1587.9,368.3 1588.7,368.0 1588.1,366.9 1588.6,366.4 1588.1,365.3 1588.6,364.9 1588.1,363.7 1588.8,363.3 1588.2,362.4 1588.7,361.8 1588.2,360.9 1588.8,360.4 1588.3,359.3 1588.8,358.7 1588.4,357.9 1588.9,357.2 1588.5,356.2 1589.1,355.7 1588.5,354.8 1588.9,354.4 1588.4,353.2 1589.0,352.8 1588.5,351.8 1589.1,351.2 1588.5,350.1 1589.2,349.8 1588.5,348.8 1589.2,348.2 1588.6,347.3 1589.2,346.7 1588.7,345.6 1589.4,345.3 1588.6,344.1 1589.4,343.8 1588.9,342.8 1589.3,342.3 1588.9,341.2 1589.5,340.6 1588.8,339.6 1589.6,339.2 1588.9,338.3 1589.4,337.6 1588.9,336.7 1589.5,336.2 1589.0,335.1 1589.6,334.8 1589.1,333.6 1589.8,333.1 1589.1,332.2 1589.7,331.8 1589.2,330.6 1589.8,330.1 1589.2,329.2 1589.8,328.7 1589.3,327.5 1589.6,327.0 1589.3,327.8 1590.0,328.4 1589.4,329.5 1589.8,329.9 1589.3,331.0 1589.9,331.5 1589.3,332.3 1590.0,333.0 1589.4,334.0 1589.9,334.3 1589.6,335.4 1590.0,335.9 1589.5,336.9 1590.1,337.5 1589.6,338.5 1590.1,338.9 1589.5,339.9 1590.2,340.4 1589.5,341.5 1590.2,341.9 1589.7,343.0 1590.2,343.5 1589.8,344.6 1590.2,345.0 1589.8,345.9 1590.3,346.6 1589.8,347.6 1590.3,347.9 1589.7,348.9 1590.4,349.6 1589.9,350.6 1590.5,350.9 1589.8,352.0 1590.4,352.5 1590.0,353.5 1590.4,354.1 1589.8,355.0 1590.5,355.5 1590.0,356.6 1590.4,357.0 1590.0,358.1 1590.5,358.4 1590.1,359.6 1590.7,360.1 1590.1,361.2 1590.5,361.6 1590.0,362.5 1590.6,363.1 1590.1,364.1 1590.7,364.5 1590.0,365.5 1590.8,366.2 1590.1,367.2 1590.6,367.6 1590.1,368.6 1590.7,369.1 1590.5,370.0 1590.2,370.9 1590.8,371.3 1590.2,372.5 1590.8,373.0 1590.4,374.0 1590.9,374.3 1590.4,375.4 1591.0,375.8 1590.4,376.9 1590.9,377.5 1590.5,378.5 1590.9,379.1 1590.6,380.0 1590.9,380.4 1590.5,381.5 1591.2,381.9 1590.5,383.1 1591.0,383.5 1590.4,384.4 1591.1,384.9 1590.7,386.1 1591.2,386.4 1590.7,387.6 1591.3,387.9 1590.7,389.0 1591.1,389.5 1590.6,390.6 1591.3,391.1 1590.7,392.0 1591.4,392.5 1590.7,393.7 1591.4,394.1 1590.8,395.1 1591.4,395.6 1591.0,396.6 1591.3,397.2 1590.8,398.3 1591.4,398.7 1590.9,399.7 1591.5,400.1 1591.0,401.2 1591.5,401.6 1590.9,402.6 1591.6,403.1 1591.1,404.2 1591.6,404.7 1591.1,405.7 1591.7,406.4 1591.1,407.3 1591.6,407.7 1591.1,408.8 1591.6,409.3 1591.1,410.3 1591.8,410.8 1591.2,411.7 1591.7,412.3 1591.4,413.5 1591.7,413.8 1591.3,414.9 1591.7,415.3 1591.3,416.3 1591.6,417.0 1591.3,416.1 1591.8,415.6 1591.5,414.5 1592.0,414.1 1591.4,413.0 1592.0,412.5 1591.3,411.5 1591.9,411.1 1591.5,410.0 1591.9,409.6 1591.5,408.6 1592.2,408.2 1591.5,407.2 1592.0,406.5 1591.6,405.5 1592.0,405.0 1591.7,404.1 1592.1,403.7 1591.7,402.5 1592.2,402.0 1591.7,400.9 1592.2,400.6 1591.6,399.6 1592.2,399.1 1591.6,398.2 1592.2,397.6 1591.8,396.5 1592.2,396.1 1591.7,395.1 1592.3,394.6 1591.8,393.5 1592.4,393.1 1591.8,391.9 1592.4,391.5 1591.9,390.6 1592.5,390.0 1592.0,389.1 1592.4,388.5 1592.0,387.5 1592.5,386.9 1592.0,385.9 1592.5,385.6 1591.9,384.4 1592.5,384.1 1592.1,383.0 1592.5,382.4 1592.0,381.4 1592.7,381.0 1592.1,380.0 1592.8,379.4 1592.1,378.4 1592.6,378.0 1592.1,376.9 1592.8,376.4 1592.1,375.5 1592.6,375.0 1592.2,374.0 1592.8,373.5 1592.2,372.5 1592.7,372.0 1592.2,370.8 1593.0,370.5 1592.3,369.5 1592.9,369.0 1592.5,367.8 1592.8,367.5 1592.4,366.3 1592.9,365.9 1592.4,365.0 1593.1,364.4 1592.3,363.4 1593.0,363.0 1592.6,361.8 1592.9,361.5 1592.6,360.3 1593.0,359.9 1592.5,359.0 1593.0,358.3 1592.5,357.3 1593.2,356.8 1592.6,355.9 1593.3,355.4 1592.5,354.3 1593.1,354.0 1592.5,353.0 1593.2,352.4 1592.7,351.4 1593.3,350.8 1593.0,350.0 1592.7,349.1 1593.3,348.7 1592.8,347.6 1593.2,347.1 1592.9,346.1 1593.4,345.7 1593.0,344.7 1593.4,344.2 1592.8,343.0 1593.6,342.6 1592.9,341.6 1593.6,341.2 1593.1,340.1 1593.5,339.6 1593.0,338.5 1593.6,338.2 1593.0,337.1 1593.6,336.5 1593.0,335.6 1593.7,335.0 1593.0,334.1 1593.6,333.6 1593.2,332.5 1593.8,332.0 1593.1,330.9 1593.8,330.4 1593.3,329.4 1593.7,329.0 1593.4,327.9 1593.7,327.4 1593.3,326.4 1593.8,326.0 1593.4,325.0 1593.9,324.6 1593.4,323.5 1593.9,323.0 1593.4,321.9 1594.1,321.4 1593.4,320.5 1594.1,319.9 1593.6,319.0 1593.9,318.4 1593.6,317.5 1594.1,317.0 1593.5,316.0 1594.2,315.5 1593.7,314.5 1594.1,313.9 1593.5,313.0 1594.2,312.5 1593.7,311.3 1594.3,310.8 1594.0,310.0 1593.8,309.2 1594.4,308.6 1593.8,307.5 1594.3,307.2 1593.9,306.2 1594.3,305.5 1593.9,304.5 1594.3,304.1 1594.0,303.0 1594.5,302.5 1593.8,301.4 1594.5,301.0 1594.1,300.1 1594.4,299.6 1594.0,298.5 1594.5,297.9 1593.9,297.0 1594.6,296.6 1594.0,295.6 1594.6,295.0 1594.2,294.0 1594.6,293.6 1594.0,292.5 1594.7,292.1 1594.2,291.1 1594.6,290.4 1594.2,289.6 1594.7,288.9 1594.3,287.8 1594.7,287.5 1594.3,286.3 1594.9,286.0 1594.3,284.9 1594.8,284.3 1594.4,283.4 1594.9,282.8 1594.3,282.0 1594.9,281.5 1594.3,280.4 1595.0,280.0 1594.4,279.0 1595.1,278.3 1594.5,277.3 1595.0,276.9 1594.5,275.9 1595.1,275.3 1594.7,274.5 1595.1,273.9 1594.7,272.7 1595.2,272.2 1594.6,271.3 1595.2,270.9 1594.7,269.9 1595.2,269.4 1594.6,268.3 1595.3,267.7 1594.7,266.9 1595.3,266.4 1594.8,265.3 1595.4,264.9 1594.9,263.9 1595.3,263.4 1594.8,262.3 1595.4,261.7 1595.0,260.8 1595.4,260.2 1594.9,259.2 1595.5,258.7 1595.0,257.8 1595.5,257.2 1595.0,256.3 1595.5,255.7 1595.0,254.8 1595.5,254.3 1595.1,253.3 1595.6,252.7 1595.1,251.6 1595.7,251.2 1595.2,250.2 1595.6,249.7 1595.2,248.8 1595.6,248.1 1595.2,247.0 1595.7,246.6 1595.2,245.8 1595.8,245.1 1595.4,244.2 1595.8,243.5 1595.3,242.5 1595.6,242.0 1595.4,242.9 1596.0,243.4 1595.3,244.3 1595.8,245.0 1595.5,246.0 1595.9,246.5 1595.5,247.4 1596.0,248.0 1595.4,249.0 1596.1,249.5 1595.5,250.3 1596.0,251.0 1595.5,252.0 1596.0,252.4 1595.6,253.5 1596.1,253.9 1595.7,254.9 1596.2,255.4 1595.6,256.5 1596.2,256.9 1595.6,258.1 1596.3,258.4 1595.7,259.4 1596.1,260.1 1595.7,261.1 1596.4,261.4 1595.8,262.6 1596.2,263.1 1595.8,264.0 1596.4,264.6 1595.7,265.5 1596.4,266.0 1595.7,267.2 1596.4,267.6 1595.8,268.5 1596.3,269.0 1595.9,270.1 1596.5,270.5 1595.9,271.6 1596.4,272.0 1596.0,273.2 1596.4,273.7 1595.9,274.7 1596.5,275.2 1596.1,276.2 1596.6,276.6 1596.0,277.6 1596.6,278.1 1596.0,279.1 1596.7,279.7 1596.1,280.6 1596.6,281.2 1596.2,282.3 1596.8,282.7 1596.1,283.6 1596.8,284.1 1596.2,285.3 1596.9,285.7 1596.3,286.6 1596.9,287.3 1596.2,288.2 1596.7,288.8 1596.3,289.8 1596.8,290.2 1596.2,291.3 1597.0,291.8 1596.3,292.8 1597.0,293.2 1596.5,294.2 1596.9,294.7 1596.6,295.9 1597.1,296.4 1596.4,297.3 1597.1,297.7 1596.5,298.9 1597.0,299.3 1596.6,300.2 1597.0,300.8 1596.4,301.7 1597.2,302.3 1596.5,303.4 1597.0,303.9 1596.6,304.9 1597.1,305.3 1596.8,306.3 1597.3,306.9 1596.7,307.8 1597.3,308.5 1596.7,309.5 1597.0,310.0 1597.3,310.5 1596.8,311.6 1597.3,312.2 1596.9,313.1 1597.5,313.5 1596.8,314.5 1597.3,315.0 1596.9,316.2 1597.3,316.7 1597.0,317.7 1597.6,318.0 1597.0,319.2 1597.5,319.7 1596.9,320.6 1597.6,321.1 1597.1,322.0 1597.5,322.7 1597.0,323.6 1597.7,324.1 1597.0,325.2 1597.5,325.6 1597.0,326.7 1597.8,327.1 1597.2,328.1 1597.7,328.6 1597.3,329.6 1597.8,330.1 1597.2,331.1 1597.8,331.6 1597.4,332.6 1597.9,333.2 1597.2,334.1 1597.9,334.6 1597.3,335.5 1598.0,336.0 1597.5,337.1 1598.0,337.6 1597.4,338.5 1597.9,339.0 1597.5,340.1 1598.1,340.7 1597.5,341.6 1598.0,342.1 1597.6,343.2 1598.1,343.6 1597.6,344.7 1598.1,345.1 1597.7,346.1 1598.3,346.6 1597.7,347.7 1598.3,348.2 1597.6,349.1 1598.3,349.6 1597.8,350.7 1598.4,351.2 1597.8,352.2 1598.3,352.7 1597.8,353.7 1598.3,354.1 1597.9,355.2 1598.3,355.6 1597.8,356.5 1598.5,357.0 1597.8,358.0 1598.6,358.6 1598.0,359.6 1598.5,360.1 1598.1,361.1 1598.5,361.7 1598.1,362.7 1598.6,363.0 1598.2,364.2 1598.5,364.6 1598.0,365.7 1598.7,366.0 1598.4,367.0 1598.7,366.5 1598.1,365.4 1598.8,364.9 1598.2,363.8 1598.9,363.3 1598.4,362.2 1598.8,361.8 1598.4,360.7 1599.1,360.3 1598.5,359.2 1598.9,358.7 1598.6,357.8 1599.1,357.2 1598.6,356.3 1599.1,355.8 1598.8,354.9 1599.2,354.3 1598.7,353.4 1599.2,352.8 1598.7,351.8 1599.5,351.3 1598.8,350.1 1599.4,349.8 1598.9,348.8 1599.4,348.3 1598.9,347.3 1599.5,346.8 1599.1,345.7 1599.6,345.1 1599.2,344.3 1599.7,343.6 1599.2,342.7 1599.8,342.1 1599.2,341.2 1599.9,340.7 1599.2,339.6 1599.9,339.2 1599.3,338.3 1599.9,337.8 1599.5,336.7 1600.0,336.2 1599.4,335.0 1600.0,334.5 1599.6,333.6 1600.2,333.2 1599.6,332.2 1600.3,331.7 1599.8,330.7 1600.0,330.0 1600.8,330.1 1599.1,328.1 1601.3,328.2 1599.5,326.5 1601.2,326.6 1599.3,324.8 1601.4,325.5 1599.4,323.6 1601.8,324.0 1599.5,321.8 1601.3,322.0 1599.8,320.3 1601.8,320.7 1600.0,318.6 1601.8,318.7 1600.7,317.3 1602.4,317.8 1600.4,315.8 1602.4,316.3 1600.9,314.4 1601.6,314.0 1601.3,314.8 1602.0,315.4 1601.4,316.4 1601.9,316.9 1601.4,317.8 1602.0,318.4 1601.5,319.4 1602.0,320.0 1601.8,320.8 1602.2,321.5 1601.8,322.3 1602.4,322.9 1601.8,323.9 1602.3,324.5 1601.9,325.6 1602.3,325.9 1602.0,327.0 1602.4,327.4 1602.0,328.6 1602.6,328.9 1602.0,330.0 1602.5,330.5 1602.1,331.6 1602.8,332.0 1602.2,333.2 1602.7,333.6 1602.1,334.5 1602.8,335.1 1602.2,336.2 1603.0,336.5 1602.3,337.5 1602.9,338.0 1602.5,339.1 1603.0,339.5 1602.5,340.5 1603.1,341.2 1602.6,342.2 1603.2,342.7 1602.6,343.6 1603.2,344.2 1603.0,345.0 1602.6,346.1 1603.8,346.4 1602.0,347.4 1604.3,347.2 1602.5,349.1 1604.3,348.9 1602.1,350.8 1604.5,350.5 1602.2,352.6 1604.1,352.5 1602.5,353.8 1604.4,354.0 1602.5,355.6 1604.0,355.5 1602.8,357.1 1604.4,356.9 1602.5,358.0 1604.7,358.1 1603.1,360.2 1604.5,359.4 1602.7,361.1 1604.9,361.6 1603.2,362.9 1604.9,362.8 1602.9,364.5 1604.7,364.6 1602.9,366.1 1604.6,365.9 1604.0,367.0 1604.3,366.3 1603.9,365.4 1604.2,364.8 1603.8,363.8 1604.3,363.4 1604.0,362.4 1604.4,361.8 1603.9,360.8 1604.4,360.3 1604.1,359.4 1604.4,358.9 1604.0,357.7 1604.6,357.3 1603.9,356.3 1604.7,356.0 1604.1,354.9 1604.7,354.4 1604.2,353.3 1604.6,352.9 1604.2,352.0 1604.8,351.5 1604.3,350.3 1604.8,350.0 1604.3,349.0 1604.9,348.5 1604.2,347.4 1604.8,346.8 1604.3,345.9 1604.8,345.3 1604.4,344.3 1604.9,344.0 1604.3,342.8 1604.9,342.3 1604.5,341.4 1605.1,340.9 1604.6,339.9 1605.0,339.3 1604.6,338.3 1605.2,337.8 1604.6,336.8 1605.2,336.3 1604.6,335.3 1605.1,334.9 1604.8,333.8 1605.2,333.4 1604.8,332.4 1605.2,331.8 1604.8,330.8 1605.3,330.3 1604.7,329.4 1605.3,328.8 1604.8,327.8 1605.5,327.4 1605.0,326.4 1605.3,325.8 1605.0,324.8 1605.4,324.4 1605.0,323.5 1605.4,322.8 1605.0,321.8 1605.4,321.3 1604.9,320.4 1605.7,319.8 1605.0,318.8 1605.6,318.5 1605.0,317.4 1605.8,316.9 1605.2,315.9 1605.8,315.4 1605.3,314.3 1605.8,313.8 1605.3,313.0 1605.9,312.3 1605.4,311.4 1605.9,311.0 1605.6,310.0 1606.8,310.5 1604.9,312.1 1607.0,312.2 1605.6,313.7 1607.1,313.5 1605.8,315.2 1607.7,314.9 1605.9,317.2 1607.6,316.6 1607.0,318.0 1608.3,318.0 1605.8,315.7 1607.9,315.9 1606.4,314.5 1608.4,314.4 1606.3,313.2 1608.4,313.3 1606.3,311.3 1608.3,312.1 1606.8,309.8 1608.0,310.6 1606.3,308.8 1608.5,308.7 1606.5,307.4 1608.9,307.5 1606.4,305.6 1608.8,305.9 1606.7,304.4 1608.3,304.3 1606.7,302.3 1608.9,302.3 1607.2,301.3 1608.7,300.9 1608.0,300.0 1607.5,298.6 1609.0,299.2 1607.6,297.6 1609.2,297.4 1606.9,296.1 1609.2,295.8 1607.2,293.9 1608.9,294.4 1607.6,292.5 1608.9,293.0 1607.8,291.6 1609.4,291.8 1607.2,290.0 1609.1,289.6 1607.2,288.2 1609.2,288.7 1607.2,287.0 1609.2,286.6 1607.8,285.4 1609.4,285.6 1607.5,284.0 1609.1,284.1 1608.0,282.1 1609.6,282.2 1607.7,280.6 1609.5,281.3 1607.6,279.6 1609.2,279.5 1608.1,277.7 1609.9,278.1 1607.9,276.0 1608.8,276.0"/>
<polyline fill="none" stroke="#ff0000" stroke-width="3" stroke-linejoin="round" stroke-linecap="round" points="123.8,753.5 128.0,754.5 130.3,753.5 133.8,749.5 134.9,747.7 136.3,745.4 137.9,742.8 139.5,739.9 141.2,736.9 142.9,734.0 144.5,731.1 146.1,728.5 147.5,726.2 149.7,723.0 151.6,720.3 153.5,717.9 155.4,715.4 157.5,712.5 159.2,710.0 161.0,707.2 162.9,704.2 164.8,701.3 166.6,698.4 168.4,695.9 170.0,693.8 173.3,690.2 176.1,687.8 178.8,686.2 182.1,686.2 185.5,685.5 187.1,684.0 188.8,682.0 190.7,679.5 192.7,676.4 195.0,672.5 196.2,670.4 197.4,668.0 198.7,665.3 200.0,662.5 201.4,659.6 202.9,656.6 204.3,653.6 205.8,650.6 207.2,647.7 208.6,645.0 210.0,642.5 211.7,639.6 213.5,636.8 215.3,634.0 217.1,631.4 218.9,628.8 220.6,626.4 222.3,624.1 223.7,622.0 225.0,620.0 227.2,616.2 228.8,613.0 230.0,610.6 231.2,608.8 236.2,608.0 238.8,608.7 241.7,609.8 245.0,611.2 247.9,612.8 251.2,614.6 254.5,616.2 257.5,617.0 260.9,616.8 264.1,615.5 267.5,612.5 269.2,610.5 270.9,608.1 272.7,605.4 274.5,602.4 276.4,599.2 278.2,595.9 280.0,592.5 281.2,590.0 282.5,587.4 283.8,584.6 285.0,581.7 286.2,578.8 287.5,575.9 288.8,573.0 290.0,570.2 291.2,567.5 292.5,565.0 294.1,562.1 295.6,559.3 297.2,556.7 298.8,554.1 300.3,551.6 301.9,549.1 303.4,546.5 305.0,543.8 306.6,540.8 308.2,537.6 309.9,534.3 311.5,531.0 313.1,527.8 314.6,524.9 316.1,522.2 317.5,520.0 320.8,516.0 323.7,513.8 326.2,512.5 329.5,512.2 332.5,513.8 334.6,515.5 336.7,517.9 338.8,521.2 340.0,524.0 341.2,527.3 342.4,530.9 343.7,534.3 345.0,537.5 346.7,540.6 348.5,543.2 350.4,546.1 352.5,550.0 353.6,552.6 354.8,555.5 356.1,558.7 357.3,562.1 358.6,565.5 359.9,568.9 361.2,572.1 362.5,575.0 363.9,578.1 365.4,581.1 366.9,584.0 368.3,586.7 369.7,589.2 371.1,591.6 372.5,593.8 374.8,597.3 377.0,600.5 379.2,602.7 381.2,603.2 382.9,601.9 384.5,599.1 386.0,595.6 387.4,592.3 388.8,590.0 393.8,587.5 396.2,587.9 399.1,588.8 402.5,590.0 405.8,591.0 409.5,592.2 413.2,593.5 416.2,595.0 418.7,596.0 420.2,597.3 422.5,602.5 423.2,604.4 423.9,606.7 424.7,609.2 425.5,611.9 426.4,614.9 427.3,618.0 428.2,621.2 429.1,624.6 430.1,628.0 431.1,631.5 432.0,634.9 433.0,638.4 434.0,641.7 435.0,645.0 435.9,647.8 436.8,650.8 437.7,653.7 438.7,656.8 439.7,659.8 440.7,662.9 441.7,666.0 442.7,669.1 443.6,672.1 444.6,675.2 445.6,678.2 446.5,681.2 447.5,684.1 448.3,687.0 449.2,689.8 450.0,692.5 451.0,696.0 452.0,699.6 453.0,703.1 453.9,706.5 454.7,709.9 455.6,713.2 456.4,716.4 457.2,719.4 457.9,722.4 458.7,725.1 459.3,727.7 460.0,730.0 461.4,734.9 462.6,738.8 463.7,741.9 464.6,744.4 465.5,746.2 468.8,746.2 470.2,743.8 471.9,740.3 473.8,736.2 474.9,733.4 476.2,730.2 477.4,726.9 478.7,723.8 480.0,721.2 483.0,718.1 486.2,715.0 487.8,712.5 489.5,709.6 491.3,706.3 493.1,703.1 495.0,700.0 497.0,697.1 499.1,694.2 501.2,691.4 503.2,688.7 505.0,686.2 507.4,682.0 509.4,678.2 511.2,676.2 513.8,677.9 516.2,682.5 517.4,684.9 518.7,687.8 520.0,691.0 521.3,693.9 522.5,696.2 524.9,699.9 527.5,702.0 531.2,702.9 535.0,703.2 538.1,704.5 541.2,705.0 543.9,703.5 546.7,701.3 549.5,700.0 553.6,702.0 557.5,703.8 559.8,701.9 561.8,698.7 563.8,696.2 568.8,694.5 571.1,696.3 573.7,699.0 576.2,701.2 580.1,702.1 583.8,703.8 585.4,706.0 586.9,708.8 588.4,712.3 590.0,716.2 591.0,718.9 592.1,722.0 593.3,725.4 594.4,728.8 595.5,732.0 596.5,735.0 597.5,737.5 599.4,741.9 601.0,744.9 602.5,747.0 606.2,748.0 608.1,746.4 610.1,743.9 612.5,740.0 613.6,737.7 614.9,735.0 616.1,732.0 617.5,728.9 618.8,725.7 620.0,722.7 621.2,720.0 622.8,716.8 624.2,714.1 625.5,711.5 627.0,708.6 628.8,705.0 629.8,702.7 631.0,700.3 632.3,697.7 633.6,695.0 634.9,692.2 636.2,689.3 637.5,686.3 638.8,683.2 640.0,680.0 641.0,677.3 641.9,674.4 642.9,671.4 643.8,668.3 644.8,665.2 645.7,662.0 646.6,658.9 647.5,655.8 648.4,652.9 649.2,650.1 650.0,647.5 651.2,643.7 652.3,640.1 653.4,636.8 654.4,633.6 655.4,630.6 656.5,627.7 657.5,625.0 658.9,621.6 660.1,618.8 661.5,616.2 663.0,613.4 665.0,610.0 666.3,607.8 667.8,605.6 669.4,603.1 671.0,600.7 672.8,598.1 674.5,595.5 676.4,592.8 678.2,590.2 680.0,587.5 681.7,585.1 683.5,582.6 685.3,580.1 687.2,577.6 689.1,575.0 690.9,572.4 692.7,569.9 694.4,567.4 696.0,564.9 697.5,562.5 699.1,559.6 700.5,556.7 701.8,553.8 703.0,551.0 704.1,548.2 705.2,545.5 706.3,542.7 707.5,540.0 709.0,536.8 710.4,533.5 711.9,530.2 713.4,527.0 714.8,524.0 716.2,521.2 717.5,518.8 719.6,515.5 721.4,513.2 723.2,511.2 725.0,508.8 726.9,505.7 728.9,502.3 730.8,499.1 732.5,496.2 734.3,493.2 735.8,490.7 737.5,488.8 740.4,486.7 743.8,486.2 746.4,487.9 749.4,490.4 752.5,492.0 755.8,491.8 759.2,490.7 762.5,489.5 765.3,488.4 768.0,487.2 771.2,486.2 774.4,485.8 778.0,485.5 781.7,485.3 785.0,485.0 788.5,484.5 791.6,484.0 795.0,483.8 798.0,484.0 801.2,484.6 804.5,484.9 807.5,484.5 810.1,483.2 812.5,481.2 814.9,478.8 817.5,476.2 819.9,474.1 822.4,471.7 825.1,469.1 827.6,466.5 830.0,463.8 831.8,461.4 833.5,459.0 835.2,456.6 836.8,454.0 838.4,451.4 840.0,448.8 841.7,445.8 843.4,442.6 845.2,439.3 846.9,436.2 848.5,433.4 850.0,431.2 853.8,428.2 857.5,427.0 860.3,425.6 863.2,424.5 866.2,424.5 868.6,425.6 871.1,427.3 873.6,429.7 876.2,432.5 878.0,434.7 879.8,437.1 881.6,439.8 883.4,442.7 885.4,445.7 887.5,448.8 889.2,451.1 891.1,453.6 893.1,456.1 895.1,458.7 897.1,461.4 899.0,464.1 900.8,467.0 902.5,470.0 903.8,472.8 905.1,475.9 906.3,479.1 907.4,482.3 908.5,485.6 909.5,488.8 910.5,491.9 911.5,494.8 912.5,497.5 913.9,500.9 915.2,503.6 916.4,506.1 917.6,508.6 918.8,511.5 920.0,515.0 920.8,517.5 921.5,520.1 922.2,522.9 923.0,525.9 923.8,528.9 924.5,532.0 925.2,535.2 926.0,538.5 926.8,541.7 927.5,545.0 928.2,548.0 928.9,551.1 929.6,554.3 930.3,557.5 931.0,560.7 931.8,564.0 932.5,567.2 933.1,570.5 933.8,573.7 934.4,576.9 935.0,580.0 935.6,583.3 936.2,586.6 936.7,589.9 937.2,593.1 937.7,596.2 938.1,599.4 938.6,602.6 939.0,605.9 939.5,609.2 940.0,612.5 940.5,615.6 940.9,618.8 941.4,622.1 941.8,625.4 942.3,628.7 942.7,632.0 943.2,635.2 943.6,638.4 944.1,641.6 944.5,644.6 945.0,647.5 945.6,651.0 946.1,654.4 946.7,657.7 947.3,660.9 947.9,664.0 948.4,667.0 949.0,669.9 949.5,672.5 950.0,675.0 950.8,678.7 951.5,681.5 952.1,684.1 952.9,686.7 953.8,690.0 954.5,692.9 955.4,696.0 956.3,699.3 957.3,702.7 958.2,706.1 959.2,709.4 960.0,712.5 960.9,716.0 961.9,719.6 962.8,723.0 963.6,726.2 964.4,728.9 965.0,731.0 966.9,733.0 970.0,728.8 970.7,726.3 971.5,723.2 972.4,719.7 973.3,715.9 974.1,712.2 975.0,708.8 975.8,705.5 976.7,702.4 977.6,699.2 978.4,696.1 979.2,693.0 980.0,690.0 980.8,686.6 981.5,683.4 982.1,680.2 982.9,676.6 983.8,672.5 984.3,669.9 985.0,667.0 985.6,664.0 986.4,660.8 987.1,657.6 987.8,654.4 988.6,651.1 989.3,648.0 990.0,645.0 990.8,641.7 991.6,638.3 992.4,634.9 993.2,631.6 994.0,628.3 994.8,625.3 995.5,622.5 996.2,620.0 997.6,616.2 998.8,613.6 999.9,611.0 1001.2,607.5 1002.1,604.8 1002.9,601.9 1003.8,598.7 1004.8,595.3 1005.7,591.9 1006.6,588.4 1007.5,585.0 1008.3,581.9 1009.1,578.7 1009.8,575.4 1010.6,572.1 1011.4,568.8 1012.2,565.7 1013.0,562.7 1013.8,560.0 1014.9,556.1 1016.1,552.8 1017.2,549.7 1018.5,546.7 1020.0,543.8 1021.8,541.0 1023.7,538.5 1025.8,536.0 1027.9,533.3 1030.0,530.0 1031.2,527.6 1032.5,524.9 1033.8,522.1 1035.0,519.1 1036.2,516.1 1037.5,513.2 1038.8,510.3 1040.0,507.5 1041.4,504.5 1042.9,501.4 1044.3,498.4 1045.7,495.5 1047.1,492.7 1048.6,490.0 1050.0,487.5 1052.0,484.3 1054.1,481.3 1056.2,478.6 1058.2,476.1 1060.0,473.8 1062.7,470.5 1065.1,467.7 1067.5,465.0 1070.1,461.9 1072.7,458.7 1075.0,456.2 1079.5,453.8 1083.8,454.5 1085.3,457.1 1087.0,460.8 1088.8,465.0 1089.9,467.7 1091.1,470.7 1092.3,473.9 1093.7,477.0 1095.0,480.0 1096.4,482.9 1097.8,485.9 1099.3,488.8 1100.9,491.4 1102.5,493.8 1105.3,496.9 1108.3,499.4 1111.2,501.2 1114.3,502.6 1117.3,503.5 1120.0,503.8 1123.2,503.2 1126.2,501.2 1128.6,499.0 1131.1,496.0 1133.8,492.5 1135.4,490.1 1137.0,487.6 1138.7,484.9 1140.5,481.9 1142.5,478.8 1144.1,476.3 1145.7,473.6 1147.5,470.8 1149.3,467.9 1151.1,465.1 1153.1,462.5 1155.0,460.0 1157.3,457.4 1159.6,455.1 1162.0,453.0 1164.5,450.8 1167.2,448.6 1170.0,446.2 1172.3,444.3 1174.6,442.3 1177.1,440.2 1179.7,438.0 1182.3,435.9 1184.9,433.9 1187.5,431.9 1190.0,430.0 1192.9,428.0 1196.0,426.0 1199.1,424.1 1202.1,422.3 1205.0,420.6 1207.7,419.0 1210.0,417.5 1213.1,415.4 1215.5,413.9 1217.6,412.3 1220.0,410.0 1221.9,408.0 1223.9,405.8 1225.9,403.4 1228.1,400.8 1230.2,398.0 1232.5,395.0 1234.0,392.9 1235.6,390.6 1237.2,388.2 1238.9,385.8 1240.5,383.3 1242.2,380.6 1244.0,378.0 1245.7,375.3 1247.5,372.5 1249.2,369.8 1251.0,366.9 1253.0,363.8 1254.9,360.7 1256.9,357.5 1258.8,354.4 1260.6,351.6 1262.3,349.0 1263.7,346.8 1265.0,345.0 1270.0,342.5 1271.4,340.8 1273.0,338.5 1274.8,335.9 1276.7,333.1 1278.7,330.3 1280.6,327.5 1282.5,325.0 1284.6,322.3 1286.8,319.6 1288.9,317.0 1291.0,314.5 1293.1,312.2 1295.0,310.0 1297.7,307.0 1300.3,304.4 1302.7,302.0 1305.0,300.0 1307.7,298.1 1310.2,296.7 1312.5,295.0 1314.6,292.5 1316.5,289.6 1318.8,287.5 1323.0,286.6 1327.5,286.2 1331.5,284.5 1335.0,283.0 1340.0,284.5 1342.2,286.3 1344.9,288.7 1347.6,291.2 1350.0,293.0 1352.9,294.1 1356.2,295.0 1358.6,296.2 1361.4,297.7 1364.4,299.4 1367.4,301.1 1370.0,302.5 1373.7,304.4 1377.0,306.0 1380.0,307.5 1383.8,310.2 1387.0,311.2 1388.9,309.2 1390.6,305.7 1392.5,302.5 1394.9,300.4 1397.4,298.6 1400.0,296.2 1401.9,293.9 1403.8,291.2 1405.6,288.2 1407.5,285.0 1409.0,282.4 1410.5,279.6 1412.0,276.7 1413.5,273.5 1415.0,270.0 1416.0,267.3 1417.0,264.4 1418.0,261.4 1419.0,258.2 1420.1,254.9 1421.2,251.3 1422.5,247.5 1423.4,244.9 1424.3,242.1 1425.3,239.2 1426.3,236.2 1427.4,233.1 1428.4,230.0 1429.5,226.9 1430.6,223.8 1431.7,220.7 1432.7,217.8 1433.8,215.0 1435.0,211.7 1436.3,208.4 1437.5,205.2 1438.8,202.0 1440.1,198.9 1441.3,195.9 1442.6,193.0 1443.8,190.2 1445.0,187.5 1446.5,184.2 1448.0,181.1 1449.5,178.1 1451.0,175.2 1452.4,172.5 1453.7,170.0 1455.0,167.5 1456.7,164.3 1458.2,161.3 1459.7,158.6 1461.1,156.1 1462.5,153.8 1464.6,150.4 1466.6,147.6 1468.8,145.0 1471.2,142.3 1473.8,139.7 1476.2,137.5 1479.5,135.2 1482.5,133.8 1487.5,132.5 1491.0,132.5 1495.2,132.8 1498.8,133.8 1500.8,135.7 1502.2,138.4 1503.8,141.2 1505.7,144.2 1507.9,147.2 1510.0,150.0 1512.9,153.4 1516.2,156.2 1519.4,158.3 1522.9,160.2 1526.2,161.2 1529.3,160.7 1532.2,159.2 1535.0,158.0 1539.1,157.3 1542.5,157.0 1546.2,157.0 1548.8,156.3 1551.8,155.2 1555.0,153.8 1558.3,151.9 1561.8,149.7 1565.0,147.5 1567.8,145.3 1570.3,143.1 1572.5,141.2 1577.5,138.8 1581.2,142.5 1581.9,144.5 1582.6,146.7 1583.2,149.5 1584.0,153.0 1585.0,157.5 1585.5,160.0 1586.1,162.8 1586.8,165.9 1587.5,169.2 1588.2,172.6 1588.9,176.1 1589.6,179.7 1590.4,183.1 1591.1,186.5 1591.8,189.6 1592.5,192.5 1593.4,196.1 1594.3,199.3 1595.3,202.3 1596.2,205.2 1597.1,208.1 1598.0,211.0 1599.0,214.1 1600.0,217.5 1600.9,220.5 1601.8,223.8 1602.8,227.4 1603.8,231.1 1604.8,234.7 1605.8,238.2 1606.7,241.5 1607.5,244.4 1608.2,246.9 1608.8,248.8"/>
</g>
<line x1="104.1" x2="124.5" y1="86.9" y2="86.9" stroke="#000" stroke-width="2"/>
<line x1="1744.5" x2="1764.9" y1="86.9" y2="86.9" stroke="#000" stroke-width="2"/>
<text x="97" y="95.6" text-anchor="end" class="ax">660</text>
<text x="1771.3" y="95.6" text-anchor="start" class="ax">660</text>
<line x1="104.1" x2="124.5" y1="144.0" y2="144.0" stroke="#000" stroke-width="2"/>
<line x1="1744.5" x2="1764.9" y1="144.0" y2="144.0" stroke="#000" stroke-width="2"/>
<text x="97" y="152.7" text-anchor="end" class="ax">560</text>
<text x="1771.3" y="152.7" text-anchor="start" class="ax">560</text>
<line x1="104.1" x2="124.5" y1="212.9" y2="212.9" stroke="#000" stroke-width="2"/>
<line x1="1744.5" x2="1764.9" y1="212.9" y2="212.9" stroke="#000" stroke-width="2"/>
<text x="97" y="221.6" text-anchor="end" class="ax">460</text>
<text x="1771.3" y="221.6" text-anchor="start" class="ax">460</text>
<line x1="104.1" x2="124.5" y1="298.8" y2="298.8" stroke="#000" stroke-width="2"/>
<line x1="1744.5" x2="1764.9" y1="298.8" y2="298.8" stroke="#000" stroke-width="2"/>
<text x="97" y="307.5" text-anchor="end" class="ax">360</text>
<text x="1771.3" y="307.5" text-anchor="start" class="ax">360</text>
<line x1="104.1" x2="124.5" y1="412.8" y2="412.8" stroke="#000" stroke-width="2"/>
<line x1="1744.5" x2="1764.9" y1="412.8" y2="412.8" stroke="#000" stroke-width="2"/>
<text x="97" y="421.5" text-anchor="end" class="ax">260</text>
<text x="1771.3" y="421.5" text-anchor="start" class="ax">260</text>
<line x1="104.1" x2="124.5" y1="582.9" y2="582.9" stroke="#000" stroke-width="2"/>
<line x1="1744.5" x2="1764.9" y1="582.9" y2="582.9" stroke="#000" stroke-width="2"/>
<text x="97" y="591.6" text-anchor="end" class="ax">160</text>
<text x="1771.3" y="591.6" text-anchor="start" class="ax">160</text>
<line x1="104.1" x2="124.5" y1="927.1" y2="927.1" stroke="#000" stroke-width="2"/>
<line x1="1744.5" x2="1764.9" y1="927.1" y2="927.1" stroke="#000" stroke-width="2"/>
<text x="97" y="935.8" text-anchor="end" class="ax">60</text>
<text x="1771.3" y="935.8" text-anchor="start" class="ax">60</text>
<line x1="114" x2="124.5" y1="114.0" y2="114.0" stroke="#000" stroke-width="2"/>
<line x1="1744.5" x2="1755" y1="114.0" y2="114.0" stroke="#000" stroke-width="2"/>
<line x1="114" x2="124.5" y1="176.7" y2="176.7" stroke="#000" stroke-width="2"/>
<line x1="1744.5" x2="1755" y1="176.7" y2="176.7" stroke="#000" stroke-width="2"/>
<line x1="114" x2="124.5" y1="253.2" y2="253.2" stroke="#000" stroke-width="2"/>
<line x1="1744.5" x2="1755" y1="253.2" y2="253.2" stroke="#000" stroke-width="2"/>
<line x1="114" x2="124.5" y1="351.2" y2="351.2" stroke="#000" stroke-width="2"/>
<line x1="1744.5" x2="1755" y1="351.2" y2="351.2" stroke="#000" stroke-width="2"/>
<line x1="114" x2="124.5" y1="487.6" y2="487.6" stroke="#000" stroke-width="2"/>
<line x1="1744.5" x2="1755" y1="487.6" y2="487.6" stroke="#000" stroke-width="2"/>
<line x1="114" x2="124.5" y1="714.2" y2="714.2" stroke="#000" stroke-width="2"/>
<line x1="1744.5" x2="1755" y1="714.2" y2="714.2" stroke="#000" stroke-width="2"/>
<line x1="124.0" x2="124.0" y1="927" y2="949.9" stroke="#000" stroke-width="4"/>
<text x="152.6" y="961" text-anchor="middle" class="ax" style="font-size:26.7px">95</text>
<line x1="181.9" x2="181.9" y1="927" y2="949.9" stroke="#000" stroke-width="4"/>
<text x="210.5" y="961" text-anchor="middle" class="ax" style="font-size:26.7px">96</text>
<line x1="239.7" x2="239.7" y1="927" y2="949.9" stroke="#000" stroke-width="4"/>
<text x="268.3" y="961" text-anchor="middle" class="ax" style="font-size:26.7px">97</text>
<line x1="297.6" x2="297.6" y1="927" y2="949.9" stroke="#000" stroke-width="4"/>
<text x="326.2" y="961" text-anchor="middle" class="ax" style="font-size:26.7px">98</text>
<line x1="355.4" x2="355.4" y1="927" y2="949.9" stroke="#000" stroke-width="4"/>
<text x="384.0" y="961" text-anchor="middle" class="ax" style="font-size:26.7px">99</text>
<line x1="413.3" x2="413.3" y1="927" y2="949.9" stroke="#000" stroke-width="4"/>
<text x="441.9" y="961" text-anchor="middle" class="ax" style="font-size:26.7px">00</text>
<line x1="471.1" x2="471.1" y1="927" y2="949.9" stroke="#000" stroke-width="4"/>
<text x="499.7" y="961" text-anchor="middle" class="ax" style="font-size:26.7px">01</text>
<line x1="529.0" x2="529.0" y1="927" y2="949.9" stroke="#000" stroke-width="4"/>
<text x="557.6" y="961" text-anchor="middle" class="ax" style="font-size:26.7px">02</text>
<line x1="586.9" x2="586.9" y1="927" y2="949.9" stroke="#000" stroke-width="4"/>
<text x="615.5" y="961" text-anchor="middle" class="ax" style="font-size:26.7px">03</text>
<line x1="644.7" x2="644.7" y1="927" y2="949.9" stroke="#000" stroke-width="4"/>
<text x="673.3" y="961" text-anchor="middle" class="ax" style="font-size:26.7px">04</text>
<line x1="702.6" x2="702.6" y1="927" y2="949.9" stroke="#000" stroke-width="4"/>
<text x="731.2" y="961" text-anchor="middle" class="ax" style="font-size:26.7px">05</text>
<line x1="760.4" x2="760.4" y1="927" y2="949.9" stroke="#000" stroke-width="4"/>
<text x="789.0" y="961" text-anchor="middle" class="ax" style="font-size:26.7px">06</text>
<line x1="818.3" x2="818.3" y1="927" y2="949.9" stroke="#000" stroke-width="4"/>
<text x="846.9" y="961" text-anchor="middle" class="ax" style="font-size:26.7px">07</text>
<line x1="876.1" x2="876.1" y1="927" y2="949.9" stroke="#000" stroke-width="4"/>
<text x="904.7" y="961" text-anchor="middle" class="ax" style="font-size:26.7px">08</text>
<line x1="934.0" x2="934.0" y1="927" y2="949.9" stroke="#000" stroke-width="4"/>
<text x="962.6" y="961" text-anchor="middle" class="ax" style="font-size:26.7px">09</text>
<line x1="991.9" x2="991.9" y1="927" y2="949.9" stroke="#000" stroke-width="4"/>
<text x="1020.5" y="961" text-anchor="middle" class="ax" style="font-size:26.7px">10</text>
<line x1="1049.7" x2="1049.7" y1="927" y2="949.9" stroke="#000" stroke-width="4"/>
<text x="1078.3" y="961" text-anchor="middle" class="ax" style="font-size:26.7px">11</text>
<line x1="1107.6" x2="1107.6" y1="927" y2="949.9" stroke="#000" stroke-width="4"/>
<text x="1136.2" y="961" text-anchor="middle" class="ax" style="font-size:26.7px">12</text>
<line x1="1165.4" x2="1165.4" y1="927" y2="949.9" stroke="#000" stroke-width="4"/>
<text x="1194.0" y="961" text-anchor="middle" class="ax" style="font-size:26.7px">13</text>
<line x1="1223.3" x2="1223.3" y1="927" y2="949.9" stroke="#000" stroke-width="4"/>
<text x="1251.9" y="961" text-anchor="middle" class="ax" style="font-size:26.7px">14</text>
<line x1="1281.1" x2="1281.1" y1="927" y2="949.9" stroke="#000" stroke-width="4"/>
<text x="1309.7" y="961" text-anchor="middle" class="ax" style="font-size:26.7px">15</text>
<line x1="1339.0" x2="1339.0" y1="927" y2="949.9" stroke="#000" stroke-width="4"/>
<text x="1367.6" y="961" text-anchor="middle" class="ax" style="font-size:26.7px">16</text>
<line x1="1396.9" x2="1396.9" y1="927" y2="949.9" stroke="#000" stroke-width="4"/>
<text x="1425.5" y="961" text-anchor="middle" class="ax" style="font-size:26.7px">17</text>
<line x1="1454.7" x2="1454.7" y1="927" y2="949.9" stroke="#000" stroke-width="4"/>
<text x="1483.3" y="961" text-anchor="middle" class="ax" style="font-size:26.7px">18</text>
<line x1="1512.6" x2="1512.6" y1="927" y2="949.9" stroke="#000" stroke-width="4"/>
<text x="1541.2" y="961" text-anchor="middle" class="ax" style="font-size:26.7px">19</text>
<line x1="1570.4" x2="1570.4" y1="927" y2="949.9" stroke="#000" stroke-width="4"/>
<text x="1599.0" y="961" text-anchor="middle" class="ax" style="font-size:26.7px">20</text>
<line x1="1628.3" x2="1628.3" y1="927" y2="949.9" stroke="#000" stroke-width="4"/>
<text x="1656.9" y="961" text-anchor="middle" class="ax" style="font-size:26.7px">21</text>
<line x1="1686.1" x2="1686.1" y1="927" y2="949.9" stroke="#000" stroke-width="4"/>
<text x="1714.7" y="961" text-anchor="middle" class="ax" style="font-size:26.7px">22</text>
<line x1="1744.0" x2="1744.0" y1="927" y2="949.9" stroke="#000" stroke-width="4"/>
<text x="139" y="66" class="hb" style="font-size:33.1px">Figure 20.</text>
<text x="142" y="121" class="hb" style="font-size:33.4px">S&amp;P 500 HOTELS, RESORTS &amp; CRUISE LINES STOCK PRICE INDEX*</text>
<text x="142" y="157" class="hr" style="font-size:30.4px">(CCL HLT MAR NCLH RCL)</text>
<text x="1617.5" y="292.4" class="hr" style="font-size:25.8px;fill:#0000ff">9/1</text>
<text x="1583" y="916" textLength="147" lengthAdjust="spacingAndGlyphs" class="yd">yardeni.com</text>
<line x1="123.8" x2="178.4" y1="1010.4" y2="1010.4" stroke="#ff0000" stroke-width="3" stroke-linecap="round"/>
<text x="196" y="1020" class="ft">200-day moving average.</text>
<text x="93" y="1047" class="ft">*</text>
<text x="124" y="1047" class="ft">Ratio scale.</text>
<text x="124" y="1074" class="ft">Source: Standard &amp; Poor’s and Haver Analytics.</text>
</svg>
</body></html>
